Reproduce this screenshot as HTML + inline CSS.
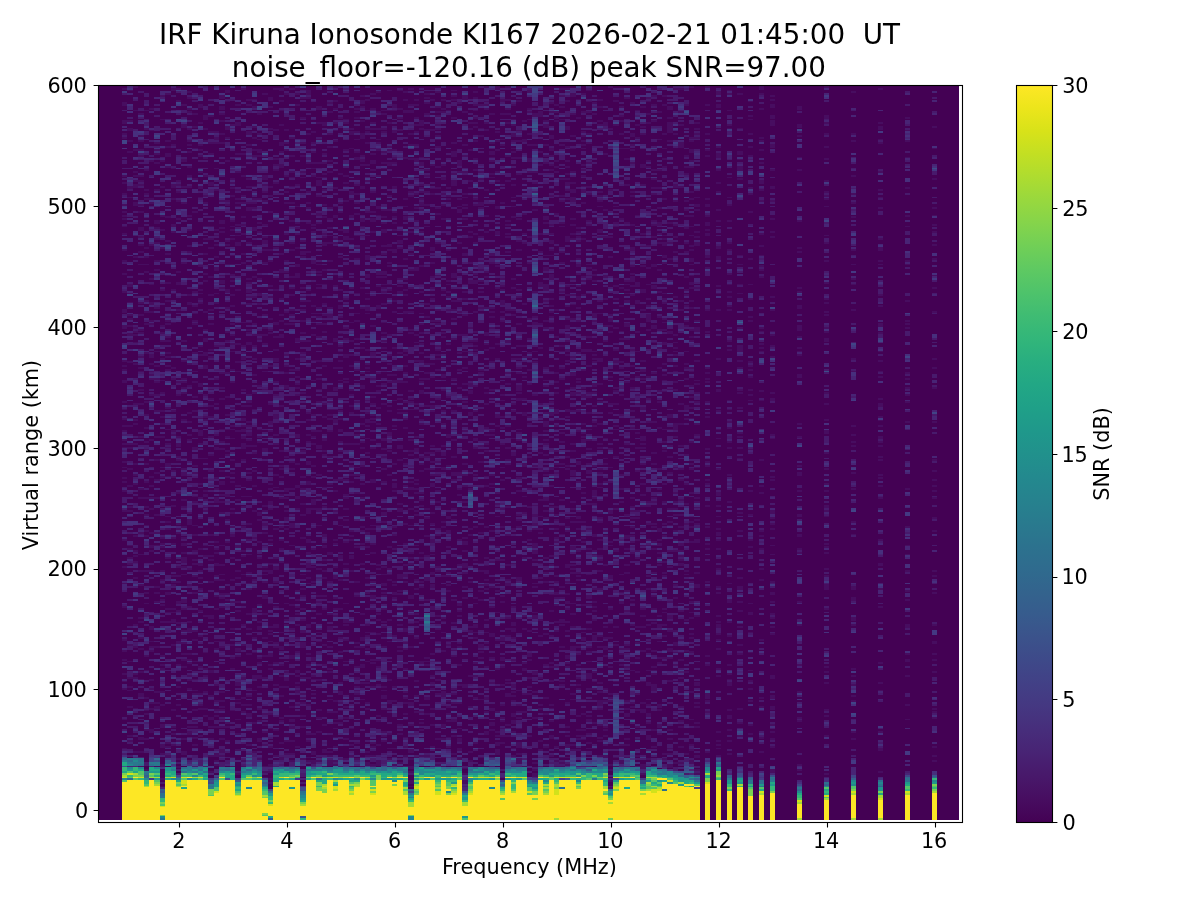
<!DOCTYPE html>
<html lang="en"><head><meta charset="utf-8"><title>IRF Kiruna Ionosonde KI167</title>
<style>html,body{margin:0;padding:0;background:#fff;overflow:hidden}svg{display:block}text{font-family:'DejaVu Sans','Liberation Sans',sans-serif;fill:#000}</style>
</head><body>
<svg width="1200" height="900" viewBox="0 0 1200 900">
<defs><linearGradient id="vg" x1="0" y1="0" x2="0" y2="1"><stop offset="0.000" stop-color="#fde725"/><stop offset="0.031" stop-color="#ece51b"/><stop offset="0.062" stop-color="#d8e219"/><stop offset="0.094" stop-color="#c2df23"/><stop offset="0.125" stop-color="#addc30"/><stop offset="0.156" stop-color="#98d83e"/><stop offset="0.188" stop-color="#84d44b"/><stop offset="0.219" stop-color="#70cf57"/><stop offset="0.250" stop-color="#5ec962"/><stop offset="0.281" stop-color="#4ec36b"/><stop offset="0.312" stop-color="#3fbc73"/><stop offset="0.344" stop-color="#32b67a"/><stop offset="0.375" stop-color="#28ae80"/><stop offset="0.406" stop-color="#22a785"/><stop offset="0.438" stop-color="#1fa088"/><stop offset="0.469" stop-color="#1f988b"/><stop offset="0.500" stop-color="#21918c"/><stop offset="0.531" stop-color="#23898e"/><stop offset="0.562" stop-color="#26828e"/><stop offset="0.594" stop-color="#297a8e"/><stop offset="0.625" stop-color="#2c728e"/><stop offset="0.656" stop-color="#2f6b8e"/><stop offset="0.688" stop-color="#33638d"/><stop offset="0.719" stop-color="#375b8d"/><stop offset="0.750" stop-color="#3b528b"/><stop offset="0.781" stop-color="#3e4989"/><stop offset="0.812" stop-color="#424086"/><stop offset="0.844" stop-color="#453781"/><stop offset="0.875" stop-color="#472d7b"/><stop offset="0.906" stop-color="#482374"/><stop offset="0.938" stop-color="#48186a"/><stop offset="0.969" stop-color="#470d60"/><stop offset="1.000" stop-color="#440154"/></linearGradient></defs>
<rect width="1200" height="900" fill="#fff"/>
<rect x="98.5" y="85.5" width="860.5" height="734.5" fill="#440154" shape-rendering="crispEdges"/>
<g shape-rendering="crispEdges" fill="none" stroke-width="1.8125">
<path stroke="#470d60" d="M608 788.4h5.4M159.8 786.5h5.4M408.2 786.5h5.4M267.8 782.9h5.4M408.2 782.9h5.4M462.2 782.9h5.4M408.2 781.1h5.4M462.2 781.1h5.4M608 781.1h5.4M159.8 779.3h5.4M267.8 779.3h5.4M262.4 777.5h5.4M532.4 775.7h5.4M235.4 773.9h5.4M462.2 773.9h5.4M532.4 773.9h5.4M640.4 773.9h5.4M694.4 773.9h5.4M824 773.9h5.2M208.4 772h5.4M262.4 772h10.8M408.2 772h5.4M769.8 772h5.2M878 772h5.2M143.6 770.2h5.4M532.4 770.2h5.4M608 770.2h5.4M694.4 770.2h5.4M769.8 770.2h5.2M797 770.2h5.2M408.2 768.4h5.4M462.2 768.4h5.4M640.4 768.4h5.4M138.2 766.6h5.4M154.4 766.6h10.8M176 766.6h5.4M230 766.6h5.4M240.8 766.6h5.4M262.4 766.6h10.8M321.8 766.6h5.4M348.8 766.6h5.4M359.6 766.6h5.4M397.4 766.6h5.4M408.2 766.6h5.4M440.6 766.6h5.4M456.8 766.6h5.4M467.6 766.6h5.4M521.6 766.6h5.4M554 766.6h10.8M591.8 766.6h5.4M613.4 766.6h5.4M629.6 766.6h5.4M640.4 766.6h10.8M667.4 766.6h5.4M159.8 764.8h5.4M213.8 764.8h5.4M267.8 764.8h5.4M327.2 764.8h10.8M365 764.8h16.2M392 764.8h5.4M435.2 764.8h5.4M564.8 764.8h5.4M608 764.8h5.4M640.4 764.8h5.4M667.4 764.8h5.4M797 764.8h5.2M311 763h5.4M327.2 763h5.4M365 763h5.4M375.8 763h5.4M397.4 763h5.4M516.2 763h5.4M532.4 763h5.4M559.4 763h5.4M618.8 763h5.4M672.8 763h10.8M689 763h5.4M213.8 761.2h5.4M240.8 761.2h5.4M289.4 761.2h5.4M305.6 761.2h16.2M327.2 761.2h10.8M375.8 761.2h5.4M467.6 761.2h5.4M516.2 761.2h5.4M554 761.2h5.4M618.8 761.2h5.4M689 761.2h5.4M932 761.2h5.2M176 759.4h5.4M257 759.4h5.4M278.6 759.4h5.4M300.2 759.4h5.4M343.4 759.4h5.4M354.2 759.4h5.4M386.6 759.4h5.4M408.2 759.4h5.4M456.8 759.4h5.4M516.2 759.4h5.4M645.8 759.4h5.4M662 759.4h5.4M165.2 757.5h5.4M230 757.5h5.4M278.6 757.5h5.4M305.6 757.5h5.4M316.4 757.5h5.4M413.6 757.5h5.4M440.6 757.5h5.4M456.8 757.5h5.4M478.4 757.5h5.4M559.4 757.5h10.8M602.6 757.5h5.4M613.4 757.5h5.4M624.2 757.5h5.4M694.4 757.5h5.4M165.2 755.7h5.4M208.4 755.7h16.2M273.2 755.7h5.4M327.2 755.7h5.4M348.8 755.7h5.4M365 755.7h10.8M402.8 755.7h5.4M419 755.7h10.8M510.8 755.7h5.4M548.6 755.7h5.4M597.2 755.7h10.8M635 755.7h5.4M694.4 755.7h5.4M715.8 755.7h5.2M932 755.7h5.2M159.8 753.9h5.4M181.4 753.9h5.4M213.8 753.9h5.4M284 753.9h10.8M311 753.9h5.4M451.4 753.9h5.4M494.6 753.9h5.4M516.2 753.9h5.4M662 753.9h10.8M683.6 753.9h5.4M726.6 753.9h5.2M132.8 752.1h10.8M181.4 752.1h5.4M219.2 752.1h5.4M251.6 752.1h5.4M311 752.1h5.4M321.8 752.1h10.8M365 752.1h5.4M408.2 752.1h5.4M467.6 752.1h5.4M494.6 752.1h5.4M564.8 752.1h5.4M705 752.1h5.2M759 752.1h5.2M219.2 750.3h5.4M235.4 750.3h5.4M321.8 750.3h5.4M408.2 750.3h5.4M456.8 750.3h5.4M494.6 750.3h5.4M537.8 750.3h5.4M570.2 750.3h10.8M689 750.3h5.4M878 750.3h5.2M122 748.5h5.4M386.6 748.5h10.8M435.2 748.5h5.4M456.8 748.5h5.4M510.8 748.5h5.4M521.6 748.5h5.4M586.4 748.5h10.8M618.8 748.5h5.4M667.4 748.5h5.4M715.8 748.5h5.2M878 748.5h5.2M159.8 746.7h10.8M267.8 746.7h5.4M294.8 746.7h5.4M332.6 746.7h5.4M370.4 746.7h5.4M402.8 746.7h5.4M429.8 746.7h5.4M446 746.7h5.4M516.2 746.7h5.4M543.2 746.7h5.4M554 746.7h5.4M564.8 746.7h5.4M651.2 746.7h5.4M678.2 746.7h5.4M769.8 746.7h5.2M932 746.7h5.2M159.8 744.9h5.4M170.6 744.9h5.4M192.2 744.9h5.4M246.2 744.9h5.4M262.4 744.9h5.4M348.8 744.9h5.4M375.8 744.9h5.4M494.6 744.9h5.4M516.2 744.9h5.4M564.8 744.9h10.8M602.6 744.9h5.4M618.8 744.9h10.8M689 744.9h5.4M715.8 744.9h5.2M165.2 743h5.4M278.6 743h5.4M354.2 743h5.4M370.4 743h5.4M473 743h5.4M494.6 743h10.8M516.2 743h5.4M586.4 743h5.4M127.4 741.2h5.4M176 741.2h5.4M224.6 741.2h5.4M257 741.2h5.4M284 741.2h10.8M305.6 741.2h5.4M381.2 741.2h5.4M392 741.2h5.4M456.8 741.2h5.4M537.8 741.2h5.4M597.2 741.2h5.4M715.8 741.2h5.2M726.6 741.2h5.2M138.2 739.4h10.8M181.4 739.4h5.4M208.4 739.4h5.4M219.2 739.4h5.4M257 739.4h5.4M343.4 739.4h5.4M435.2 739.4h10.8M456.8 739.4h5.4M521.6 739.4h5.4M554 739.4h5.4M575.6 739.4h10.8M624.2 739.4h5.4M635 739.4h5.4M645.8 739.4h5.4M667.4 739.4h5.4M769.8 739.4h5.2M851 739.4h5.2M138.2 737.6h5.4M192.2 737.6h5.4M332.6 737.6h5.4M402.8 737.6h5.4M446 737.6h5.4M473 737.6h5.4M548.6 737.6h5.4M597.2 737.6h5.4M645.8 737.6h5.4M759 737.6h5.2M127.4 735.8h5.4M197.6 735.8h5.4M381.2 735.8h5.4M451.4 735.8h5.4M494.6 735.8h16.2M527 735.8h5.4M548.6 735.8h5.4M564.8 735.8h5.4M575.6 735.8h10.8M602.6 735.8h5.4M645.8 735.8h5.4M737.4 735.8h5.2M824 735.8h5.2M170.6 734h5.4M186.8 734h5.4M235.4 734h5.4M305.6 734h10.8M386.6 734h5.4M397.4 734h5.4M483.8 734h5.4M586.4 734h5.4M656.6 734h5.4M748.2 734h5.2M149 732.2h5.4M186.8 732.2h5.4M262.4 732.2h5.4M316.4 732.2h5.4M381.2 732.2h5.4M483.8 732.2h5.4M494.6 732.2h5.4M510.8 732.2h5.4M715.8 732.2h5.2M769.8 732.2h5.2M851 732.2h5.2M878 732.2h5.2M143.6 730.4h10.8M273.2 730.4h5.4M419 730.4h5.4M489.2 730.4h5.4M575.6 730.4h10.8M602.6 730.4h5.4M618.8 730.4h5.4M635 730.4h5.4M651.2 730.4h5.4M667.4 730.4h5.4M726.6 730.4h5.2M240.8 728.5h5.4M267.8 728.5h5.4M289.4 728.5h5.4M332.6 728.5h5.4M348.8 728.5h5.4M397.4 728.5h5.4M456.8 728.5h5.4M500 728.5h5.4M516.2 728.5h5.4M618.8 728.5h5.4M159.8 726.7h5.4M170.6 726.7h5.4M186.8 726.7h10.8M208.4 726.7h21.6M289.4 726.7h5.4M300.2 726.7h5.4M440.6 726.7h5.4M537.8 726.7h5.4M564.8 726.7h5.4M602.6 726.7h5.4M635 726.7h5.4M656.6 726.7h5.4M678.2 726.7h5.4M694.4 726.7h5.4M159.8 724.9h5.4M262.4 724.9h5.4M321.8 724.9h5.4M397.4 724.9h5.4M408.2 724.9h5.4M429.8 724.9h5.4M440.6 724.9h5.4M489.2 724.9h5.4M505.4 724.9h5.4M597.2 724.9h5.4M656.6 724.9h5.4M748.2 724.9h5.2M769.8 724.9h5.2M224.6 723.1h5.4M251.6 723.1h5.4M332.6 723.1h10.8M419 723.1h5.4M489.2 723.1h5.4M510.8 723.1h5.4M591.8 723.1h5.4M645.8 723.1h5.4M694.4 723.1h5.4M737.4 723.1h5.2M192.2 721.3h5.4M257 721.3h5.4M278.6 721.3h5.4M289.4 721.3h5.4M375.8 721.3h5.4M446 721.3h10.8M500 721.3h5.4M510.8 721.3h5.4M548.6 721.3h5.4M586.4 721.3h5.4M678.2 721.3h5.4M797 721.3h5.2M122 719.5h5.4M208.4 719.5h5.4M219.2 719.5h5.4M235.4 719.5h5.4M289.4 719.5h5.4M332.6 719.5h10.8M402.8 719.5h5.4M451.4 719.5h5.4M554 719.5h5.4M586.4 719.5h5.4M689 719.5h5.4M715.8 719.5h5.2M905 719.5h5.2M208.4 717.7h5.4M278.6 717.7h5.4M316.4 717.7h5.4M343.4 717.7h5.4M500 717.7h5.4M516.2 717.7h5.4M532.4 717.7h5.4M726.6 717.7h5.2M797 717.7h5.2M932 717.7h5.2M203 715.9h5.4M213.8 715.9h5.4M246.2 715.9h5.4M300.2 715.9h5.4M375.8 715.9h5.4M510.8 715.9h5.4M575.6 715.9h5.4M586.4 715.9h5.4M624.2 715.9h5.4M645.8 715.9h5.4M726.6 715.9h5.2M824 715.9h5.2M143.6 714h5.4M246.2 714h5.4M262.4 714h10.8M402.8 714h5.4M424.4 714h5.4M446 714h5.4M510.8 714h5.4M543.2 714h5.4M581 714h5.4M624.2 714h5.4M645.8 714h5.4M678.2 714h5.4M240.8 712.2h5.4M327.2 712.2h10.8M413.6 712.2h10.8M483.8 712.2h5.4M494.6 712.2h5.4M516.2 712.2h10.8M640.4 712.2h5.4M705 712.2h5.2M932 712.2h5.2M143.6 710.4h5.4M170.6 710.4h5.4M192.2 710.4h5.4M213.8 710.4h10.8M230 710.4h5.4M316.4 710.4h5.4M338 710.4h5.4M489.2 710.4h5.4M635 710.4h10.8M656.6 710.4h5.4M726.6 710.4h5.2M824 710.4h5.2M132.8 708.6h5.4M149 708.6h10.8M197.6 708.6h10.8M257 708.6h5.4M348.8 708.6h5.4M365 708.6h5.4M381.2 708.6h5.4M429.8 708.6h5.4M489.2 708.6h5.4M537.8 708.6h5.4M548.6 708.6h5.4M597.2 708.6h5.4M624.2 708.6h5.4M737.4 708.6h5.2M769.8 708.6h5.2M932 708.6h5.2M127.4 706.8h5.4M154.4 706.8h5.4M219.2 706.8h5.4M289.4 706.8h5.4M343.4 706.8h5.4M446 706.8h5.4M467.6 706.8h5.4M629.6 706.8h5.4M656.6 706.8h5.4M678.2 706.8h5.4M694.4 706.8h5.4M759 706.8h5.2M769.8 706.8h5.2M159.8 705h5.4M176 705h5.4M197.6 705h5.4M240.8 705h10.8M294.8 705h5.4M305.6 705h5.4M408.2 705h5.4M500 705h5.4M516.2 705h5.4M537.8 705h5.4M548.6 705h5.4M597.2 705h5.4M645.8 705h5.4M656.6 705h5.4M905 705h5.2M149 703.2h10.8M235.4 703.2h5.4M300.2 703.2h5.4M338 703.2h5.4M365 703.2h5.4M386.6 703.2h5.4M402.8 703.2h10.8M451.4 703.2h10.8M564.8 703.2h5.4M597.2 703.2h5.4M629.6 703.2h5.4M640.4 703.2h5.4M694.4 703.2h5.4M213.8 701.4h10.8M332.6 701.4h5.4M386.6 701.4h10.8M446 701.4h5.4M510.8 701.4h5.4M597.2 701.4h16.2M624.2 701.4h5.4M705 701.4h5.2M748.2 701.4h5.2M851 701.4h5.2M192.2 699.5h5.4M235.4 699.5h5.4M289.4 699.5h5.4M327.2 699.5h5.4M359.6 699.5h5.4M424.4 699.5h5.4M478.4 699.5h10.8M570.2 699.5h5.4M581 699.5h5.4M629.6 699.5h5.4M645.8 699.5h5.4M143.6 697.7h5.4M240.8 697.7h5.4M300.2 697.7h5.4M381.2 697.7h5.4M402.8 697.7h5.4M424.4 697.7h5.4M473 697.7h5.4M483.8 697.7h5.4M543.2 697.7h5.4M608 697.7h5.4M705 697.7h5.2M759 697.7h5.2M769.8 697.7h5.2M138.2 695.9h5.4M208.4 695.9h5.4M246.2 695.9h5.4M278.6 695.9h5.4M381.2 695.9h5.4M413.6 695.9h5.4M440.6 695.9h5.4M505.4 695.9h10.8M705 695.9h5.2M769.8 695.9h5.2M851 695.9h5.2M138.2 694.1h5.4M192.2 694.1h10.8M300.2 694.1h5.4M311 694.1h5.4M338 694.1h5.4M354.2 694.1h5.4M435.2 694.1h10.8M451.4 694.1h5.4M505.4 694.1h5.4M521.6 694.1h10.8M570.2 694.1h5.4M608 694.1h5.4M635 694.1h5.4M705 694.1h5.2M154.4 692.3h10.8M203 692.3h5.4M219.2 692.3h5.4M294.8 692.3h5.4M338 692.3h5.4M402.8 692.3h5.4M440.6 692.3h5.4M510.8 692.3h5.4M532.4 692.3h5.4M597.2 692.3h5.4M689 692.3h5.4M797 692.3h5.2M127.4 690.5h5.4M192.2 690.5h5.4M251.6 690.5h5.4M294.8 690.5h5.4M354.2 690.5h5.4M381.2 690.5h5.4M483.8 690.5h5.4M516.2 690.5h5.4M651.2 690.5h5.4M878 690.5h5.2M122 688.7h5.4M149 688.7h5.4M186.8 688.7h5.4M246.2 688.7h5.4M429.8 688.7h5.4M451.4 688.7h5.4M575.6 688.7h5.4M586.4 688.7h10.8M602.6 688.7h5.4M651.2 688.7h5.4M748.2 688.7h5.2M127.4 686.9h5.4M176 686.9h5.4M257 686.9h5.4M278.6 686.9h10.8M294.8 686.9h5.4M354.2 686.9h5.4M370.4 686.9h5.4M381.2 686.9h5.4M392 686.9h5.4M462.2 686.9h5.4M510.8 686.9h5.4M527 686.9h5.4M651.2 686.9h5.4M213.8 685h5.4M235.4 685h5.4M273.2 685h5.4M375.8 685h5.4M456.8 685h10.8M500 685h5.4M510.8 685h5.4M559.4 685h5.4M575.6 685h5.4M645.8 685h10.8M694.4 685h5.4M726.6 685h5.2M851 685h5.2M235.4 683.2h5.4M294.8 683.2h5.4M338 683.2h5.4M359.6 683.2h10.8M429.8 683.2h5.4M489.2 683.2h5.4M505.4 683.2h5.4M597.2 683.2h5.4M645.8 683.2h5.4M694.4 683.2h5.4M726.6 683.2h5.2M824 683.2h5.2M878 683.2h5.2M122 681.4h5.4M176 681.4h5.4M300.2 681.4h5.4M413.6 681.4h5.4M548.6 681.4h5.4M559.4 681.4h5.4M591.8 681.4h5.4M613.4 681.4h5.4M640.4 681.4h5.4M667.4 681.4h5.4M748.2 681.4h5.2M138.2 679.6h5.4M149 679.6h5.4M186.8 679.6h10.8M240.8 679.6h5.4M284 679.6h5.4M311 679.6h10.8M354.2 679.6h5.4M365 679.6h5.4M386.6 679.6h5.4M435.2 679.6h5.4M489.2 679.6h5.4M505.4 679.6h5.4M726.6 679.6h5.2M127.4 677.8h10.8M240.8 677.8h5.4M251.6 677.8h16.2M284 677.8h5.4M300.2 677.8h10.8M354.2 677.8h5.4M527 677.8h5.4M537.8 677.8h5.4M575.6 677.8h5.4M586.4 677.8h5.4M678.2 677.8h5.4M769.8 677.8h5.2M186.8 676h5.4M203 676h5.4M251.6 676h10.8M278.6 676h5.4M294.8 676h5.4M311 676h5.4M381.2 676h5.4M429.8 676h5.4M467.6 676h10.8M586.4 676h5.4M715.8 676h5.2M769.8 676h5.2M851 676h5.2M905 676h5.2M122 674.2h5.4M132.8 674.2h5.4M532.4 674.2h5.4M586.4 674.2h5.4M651.2 674.2h5.4M726.6 674.2h5.2M138.2 672.4h5.4M208.4 672.4h5.4M284 672.4h5.4M294.8 672.4h5.4M327.2 672.4h5.4M532.4 672.4h5.4M591.8 672.4h5.4M624.2 672.4h5.4M635 672.4h5.4M683.6 672.4h5.4M824 672.4h5.2M932 672.4h5.2M143.6 670.5h5.4M208.4 670.5h5.4M294.8 670.5h5.4M386.6 670.5h5.4M413.6 670.5h5.4M473 670.5h5.4M521.6 670.5h5.4M618.8 670.5h5.4M629.6 670.5h5.4M645.8 670.5h10.8M748.2 670.5h5.2M159.8 668.7h5.4M203 668.7h5.4M230 668.7h5.4M267.8 668.7h5.4M327.2 668.7h5.4M402.8 668.7h5.4M494.6 668.7h5.4M521.6 668.7h5.4M715.8 668.7h5.2M851 668.7h5.2M181.4 666.9h5.4M197.6 666.9h5.4M354.2 666.9h10.8M375.8 666.9h5.4M392 666.9h5.4M483.8 666.9h5.4M500 666.9h5.4M548.6 666.9h10.8M564.8 666.9h5.4M608 666.9h5.4M624.2 666.9h5.4M651.2 666.9h5.4M824 666.9h5.2M159.8 665.1h5.4M176 665.1h5.4M267.8 665.1h5.4M278.6 665.1h5.4M305.6 665.1h5.4M321.8 665.1h5.4M359.6 665.1h5.4M424.4 665.1h5.4M456.8 665.1h5.4M543.2 665.1h5.4M575.6 665.1h5.4M618.8 665.1h5.4M672.8 665.1h5.4M705 665.1h5.2M726.6 665.1h5.2M797 665.1h5.2M186.8 663.3h5.4M257 663.3h5.4M273.2 663.3h5.4M370.4 663.3h5.4M419 663.3h5.4M473 663.3h5.4M521.6 663.3h5.4M548.6 663.3h5.4M564.8 663.3h5.4M656.6 663.3h5.4M878 663.3h5.2M127.4 661.5h5.4M192.2 661.5h5.4M240.8 661.5h5.4M343.4 661.5h5.4M365 661.5h5.4M413.6 661.5h16.2M435.2 661.5h5.4M586.4 661.5h5.4M672.8 661.5h5.4M905 661.5h5.2M122 659.7h5.4M181.4 659.7h10.8M311 659.7h5.4M370.4 659.7h10.8M500 659.7h5.4M510.8 659.7h5.4M527 659.7h5.4M624.2 659.7h5.4M678.2 659.7h5.4M905 659.7h5.2M932 659.7h5.2M230 657.9h5.4M257 657.9h5.4M289.4 657.9h5.4M311 657.9h5.4M338 657.9h5.4M424.4 657.9h5.4M478.4 657.9h5.4M489.2 657.9h5.4M500 657.9h5.4M564.8 657.9h5.4M635 657.9h5.4M656.6 657.9h16.2M143.6 656h5.4M159.8 656h5.4M235.4 656h5.4M262.4 656h10.8M289.4 656h5.4M451.4 656h5.4M527 656h5.4M564.8 656h5.4M602.6 656h5.4M705 656h5.2M181.4 654.2h10.8M246.2 654.2h5.4M267.8 654.2h5.4M305.6 654.2h5.4M429.8 654.2h5.4M527 654.2h5.4M575.6 654.2h5.4M618.8 654.2h5.4M737.4 654.2h5.2M905 654.2h5.2M932 654.2h5.2M203 652.4h5.4M251.6 652.4h5.4M294.8 652.4h5.4M338 652.4h5.4M478.4 652.4h5.4M586.4 652.4h5.4M672.8 652.4h10.8M689 652.4h5.4M748.2 652.4h5.2M122 650.6h5.4M143.6 650.6h10.8M235.4 650.6h5.4M397.4 650.6h5.4M440.6 650.6h5.4M451.4 650.6h5.4M570.2 650.6h5.4M640.4 650.6h5.4M651.2 650.6h5.4M667.4 650.6h5.4M683.6 650.6h5.4M138.2 648.8h5.4M213.8 648.8h5.4M235.4 648.8h5.4M278.6 648.8h5.4M365 648.8h5.4M402.8 648.8h5.4M570.2 648.8h5.4M602.6 648.8h5.4M618.8 648.8h10.8M645.8 648.8h5.4M667.4 648.8h5.4M715.8 648.8h5.2M132.8 647h5.4M149 647h10.8M219.2 647h5.4M273.2 647h10.8M300.2 647h5.4M327.2 647h5.4M354.2 647h10.8M381.2 647h5.4M397.4 647h5.4M408.2 647h5.4M456.8 647h5.4M478.4 647h5.4M559.4 647h5.4M570.2 647h10.8M586.4 647h5.4M597.2 647h10.8M127.4 645.2h5.4M170.6 645.2h5.4M230 645.2h5.4M240.8 645.2h5.4M300.2 645.2h5.4M321.8 645.2h5.4M365 645.2h5.4M446 645.2h5.4M478.4 645.2h5.4M581 645.2h5.4M613.4 645.2h5.4M624.2 645.2h5.4M672.8 645.2h5.4M737.4 645.2h5.2M176 643.4h10.8M273.2 643.4h5.4M300.2 643.4h5.4M354.2 643.4h5.4M402.8 643.4h5.4M456.8 643.4h5.4M483.8 643.4h5.4M635 643.4h5.4M672.8 643.4h5.4M932 643.4h5.2M149 641.5h5.4M176 641.5h5.4M213.8 641.5h10.8M267.8 641.5h5.4M316.4 641.5h5.4M348.8 641.5h5.4M386.6 641.5h5.4M435.2 641.5h5.4M446 641.5h5.4M645.8 641.5h5.4M656.6 641.5h5.4M932 641.5h5.2M122 639.7h5.4M192.2 639.7h5.4M343.4 639.7h5.4M359.6 639.7h5.4M494.6 639.7h10.8M581 639.7h5.4M591.8 639.7h5.4M678.2 639.7h5.4M715.8 639.7h5.2M759 639.7h5.2M138.2 637.9h5.4M251.6 637.9h5.4M262.4 637.9h5.4M294.8 637.9h5.4M338 637.9h5.4M359.6 637.9h5.4M413.6 637.9h5.4M473 637.9h5.4M500 637.9h5.4M510.8 637.9h5.4M581 637.9h5.4M591.8 637.9h5.4M602.6 637.9h10.8M689 637.9h5.4M197.6 636.1h5.4M311 636.1h5.4M365 636.1h5.4M392 636.1h5.4M489.2 636.1h5.4M505.4 636.1h5.4M537.8 636.1h5.4M548.6 636.1h5.4M591.8 636.1h10.8M662 636.1h5.4M726.6 636.1h5.2M267.8 634.3h5.4M375.8 634.3h5.4M408.2 634.3h5.4M489.2 634.3h5.4M543.2 634.3h5.4M689 634.3h5.4M715.8 634.3h5.2M769.8 634.3h5.2M127.4 632.5h5.4M170.6 632.5h5.4M278.6 632.5h5.4M300.2 632.5h5.4M316.4 632.5h5.4M365 632.5h10.8M440.6 632.5h5.4M467.6 632.5h10.8M483.8 632.5h5.4M581 632.5h5.4M591.8 632.5h5.4M748.2 632.5h5.2M181.4 630.7h16.2M267.8 630.7h5.4M300.2 630.7h5.4M402.8 630.7h5.4M467.6 630.7h5.4M510.8 630.7h5.4M527 630.7h5.4M554 630.7h5.4M564.8 630.7h5.4M667.4 630.7h10.8M149 628.9h5.4M186.8 628.9h5.4M230 628.9h5.4M246.2 628.9h5.4M257 628.9h5.4M289.4 628.9h5.4M327.2 628.9h5.4M402.8 628.9h5.4M435.2 628.9h5.4M505.4 628.9h10.8M521.6 628.9h5.4M586.4 628.9h5.4M149 627h5.4M176 627h5.4M257 627h5.4M267.8 627h10.8M305.6 627h5.4M327.2 627h5.4M381.2 627h5.4M467.6 627h10.8M570.2 627h5.4M602.6 627h5.4M613.4 627h5.4M635 627h10.8M656.6 627h5.4M715.8 627h5.2M737.4 627h5.2M769.8 627h5.2M905 627h5.2M132.8 625.2h5.4M240.8 625.2h5.4M273.2 625.2h5.4M284 625.2h5.4M294.8 625.2h5.4M305.6 625.2h5.4M343.4 625.2h5.4M365 625.2h5.4M397.4 625.2h5.4M473 625.2h5.4M510.8 625.2h5.4M559.4 625.2h5.4M629.6 625.2h5.4M645.8 625.2h5.4M656.6 625.2h10.8M715.8 625.2h5.2M797 625.2h5.2M851 625.2h5.2M905 625.2h5.2M932 625.2h5.2M176 623.4h5.4M408.2 623.4h5.4M451.4 623.4h5.4M500 623.4h5.4M510.8 623.4h5.4M586.4 623.4h5.4M608 623.4h5.4M624.2 623.4h5.4M651.2 623.4h5.4M138.2 621.6h5.4M159.8 621.6h16.2M186.8 621.6h5.4M257 621.6h5.4M343.4 621.6h10.8M381.2 621.6h5.4M413.6 621.6h5.4M440.6 621.6h5.4M554 621.6h16.2M715.8 621.6h5.2M726.6 621.6h5.2M170.6 619.8h5.4M284 619.8h5.4M300.2 619.8h5.4M343.4 619.8h5.4M375.8 619.8h5.4M386.6 619.8h5.4M419 619.8h5.4M483.8 619.8h5.4M537.8 619.8h5.4M559.4 619.8h5.4M591.8 619.8h5.4M683.6 619.8h5.4M851 619.8h5.2M138.2 618h5.4M208.4 618h5.4M251.6 618h5.4M440.6 618h5.4M505.4 618h5.4M532.4 618h5.4M667.4 618h5.4M689 618h5.4M769.8 618h5.2M851 618h5.2M203 616.2h10.8M332.6 616.2h5.4M435.2 616.2h5.4M456.8 616.2h5.4M521.6 616.2h5.4M532.4 616.2h5.4M640.4 616.2h5.4M656.6 616.2h5.4M667.4 616.2h5.4M694.4 616.2h5.4M715.8 616.2h5.2M246.2 614.4h5.4M262.4 614.4h5.4M294.8 614.4h5.4M316.4 614.4h5.4M327.2 614.4h5.4M359.6 614.4h5.4M375.8 614.4h5.4M413.6 614.4h5.4M570.2 614.4h5.4M748.2 614.4h5.2M769.8 614.4h5.2M165.2 612.5h10.8M251.6 612.5h5.4M494.6 612.5h5.4M532.4 612.5h5.4M629.6 612.5h5.4M662 612.5h5.4M689 612.5h5.4M748.2 612.5h5.2M176 610.7h5.4M197.6 610.7h5.4M235.4 610.7h5.4M251.6 610.7h5.4M408.2 610.7h5.4M456.8 610.7h5.4M548.6 610.7h5.4M591.8 610.7h5.4M624.2 610.7h5.4M678.2 610.7h5.4M737.4 610.7h5.2M165.2 608.9h10.8M181.4 608.9h5.4M213.8 608.9h5.4M251.6 608.9h5.4M300.2 608.9h5.4M321.8 608.9h5.4M332.6 608.9h10.8M370.4 608.9h5.4M381.2 608.9h5.4M429.8 608.9h5.4M564.8 608.9h5.4M608 608.9h5.4M640.4 608.9h5.4M651.2 608.9h5.4M662 608.9h5.4M824 608.9h5.2M122 607.1h5.4M186.8 607.1h5.4M219.2 607.1h5.4M273.2 607.1h5.4M294.8 607.1h5.4M397.4 607.1h5.4M429.8 607.1h5.4M489.2 607.1h5.4M510.8 607.1h5.4M591.8 607.1h5.4M878 607.1h5.2M159.8 605.3h5.4M257 605.3h5.4M289.4 605.3h5.4M456.8 605.3h5.4M554 605.3h5.4M581 605.3h10.8M143.6 603.5h5.4M176 603.5h5.4M240.8 603.5h5.4M267.8 603.5h5.4M284 603.5h5.4M311 603.5h5.4M343.4 603.5h5.4M456.8 603.5h5.4M473 603.5h5.4M489.2 603.5h5.4M564.8 603.5h10.8M618.8 603.5h5.4M629.6 603.5h5.4M748.2 603.5h5.2M154.4 601.7h5.4M176 601.7h10.8M230 601.7h10.8M316.4 601.7h5.4M500 601.7h5.4M564.8 601.7h5.4M591.8 601.7h5.4M618.8 601.7h5.4M667.4 601.7h5.4M689 601.7h5.4M726.6 601.7h5.2M737.4 601.7h5.2M769.8 601.7h5.2M797 601.7h5.2M159.8 599.9h5.4M181.4 599.9h5.4M224.6 599.9h5.4M294.8 599.9h5.4M424.4 599.9h5.4M451.4 599.9h5.4M478.4 599.9h5.4M489.2 599.9h5.4M629.6 599.9h5.4M726.6 599.9h5.2M851 599.9h5.2M905 599.9h5.2M219.2 598h5.4M262.4 598h5.4M332.6 598h5.4M370.4 598h5.4M392 598h5.4M408.2 598h5.4M462.2 598h5.4M473 598h5.4M554 598h10.8M586.4 598h5.4M672.8 598h5.4M851 598h5.2M213.8 596.2h5.4M262.4 596.2h5.4M300.2 596.2h5.4M316.4 596.2h10.8M354.2 596.2h5.4M370.4 596.2h5.4M381.2 596.2h5.4M408.2 596.2h5.4M440.6 596.2h5.4M500 596.2h5.4M586.4 596.2h5.4M651.2 596.2h5.4M165.2 594.4h5.4M219.2 594.4h10.8M294.8 594.4h5.4M392 594.4h10.8M537.8 594.4h5.4M548.6 594.4h21.6M624.2 594.4h5.4M769.8 594.4h5.2M143.6 592.6h5.4M154.4 592.6h5.4M165.2 592.6h5.4M192.2 592.6h5.4M354.2 592.6h5.4M365 592.6h5.4M381.2 592.6h5.4M392 592.6h5.4M554 592.6h5.4M618.8 592.6h5.4M715.8 592.6h5.2M769.8 592.6h5.2M932 592.6h5.2M294.8 590.8h5.4M397.4 590.8h5.4M446 590.8h5.4M478.4 590.8h5.4M494.6 590.8h5.4M624.2 590.8h5.4M651.2 590.8h5.4M905 590.8h5.2M197.6 589h5.4M219.2 589h5.4M246.2 589h5.4M300.2 589h5.4M370.4 589h5.4M413.6 589h5.4M483.8 589h5.4M548.6 589h5.4M591.8 589h10.8M645.8 589h5.4M737.4 589h5.2M824 589h5.2M851 589h5.2M878 589h5.2M154.4 587.2h5.4M419 587.2h5.4M429.8 587.2h5.4M462.2 587.2h5.4M489.2 587.2h5.4M532.4 587.2h5.4M559.4 587.2h5.4M694.4 587.2h5.4M705 587.2h5.2M715.8 587.2h5.2M737.4 587.2h5.2M824 587.2h5.2M851 587.2h5.2M138.2 585.4h5.4M170.6 585.4h5.4M186.8 585.4h5.4M311 585.4h5.4M381.2 585.4h5.4M392 585.4h5.4M429.8 585.4h5.4M446 585.4h5.4M478.4 585.4h10.8M505.4 585.4h5.4M672.8 585.4h5.4M694.4 585.4h5.4M824 585.4h5.2M122 583.5h5.4M159.8 583.5h5.4M246.2 583.5h10.8M305.6 583.5h5.4M332.6 583.5h5.4M365 583.5h5.4M381.2 583.5h5.4M489.2 583.5h5.4M505.4 583.5h5.4M532.4 583.5h10.8M602.6 583.5h10.8M726.6 583.5h5.2M170.6 581.7h10.8M208.4 581.7h5.4M262.4 581.7h5.4M273.2 581.7h5.4M311 581.7h5.4M327.2 581.7h5.4M354.2 581.7h5.4M370.4 581.7h5.4M392 581.7h5.4M402.8 581.7h5.4M419 581.7h5.4M467.6 581.7h5.4M543.2 581.7h5.4M554 581.7h5.4M564.8 581.7h5.4M689 581.7h5.4M705 581.7h5.2M769.8 581.7h5.2M159.8 579.9h5.4M213.8 579.9h10.8M230 579.9h5.4M251.6 579.9h5.4M338 579.9h5.4M386.6 579.9h5.4M413.6 579.9h5.4M424.4 579.9h5.4M483.8 579.9h5.4M505.4 579.9h5.4M516.2 579.9h5.4M575.6 579.9h5.4M759 579.9h5.2M132.8 578.1h5.4M197.6 578.1h5.4M235.4 578.1h5.4M305.6 578.1h5.4M321.8 578.1h5.4M332.6 578.1h5.4M365 578.1h5.4M397.4 578.1h5.4M424.4 578.1h5.4M516.2 578.1h5.4M537.8 578.1h5.4M564.8 578.1h5.4M608 578.1h5.4M737.4 578.1h5.2M170.6 576.3h10.8M192.2 576.3h5.4M213.8 576.3h5.4M246.2 576.3h5.4M257 576.3h5.4M332.6 576.3h5.4M397.4 576.3h10.8M440.6 576.3h10.8M554 576.3h5.4M575.6 576.3h5.4M608 576.3h5.4M645.8 576.3h5.4M662 576.3h5.4M824 576.3h5.2M932 576.3h5.2M181.4 574.5h5.4M219.2 574.5h5.4M240.8 574.5h5.4M262.4 574.5h5.4M300.2 574.5h5.4M381.2 574.5h10.8M397.4 574.5h10.8M429.8 574.5h5.4M586.4 574.5h5.4M618.8 574.5h5.4M683.6 574.5h5.4M726.6 574.5h5.2M246.2 572.7h5.4M267.8 572.7h5.4M429.8 572.7h5.4M446 572.7h5.4M462.2 572.7h5.4M483.8 572.7h5.4M543.2 572.7h5.4M570.2 572.7h10.8M624.2 572.7h5.4M651.2 572.7h5.4M662 572.7h5.4M694.4 572.7h5.4M138.2 570.9h16.2M159.8 570.9h5.4M197.6 570.9h5.4M235.4 570.9h5.4M262.4 570.9h10.8M321.8 570.9h5.4M348.8 570.9h5.4M435.2 570.9h5.4M478.4 570.9h10.8M597.2 570.9h5.4M683.6 570.9h5.4M905 570.9h5.2M932 570.9h5.2M186.8 569h5.4M273.2 569h5.4M316.4 569h5.4M343.4 569h5.4M375.8 569h5.4M386.6 569h5.4M456.8 569h5.4M500 569h5.4M548.6 569h5.4M570.2 569h5.4M715.8 569h5.2M759 569h5.2M824 569h5.2M122 567.2h5.4M176 567.2h10.8M262.4 567.2h5.4M273.2 567.2h5.4M305.6 567.2h10.8M332.6 567.2h5.4M381.2 567.2h5.4M435.2 567.2h5.4M462.2 567.2h5.4M564.8 567.2h5.4M667.4 567.2h5.4M197.6 565.4h5.4M213.8 565.4h10.8M305.6 565.4h5.4M375.8 565.4h5.4M402.8 565.4h5.4M456.8 565.4h10.8M483.8 565.4h5.4M505.4 565.4h5.4M548.6 565.4h5.4M564.8 565.4h10.8M602.6 565.4h5.4M624.2 565.4h5.4M656.6 565.4h5.4M678.2 565.4h5.4M878 565.4h5.2M127.4 563.6h5.4M192.2 563.6h10.8M213.8 563.6h5.4M267.8 563.6h10.8M284 563.6h5.4M305.6 563.6h5.4M316.4 563.6h5.4M343.4 563.6h5.4M359.6 563.6h5.4M408.2 563.6h5.4M462.2 563.6h5.4M478.4 563.6h5.4M510.8 563.6h5.4M537.8 563.6h5.4M678.2 563.6h5.4M878 563.6h5.2M132.8 561.8h5.4M181.4 561.8h5.4M278.6 561.8h5.4M489.2 561.8h5.4M591.8 561.8h5.4M662 561.8h5.4M181.4 560h5.4M192.2 560h5.4M208.4 560h5.4M321.8 560h5.4M413.6 560h5.4M473 560h5.4M494.6 560h10.8M532.4 560h5.4M597.2 560h5.4M678.2 560h5.4M127.4 558.2h5.4M165.2 558.2h5.4M181.4 558.2h5.4M230 558.2h5.4M257 558.2h5.4M273.2 558.2h5.4M338 558.2h5.4M348.8 558.2h5.4M408.2 558.2h5.4M419 558.2h5.4M483.8 558.2h5.4M521.6 558.2h5.4M543.2 558.2h5.4M613.4 558.2h5.4M635 558.2h5.4M656.6 558.2h5.4M132.8 556.4h5.4M203 556.4h10.8M240.8 556.4h5.4M316.4 556.4h5.4M338 556.4h5.4M348.8 556.4h5.4M424.4 556.4h5.4M548.6 556.4h5.4M597.2 556.4h5.4M678.2 556.4h5.4M138.2 554.5h5.4M176 554.5h5.4M186.8 554.5h10.8M246.2 554.5h5.4M289.4 554.5h5.4M305.6 554.5h5.4M327.2 554.5h5.4M429.8 554.5h5.4M516.2 554.5h5.4M575.6 554.5h5.4M591.8 554.5h5.4M608 554.5h5.4M769.8 554.5h5.2M905 554.5h5.2M181.4 552.7h5.4M213.8 552.7h5.4M305.6 552.7h5.4M327.2 552.7h5.4M370.4 552.7h5.4M408.2 552.7h5.4M419 552.7h5.4M532.4 552.7h5.4M629.6 552.7h5.4M656.6 552.7h5.4M797 552.7h5.2M824 552.7h5.2M132.8 550.9h5.4M149 550.9h5.4M192.2 550.9h5.4M240.8 550.9h5.4M462.2 550.9h5.4M532.4 550.9h5.4M554 550.9h5.4M575.6 550.9h5.4M591.8 550.9h5.4M613.4 550.9h5.4M635 550.9h5.4M667.4 550.9h16.2M127.4 549.1h5.4M197.6 549.1h5.4M213.8 549.1h5.4M278.6 549.1h5.4M294.8 549.1h5.4M311 549.1h5.4M392 549.1h5.4M402.8 549.1h5.4M570.2 549.1h5.4M586.4 549.1h5.4M597.2 549.1h5.4M624.2 549.1h5.4M651.2 549.1h5.4M705 549.1h5.2M715.8 549.1h5.2M759 549.1h5.2M797 549.1h5.2M149 547.3h5.4M159.8 547.3h5.4M235.4 547.3h5.4M321.8 547.3h5.4M354.2 547.3h5.4M365 547.3h5.4M386.6 547.3h5.4M446 547.3h5.4M494.6 547.3h5.4M532.4 547.3h5.4M570.2 547.3h5.4M748.2 547.3h5.2M824 547.3h5.2M127.4 545.5h5.4M149 545.5h10.8M181.4 545.5h5.4M203 545.5h5.4M219.2 545.5h5.4M235.4 545.5h5.4M262.4 545.5h5.4M289.4 545.5h5.4M321.8 545.5h5.4M413.6 545.5h5.4M532.4 545.5h5.4M554 545.5h5.4M608 545.5h5.4M618.8 545.5h5.4M640.4 545.5h21.6M678.2 545.5h5.4M769.8 545.5h5.2M905 545.5h5.2M159.8 543.7h5.4M170.6 543.7h5.4M181.4 543.7h5.4M267.8 543.7h5.4M332.6 543.7h5.4M359.6 543.7h5.4M370.4 543.7h5.4M402.8 543.7h5.4M462.2 543.7h5.4M532.4 543.7h5.4M656.6 543.7h5.4M678.2 543.7h5.4M705 543.7h5.2M824 543.7h5.2M213.8 541.9h5.4M224.6 541.9h5.4M240.8 541.9h5.4M257 541.9h5.4M305.6 541.9h5.4M343.4 541.9h5.4M429.8 541.9h5.4M462.2 541.9h5.4M554 541.9h5.4M581 541.9h5.4M608 541.9h5.4M629.6 541.9h5.4M651.2 541.9h5.4M689 541.9h10.8M122 540h5.4M246.2 540h5.4M267.8 540h5.4M278.6 540h5.4M305.6 540h5.4M332.6 540h5.4M348.8 540h5.4M429.8 540h5.4M456.8 540h5.4M527 540h5.4M597.2 540h5.4M635 540h5.4M645.8 540h5.4M656.6 540h5.4M672.8 540h5.4M694.4 540h5.4M715.8 540h5.2M748.2 540h5.2M878 540h5.2M159.8 538.2h5.4M170.6 538.2h5.4M181.4 538.2h5.4M251.6 538.2h5.4M300.2 538.2h5.4M462.2 538.2h5.4M554 538.2h5.4M581 538.2h5.4M624.2 538.2h5.4M132.8 536.4h5.4M143.6 536.4h5.4M230 536.4h5.4M321.8 536.4h5.4M348.8 536.4h5.4M424.4 536.4h5.4M591.8 536.4h5.4M602.6 536.4h5.4M624.2 536.4h10.8M662 536.4h5.4M759 536.4h5.2M797 536.4h5.2M905 536.4h5.2M165.2 534.6h5.4M192.2 534.6h5.4M208.4 534.6h5.4M230 534.6h5.4M321.8 534.6h5.4M365 534.6h5.4M392 534.6h5.4M435.2 534.6h5.4M467.6 534.6h5.4M505.4 534.6h5.4M559.4 534.6h5.4M591.8 534.6h5.4M715.8 534.6h5.2M797 534.6h5.2M851 534.6h5.2M138.2 532.8h5.4M149 532.8h10.8M176 532.8h5.4M262.4 532.8h5.4M365 532.8h5.4M446 532.8h5.4M478.4 532.8h5.4M537.8 532.8h5.4M715.8 532.8h5.2M143.6 531h5.4M348.8 531h5.4M359.6 531h5.4M446 531h5.4M489.2 531h5.4M505.4 531h5.4M527 531h5.4M564.8 531h5.4M581 531h5.4M602.6 531h5.4M656.6 531h5.4M672.8 531h5.4M737.4 531h5.2M759 531h5.2M932 531h5.2M165.2 529.2h5.4M176 529.2h5.4M273.2 529.2h5.4M284 529.2h5.4M365 529.2h10.8M435.2 529.2h5.4M467.6 529.2h5.4M494.6 529.2h5.4M510.8 529.2h5.4M532.4 529.2h10.8M554 529.2h5.4M575.6 529.2h5.4M586.4 529.2h5.4M656.6 529.2h5.4M715.8 529.2h5.2M769.8 529.2h5.2M181.4 527.4h5.4M230 527.4h5.4M240.8 527.4h5.4M278.6 527.4h5.4M289.4 527.4h5.4M359.6 527.4h5.4M392 527.4h5.4M419 527.4h5.4M440.6 527.4h5.4M473 527.4h5.4M483.8 527.4h5.4M500 527.4h5.4M516.2 527.4h5.4M564.8 527.4h5.4M629.6 527.4h5.4M651.2 527.4h5.4M678.2 527.4h5.4M689 527.4h5.4M705 527.4h5.2M905 527.4h5.2M143.6 525.5h5.4M192.2 525.5h5.4M203 525.5h5.4M262.4 525.5h5.4M289.4 525.5h5.4M316.4 525.5h5.4M338 525.5h5.4M370.4 525.5h10.8M408.2 525.5h5.4M527 525.5h16.2M559.4 525.5h5.4M581 525.5h5.4M667.4 525.5h5.4M797 525.5h5.2M176 523.7h5.4M186.8 523.7h5.4M246.2 523.7h5.4M262.4 523.7h5.4M278.6 523.7h5.4M289.4 523.7h5.4M402.8 523.7h5.4M429.8 523.7h5.4M532.4 523.7h5.4M645.8 523.7h10.8M662 523.7h5.4M683.6 523.7h5.4M694.4 523.7h5.4M769.8 523.7h5.2M165.2 521.9h5.4M186.8 521.9h5.4M381.2 521.9h5.4M440.6 521.9h5.4M570.2 521.9h16.2M597.2 521.9h5.4M667.4 521.9h5.4M689 521.9h5.4M851 521.9h5.2M186.8 520.1h5.4M224.6 520.1h5.4M257 520.1h5.4M284 520.1h5.4M343.4 520.1h5.4M451.4 520.1h5.4M516.2 520.1h5.4M554 520.1h5.4M694.4 520.1h5.4M284 518.3h5.4M424.4 518.3h5.4M446 518.3h5.4M543.2 518.3h5.4M564.8 518.3h5.4M575.6 518.3h5.4M597.2 518.3h5.4M629.6 518.3h10.8M769.8 518.3h5.2M932 518.3h5.2M165.2 516.5h5.4M289.4 516.5h5.4M338 516.5h5.4M359.6 516.5h10.8M446 516.5h5.4M494.6 516.5h5.4M532.4 516.5h10.8M575.6 516.5h5.4M715.8 516.5h5.2M797 516.5h5.2M824 516.5h5.2M143.6 514.7h5.4M154.4 514.7h5.4M257 514.7h5.4M300.2 514.7h5.4M381.2 514.7h5.4M413.6 514.7h5.4M516.2 514.7h5.4M532.4 514.7h5.4M554 514.7h5.4M624.2 514.7h5.4M672.8 514.7h10.8M748.2 514.7h5.2M797 514.7h5.2M186.8 512.9h5.4M219.2 512.9h5.4M230 512.9h5.4M257 512.9h5.4M305.6 512.9h5.4M381.2 512.9h5.4M429.8 512.9h5.4M521.6 512.9h5.4M548.6 512.9h5.4M597.2 512.9h5.4M608 512.9h5.4M737.4 512.9h5.2M769.8 512.9h5.2M122 511h10.8M203 511h5.4M251.6 511h5.4M262.4 511h5.4M284 511h5.4M305.6 511h5.4M316.4 511h5.4M332.6 511h5.4M397.4 511h5.4M413.6 511h5.4M543.2 511h5.4M608 511h5.4M629.6 511h10.8M769.8 511h5.2M824 511h5.2M149 509.2h5.4M230 509.2h5.4M267.8 509.2h5.4M294.8 509.2h5.4M305.6 509.2h16.2M343.4 509.2h5.4M397.4 509.2h5.4M408.2 509.2h5.4M424.4 509.2h5.4M451.4 509.2h5.4M500 509.2h5.4M570.2 509.2h5.4M613.4 509.2h5.4M667.4 509.2h10.8M127.4 507.4h5.4M143.6 507.4h5.4M181.4 507.4h5.4M203 507.4h5.4M240.8 507.4h5.4M321.8 507.4h5.4M365 507.4h5.4M478.4 507.4h5.4M505.4 507.4h5.4M527 507.4h5.4M548.6 507.4h10.8M629.6 507.4h5.4M694.4 507.4h5.4M748.2 507.4h5.2M824 507.4h5.2M170.6 505.6h5.4M262.4 505.6h5.4M284 505.6h5.4M419 505.6h5.4M532.4 505.6h5.4M640.4 505.6h10.8M705 505.6h5.2M715.8 505.6h5.2M824 505.6h5.2M267.8 503.8h5.4M300.2 503.8h5.4M311 503.8h5.4M397.4 503.8h5.4M494.6 503.8h5.4M586.4 503.8h10.8M683.6 503.8h5.4M192.2 502h5.4M213.8 502h10.8M267.8 502h5.4M311 502h5.4M435.2 502h5.4M462.2 502h5.4M570.2 502h5.4M618.8 502h5.4M645.8 502h10.8M662 502h5.4M672.8 502h5.4M694.4 502h5.4M726.6 502h5.2M181.4 500.2h5.4M203 500.2h5.4M213.8 500.2h5.4M235.4 500.2h5.4M311 500.2h5.4M419 500.2h5.4M537.8 500.2h10.8M559.4 500.2h5.4M678.2 500.2h5.4M138.2 498.4h21.6M197.6 498.4h5.4M213.8 498.4h5.4M278.6 498.4h10.8M294.8 498.4h5.4M343.4 498.4h5.4M359.6 498.4h5.4M543.2 498.4h5.4M591.8 498.4h5.4M629.6 498.4h5.4M651.2 498.4h5.4M694.4 498.4h5.4M878 498.4h5.2M932 498.4h5.2M192.2 496.5h5.4M203 496.5h5.4M224.6 496.5h5.4M240.8 496.5h10.8M294.8 496.5h5.4M316.4 496.5h5.4M365 496.5h5.4M392 496.5h5.4M408.2 496.5h5.4M473 496.5h5.4M521.6 496.5h5.4M602.6 496.5h5.4M683.6 496.5h5.4M203 494.7h5.4M219.2 494.7h10.8M278.6 494.7h5.4M343.4 494.7h5.4M456.8 494.7h5.4M591.8 494.7h5.4M640.4 494.7h5.4M715.8 494.7h5.2M176 492.9h5.4M354.2 492.9h5.4M413.6 492.9h10.8M494.6 492.9h5.4M581 492.9h5.4M591.8 492.9h5.4M672.8 492.9h5.4M689 492.9h5.4M715.8 492.9h5.2M759 492.9h5.2M122 491.1h5.4M203 491.1h5.4M284 491.1h5.4M332.6 491.1h5.4M392 491.1h5.4M435.2 491.1h5.4M516.2 491.1h5.4M591.8 491.1h5.4M748.2 491.1h5.2M797 491.1h5.2M824 491.1h5.2M932 491.1h5.2M138.2 489.3h5.4M213.8 489.3h5.4M267.8 489.3h5.4M284 489.3h10.8M300.2 489.3h5.4M402.8 489.3h16.2M456.8 489.3h5.4M467.6 489.3h5.4M527 489.3h5.4M618.8 489.3h5.4M656.6 489.3h5.4M851 489.3h5.2M905 489.3h5.2M273.2 487.5h5.4M294.8 487.5h5.4M321.8 487.5h5.4M348.8 487.5h5.4M392 487.5h5.4M408.2 487.5h5.4M478.4 487.5h5.4M489.2 487.5h5.4M532.4 487.5h10.8M597.2 487.5h5.4M127.4 485.7h5.4M149 485.7h5.4M235.4 485.7h5.4M251.6 485.7h5.4M294.8 485.7h5.4M392 485.7h5.4M402.8 485.7h5.4M429.8 485.7h5.4M462.2 485.7h5.4M483.8 485.7h5.4M548.6 485.7h5.4M759 485.7h5.2M878 485.7h5.2M932 485.7h5.2M132.8 483.9h5.4M197.6 483.9h5.4M219.2 483.9h5.4M267.8 483.9h5.4M305.6 483.9h5.4M327.2 483.9h5.4M359.6 483.9h5.4M392 483.9h5.4M413.6 483.9h5.4M429.8 483.9h5.4M489.2 483.9h5.4M597.2 483.9h5.4M640.4 483.9h5.4M662 483.9h5.4M683.6 483.9h5.4M705 483.9h5.2M824 483.9h5.2M122 482h5.4M143.6 482h5.4M181.4 482h5.4M219.2 482h5.4M230 482h5.4M305.6 482h5.4M348.8 482h5.4M370.4 482h5.4M381.2 482h5.4M408.2 482h5.4M575.6 482h5.4M602.6 482h10.8M154.4 480.2h5.4M246.2 480.2h5.4M332.6 480.2h16.2M370.4 480.2h5.4M402.8 480.2h5.4M413.6 480.2h5.4M451.4 480.2h5.4M500 480.2h5.4M678.2 480.2h5.4M705 480.2h5.2M769.8 480.2h5.2M932 480.2h5.2M122 478.4h5.4M203 478.4h5.4M213.8 478.4h5.4M440.6 478.4h5.4M456.8 478.4h5.4M516.2 478.4h5.4M683.6 478.4h5.4M878 478.4h5.2M149 476.6h5.4M159.8 476.6h16.2M224.6 476.6h5.4M257 476.6h5.4M278.6 476.6h5.4M300.2 476.6h5.4M311 476.6h5.4M483.8 476.6h5.4M656.6 476.6h5.4M769.8 476.6h5.2M132.8 474.8h5.4M181.4 474.8h5.4M273.2 474.8h5.4M316.4 474.8h5.4M348.8 474.8h10.8M386.6 474.8h5.4M429.8 474.8h10.8M451.4 474.8h16.2M473 474.8h5.4M489.2 474.8h5.4M543.2 474.8h5.4M570.2 474.8h5.4M618.8 474.8h5.4M726.6 474.8h5.2M797 474.8h5.2M878 474.8h5.2M154.4 473h5.4M181.4 473h5.4M192.2 473h5.4M230 473h5.4M246.2 473h5.4M451.4 473h10.8M554 473h5.4M570.2 473h5.4M586.4 473h5.4M597.2 473h5.4M667.4 473h5.4M797 473h5.2M851 473h5.2M170.6 471.2h5.4M208.4 471.2h5.4M219.2 471.2h5.4M251.6 471.2h5.4M267.8 471.2h5.4M419 471.2h5.4M543.2 471.2h5.4M570.2 471.2h5.4M586.4 471.2h5.4M635 471.2h5.4M932 471.2h5.2M127.4 469.4h5.4M181.4 469.4h5.4M278.6 469.4h5.4M289.4 469.4h5.4M381.2 469.4h5.4M408.2 469.4h5.4M424.4 469.4h10.8M440.6 469.4h5.4M537.8 469.4h5.4M548.6 469.4h5.4M564.8 469.4h5.4M597.2 469.4h5.4M656.6 469.4h5.4M678.2 469.4h5.4M689 469.4h5.4M715.8 469.4h5.2M824 469.4h5.2M122 467.5h5.4M159.8 467.5h5.4M354.2 467.5h5.4M386.6 467.5h5.4M440.6 467.5h5.4M483.8 467.5h5.4M500 467.5h5.4M548.6 467.5h10.8M608 467.5h5.4M672.8 467.5h5.4M694.4 467.5h5.4M165.2 465.7h5.4M192.2 465.7h5.4M278.6 465.7h5.4M311 465.7h5.4M348.8 465.7h5.4M359.6 465.7h5.4M446 465.7h5.4M521.6 465.7h5.4M532.4 465.7h5.4M564.8 465.7h5.4M591.8 465.7h5.4M705 465.7h5.2M797 465.7h5.2M132.8 463.9h5.4M143.6 463.9h5.4M165.2 463.9h5.4M294.8 463.9h5.4M305.6 463.9h5.4M392 463.9h5.4M402.8 463.9h5.4M419 463.9h5.4M462.2 463.9h5.4M505.4 463.9h5.4M521.6 463.9h5.4M554 463.9h10.8M575.6 463.9h5.4M586.4 463.9h5.4M602.6 463.9h5.4M640.4 463.9h5.4M651.2 463.9h5.4M689 463.9h5.4M122 462.1h5.4M289.4 462.1h5.4M305.6 462.1h5.4M429.8 462.1h10.8M478.4 462.1h5.4M575.6 462.1h5.4M705 462.1h5.2M154.4 460.3h5.4M176 460.3h5.4M230 460.3h5.4M240.8 460.3h5.4M327.2 460.3h5.4M397.4 460.3h5.4M505.4 460.3h5.4M759 460.3h5.2M878 460.3h5.2M932 460.3h5.2M181.4 458.5h5.4M197.6 458.5h10.8M289.4 458.5h5.4M413.6 458.5h5.4M570.2 458.5h5.4M581 458.5h5.4M602.6 458.5h5.4M640.4 458.5h5.4M737.4 458.5h5.2M176 456.7h5.4M284 456.7h5.4M327.2 456.7h5.4M381.2 456.7h5.4M419 456.7h10.8M451.4 456.7h5.4M527 456.7h5.4M564.8 456.7h5.4M586.4 456.7h5.4M613.4 456.7h5.4M667.4 456.7h5.4M878 456.7h5.2M208.4 454.9h5.4M224.6 454.9h5.4M321.8 454.9h5.4M408.2 454.9h5.4M440.6 454.9h5.4M510.8 454.9h5.4M543.2 454.9h5.4M683.6 454.9h5.4M251.6 453h5.4M365 453h5.4M424.4 453h10.8M440.6 453h5.4M510.8 453h5.4M537.8 453h5.4M651.2 453h5.4M824 453h5.2M224.6 451.2h5.4M262.4 451.2h5.4M278.6 451.2h5.4M289.4 451.2h5.4M300.2 451.2h5.4M321.8 451.2h5.4M338 451.2h5.4M386.6 451.2h5.4M408.2 451.2h10.8M435.2 451.2h5.4M483.8 451.2h5.4M554 451.2h5.4M570.2 451.2h5.4M662 451.2h5.4M143.6 449.4h5.4M192.2 449.4h5.4M213.8 449.4h10.8M262.4 449.4h5.4M381.2 449.4h5.4M413.6 449.4h5.4M586.4 449.4h5.4M608 449.4h5.4M705 449.4h5.2M748.2 449.4h5.2M122 447.6h10.8M165.2 447.6h5.4M192.2 447.6h5.4M213.8 447.6h5.4M240.8 447.6h5.4M316.4 447.6h5.4M338 447.6h5.4M359.6 447.6h5.4M370.4 447.6h5.4M397.4 447.6h5.4M473 447.6h5.4M505.4 447.6h5.4M537.8 447.6h5.4M597.2 447.6h5.4M635 447.6h10.8M662 447.6h5.4M726.6 447.6h5.2M737.4 447.6h5.2M176 445.8h5.4M240.8 445.8h16.2M316.4 445.8h5.4M397.4 445.8h5.4M429.8 445.8h5.4M440.6 445.8h5.4M478.4 445.8h5.4M667.4 445.8h5.4M678.2 445.8h5.4M851 445.8h5.2M878 445.8h5.2M122 444h16.2M165.2 444h5.4M176 444h5.4M197.6 444h5.4M240.8 444h5.4M273.2 444h5.4M311 444h5.4M343.4 444h16.2M483.8 444h5.4M500 444h5.4M543.2 444h5.4M570.2 444h5.4M597.2 444h5.4M624.2 444h5.4M640.4 444h5.4M143.6 442.2h5.4M219.2 442.2h5.4M257 442.2h5.4M305.6 442.2h5.4M338 442.2h5.4M359.6 442.2h5.4M559.4 442.2h5.4M581 442.2h5.4M662 442.2h5.4M689 442.2h5.4M726.6 442.2h5.2M851 442.2h5.2M878 442.2h5.2M122 440.4h5.4M149 440.4h5.4M186.8 440.4h5.4M246.2 440.4h5.4M321.8 440.4h5.4M370.4 440.4h5.4M381.2 440.4h5.4M408.2 440.4h5.4M451.4 440.4h5.4M473 440.4h5.4M516.2 440.4h5.4M543.2 440.4h5.4M581 440.4h10.8M640.4 440.4h5.4M230 438.5h5.4M240.8 438.5h5.4M321.8 438.5h5.4M365 438.5h5.4M381.2 438.5h5.4M473 438.5h5.4M510.8 438.5h5.4M521.6 438.5h5.4M554 438.5h5.4M602.6 438.5h5.4M624.2 438.5h5.4M640.4 438.5h5.4M694.4 438.5h5.4M715.8 438.5h5.2M769.8 438.5h5.2M878 438.5h5.2M138.2 436.7h5.4M154.4 436.7h10.8M176 436.7h5.4M208.4 436.7h5.4M224.6 436.7h5.4M240.8 436.7h5.4M257 436.7h5.4M267.8 436.7h5.4M294.8 436.7h5.4M311 436.7h5.4M359.6 436.7h5.4M413.6 436.7h5.4M446 436.7h5.4M581 436.7h5.4M640.4 436.7h5.4M672.8 436.7h5.4M737.4 436.7h5.2M797 436.7h5.2M878 436.7h5.2M170.6 434.9h5.4M186.8 434.9h5.4M197.6 434.9h5.4M213.8 434.9h5.4M246.2 434.9h5.4M273.2 434.9h5.4M294.8 434.9h5.4M305.6 434.9h5.4M354.2 434.9h5.4M386.6 434.9h5.4M446 434.9h5.4M483.8 434.9h10.8M694.4 434.9h5.4M769.8 434.9h5.2M851 434.9h5.2M197.6 433.1h5.4M246.2 433.1h5.4M386.6 433.1h5.4M516.2 433.1h5.4M559.4 433.1h5.4M581 433.1h5.4M635 433.1h5.4M737.4 433.1h5.2M824 433.1h5.2M122 431.3h5.4M170.6 431.3h5.4M197.6 431.3h5.4M235.4 431.3h10.8M267.8 431.3h5.4M311 431.3h10.8M327.2 431.3h5.4M338 431.3h5.4M462.2 431.3h5.4M489.2 431.3h5.4M543.2 431.3h5.4M575.6 431.3h5.4M824 431.3h5.2M165.2 429.5h5.4M219.2 429.5h16.2M240.8 429.5h10.8M257 429.5h5.4M338 429.5h5.4M451.4 429.5h5.4M467.6 429.5h5.4M516.2 429.5h5.4M554 429.5h5.4M586.4 429.5h5.4M613.4 429.5h5.4M662 429.5h16.2M715.8 429.5h5.2M143.6 427.7h5.4M402.8 427.7h5.4M483.8 427.7h5.4M500 427.7h5.4M629.6 427.7h5.4M656.6 427.7h5.4M672.8 427.7h5.4M726.6 427.7h5.2M122 425.9h10.8M203 425.9h5.4M230 425.9h5.4M240.8 425.9h10.8M365 425.9h5.4M392 425.9h5.4M494.6 425.9h5.4M505.4 425.9h5.4M543.2 425.9h5.4M554 425.9h5.4M591.8 425.9h5.4M613.4 425.9h5.4M672.8 425.9h5.4M851 425.9h5.2M878 425.9h5.2M132.8 424h5.4M159.8 424h5.4M267.8 424h5.4M359.6 424h5.4M375.8 424h5.4M419 424h5.4M440.6 424h5.4M527 424h5.4M543.2 424h5.4M581 424h5.4M597.2 424h5.4M672.8 424h10.8M694.4 424h5.4M797 424h5.2M186.8 422.2h5.4M246.2 422.2h5.4M267.8 422.2h5.4M278.6 422.2h5.4M332.6 422.2h5.4M365 422.2h10.8M543.2 422.2h5.4M591.8 422.2h5.4M645.8 422.2h10.8M726.6 422.2h5.2M905 422.2h5.2M932 422.2h5.2M132.8 420.4h5.4M181.4 420.4h5.4M203 420.4h5.4M240.8 420.4h5.4M305.6 420.4h5.4M332.6 420.4h5.4M365 420.4h5.4M419 420.4h5.4M824 420.4h5.2M878 420.4h5.2M122 418.6h5.4M165.2 418.6h10.8M197.6 418.6h5.4M230 418.6h5.4M240.8 418.6h5.4M251.6 418.6h5.4M273.2 418.6h5.4M311 418.6h5.4M327.2 418.6h5.4M338 418.6h5.4M370.4 418.6h5.4M392 418.6h5.4M402.8 418.6h5.4M456.8 418.6h5.4M554 418.6h5.4M629.6 418.6h10.8M683.6 418.6h10.8M159.8 416.8h5.4M203 416.8h10.8M273.2 416.8h5.4M321.8 416.8h5.4M359.6 416.8h5.4M375.8 416.8h5.4M494.6 416.8h10.8M527 416.8h5.4M537.8 416.8h5.4M564.8 416.8h5.4M667.4 416.8h5.4M705 416.8h5.2M878 416.8h5.2M143.6 415h5.4M224.6 415h5.4M273.2 415h5.4M311 415h5.4M327.2 415h5.4M370.4 415h5.4M440.6 415h5.4M467.6 415h5.4M494.6 415h5.4M521.6 415h5.4M548.6 415h5.4M618.8 415h5.4M667.4 415h5.4M186.8 413.2h5.4M305.6 413.2h5.4M348.8 413.2h5.4M365 413.2h5.4M397.4 413.2h10.8M467.6 413.2h5.4M521.6 413.2h5.4M543.2 413.2h16.2M586.4 413.2h5.4M608 413.2h5.4M154.4 411.4h10.8M170.6 411.4h5.4M192.2 411.4h5.4M338 411.4h5.4M386.6 411.4h5.4M429.8 411.4h5.4M440.6 411.4h5.4M451.4 411.4h5.4M473 411.4h5.4M510.8 411.4h5.4M554 411.4h5.4M564.8 411.4h16.2M629.6 411.4h5.4M715.8 411.4h5.2M122 409.5h5.4M197.6 409.5h10.8M213.8 409.5h5.4M251.6 409.5h5.4M327.2 409.5h10.8M365 409.5h5.4M397.4 409.5h5.4M408.2 409.5h16.2M554 409.5h5.4M564.8 409.5h5.4M640.4 409.5h5.4M683.6 409.5h5.4M726.6 409.5h5.2M165.2 407.7h5.4M230 407.7h5.4M375.8 407.7h5.4M429.8 407.7h5.4M640.4 407.7h5.4M683.6 407.7h10.8M737.4 407.7h5.2M208.4 405.9h5.4M240.8 405.9h10.8M278.6 405.9h5.4M348.8 405.9h5.4M386.6 405.9h5.4M424.4 405.9h10.8M456.8 405.9h5.4M591.8 405.9h5.4M683.6 405.9h5.4M878 405.9h5.2M132.8 404.1h10.8M213.8 404.1h5.4M267.8 404.1h5.4M321.8 404.1h5.4M338 404.1h5.4M370.4 404.1h5.4M381.2 404.1h5.4M413.6 404.1h5.4M483.8 404.1h5.4M510.8 404.1h5.4M537.8 404.1h5.4M608 404.1h10.8M635 404.1h5.4M678.2 404.1h5.4M824 404.1h5.2M878 404.1h5.2M122 402.3h5.4M143.6 402.3h5.4M246.2 402.3h5.4M316.4 402.3h5.4M327.2 402.3h5.4M354.2 402.3h5.4M402.8 402.3h10.8M462.2 402.3h5.4M548.6 402.3h5.4M597.2 402.3h5.4M656.6 402.3h5.4M694.4 402.3h5.4M705 402.3h5.2M905 402.3h5.2M246.2 400.5h5.4M278.6 400.5h5.4M289.4 400.5h5.4M365 400.5h5.4M392 400.5h5.4M500 400.5h5.4M516.2 400.5h5.4M635 400.5h5.4M726.6 400.5h5.2M748.2 400.5h5.2M759 400.5h5.2M769.8 400.5h5.2M208.4 398.7h5.4M219.2 398.7h5.4M397.4 398.7h5.4M408.2 398.7h5.4M435.2 398.7h5.4M516.2 398.7h10.8M629.6 398.7h5.4M645.8 398.7h5.4M769.8 398.7h5.2M878 398.7h5.2M192.2 396.9h5.4M224.6 396.9h5.4M321.8 396.9h5.4M370.4 396.9h5.4M446 396.9h5.4M462.2 396.9h5.4M581 396.9h10.8M689 396.9h5.4M149 395h10.8M176 395h5.4M203 395h5.4M246.2 395h5.4M273.2 395h5.4M294.8 395h5.4M348.8 395h5.4M500 395h5.4M532.4 395h5.4M570.2 395h5.4M581 395h5.4M618.8 395h5.4M635 395h5.4M748.2 395h5.2M905 395h5.2M159.8 393.2h5.4M181.4 393.2h5.4M251.6 393.2h5.4M300.2 393.2h5.4M419 393.2h5.4M467.6 393.2h5.4M483.8 393.2h5.4M516.2 393.2h5.4M554 393.2h5.4M570.2 393.2h10.8M586.4 393.2h10.8M694.4 393.2h5.4M737.4 393.2h5.2M769.8 393.2h5.2M824 393.2h5.2M289.4 391.4h5.4M375.8 391.4h5.4M408.2 391.4h5.4M419 391.4h5.4M467.6 391.4h5.4M613.4 391.4h5.4M656.6 391.4h10.8M715.8 391.4h5.2M759 391.4h5.2M138.2 389.6h5.4M208.4 389.6h5.4M240.8 389.6h5.4M262.4 389.6h5.4M316.4 389.6h5.4M332.6 389.6h5.4M348.8 389.6h5.4M440.6 389.6h5.4M489.2 389.6h5.4M516.2 389.6h5.4M564.8 389.6h5.4M667.4 389.6h10.8M715.8 389.6h5.2M737.4 389.6h5.2M748.2 389.6h5.2M181.4 387.8h5.4M219.2 387.8h5.4M284 387.8h5.4M294.8 387.8h5.4M332.6 387.8h5.4M359.6 387.8h5.4M456.8 387.8h5.4M483.8 387.8h5.4M516.2 387.8h5.4M570.2 387.8h5.4M581 387.8h5.4M613.4 387.8h5.4M629.6 387.8h5.4M645.8 387.8h5.4M905 387.8h5.2M932 387.8h5.2M186.8 386h5.4M197.6 386h5.4M257 386h5.4M284 386h5.4M305.6 386h5.4M359.6 386h5.4M375.8 386h5.4M467.6 386h10.8M516.2 386h5.4M543.2 386h5.4M591.8 386h5.4M689 386h5.4M197.6 384.2h5.4M294.8 384.2h5.4M381.2 384.2h5.4M462.2 384.2h10.8M505.4 384.2h5.4M527 384.2h5.4M591.8 384.2h10.8M694.4 384.2h5.4M122 382.4h5.4M154.4 382.4h5.4M176 382.4h10.8M192.2 382.4h5.4M230 382.4h5.4M273.2 382.4h5.4M343.4 382.4h5.4M386.6 382.4h21.6M419 382.4h5.4M554 382.4h5.4M575.6 382.4h5.4M624.2 382.4h5.4M672.8 382.4h5.4M705 382.4h5.2M122 380.5h5.4M159.8 380.5h5.4M294.8 380.5h5.4M311 380.5h5.4M338 380.5h5.4M392 380.5h10.8M510.8 380.5h5.4M543.2 380.5h5.4M662 380.5h5.4M694.4 380.5h5.4M149 378.7h10.8M170.6 378.7h5.4M181.4 378.7h5.4M213.8 378.7h5.4M316.4 378.7h5.4M343.4 378.7h5.4M370.4 378.7h5.4M419 378.7h10.8M451.4 378.7h5.4M559.4 378.7h5.4M575.6 378.7h5.4M629.6 378.7h5.4M640.4 378.7h5.4M683.6 378.7h5.4M705 378.7h5.2M905 378.7h5.2M294.8 376.9h5.4M429.8 376.9h5.4M440.6 376.9h5.4M521.6 376.9h5.4M608 376.9h5.4M624.2 376.9h5.4M635 376.9h5.4M645.8 376.9h5.4M748.2 376.9h5.2M797 376.9h5.2M878 376.9h5.2M149 375.1h5.4M251.6 375.1h5.4M386.6 375.1h10.8M440.6 375.1h5.4M570.2 375.1h5.4M602.6 375.1h5.4M662 375.1h5.4M797 375.1h5.2M219.2 373.3h10.8M284 373.3h5.4M359.6 373.3h5.4M375.8 373.3h5.4M402.8 373.3h5.4M424.4 373.3h5.4M478.4 373.3h5.4M505.4 373.3h5.4M516.2 373.3h5.4M554 373.3h5.4M570.2 373.3h5.4M651.2 373.3h5.4M705 373.3h5.2M905 373.3h5.2M138.2 371.5h5.4M149 371.5h5.4M186.8 371.5h10.8M235.4 371.5h10.8M262.4 371.5h5.4M278.6 371.5h5.4M365 371.5h5.4M548.6 371.5h5.4M613.4 371.5h10.8M640.4 371.5h5.4M662 371.5h5.4M672.8 371.5h5.4M689 371.5h5.4M851 371.5h5.2M878 371.5h5.2M122 369.7h5.4M165.2 369.7h5.4M230 369.7h5.4M289.4 369.7h10.8M354.2 369.7h5.4M435.2 369.7h5.4M456.8 369.7h5.4M478.4 369.7h5.4M527 369.7h5.4M581 369.7h5.4M640.4 369.7h5.4M748.2 369.7h5.2M138.2 367.9h5.4M170.6 367.9h5.4M203 367.9h5.4M332.6 367.9h10.8M365 367.9h5.4M462.2 367.9h5.4M516.2 367.9h5.4M543.2 367.9h5.4M559.4 367.9h5.4M618.8 367.9h5.4M656.6 367.9h5.4M683.6 367.9h10.8M705 367.9h5.2M737.4 367.9h5.2M932 367.9h5.2M122 366h5.4M154.4 366h5.4M165.2 366h5.4M203 366h5.4M267.8 366h5.4M284 366h5.4M321.8 366h5.4M348.8 366h5.4M402.8 366h5.4M586.4 366h5.4M629.6 366h5.4M672.8 366h5.4M748.2 366h5.2M132.8 364.2h5.4M149 364.2h5.4M186.8 364.2h5.4M365 364.2h5.4M386.6 364.2h5.4M424.4 364.2h10.8M662 364.2h5.4M683.6 364.2h5.4M127.4 362.4h5.4M235.4 362.4h5.4M284 362.4h5.4M354.2 362.4h5.4M419 362.4h5.4M489.2 362.4h5.4M527 362.4h10.8M591.8 362.4h5.4M613.4 362.4h10.8M748.2 362.4h5.2M122 360.6h5.4M181.4 360.6h5.4M273.2 360.6h5.4M311 360.6h10.8M338 360.6h5.4M413.6 360.6h10.8M564.8 360.6h5.4M597.2 360.6h5.4M613.4 360.6h5.4M640.4 360.6h5.4M694.4 360.6h5.4M737.4 360.6h5.2M878 360.6h5.2M159.8 358.8h5.4M186.8 358.8h5.4M240.8 358.8h5.4M251.6 358.8h5.4M273.2 358.8h5.4M294.8 358.8h5.4M435.2 358.8h10.8M494.6 358.8h5.4M510.8 358.8h10.8M591.8 358.8h10.8M715.8 358.8h5.2M851 358.8h5.2M932 358.8h5.2M138.2 357h5.4M149 357h5.4M165.2 357h5.4M208.4 357h5.4M240.8 357h5.4M300.2 357h5.4M343.4 357h5.4M521.6 357h10.8M570.2 357h5.4M629.6 357h5.4M769.8 357h5.2M149 355.2h5.4M197.6 355.2h10.8M284 355.2h5.4M343.4 355.2h10.8M370.4 355.2h5.4M386.6 355.2h5.4M402.8 355.2h5.4M435.2 355.2h5.4M564.8 355.2h5.4M591.8 355.2h5.4M672.8 355.2h5.4M797 355.2h5.2M143.6 353.4h5.4M165.2 353.4h5.4M192.2 353.4h5.4M203 353.4h5.4M240.8 353.4h5.4M300.2 353.4h5.4M370.4 353.4h5.4M397.4 353.4h5.4M419 353.4h5.4M456.8 353.4h5.4M473 353.4h5.4M527 353.4h5.4M575.6 353.4h5.4M154.4 351.5h10.8M230 351.5h5.4M338 351.5h5.4M386.6 351.5h5.4M402.8 351.5h5.4M462.2 351.5h10.8M532.4 351.5h5.4M559.4 351.5h10.8M581 351.5h16.2M635 351.5h5.4M672.8 351.5h5.4M683.6 351.5h5.4M737.4 351.5h5.2M759 351.5h5.2M797 351.5h5.2M878 351.5h5.2M208.4 349.7h5.4M273.2 349.7h5.4M365 349.7h5.4M402.8 349.7h5.4M435.2 349.7h5.4M473 349.7h5.4M483.8 349.7h5.4M564.8 349.7h5.4M581 349.7h10.8M613.4 349.7h5.4M629.6 349.7h5.4M726.6 349.7h5.2M737.4 349.7h5.2M359.6 347.9h5.4M381.2 347.9h5.4M392 347.9h5.4M489.2 347.9h5.4M537.8 347.9h5.4M656.6 347.9h5.4M672.8 347.9h5.4M737.4 347.9h5.2M759 347.9h5.2M797 347.9h5.2M197.6 346.1h5.4M213.8 346.1h10.8M240.8 346.1h5.4M251.6 346.1h5.4M338 346.1h5.4M435.2 346.1h5.4M473 346.1h5.4M516.2 346.1h10.8M559.4 346.1h5.4M737.4 346.1h5.2M769.8 346.1h5.2M230 344.3h10.8M246.2 344.3h5.4M262.4 344.3h5.4M419 344.3h5.4M446 344.3h5.4M462.2 344.3h10.8M483.8 344.3h5.4M494.6 344.3h5.4M662 344.3h5.4M759 344.3h5.2M132.8 342.5h5.4M246.2 342.5h5.4M413.6 342.5h5.4M429.8 342.5h5.4M505.4 342.5h5.4M651.2 342.5h5.4M662 342.5h5.4M672.8 342.5h5.4M159.8 340.7h10.8M181.4 340.7h5.4M203 340.7h5.4M224.6 340.7h5.4M294.8 340.7h16.2M332.6 340.7h5.4M348.8 340.7h5.4M381.2 340.7h5.4M467.6 340.7h10.8M505.4 340.7h5.4M564.8 340.7h5.4M602.6 340.7h5.4M689 340.7h5.4M726.6 340.7h5.2M824 340.7h5.2M203 338.9h5.4M257 338.9h5.4M294.8 338.9h5.4M332.6 338.9h5.4M343.4 338.9h5.4M354.2 338.9h5.4M451.4 338.9h5.4M527 338.9h5.4M618.8 338.9h10.8M824 338.9h5.2M165.2 337h5.4M273.2 337h10.8M316.4 337h5.4M381.2 337h5.4M440.6 337h5.4M494.6 337h5.4M554 337h5.4M564.8 337h5.4M586.4 337h5.4M689 337h5.4M797 337h5.2M127.4 335.2h10.8M230 335.2h5.4M251.6 335.2h16.2M278.6 335.2h5.4M311 335.2h5.4M386.6 335.2h5.4M413.6 335.2h5.4M456.8 335.2h10.8M483.8 335.2h5.4M564.8 335.2h5.4M672.8 335.2h5.4M769.8 335.2h5.2M127.4 333.4h5.4M138.2 333.4h5.4M159.8 333.4h5.4M246.2 333.4h5.4M267.8 333.4h5.4M300.2 333.4h5.4M338 333.4h5.4M381.2 333.4h5.4M408.2 333.4h5.4M419 333.4h5.4M440.6 333.4h5.4M467.6 333.4h5.4M483.8 333.4h5.4M494.6 333.4h5.4M559.4 333.4h5.4M667.4 333.4h5.4M878 333.4h5.2M132.8 331.6h5.4M224.6 331.6h5.4M321.8 331.6h5.4M370.4 331.6h5.4M424.4 331.6h5.4M473 331.6h5.4M505.4 331.6h5.4M597.2 331.6h5.4M608 331.6h5.4M618.8 331.6h5.4M635 331.6h5.4M667.4 331.6h5.4M694.4 331.6h5.4M705 331.6h5.2M759 331.6h5.2M769.8 331.6h5.2M824 331.6h5.2M138.2 329.8h5.4M203 329.8h5.4M246.2 329.8h5.4M267.8 329.8h5.4M408.2 329.8h5.4M548.6 329.8h5.4M645.8 329.8h5.4M656.6 329.8h10.8M689 329.8h10.8M797 329.8h5.2M122 328h5.4M132.8 328h5.4M262.4 328h5.4M343.4 328h5.4M429.8 328h5.4M467.6 328h5.4M489.2 328h5.4M543.2 328h5.4M564.8 328h5.4M613.4 328h5.4M651.2 328h5.4M694.4 328h5.4M737.4 328h5.2M759 328h5.2M797 328h5.2M824 328h5.2M905 328h5.2M122 326.2h10.8M159.8 326.2h5.4M370.4 326.2h5.4M564.8 326.2h5.4M602.6 326.2h10.8M624.2 326.2h5.4M651.2 326.2h5.4M683.6 326.2h5.4M797 326.2h5.2M878 326.2h5.2M143.6 324.4h10.8M165.2 324.4h5.4M192.2 324.4h5.4M208.4 324.4h5.4M230 324.4h5.4M251.6 324.4h5.4M273.2 324.4h5.4M284 324.4h10.8M316.4 324.4h10.8M419 324.4h5.4M435.2 324.4h5.4M516.2 324.4h5.4M532.4 324.4h10.8M624.2 324.4h5.4M878 324.4h5.2M905 324.4h5.2M170.6 322.5h5.4M240.8 322.5h10.8M273.2 322.5h5.4M348.8 322.5h5.4M381.2 322.5h5.4M532.4 322.5h5.4M548.6 322.5h5.4M613.4 322.5h5.4M662 322.5h5.4M149 320.7h5.4M165.2 320.7h5.4M192.2 320.7h5.4M278.6 320.7h5.4M300.2 320.7h5.4M354.2 320.7h5.4M429.8 320.7h10.8M500 320.7h5.4M543.2 320.7h5.4M575.6 320.7h5.4M591.8 320.7h5.4M608 320.7h5.4M645.8 320.7h5.4M683.6 320.7h5.4M694.4 320.7h5.4M748.2 320.7h5.2M905 320.7h5.2M127.4 318.9h5.4M267.8 318.9h5.4M289.4 318.9h5.4M451.4 318.9h5.4M527 318.9h5.4M564.8 318.9h10.8M608 318.9h5.4M645.8 318.9h5.4M662 318.9h5.4M316.4 317.1h5.4M327.2 317.1h5.4M338 317.1h5.4M424.4 317.1h5.4M489.2 317.1h5.4M500 317.1h5.4M532.4 317.1h5.4M548.6 317.1h5.4M591.8 317.1h5.4M645.8 317.1h5.4M656.6 317.1h5.4M748.2 317.1h5.2M127.4 315.3h5.4M138.2 315.3h5.4M208.4 315.3h5.4M262.4 315.3h5.4M278.6 315.3h5.4M289.4 315.3h5.4M321.8 315.3h10.8M462.2 315.3h5.4M510.8 315.3h5.4M591.8 315.3h5.4M608 315.3h5.4M645.8 315.3h5.4M824 315.3h5.2M165.2 313.5h5.4M192.2 313.5h5.4M311 313.5h10.8M354.2 313.5h5.4M365 313.5h5.4M375.8 313.5h5.4M402.8 313.5h5.4M419 313.5h5.4M478.4 313.5h5.4M505.4 313.5h5.4M591.8 313.5h10.8M613.4 313.5h5.4M122 311.7h5.4M143.6 311.7h10.8M203 311.7h5.4M284 311.7h5.4M392 311.7h5.4M402.8 311.7h10.8M456.8 311.7h5.4M473 311.7h5.4M489.2 311.7h5.4M500 311.7h5.4M548.6 311.7h5.4M824 311.7h5.2M932 311.7h5.2M122 309.9h5.4M176 309.9h5.4M208.4 309.9h5.4M289.4 309.9h5.4M300.2 309.9h5.4M365 309.9h5.4M435.2 309.9h5.4M446 309.9h10.8M505.4 309.9h10.8M554 309.9h5.4M640.4 309.9h5.4M651.2 309.9h5.4M678.2 309.9h5.4M705 309.9h5.2M715.8 309.9h5.2M726.6 309.9h5.2M769.8 309.9h5.2M851 309.9h5.2M154.4 308h5.4M224.6 308h5.4M316.4 308h5.4M327.2 308h5.4M338 308h5.4M359.6 308h10.8M375.8 308h5.4M478.4 308h16.2M575.6 308h5.4M689 308h5.4M797 308h5.2M192.2 306.2h5.4M230 306.2h5.4M311 306.2h5.4M338 306.2h5.4M375.8 306.2h5.4M548.6 306.2h5.4M564.8 306.2h5.4M618.8 306.2h5.4M645.8 306.2h5.4M683.6 306.2h5.4M726.6 306.2h5.2M797 306.2h5.2M878 306.2h5.2M149 304.4h5.4M170.6 304.4h5.4M186.8 304.4h5.4M240.8 304.4h10.8M257 304.4h5.4M321.8 304.4h5.4M343.4 304.4h5.4M381.2 304.4h5.4M424.4 304.4h5.4M500 304.4h5.4M521.6 304.4h5.4M570.2 304.4h5.4M127.4 302.6h5.4M138.2 302.6h5.4M149 302.6h5.4M186.8 302.6h5.4M197.6 302.6h5.4M213.8 302.6h5.4M500 302.6h5.4M624.2 302.6h5.4M635 302.6h5.4M662 302.6h5.4M824 302.6h5.2M143.6 300.8h5.4M165.2 300.8h5.4M300.2 300.8h10.8M392 300.8h5.4M451.4 300.8h10.8M500 300.8h5.4M543.2 300.8h5.4M597.2 300.8h5.4M624.2 300.8h5.4M635 300.8h5.4M678.2 300.8h5.4M689 300.8h5.4M905 300.8h5.2M197.6 299h5.4M278.6 299h5.4M343.4 299h5.4M365 299h5.4M429.8 299h5.4M462.2 299h5.4M548.6 299h5.4M575.6 299h5.4M602.6 299h5.4M613.4 299h5.4M645.8 299h5.4M662 299h5.4M748.2 299h5.2M824 299h5.2M246.2 297.2h10.8M267.8 297.2h5.4M300.2 297.2h5.4M446 297.2h5.4M516.2 297.2h5.4M575.6 297.2h5.4M672.8 297.2h5.4M726.6 297.2h5.2M769.8 297.2h5.2M186.8 295.4h5.4M208.4 295.4h5.4M230 295.4h5.4M257 295.4h5.4M289.4 295.4h5.4M402.8 295.4h5.4M564.8 295.4h10.8M581 295.4h5.4M629.6 295.4h5.4M683.6 295.4h5.4M878 295.4h5.2M127.4 293.5h5.4M170.6 293.5h5.4M197.6 293.5h5.4M213.8 293.5h5.4M257 293.5h5.4M311 293.5h5.4M354.2 293.5h5.4M365 293.5h5.4M397.4 293.5h5.4M586.4 293.5h5.4M624.2 293.5h5.4M635 293.5h5.4M662 293.5h5.4M715.8 293.5h5.2M737.4 293.5h5.2M122 291.7h5.4M192.2 291.7h5.4M224.6 291.7h5.4M246.2 291.7h5.4M381.2 291.7h5.4M397.4 291.7h5.4M419 291.7h5.4M446 291.7h5.4M462.2 291.7h5.4M478.4 291.7h5.4M532.4 291.7h5.4M559.4 291.7h5.4M640.4 291.7h5.4M656.6 291.7h5.4M726.6 291.7h5.2M797 291.7h5.2M159.8 289.9h5.4M170.6 289.9h5.4M197.6 289.9h5.4M224.6 289.9h5.4M235.4 289.9h5.4M246.2 289.9h5.4M273.2 289.9h5.4M305.6 289.9h5.4M338 289.9h5.4M386.6 289.9h5.4M402.8 289.9h5.4M440.6 289.9h5.4M500 289.9h5.4M516.2 289.9h5.4M543.2 289.9h5.4M624.2 289.9h5.4M640.4 289.9h5.4M683.6 289.9h5.4M219.2 288.1h5.4M289.4 288.1h5.4M300.2 288.1h5.4M316.4 288.1h5.4M348.8 288.1h5.4M359.6 288.1h5.4M381.2 288.1h5.4M408.2 288.1h5.4M429.8 288.1h5.4M494.6 288.1h5.4M510.8 288.1h5.4M543.2 288.1h5.4M559.4 288.1h5.4M618.8 288.1h5.4M651.2 288.1h5.4M689 288.1h10.8M797 288.1h5.2M932 288.1h5.2M127.4 286.3h5.4M267.8 286.3h5.4M332.6 286.3h5.4M375.8 286.3h5.4M397.4 286.3h5.4M500 286.3h5.4M537.8 286.3h10.8M564.8 286.3h5.4M575.6 286.3h5.4M613.4 286.3h5.4M629.6 286.3h10.8M651.2 286.3h5.4M715.8 286.3h5.2M127.4 284.5h5.4M149 284.5h5.4M176 284.5h5.4M197.6 284.5h5.4M257 284.5h5.4M289.4 284.5h5.4M316.4 284.5h10.8M381.2 284.5h10.8M419 284.5h5.4M446 284.5h5.4M462.2 284.5h5.4M537.8 284.5h10.8M581 284.5h5.4M624.2 284.5h5.4M635 284.5h5.4M645.8 284.5h5.4M689 284.5h5.4M726.6 284.5h5.2M737.4 284.5h5.2M748.2 284.5h5.2M851 284.5h5.2M165.2 282.7h5.4M176 282.7h5.4M219.2 282.7h5.4M246.2 282.7h5.4M467.6 282.7h10.8M537.8 282.7h5.4M635 282.7h5.4M662 282.7h5.4M689 282.7h5.4M824 282.7h5.2M203 280.9h5.4M219.2 280.9h5.4M230 280.9h5.4M446 280.9h5.4M467.6 280.9h16.2M581 280.9h5.4M591.8 280.9h5.4M624.2 280.9h10.8M149 279h5.4M246.2 279h5.4M257 279h5.4M397.4 279h10.8M500 279h5.4M510.8 279h5.4M548.6 279h5.4M570.2 279h5.4M586.4 279h5.4M613.4 279h5.4M629.6 279h5.4M851 279h5.2M208.4 277.2h5.4M251.6 277.2h5.4M289.4 277.2h10.8M338 277.2h5.4M365 277.2h5.4M375.8 277.2h10.8M429.8 277.2h5.4M451.4 277.2h5.4M483.8 277.2h5.4M548.6 277.2h5.4M581 277.2h5.4M602.6 277.2h5.4M629.6 277.2h5.4M683.6 277.2h5.4M759 277.2h5.2M165.2 275.4h5.4M219.2 275.4h5.4M230 275.4h5.4M294.8 275.4h5.4M316.4 275.4h5.4M365 275.4h5.4M435.2 275.4h5.4M451.4 275.4h5.4M500 275.4h5.4M548.6 275.4h5.4M586.4 275.4h10.8M602.6 275.4h5.4M689 275.4h5.4M932 275.4h5.2M122 273.6h5.4M203 273.6h5.4M294.8 273.6h5.4M305.6 273.6h5.4M375.8 273.6h10.8M451.4 273.6h5.4M473 273.6h5.4M575.6 273.6h5.4M629.6 273.6h5.4M726.6 273.6h5.2M143.6 271.8h5.4M176 271.8h5.4M278.6 271.8h10.8M316.4 271.8h5.4M375.8 271.8h10.8M467.6 271.8h5.4M483.8 271.8h5.4M154.4 270h5.4M213.8 270h5.4M278.6 270h5.4M311 270h5.4M321.8 270h5.4M408.2 270h10.8M478.4 270h5.4M543.2 270h5.4M591.8 270h5.4M656.6 270h5.4M759 270h5.2M213.8 268.2h5.4M413.6 268.2h5.4M462.2 268.2h5.4M543.2 268.2h5.4M586.4 268.2h5.4M645.8 268.2h5.4M705 268.2h5.2M197.6 266.4h5.4M294.8 266.4h5.4M386.6 266.4h5.4M419 266.4h5.4M473 266.4h5.4M494.6 266.4h5.4M575.6 266.4h5.4M629.6 266.4h5.4M640.4 266.4h5.4M651.2 266.4h5.4M759 266.4h5.2M138.2 264.5h10.8M224.6 264.5h10.8M294.8 264.5h5.4M316.4 264.5h5.4M424.4 264.5h5.4M451.4 264.5h5.4M548.6 264.5h5.4M575.6 264.5h5.4M586.4 264.5h5.4M651.2 264.5h5.4M689 264.5h5.4M737.4 264.5h5.2M851 264.5h5.2M878 264.5h5.2M905 264.5h5.2M181.4 262.7h5.4M240.8 262.7h5.4M262.4 262.7h5.4M311 262.7h5.4M386.6 262.7h5.4M429.8 262.7h5.4M467.6 262.7h5.4M489.2 262.7h5.4M527 262.7h5.4M559.4 262.7h5.4M662 262.7h5.4M122 260.9h5.4M154.4 260.9h5.4M267.8 260.9h5.4M284 260.9h5.4M311 260.9h5.4M327.2 260.9h5.4M478.4 260.9h5.4M689 260.9h5.4M824 260.9h5.2M878 260.9h5.2M905 260.9h5.2M235.4 259.1h5.4M354.2 259.1h5.4M365 259.1h5.4M402.8 259.1h5.4M451.4 259.1h5.4M575.6 259.1h5.4M640.4 259.1h5.4M667.4 259.1h5.4M689 259.1h5.4M715.8 259.1h5.2M748.2 259.1h5.2M932 259.1h5.2M132.8 257.3h5.4M143.6 257.3h5.4M213.8 257.3h5.4M300.2 257.3h5.4M338 257.3h5.4M365 257.3h5.4M608 257.3h5.4M629.6 257.3h5.4M662 257.3h5.4M705 257.3h5.2M715.8 257.3h5.2M230 255.5h5.4M365 255.5h5.4M375.8 255.5h5.4M429.8 255.5h5.4M462.2 255.5h5.4M483.8 255.5h10.8M543.2 255.5h10.8M662 255.5h5.4M705 255.5h5.2M737.4 255.5h5.2M759 255.5h5.2M165.2 253.7h5.4M203 253.7h5.4M240.8 253.7h5.4M278.6 253.7h5.4M300.2 253.7h5.4M381.2 253.7h5.4M408.2 253.7h5.4M462.2 253.7h5.4M489.2 253.7h5.4M138.2 251.9h5.4M186.8 251.9h5.4M300.2 251.9h10.8M392 251.9h5.4M505.4 251.9h5.4M537.8 251.9h5.4M559.4 251.9h5.4M575.6 251.9h5.4M672.8 251.9h5.4M683.6 251.9h5.4M797 251.9h5.2M122 250h5.4M262.4 250h10.8M289.4 250h5.4M386.6 250h10.8M429.8 250h5.4M446 250h5.4M516.2 250h5.4M548.6 250h5.4M624.2 250h10.8M689 250h5.4M726.6 250h5.2M851 250h5.2M878 250h5.2M143.6 248.2h5.4M159.8 248.2h5.4M208.4 248.2h5.4M273.2 248.2h5.4M294.8 248.2h5.4M354.2 248.2h5.4M397.4 248.2h5.4M429.8 248.2h5.4M629.6 248.2h5.4M715.8 248.2h5.2M797 248.2h5.2M878 248.2h5.2M186.8 246.4h5.4M219.2 246.4h5.4M251.6 246.4h5.4M381.2 246.4h10.8M640.4 246.4h10.8M689 246.4h5.4M715.8 246.4h5.2M759 246.4h5.2M138.2 244.6h5.4M149 244.6h5.4M213.8 244.6h5.4M224.6 244.6h5.4M235.4 244.6h5.4M321.8 244.6h5.4M386.6 244.6h5.4M662 244.6h5.4M694.4 244.6h5.4M932 244.6h5.2M154.4 242.8h5.4M235.4 242.8h5.4M246.2 242.8h5.4M262.4 242.8h5.4M289.4 242.8h5.4M321.8 242.8h16.2M397.4 242.8h5.4M419 242.8h5.4M435.2 242.8h5.4M456.8 242.8h5.4M473 242.8h5.4M521.6 242.8h5.4M548.6 242.8h5.4M656.6 242.8h16.2M683.6 242.8h5.4M694.4 242.8h5.4M726.6 242.8h5.2M824 242.8h5.2M165.2 241h5.4M224.6 241h5.4M262.4 241h5.4M273.2 241h5.4M300.2 241h5.4M397.4 241h5.4M516.2 241h5.4M548.6 241h5.4M564.8 241h5.4M575.6 241h5.4M154.4 239.2h5.4M203 239.2h10.8M230 239.2h5.4M332.6 239.2h5.4M343.4 239.2h10.8M564.8 239.2h10.8M581 239.2h5.4M635 239.2h5.4M662 239.2h5.4M878 239.2h5.2M138.2 237.4h5.4M262.4 237.4h5.4M321.8 237.4h5.4M343.4 237.4h5.4M467.6 237.4h5.4M478.4 237.4h5.4M505.4 237.4h5.4M527 237.4h5.4M564.8 237.4h5.4M575.6 237.4h5.4M597.2 237.4h16.2M651.2 237.4h5.4M672.8 237.4h5.4M694.4 237.4h5.4M769.8 237.4h5.2M213.8 235.5h5.4M235.4 235.5h5.4M327.2 235.5h5.4M354.2 235.5h16.2M397.4 235.5h5.4M456.8 235.5h5.4M645.8 235.5h5.4M662 235.5h5.4M689 235.5h5.4M705 235.5h5.2M824 235.5h5.2M122 233.7h5.4M240.8 233.7h5.4M284 233.7h5.4M294.8 233.7h5.4M321.8 233.7h5.4M473 233.7h5.4M494.6 233.7h5.4M505.4 233.7h5.4M521.6 233.7h5.4M537.8 233.7h5.4M548.6 233.7h5.4M570.2 233.7h5.4M581 233.7h5.4M640.4 233.7h5.4M656.6 233.7h5.4M705 233.7h5.2M759 233.7h5.2M170.6 231.9h5.4M219.2 231.9h5.4M257 231.9h5.4M311 231.9h5.4M343.4 231.9h5.4M359.6 231.9h5.4M370.4 231.9h5.4M381.2 231.9h5.4M408.2 231.9h5.4M419 231.9h5.4M467.6 231.9h5.4M483.8 231.9h5.4M494.6 231.9h5.4M575.6 231.9h5.4M597.2 231.9h5.4M694.4 231.9h5.4M769.8 231.9h5.2M932 231.9h5.2M138.2 230.1h5.4M159.8 230.1h5.4M186.8 230.1h5.4M213.8 230.1h5.4M230 230.1h5.4M251.6 230.1h5.4M338 230.1h10.8M381.2 230.1h5.4M392 230.1h5.4M597.2 230.1h5.4M645.8 230.1h5.4M705 230.1h5.2M138.2 228.3h5.4M154.4 228.3h5.4M219.2 228.3h5.4M251.6 228.3h5.4M294.8 228.3h5.4M311 228.3h5.4M327.2 228.3h5.4M575.6 228.3h5.4M683.6 228.3h5.4M122 226.5h5.4M149 226.5h5.4M170.6 226.5h5.4M203 226.5h10.8M230 226.5h5.4M289.4 226.5h5.4M359.6 226.5h5.4M397.4 226.5h5.4M413.6 226.5h5.4M424.4 226.5h5.4M559.4 226.5h5.4M613.4 226.5h5.4M689 226.5h5.4M905 226.5h5.2M170.6 224.7h5.4M235.4 224.7h10.8M262.4 224.7h5.4M311 224.7h5.4M505.4 224.7h5.4M548.6 224.7h5.4M570.2 224.7h5.4M586.4 224.7h5.4M629.6 224.7h5.4M651.2 224.7h10.8M672.8 224.7h5.4M705 224.7h5.2M932 224.7h5.2M154.4 222.9h5.4M219.2 222.9h5.4M257 222.9h5.4M294.8 222.9h5.4M305.6 222.9h5.4M316.4 222.9h5.4M381.2 222.9h5.4M392 222.9h5.4M543.2 222.9h5.4M559.4 222.9h5.4M613.4 222.9h5.4M624.2 222.9h5.4M656.6 222.9h5.4M667.4 222.9h5.4M705 222.9h5.2M154.4 221h5.4M219.2 221h5.4M230 221h5.4M289.4 221h5.4M359.6 221h5.4M370.4 221h5.4M413.6 221h5.4M505.4 221h5.4M586.4 221h5.4M651.2 221h5.4M715.8 221h5.2M726.6 221h5.2M797 221h5.2M122 219.2h5.4M176 219.2h5.4M327.2 219.2h5.4M359.6 219.2h5.4M370.4 219.2h5.4M402.8 219.2h5.4M440.6 219.2h5.4M462.2 219.2h5.4M516.2 219.2h5.4M543.2 219.2h5.4M570.2 219.2h5.4M618.8 219.2h5.4M769.8 219.2h5.2M165.2 217.4h5.4M240.8 217.4h5.4M321.8 217.4h5.4M332.6 217.4h5.4M348.8 217.4h5.4M381.2 217.4h5.4M392 217.4h5.4M402.8 217.4h5.4M510.8 217.4h5.4M543.2 217.4h5.4M581 217.4h5.4M591.8 217.4h5.4M851 217.4h5.2M122 215.6h5.4M159.8 215.6h5.4M186.8 215.6h5.4M316.4 215.6h5.4M332.6 215.6h5.4M348.8 215.6h5.4M375.8 215.6h5.4M483.8 215.6h5.4M597.2 215.6h5.4M635 215.6h5.4M683.6 215.6h10.8M705 215.6h5.2M905 215.6h5.2M932 215.6h5.2M316.4 213.8h5.4M354.2 213.8h5.4M435.2 213.8h5.4M521.6 213.8h5.4M554 213.8h5.4M122 212h5.4M138.2 212h5.4M192.2 212h5.4M267.8 212h5.4M338 212h5.4M365 212h10.8M392 212h5.4M456.8 212h5.4M748.2 212h5.2M246.2 210.2h5.4M381.2 210.2h10.8M419 210.2h5.4M456.8 210.2h5.4M532.4 210.2h5.4M602.6 210.2h5.4M683.6 210.2h5.4M694.4 210.2h5.4M715.8 210.2h5.2M246.2 208.4h10.8M305.6 208.4h5.4M327.2 208.4h5.4M375.8 208.4h5.4M413.6 208.4h5.4M435.2 208.4h5.4M462.2 208.4h5.4M478.4 208.4h5.4M494.6 208.4h5.4M543.2 208.4h5.4M645.8 208.4h5.4M656.6 208.4h5.4M878 208.4h5.2M932 208.4h5.2M235.4 206.5h5.4M294.8 206.5h5.4M332.6 206.5h5.4M375.8 206.5h5.4M402.8 206.5h5.4M456.8 206.5h5.4M494.6 206.5h5.4M510.8 206.5h5.4M597.2 206.5h5.4M613.4 206.5h5.4M694.4 206.5h5.4M705 206.5h5.2M824 206.5h5.2M122 204.7h5.4M132.8 204.7h10.8M224.6 204.7h5.4M321.8 204.7h5.4M419 204.7h10.8M440.6 204.7h5.4M462.2 204.7h5.4M473 204.7h10.8M694.4 204.7h5.4M705 204.7h5.2M726.6 204.7h5.2M132.8 202.9h5.4M149 202.9h5.4M181.4 202.9h5.4M203 202.9h5.4M235.4 202.9h21.6M284 202.9h10.8M305.6 202.9h5.4M338 202.9h5.4M354.2 202.9h5.4M419 202.9h5.4M478.4 202.9h5.4M500 202.9h5.4M581 202.9h5.4M851 202.9h5.2M176 201.1h5.4M219.2 201.1h10.8M262.4 201.1h5.4M343.4 201.1h5.4M559.4 201.1h5.4M570.2 201.1h5.4M597.2 201.1h5.4M672.8 201.1h5.4M683.6 201.1h5.4M759 201.1h5.2M769.8 201.1h5.2M143.6 199.3h10.8M170.6 199.3h5.4M235.4 199.3h5.4M251.6 199.3h10.8M348.8 199.3h5.4M402.8 199.3h5.4M419 199.3h5.4M446 199.3h5.4M456.8 199.3h5.4M473 199.3h5.4M564.8 199.3h10.8M662 199.3h5.4M689 199.3h5.4M705 199.3h5.2M824 199.3h5.2M127.4 197.5h5.4M197.6 197.5h5.4M375.8 197.5h5.4M462.2 197.5h5.4M510.8 197.5h5.4M570.2 197.5h5.4M672.8 197.5h5.4M694.4 197.5h5.4M726.6 197.5h5.2M878 197.5h5.2M203 195.7h5.4M230 195.7h5.4M240.8 195.7h5.4M267.8 195.7h5.4M316.4 195.7h5.4M386.6 195.7h5.4M408.2 195.7h5.4M446 195.7h5.4M473 195.7h5.4M548.6 195.7h5.4M559.4 195.7h5.4M597.2 195.7h5.4M629.6 195.7h5.4M824 195.7h5.2M122 193.9h5.4M143.6 193.9h5.4M348.8 193.9h10.8M413.6 193.9h5.4M429.8 193.9h5.4M440.6 193.9h5.4M462.2 193.9h5.4M586.4 193.9h5.4M651.2 193.9h5.4M748.2 193.9h5.2M851 193.9h5.2M176 192h5.4M262.4 192h5.4M284 192h5.4M305.6 192h5.4M348.8 192h5.4M370.4 192h5.4M408.2 192h5.4M419 192h10.8M451.4 192h5.4M570.2 192h5.4M581 192h5.4M597.2 192h5.4M629.6 192h5.4M689 192h5.4M715.8 192h5.2M824 192h5.2M143.6 190.2h5.4M154.4 190.2h5.4M213.8 190.2h5.4M235.4 190.2h5.4M321.8 190.2h5.4M483.8 190.2h5.4M564.8 190.2h10.8M581 190.2h5.4M608 190.2h5.4M662 190.2h5.4M759 190.2h5.2M878 190.2h5.2M127.4 188.4h5.4M197.6 188.4h5.4M230 188.4h5.4M284 188.4h5.4M332.6 188.4h5.4M359.6 188.4h5.4M392 188.4h5.4M419 188.4h5.4M429.8 188.4h10.8M446 188.4h5.4M467.6 188.4h5.4M548.6 188.4h5.4M651.2 188.4h10.8M748.2 188.4h5.2M769.8 188.4h5.2M905 188.4h5.2M127.4 186.6h10.8M159.8 186.6h5.4M170.6 186.6h5.4M181.4 186.6h10.8M197.6 186.6h5.4M213.8 186.6h5.4M246.2 186.6h10.8M267.8 186.6h5.4M289.4 186.6h5.4M311 186.6h5.4M343.4 186.6h5.4M359.6 186.6h5.4M392 186.6h5.4M581 186.6h10.8M672.8 186.6h10.8M769.8 186.6h5.2M132.8 184.8h10.8M170.6 184.8h10.8M208.4 184.8h5.4M262.4 184.8h5.4M294.8 184.8h5.4M316.4 184.8h5.4M354.2 184.8h5.4M419 184.8h5.4M451.4 184.8h5.4M510.8 184.8h5.4M564.8 184.8h5.4M624.2 184.8h5.4M640.4 184.8h5.4M672.8 184.8h5.4M122 183h5.4M208.4 183h5.4M230 183h5.4M257 183h5.4M273.2 183h5.4M316.4 183h5.4M343.4 183h5.4M451.4 183h5.4M532.4 183h5.4M564.8 183h10.8M715.8 183h5.2M759 183h5.2M132.8 181.2h10.8M176 181.2h5.4M316.4 181.2h5.4M365 181.2h5.4M451.4 181.2h5.4M467.6 181.2h5.4M494.6 181.2h5.4M505.4 181.2h5.4M759 181.2h5.2M824 181.2h5.2M192.2 179.4h5.4M230 179.4h5.4M246.2 179.4h5.4M262.4 179.4h5.4M370.4 179.4h5.4M440.6 179.4h5.4M478.4 179.4h5.4M559.4 179.4h10.8M651.2 179.4h5.4M737.4 179.4h5.2M932 179.4h5.2M257 177.5h10.8M289.4 177.5h5.4M300.2 177.5h5.4M316.4 177.5h10.8M440.6 177.5h5.4M489.2 177.5h5.4M548.6 177.5h5.4M645.8 177.5h5.4M694.4 177.5h5.4M726.6 177.5h5.2M122 175.7h5.4M132.8 175.7h10.8M186.8 175.7h5.4M203 175.7h5.4M240.8 175.7h5.4M262.4 175.7h5.4M284 175.7h5.4M311 175.7h5.4M343.4 175.7h5.4M375.8 175.7h5.4M424.4 175.7h5.4M581 175.7h5.4M851 175.7h5.2M321.8 173.9h5.4M338 173.9h5.4M451.4 173.9h5.4M489.2 173.9h5.4M516.2 173.9h5.4M564.8 173.9h5.4M683.6 173.9h5.4M132.8 172.1h5.4M197.6 172.1h5.4M235.4 172.1h5.4M289.4 172.1h5.4M300.2 172.1h5.4M327.2 172.1h5.4M456.8 172.1h10.8M478.4 172.1h5.4M494.6 172.1h5.4M527 172.1h10.8M554 172.1h5.4M570.2 172.1h5.4M878 172.1h5.2M143.6 170.3h5.4M273.2 170.3h5.4M370.4 170.3h5.4M424.4 170.3h5.4M473 170.3h5.4M548.6 170.3h5.4M581 170.3h5.4M651.2 170.3h10.8M715.8 170.3h5.2M737.4 170.3h5.2M769.8 170.3h5.2M797 170.3h5.2M170.6 168.5h5.4M213.8 168.5h5.4M311 168.5h5.4M381.2 168.5h5.4M505.4 168.5h5.4M737.4 168.5h5.2M165.2 166.7h5.4M186.8 166.7h5.4M278.6 166.7h5.4M435.2 166.7h5.4M554 166.7h5.4M564.8 166.7h5.4M640.4 166.7h10.8M662 166.7h5.4M683.6 166.7h10.8M737.4 166.7h5.2M273.2 164.9h10.8M359.6 164.9h10.8M386.6 164.9h5.4M419 164.9h5.4M429.8 164.9h5.4M440.6 164.9h5.4M456.8 164.9h5.4M537.8 164.9h5.4M548.6 164.9h5.4M581 164.9h5.4M640.4 164.9h5.4M154.4 163h5.4M305.6 163h21.6M370.4 163h5.4M381.2 163h16.2M419 163h5.4M456.8 163h5.4M543.2 163h5.4M586.4 163h5.4M629.6 163h5.4M759 163h5.2M149 161.2h5.4M159.8 161.2h5.4M181.4 161.2h5.4M224.6 161.2h5.4M327.2 161.2h5.4M359.6 161.2h5.4M370.4 161.2h5.4M413.6 161.2h5.4M456.8 161.2h5.4M489.2 161.2h5.4M527 161.2h5.4M554 161.2h5.4M564.8 161.2h5.4M645.8 161.2h5.4M689 161.2h5.4M181.4 159.4h5.4M246.2 159.4h5.4M273.2 159.4h5.4M354.2 159.4h10.8M408.2 159.4h10.8M473 159.4h5.4M527 159.4h5.4M586.4 159.4h5.4M624.2 159.4h5.4M662 159.4h5.4M737.4 159.4h5.2M824 159.4h5.2M203 157.6h5.4M354.2 157.6h5.4M392 157.6h5.4M402.8 157.6h5.4M419 157.6h5.4M489.2 157.6h5.4M510.8 157.6h10.8M537.8 157.6h5.4M715.8 157.6h5.2M797 157.6h5.2M905 157.6h5.2M138.2 155.8h5.4M165.2 155.8h5.4M197.6 155.8h5.4M251.6 155.8h10.8M289.4 155.8h5.4M300.2 155.8h5.4M359.6 155.8h5.4M451.4 155.8h5.4M462.2 155.8h5.4M505.4 155.8h5.4M543.2 155.8h10.8M683.6 155.8h5.4M705 155.8h5.2M715.8 155.8h5.2M748.2 155.8h5.2M154.4 154h5.4M165.2 154h5.4M208.4 154h5.4M235.4 154h10.8M321.8 154h5.4M370.4 154h5.4M451.4 154h5.4M489.2 154h5.4M602.6 154h5.4M715.8 154h5.2M737.4 154h5.2M127.4 152.2h5.4M186.8 152.2h5.4M257 152.2h5.4M278.6 152.2h5.4M311 152.2h5.4M354.2 152.2h5.4M381.2 152.2h5.4M451.4 152.2h5.4M489.2 152.2h5.4M510.8 152.2h5.4M537.8 152.2h5.4M689 152.2h5.4M737.4 152.2h5.2M132.8 150.4h10.8M154.4 150.4h5.4M197.6 150.4h5.4M251.6 150.4h10.8M284 150.4h5.4M343.4 150.4h5.4M375.8 150.4h5.4M386.6 150.4h10.8M467.6 150.4h5.4M494.6 150.4h5.4M548.6 150.4h5.4M629.6 150.4h5.4M689 150.4h5.4M705 150.4h5.2M759 150.4h5.2M159.8 148.5h5.4M192.2 148.5h5.4M311 148.5h5.4M348.8 148.5h5.4M370.4 148.5h5.4M429.8 148.5h5.4M510.8 148.5h5.4M548.6 148.5h5.4M570.2 148.5h5.4M581 148.5h5.4M618.8 148.5h10.8M662 148.5h5.4M932 148.5h5.2M165.2 146.7h5.4M327.2 146.7h5.4M386.6 146.7h5.4M435.2 146.7h5.4M564.8 146.7h5.4M678.2 146.7h5.4M715.8 146.7h5.2M748.2 146.7h5.2M769.8 146.7h5.2M824 146.7h5.2M170.6 144.9h5.4M186.8 144.9h5.4M197.6 144.9h5.4M246.2 144.9h5.4M278.6 144.9h5.4M408.2 144.9h10.8M462.2 144.9h5.4M500 144.9h5.4M527 144.9h10.8M543.2 144.9h5.4M559.4 144.9h5.4M581 144.9h5.4M629.6 144.9h5.4M678.2 144.9h5.4M769.8 144.9h5.2M154.4 143.1h5.4M208.4 143.1h16.2M278.6 143.1h10.8M300.2 143.1h5.4M311 143.1h5.4M365 143.1h5.4M375.8 143.1h5.4M451.4 143.1h5.4M489.2 143.1h5.4M586.4 143.1h5.4M678.2 143.1h5.4M878 143.1h5.2M127.4 141.3h5.4M138.2 141.3h5.4M165.2 141.3h5.4M186.8 141.3h5.4M203 141.3h5.4M332.6 141.3h5.4M473 141.3h5.4M494.6 141.3h5.4M510.8 141.3h16.2M581 141.3h5.4M667.4 141.3h5.4M689 141.3h5.4M759 141.3h5.2M851 141.3h5.2M905 141.3h5.2M213.8 139.5h5.4M257 139.5h5.4M316.4 139.5h5.4M354.2 139.5h5.4M375.8 139.5h5.4M435.2 139.5h5.4M500 139.5h5.4M521.6 139.5h5.4M575.6 139.5h5.4M656.6 139.5h5.4M878 139.5h5.2M122 137.7h5.4M213.8 137.7h5.4M224.6 137.7h5.4M251.6 137.7h5.4M289.4 137.7h5.4M359.6 137.7h5.4M548.6 137.7h5.4M635 137.7h5.4M689 137.7h10.8M759 137.7h5.2M138.2 135.9h5.4M359.6 135.9h5.4M435.2 135.9h5.4M478.4 135.9h5.4M510.8 135.9h5.4M548.6 135.9h5.4M570.2 135.9h5.4M581 135.9h5.4M629.6 135.9h5.4M797 135.9h5.2M122 134h5.4M219.2 134h5.4M246.2 134h5.4M257 134h5.4M305.6 134h5.4M327.2 134h5.4M348.8 134h5.4M359.6 134h5.4M408.2 134h5.4M510.8 134h5.4M527 134h5.4M586.4 134h5.4M618.8 134h5.4M629.6 134h5.4M640.4 134h5.4M662 134h5.4M672.8 134h5.4M694.4 134h5.4M705 134h5.2M748.2 134h5.2M824 134h5.2M851 134h5.2M208.4 132.2h10.8M246.2 132.2h5.4M311 132.2h5.4M348.8 132.2h10.8M365 132.2h5.4M381.2 132.2h5.4M392 132.2h5.4M413.6 132.2h5.4M494.6 132.2h5.4M581 132.2h5.4M667.4 132.2h5.4M127.4 130.4h5.4M149 130.4h5.4M273.2 130.4h5.4M284 130.4h5.4M332.6 130.4h5.4M343.4 130.4h5.4M392 130.4h10.8M424.4 130.4h10.8M483.8 130.4h5.4M516.2 130.4h10.8M548.6 130.4h5.4M667.4 130.4h5.4M905 130.4h5.2M127.4 128.6h5.4M143.6 128.6h5.4M186.8 128.6h5.4M203 128.6h5.4M224.6 128.6h5.4M267.8 128.6h5.4M327.2 128.6h5.4M348.8 128.6h5.4M365 128.6h21.6M419 128.6h5.4M435.2 128.6h5.4M467.6 128.6h5.4M478.4 128.6h5.4M564.8 128.6h5.4M608 128.6h5.4M667.4 128.6h5.4M694.4 128.6h5.4M726.6 128.6h5.2M737.4 128.6h5.2M878 128.6h5.2M181.4 126.8h5.4M192.2 126.8h5.4M224.6 126.8h5.4M251.6 126.8h5.4M473 126.8h5.4M543.2 126.8h5.4M564.8 126.8h5.4M640.4 126.8h5.4M667.4 126.8h5.4M797 126.8h5.2M878 126.8h5.2M932 126.8h5.2M181.4 125h5.4M230 125h10.8M278.6 125h5.4M321.8 125h5.4M413.6 125h10.8M435.2 125h5.4M510.8 125h5.4M543.2 125h5.4M597.2 125h10.8M613.4 125h5.4M635 125h5.4M667.4 125h5.4M678.2 125h5.4M726.6 125h5.2M769.8 125h5.2M797 125h5.2M122 123.2h5.4M197.6 123.2h5.4M235.4 123.2h5.4M316.4 123.2h10.8M332.6 123.2h5.4M343.4 123.2h5.4M370.4 123.2h5.4M386.6 123.2h5.4M419 123.2h5.4M467.6 123.2h10.8M483.8 123.2h5.4M505.4 123.2h5.4M602.6 123.2h5.4M645.8 123.2h5.4M667.4 123.2h5.4M694.4 123.2h5.4M769.8 123.2h5.2M824 123.2h5.2M878 123.2h5.2M122 121.4h10.8M219.2 121.4h5.4M359.6 121.4h5.4M419 121.4h5.4M521.6 121.4h5.4M543.2 121.4h5.4M554 121.4h5.4M597.2 121.4h5.4M618.8 121.4h5.4M651.2 121.4h5.4M769.8 121.4h5.2M159.8 119.5h5.4M203 119.5h5.4M343.4 119.5h5.4M510.8 119.5h5.4M527 119.5h5.4M559.4 119.5h5.4M748.2 119.5h5.2M203 117.7h5.4M300.2 117.7h5.4M338 117.7h5.4M354.2 117.7h5.4M397.4 117.7h5.4M413.6 117.7h5.4M451.4 117.7h5.4M473 117.7h5.4M554 117.7h5.4M575.6 117.7h5.4M667.4 117.7h5.4M769.8 117.7h5.2M824 117.7h5.2M905 117.7h5.2M203 115.9h10.8M435.2 115.9h5.4M532.4 115.9h10.8M618.8 115.9h5.4M748.2 115.9h5.2M769.8 115.9h5.2M824 115.9h5.2M138.2 114.1h5.4M192.2 114.1h5.4M219.2 114.1h5.4M257 114.1h5.4M381.2 114.1h5.4M424.4 114.1h5.4M489.2 114.1h5.4M500 114.1h10.8M532.4 114.1h10.8M570.2 114.1h5.4M591.8 114.1h5.4M645.8 114.1h5.4M186.8 112.3h5.4M327.2 112.3h5.4M354.2 112.3h5.4M375.8 112.3h5.4M402.8 112.3h10.8M435.2 112.3h10.8M462.2 112.3h5.4M527 112.3h5.4M537.8 112.3h5.4M548.6 112.3h10.8M581 112.3h10.8M656.6 112.3h5.4M678.2 112.3h5.4M132.8 110.5h5.4M143.6 110.5h5.4M278.6 110.5h5.4M365 110.5h5.4M381.2 110.5h16.2M402.8 110.5h10.8M446 110.5h5.4M473 110.5h5.4M635 110.5h5.4M726.6 110.5h5.2M149 108.7h5.4M186.8 108.7h5.4M219.2 108.7h5.4M316.4 108.7h5.4M332.6 108.7h5.4M354.2 108.7h5.4M370.4 108.7h5.4M397.4 108.7h5.4M440.6 108.7h5.4M483.8 108.7h5.4M505.4 108.7h5.4M527 108.7h5.4M667.4 108.7h5.4M759 108.7h5.2M797 108.7h5.2M197.6 106.9h5.4M219.2 106.9h5.4M251.6 106.9h5.4M267.8 106.9h5.4M316.4 106.9h5.4M359.6 106.9h5.4M392 106.9h5.4M435.2 106.9h5.4M559.4 106.9h5.4M597.2 106.9h5.4M618.8 106.9h5.4M640.4 106.9h5.4M667.4 106.9h5.4M715.8 106.9h5.2M769.8 106.9h5.2M797 106.9h5.2M122 105h5.4M181.4 105h5.4M197.6 105h5.4M235.4 105h5.4M246.2 105h5.4M294.8 105h5.4M392 105h5.4M408.2 105h10.8M473 105h16.2M510.8 105h5.4M554 105h5.4M651.2 105h5.4M662 105h5.4M683.6 105h5.4M705 105h5.2M715.8 105h5.2M769.8 105h5.2M122 103.2h5.4M327.2 103.2h5.4M359.6 103.2h5.4M424.4 103.2h5.4M456.8 103.2h5.4M548.6 103.2h5.4M591.8 103.2h5.4M629.6 103.2h5.4M176 101.4h5.4M224.6 101.4h5.4M278.6 101.4h5.4M332.6 101.4h5.4M359.6 101.4h5.4M483.8 101.4h5.4M500 101.4h5.4M516.2 101.4h5.4M564.8 101.4h5.4M586.4 101.4h5.4M613.4 101.4h5.4M645.8 101.4h5.4M748.2 101.4h5.2M246.2 99.6h10.8M267.8 99.6h5.4M365 99.6h5.4M402.8 99.6h5.4M413.6 99.6h5.4M429.8 99.6h5.4M440.6 99.6h5.4M451.4 99.6h5.4M462.2 99.6h5.4M500 99.6h10.8M575.6 99.6h5.4M597.2 99.6h5.4M769.8 99.6h5.2M186.8 97.8h5.4M219.2 97.8h5.4M267.8 97.8h5.4M300.2 97.8h10.8M424.4 97.8h5.4M462.2 97.8h5.4M473 97.8h5.4M624.2 97.8h5.4M645.8 97.8h5.4M159.8 96h5.4M219.2 96h5.4M359.6 96h5.4M451.4 96h5.4M462.2 96h5.4M559.4 96h5.4M570.2 96h5.4M651.2 96h5.4M662 96h5.4M769.8 96h5.2M165.2 94.2h5.4M262.4 94.2h5.4M284 94.2h5.4M294.8 94.2h5.4M305.6 94.2h5.4M370.4 94.2h5.4M424.4 94.2h5.4M570.2 94.2h5.4M581 94.2h5.4M715.8 94.2h5.2M726.6 94.2h5.2M737.4 94.2h5.2M759 94.2h5.2M186.8 92.4h5.4M224.6 92.4h5.4M305.6 92.4h5.4M375.8 92.4h5.4M402.8 92.4h5.4M435.2 92.4h5.4M473 92.4h5.4M527 92.4h5.4M715.8 92.4h5.2M851 92.4h5.2M127.4 90.5h5.4M170.6 90.5h5.4M224.6 90.5h5.4M278.6 90.5h5.4M305.6 90.5h5.4M386.6 90.5h5.4M397.4 90.5h5.4M451.4 90.5h5.4M527 90.5h5.4M586.4 90.5h5.4M726.6 90.5h5.2M122 88.7h5.4M170.6 88.7h10.8M240.8 88.7h5.4M273.2 88.7h10.8M289.4 88.7h5.4M408.2 88.7h5.4M494.6 88.7h5.4M559.4 88.7h10.8M672.8 88.7h10.8M759 88.7h5.2M878 88.7h5.2M132.8 86.9h5.4M332.6 86.9h5.4M483.8 86.9h5.4M494.6 86.9h5.4M505.4 86.9h5.4M608 86.9h5.4M689 86.9h5.4M705 86.9h5.2M759 86.9h5.2M824 86.9h5.2"/>
<path stroke="#481a6c" d="M462.2 786.5h5.4M608 786.5h5.4M159.8 782.9h5.4M300.2 782.9h5.4M500 777.5h5.4M824 777.5h5.2M300.2 775.7h5.4M176 773.9h5.4M262.4 773.9h5.4M300.2 773.9h5.4M408.2 773.9h5.4M683.6 773.9h5.4M797 773.9h5.2M235.4 772h5.4M527 772h5.4M694.4 772h5.4M748.2 772h5.2M905 772h5.2M176 770.2h5.4M267.8 770.2h5.4M500 770.2h5.4M672.8 770.2h5.4M532.4 768.4h5.4M672.8 768.4h5.4M192.2 766.6h5.4M203 766.6h5.4M219.2 766.6h5.4M273.2 766.6h5.4M284 766.6h5.4M338 766.6h5.4M370.4 766.6h5.4M386.6 766.6h5.4M402.8 766.6h5.4M429.8 766.6h5.4M462.2 766.6h5.4M489.2 766.6h5.4M510.8 766.6h10.8M537.8 766.6h5.4M575.6 766.6h16.2M635 766.6h5.4M662 766.6h5.4M694.4 766.6h5.4M737.4 766.6h5.2M748.2 766.6h5.2M759 766.6h5.2M143.6 764.8h5.4M197.6 764.8h5.4M219.2 764.8h5.4M240.8 764.8h5.4M278.6 764.8h5.4M289.4 764.8h5.4M311 764.8h5.4M467.6 764.8h5.4M478.4 764.8h5.4M543.2 764.8h5.4M554 764.8h10.8M662 764.8h5.4M678.2 764.8h5.4M748.2 764.8h5.2M143.6 763h5.4M176 763h5.4M197.6 763h5.4M219.2 763h10.8M289.4 763h5.4M305.6 763h5.4M332.6 763h5.4M381.2 763h5.4M435.2 763h10.8M467.6 763h10.8M548.6 763h10.8M564.8 763h5.4M186.8 761.2h5.4M197.6 761.2h5.4M224.6 761.2h5.4M273.2 761.2h10.8M354.2 761.2h5.4M370.4 761.2h5.4M381.2 761.2h5.4M559.4 761.2h5.4M613.4 761.2h5.4M662 761.2h5.4M678.2 761.2h10.8M219.2 759.4h5.4M240.8 759.4h5.4M267.8 759.4h5.4M327.2 759.4h5.4M338 759.4h5.4M370.4 759.4h5.4M397.4 759.4h5.4M429.8 759.4h5.4M521.6 759.4h5.4M548.6 759.4h10.8M635 759.4h10.8M651.2 759.4h5.4M672.8 759.4h5.4M683.6 759.4h10.8M769.8 759.4h5.2M138.2 757.5h5.4M181.4 757.5h16.2M224.6 757.5h5.4M257 757.5h5.4M284 757.5h10.8M348.8 757.5h5.4M359.6 757.5h5.4M381.2 757.5h5.4M392 757.5h5.4M402.8 757.5h5.4M424.4 757.5h16.2M451.4 757.5h5.4M489.2 757.5h5.4M537.8 757.5h10.8M662 757.5h5.4M127.4 755.7h5.4M192.2 755.7h5.4M203 755.7h5.4M251.6 755.7h5.4M278.6 755.7h16.2M316.4 755.7h10.8M375.8 755.7h5.4M386.6 755.7h5.4M413.6 755.7h5.4M429.8 755.7h5.4M478.4 755.7h5.4M543.2 755.7h5.4M613.4 755.7h16.2M640.4 755.7h5.4M651.2 755.7h5.4M737.4 755.7h5.2M851 755.7h5.2M122 753.9h5.4M165.2 753.9h5.4M203 753.9h5.4M219.2 753.9h5.4M246.2 753.9h10.8M381.2 753.9h5.4M392 753.9h5.4M424.4 753.9h5.4M521.6 753.9h5.4M548.6 753.9h5.4M586.4 753.9h5.4M618.8 753.9h5.4M672.8 753.9h5.4M797 753.9h5.2M143.6 752.1h5.4M176 752.1h5.4M224.6 752.1h5.4M257 752.1h5.4M300.2 752.1h5.4M348.8 752.1h5.4M386.6 752.1h5.4M543.2 752.1h5.4M586.4 752.1h5.4M602.6 752.1h5.4M618.8 752.1h5.4M672.8 752.1h5.4M694.4 752.1h5.4M122 750.3h10.8M176 750.3h5.4M213.8 750.3h5.4M240.8 750.3h5.4M284 750.3h5.4M332.6 750.3h5.4M370.4 750.3h5.4M429.8 750.3h5.4M446 750.3h5.4M473 750.3h5.4M548.6 750.3h5.4M559.4 750.3h5.4M608 750.3h10.8M635 750.3h5.4M645.8 750.3h10.8M667.4 750.3h5.4M726.6 750.3h5.2M851 750.3h5.2M143.6 748.5h5.4M219.2 748.5h5.4M251.6 748.5h5.4M273.2 748.5h5.4M327.2 748.5h5.4M354.2 748.5h5.4M478.4 748.5h5.4M554 748.5h5.4M689 748.5h5.4M208.4 746.7h5.4M219.2 746.7h5.4M257 746.7h5.4M354.2 746.7h5.4M505.4 746.7h5.4M527 746.7h10.8M575.6 746.7h5.4M667.4 746.7h5.4M689 746.7h5.4M878 746.7h5.2M176 744.9h5.4M267.8 744.9h5.4M402.8 744.9h5.4M532.4 744.9h5.4M543.2 744.9h5.4M591.8 744.9h5.4M613.4 744.9h5.4M656.6 744.9h5.4M667.4 744.9h5.4M769.8 744.9h5.2M824 744.9h5.2M127.4 743h5.4M203 743h5.4M240.8 743h5.4M262.4 743h5.4M321.8 743h5.4M402.8 743h5.4M456.8 743h5.4M532.4 743h5.4M656.6 743h5.4M672.8 743h5.4M759 743h5.2M878 743h5.2M267.8 741.2h5.4M348.8 741.2h10.8M365 741.2h5.4M483.8 741.2h5.4M683.6 741.2h5.4M769.8 741.2h5.2M240.8 739.4h5.4M305.6 739.4h5.4M402.8 739.4h5.4M446 739.4h5.4M478.4 739.4h10.8M494.6 739.4h5.4M678.2 739.4h10.8M186.8 737.6h5.4M267.8 737.6h5.4M338 737.6h5.4M581 737.6h5.4M608 737.6h5.4M635 737.6h5.4M689 737.6h5.4M132.8 735.8h5.4M273.2 735.8h5.4M354.2 735.8h5.4M370.4 735.8h5.4M440.6 735.8h5.4M456.8 735.8h5.4M510.8 735.8h5.4M586.4 735.8h5.4M689 735.8h5.4M726.6 735.8h5.2M759 735.8h5.2M181.4 734h5.4M294.8 734h5.4M327.2 734h5.4M408.2 734h10.8M478.4 734h5.4M500 734h5.4M516.2 734h5.4M672.8 734h5.4M683.6 734h5.4M132.8 732.2h5.4M165.2 732.2h5.4M192.2 732.2h5.4M230 732.2h5.4M305.6 732.2h5.4M343.4 732.2h5.4M375.8 732.2h5.4M386.6 732.2h5.4M413.6 732.2h5.4M435.2 732.2h5.4M467.6 732.2h5.4M500 732.2h5.4M564.8 732.2h5.4M759 732.2h5.2M122 730.4h5.4M170.6 730.4h5.4M186.8 730.4h16.2M219.2 730.4h5.4M246.2 730.4h5.4M343.4 730.4h5.4M359.6 730.4h5.4M370.4 730.4h10.8M397.4 730.4h5.4M451.4 730.4h5.4M462.2 730.4h5.4M500 730.4h5.4M543.2 730.4h5.4M624.2 730.4h5.4M640.4 730.4h10.8M154.4 728.5h5.4M181.4 728.5h5.4M230 728.5h5.4M294.8 728.5h5.4M343.4 728.5h5.4M370.4 728.5h5.4M424.4 728.5h5.4M505.4 728.5h5.4M586.4 728.5h5.4M737.4 728.5h5.2M769.8 728.5h5.2M878 728.5h5.2M127.4 726.7h10.8M230 726.7h10.8M246.2 726.7h5.4M294.8 726.7h5.4M348.8 726.7h5.4M397.4 726.7h5.4M419 726.7h10.8M435.2 726.7h5.4M500 726.7h5.4M510.8 726.7h5.4M559.4 726.7h5.4M581 726.7h5.4M591.8 726.7h5.4M689 726.7h5.4M824 726.7h5.2M203 724.9h5.4M235.4 724.9h5.4M289.4 724.9h5.4M338 724.9h5.4M456.8 724.9h5.4M467.6 724.9h10.8M543.2 724.9h5.4M559.4 724.9h5.4M581 724.9h5.4M618.8 724.9h5.4M667.4 724.9h5.4M683.6 724.9h5.4M127.4 723.1h10.8M143.6 723.1h5.4M186.8 723.1h10.8M203 723.1h5.4M213.8 723.1h5.4M230 723.1h5.4M246.2 723.1h5.4M278.6 723.1h5.4M386.6 723.1h5.4M408.2 723.1h5.4M516.2 723.1h5.4M602.6 723.1h5.4M629.6 723.1h5.4M678.2 723.1h5.4M769.8 723.1h5.2M186.8 721.3h5.4M213.8 721.3h10.8M262.4 721.3h5.4M343.4 721.3h5.4M516.2 721.3h10.8M602.6 721.3h5.4M645.8 721.3h5.4M662 721.3h5.4M737.4 721.3h5.2M824 721.3h5.2M138.2 719.5h5.4M197.6 719.5h5.4M316.4 719.5h5.4M365 719.5h5.4M419 719.5h5.4M467.6 719.5h5.4M489.2 719.5h5.4M527 719.5h5.4M624.2 719.5h10.8M797 719.5h5.2M851 719.5h5.2M122 717.7h5.4M159.8 717.7h5.4M192.2 717.7h5.4M219.2 717.7h5.4M246.2 717.7h5.4M321.8 717.7h5.4M338 717.7h5.4M348.8 717.7h5.4M381.2 717.7h5.4M451.4 717.7h5.4M467.6 717.7h5.4M483.8 717.7h5.4M537.8 717.7h5.4M672.8 717.7h5.4M132.8 715.9h5.4M176 715.9h5.4M262.4 715.9h5.4M273.2 715.9h5.4M284 715.9h16.2M392 715.9h5.4M429.8 715.9h5.4M456.8 715.9h5.4M473 715.9h5.4M597.2 715.9h5.4M769.8 715.9h5.2M311 714h5.4M392 714h5.4M419 714h5.4M429.8 714h5.4M537.8 714h5.4M570.2 714h5.4M705 714h5.2M769.8 714h5.2M932 714h5.2M132.8 712.2h5.4M186.8 712.2h5.4M213.8 712.2h5.4M267.8 712.2h5.4M386.6 712.2h5.4M570.2 712.2h5.4M586.4 712.2h5.4M618.8 712.2h5.4M629.6 712.2h5.4M672.8 712.2h5.4M824 712.2h5.2M154.4 710.4h5.4M235.4 710.4h5.4M262.4 710.4h5.4M294.8 710.4h5.4M343.4 710.4h10.8M608 710.4h5.4M629.6 710.4h5.4M651.2 710.4h5.4M705 710.4h5.2M759 710.4h5.2M143.6 708.6h5.4M230 708.6h10.8M305.6 708.6h5.4M386.6 708.6h5.4M435.2 708.6h10.8M473 708.6h5.4M527 708.6h5.4M591.8 708.6h5.4M651.2 708.6h5.4M230 706.8h5.4M257 706.8h5.4M305.6 706.8h5.4M451.4 706.8h5.4M581 706.8h5.4M597.2 706.8h5.4M645.8 706.8h5.4M262.4 705h5.4M300.2 705h5.4M348.8 705h5.4M381.2 705h5.4M392 705h10.8M419 705h10.8M440.6 705h10.8M510.8 705h5.4M564.8 705h5.4M618.8 705h5.4M932 705h5.2M165.2 703.2h5.4M197.6 703.2h5.4M213.8 703.2h5.4M267.8 703.2h5.4M294.8 703.2h5.4M354.2 703.2h5.4M397.4 703.2h5.4M435.2 703.2h5.4M483.8 703.2h10.8M500 703.2h5.4M602.6 703.2h5.4M624.2 703.2h5.4M667.4 703.2h5.4M705 703.2h5.2M797 703.2h5.2M338 701.4h5.4M348.8 701.4h5.4M413.6 701.4h5.4M586.4 701.4h10.8M662 701.4h5.4M759 701.4h5.2M878 701.4h5.2M197.6 699.5h5.4M208.4 699.5h5.4M273.2 699.5h5.4M408.2 699.5h5.4M451.4 699.5h5.4M473 699.5h5.4M575.6 699.5h5.4M618.8 699.5h5.4M138.2 697.7h5.4M230 697.7h5.4M311 697.7h5.4M354.2 697.7h5.4M440.6 697.7h5.4M586.4 697.7h5.4M694.4 697.7h5.4M327.2 695.9h5.4M343.4 695.9h5.4M402.8 695.9h5.4M424.4 695.9h5.4M435.2 695.9h5.4M467.6 695.9h5.4M483.8 695.9h5.4M532.4 695.9h5.4M683.6 695.9h5.4M797 695.9h5.2M905 695.9h5.2M176 694.1h5.4M203 694.1h5.4M246.2 694.1h5.4M257 694.1h5.4M273.2 694.1h5.4M294.8 694.1h5.4M446 694.1h5.4M478.4 694.1h5.4M591.8 694.1h5.4M613.4 694.1h5.4M629.6 694.1h5.4M726.6 694.1h5.2M878 694.1h5.2M905 694.1h5.2M213.8 692.3h5.4M354.2 692.3h5.4M451.4 692.3h5.4M467.6 692.3h5.4M602.6 692.3h5.4M629.6 692.3h5.4M651.2 692.3h5.4M715.8 692.3h5.2M769.8 692.3h5.2M932 692.3h5.2M165.2 690.5h5.4M186.8 690.5h5.4M246.2 690.5h5.4M273.2 690.5h5.4M289.4 690.5h5.4M311 690.5h5.4M332.6 690.5h5.4M435.2 690.5h5.4M494.6 690.5h5.4M527 690.5h5.4M235.4 688.7h5.4M273.2 688.7h5.4M294.8 688.7h5.4M305.6 688.7h5.4M359.6 688.7h5.4M440.6 688.7h5.4M483.8 688.7h5.4M494.6 688.7h10.8M510.8 688.7h5.4M554 688.7h5.4M564.8 688.7h5.4M672.8 688.7h5.4M683.6 688.7h5.4M694.4 688.7h5.4M138.2 686.9h5.4M149 686.9h5.4M159.8 686.9h5.4M219.2 686.9h5.4M262.4 686.9h5.4M316.4 686.9h5.4M365 686.9h5.4M375.8 686.9h5.4M402.8 686.9h5.4M478.4 686.9h5.4M559.4 686.9h5.4M629.6 686.9h5.4M672.8 686.9h5.4M219.2 685h5.4M429.8 685h5.4M467.6 685h5.4M494.6 685h5.4M570.2 685h5.4M213.8 683.2h5.4M354.2 683.2h5.4M510.8 683.2h5.4M662 683.2h5.4M678.2 683.2h5.4M748.2 683.2h5.2M851 683.2h5.2M132.8 681.4h5.4M143.6 681.4h5.4M159.8 681.4h5.4M192.2 681.4h5.4M224.6 681.4h5.4M235.4 681.4h5.4M311 681.4h5.4M354.2 681.4h5.4M489.2 681.4h5.4M543.2 681.4h5.4M624.2 681.4h5.4M662 681.4h5.4M726.6 681.4h5.2M737.4 681.4h5.2M197.6 679.6h5.4M235.4 679.6h5.4M251.6 679.6h5.4M267.8 679.6h5.4M321.8 679.6h5.4M343.4 679.6h5.4M370.4 679.6h5.4M451.4 679.6h5.4M532.4 679.6h5.4M554 679.6h5.4M581 679.6h5.4M591.8 679.6h5.4M672.8 679.6h5.4M694.4 679.6h5.4M932 679.6h5.2M176 677.8h5.4M197.6 677.8h10.8M219.2 677.8h5.4M332.6 677.8h5.4M365 677.8h5.4M381.2 677.8h5.4M397.4 677.8h10.8M429.8 677.8h5.4M473 677.8h5.4M532.4 677.8h5.4M624.2 677.8h5.4M705 677.8h5.2M932 677.8h5.2M127.4 676h5.4M181.4 676h5.4M192.2 676h5.4M240.8 676h5.4M316.4 676h5.4M332.6 676h5.4M365 676h5.4M408.2 676h5.4M478.4 676h5.4M537.8 676h5.4M575.6 676h5.4M645.8 676h5.4M127.4 674.2h5.4M186.8 674.2h5.4M235.4 674.2h5.4M284 674.2h10.8M300.2 674.2h5.4M311 674.2h10.8M348.8 674.2h5.4M359.6 674.2h5.4M516.2 674.2h5.4M559.4 674.2h10.8M581 674.2h5.4M662 674.2h5.4M672.8 674.2h5.4M127.4 672.4h5.4M170.6 672.4h5.4M192.2 672.4h10.8M213.8 672.4h5.4M257 672.4h5.4M305.6 672.4h5.4M354.2 672.4h5.4M381.2 672.4h5.4M435.2 672.4h5.4M446 672.4h5.4M510.8 672.4h5.4M527 672.4h5.4M575.6 672.4h5.4M678.2 672.4h5.4M759 672.4h5.2M797 672.4h5.2M159.8 670.5h10.8M176 670.5h5.4M186.8 670.5h5.4M213.8 670.5h5.4M257 670.5h5.4M284 670.5h5.4M375.8 670.5h5.4M419 670.5h10.8M570.2 670.5h5.4M581 670.5h5.4M197.6 668.7h5.4M375.8 668.7h5.4M581 668.7h16.2M624.2 668.7h5.4M678.2 668.7h5.4M694.4 668.7h5.4M878 668.7h5.2M149 666.9h5.4M165.2 666.9h5.4M208.4 666.9h5.4M246.2 666.9h5.4M289.4 666.9h5.4M305.6 666.9h5.4M397.4 666.9h5.4M435.2 666.9h5.4M543.2 666.9h5.4M905 666.9h5.2M192.2 665.1h5.4M257 665.1h5.4M289.4 665.1h5.4M316.4 665.1h5.4M343.4 665.1h5.4M397.4 665.1h5.4M451.4 665.1h5.4M500 665.1h5.4M510.8 665.1h10.8M554 665.1h5.4M602.6 665.1h5.4M656.6 665.1h10.8M683.6 665.1h5.4M737.4 665.1h5.2M932 665.1h5.2M122 663.3h5.4M219.2 663.3h5.4M278.6 663.3h5.4M311 663.3h5.4M397.4 663.3h10.8M629.6 663.3h5.4M705 663.3h5.2M824 663.3h5.2M170.6 661.5h5.4M197.6 661.5h5.4M213.8 661.5h5.4M284 661.5h5.4M327.2 661.5h5.4M381.2 661.5h10.8M429.8 661.5h5.4M478.4 661.5h5.4M510.8 661.5h5.4M613.4 661.5h5.4M694.4 661.5h5.4M737.4 661.5h5.2M165.2 659.7h5.4M294.8 659.7h5.4M305.6 659.7h5.4M348.8 659.7h5.4M381.2 659.7h5.4M397.4 659.7h5.4M462.2 659.7h5.4M489.2 659.7h5.4M505.4 659.7h5.4M597.2 659.7h5.4M662 659.7h5.4M824 659.7h5.2M176 657.9h10.8M278.6 657.9h10.8M305.6 657.9h5.4M381.2 657.9h10.8M397.4 657.9h5.4M543.2 657.9h5.4M597.2 657.9h5.4M608 657.9h5.4M624.2 657.9h5.4M219.2 656h5.4M230 656h5.4M257 656h5.4M284 656h5.4M397.4 656h5.4M408.2 656h5.4M473 656h5.4M521.6 656h5.4M554 656h5.4M651.2 656h5.4M769.8 656h5.2M154.4 654.2h5.4M192.2 654.2h5.4M294.8 654.2h5.4M316.4 654.2h5.4M327.2 654.2h5.4M365 654.2h5.4M500 654.2h5.4M554 654.2h5.4M624.2 654.2h5.4M645.8 654.2h5.4M689 654.2h5.4M726.6 654.2h5.2M759 654.2h5.2M213.8 652.4h10.8M278.6 652.4h5.4M316.4 652.4h5.4M354.2 652.4h5.4M435.2 652.4h5.4M489.2 652.4h5.4M505.4 652.4h5.4M527 652.4h5.4M564.8 652.4h5.4M575.6 652.4h5.4M591.8 652.4h5.4M737.4 652.4h5.2M824 652.4h5.2M132.8 650.6h5.4M203 650.6h5.4M240.8 650.6h5.4M251.6 650.6h5.4M343.4 650.6h5.4M354.2 650.6h5.4M516.2 650.6h5.4M559.4 650.6h10.8M608 650.6h5.4M635 650.6h5.4M662 650.6h5.4M672.8 650.6h5.4M127.4 648.8h5.4M149 648.8h5.4M203 648.8h5.4M257 648.8h5.4M435.2 648.8h5.4M451.4 648.8h5.4M478.4 648.8h5.4M581 648.8h5.4M759 648.8h5.2M824 648.8h5.2M127.4 647h5.4M159.8 647h10.8M246.2 647h5.4M370.4 647h5.4M446 647h5.4M483.8 647h5.4M132.8 645.2h5.4M219.2 645.2h10.8M246.2 645.2h5.4M267.8 645.2h10.8M289.4 645.2h10.8M311 645.2h5.4M370.4 645.2h10.8M494.6 645.2h5.4M505.4 645.2h10.8M521.6 645.2h5.4M537.8 645.2h5.4M683.6 645.2h5.4M694.4 645.2h5.4M132.8 643.4h5.4M197.6 643.4h5.4M208.4 643.4h5.4M219.2 643.4h5.4M235.4 643.4h5.4M262.4 643.4h5.4M284 643.4h5.4M294.8 643.4h5.4M332.6 643.4h5.4M419 643.4h5.4M435.2 643.4h5.4M446 643.4h5.4M500 643.4h5.4M537.8 643.4h5.4M586.4 643.4h5.4M624.2 643.4h5.4M689 643.4h5.4M797 643.4h5.2M154.4 641.5h5.4M278.6 641.5h5.4M327.2 641.5h5.4M402.8 641.5h5.4M451.4 641.5h5.4M473 641.5h5.4M510.8 641.5h5.4M537.8 641.5h5.4M554 641.5h5.4M613.4 641.5h5.4M726.6 641.5h5.2M797 641.5h5.2M181.4 639.7h5.4M230 639.7h5.4M289.4 639.7h10.8M311 639.7h10.8M338 639.7h5.4M392 639.7h10.8M505.4 639.7h10.8M602.6 639.7h5.4M645.8 639.7h5.4M705 639.7h5.2M122 637.9h5.4M154.4 637.9h5.4M203 637.9h5.4M213.8 637.9h10.8M284 637.9h10.8M311 637.9h5.4M343.4 637.9h5.4M365 637.9h5.4M381.2 637.9h5.4M429.8 637.9h5.4M440.6 637.9h5.4M467.6 637.9h5.4M505.4 637.9h5.4M651.2 637.9h10.8M159.8 636.1h5.4M213.8 636.1h10.8M305.6 636.1h5.4M316.4 636.1h10.8M386.6 636.1h5.4M413.6 636.1h5.4M462.2 636.1h5.4M500 636.1h5.4M564.8 636.1h5.4M651.2 636.1h5.4M672.8 636.1h10.8M705 636.1h5.2M878 636.1h5.2M138.2 634.3h5.4M181.4 634.3h5.4M203 634.3h5.4M246.2 634.3h5.4M257 634.3h5.4M289.4 634.3h5.4M321.8 634.3h5.4M338 634.3h5.4M370.4 634.3h5.4M386.6 634.3h5.4M478.4 634.3h5.4M516.2 634.3h5.4M575.6 634.3h5.4M726.6 634.3h5.2M748.2 634.3h5.2M905 634.3h5.2M132.8 632.5h5.4M165.2 632.5h5.4M186.8 632.5h5.4M213.8 632.5h5.4M251.6 632.5h10.8M305.6 632.5h5.4M343.4 632.5h5.4M381.2 632.5h5.4M532.4 632.5h5.4M597.2 632.5h5.4M608 632.5h5.4M715.8 632.5h5.2M769.8 632.5h5.2M154.4 630.7h5.4M165.2 630.7h5.4M289.4 630.7h5.4M327.2 630.7h21.6M397.4 630.7h5.4M462.2 630.7h5.4M478.4 630.7h5.4M500 630.7h5.4M635 630.7h5.4M715.8 630.7h5.2M213.8 628.9h5.4M235.4 628.9h5.4M284 628.9h5.4M316.4 628.9h5.4M532.4 628.9h5.4M581 628.9h5.4M651.2 628.9h10.8M667.4 628.9h5.4M689 628.9h5.4M715.8 628.9h5.2M905 628.9h5.2M127.4 627h5.4M208.4 627h5.4M240.8 627h5.4M332.6 627h5.4M413.6 627h5.4M451.4 627h5.4M483.8 627h5.4M554 627h5.4M575.6 627h5.4M143.6 625.2h5.4M359.6 625.2h5.4M381.2 625.2h5.4M419 625.2h5.4M435.2 625.2h5.4M483.8 625.2h5.4M181.4 623.4h5.4M208.4 623.4h5.4M219.2 623.4h5.4M246.2 623.4h5.4M311 623.4h5.4M327.2 623.4h5.4M365 623.4h5.4M440.6 623.4h5.4M527 623.4h5.4M548.6 623.4h5.4M602.6 623.4h5.4M737.4 623.4h5.2M878 623.4h5.2M932 623.4h5.2M197.6 621.6h5.4M370.4 621.6h5.4M408.2 621.6h5.4M429.8 621.6h5.4M586.4 621.6h5.4M608 621.6h5.4M797 621.6h5.2M235.4 619.8h5.4M289.4 619.8h5.4M435.2 619.8h5.4M467.6 619.8h5.4M494.6 619.8h5.4M645.8 619.8h10.8M667.4 619.8h5.4M797 619.8h5.2M127.4 618h5.4M181.4 618h5.4M219.2 618h5.4M230 618h5.4M289.4 618h5.4M300.2 618h5.4M311 618h5.4M348.8 618h5.4M370.4 618h5.4M402.8 618h5.4M489.2 618h5.4M500 618h5.4M516.2 618h5.4M527 618h5.4M591.8 618h5.4M678.2 618h5.4M143.6 616.2h5.4M159.8 616.2h5.4M429.8 616.2h5.4M473 616.2h5.4M505.4 616.2h5.4M591.8 616.2h5.4M602.6 616.2h5.4M769.8 616.2h5.2M905 616.2h5.2M143.6 614.4h5.4M154.4 614.4h5.4M165.2 614.4h5.4M192.2 614.4h5.4M251.6 614.4h10.8M332.6 614.4h5.4M408.2 614.4h5.4M429.8 614.4h5.4M586.4 614.4h5.4M618.8 614.4h16.2M667.4 614.4h10.8M726.6 614.4h5.2M149 612.5h5.4M176 612.5h5.4M197.6 612.5h5.4M267.8 612.5h5.4M429.8 612.5h5.4M446 612.5h5.4M521.6 612.5h5.4M624.2 612.5h5.4M824 612.5h5.2M257 610.7h5.4M294.8 610.7h5.4M311 610.7h5.4M375.8 610.7h5.4M510.8 610.7h5.4M905 610.7h5.2M138.2 608.9h5.4M186.8 608.9h10.8M278.6 608.9h5.4M365 608.9h5.4M435.2 608.9h5.4M456.8 608.9h5.4M510.8 608.9h5.4M683.6 608.9h5.4M759 608.9h5.2M181.4 607.1h5.4M224.6 607.1h5.4M240.8 607.1h5.4M311 607.1h5.4M321.8 607.1h5.4M467.6 607.1h5.4M521.6 607.1h10.8M564.8 607.1h5.4M608 607.1h5.4M640.4 607.1h5.4M672.8 607.1h5.4M824 607.1h5.2M122 605.3h5.4M176 605.3h5.4M197.6 605.3h5.4M316.4 605.3h5.4M370.4 605.3h5.4M381.2 605.3h5.4M419 605.3h5.4M575.6 605.3h5.4M629.6 605.3h5.4M705 605.3h5.2M316.4 603.5h5.4M397.4 603.5h10.8M510.8 603.5h5.4M537.8 603.5h5.4M602.6 603.5h5.4M640.4 603.5h5.4M678.2 603.5h5.4M689 603.5h5.4M878 603.5h5.2M159.8 601.7h5.4M267.8 601.7h5.4M327.2 601.7h5.4M537.8 601.7h10.8M694.4 601.7h5.4M851 601.7h5.2M127.4 599.9h5.4M267.8 599.9h5.4M316.4 599.9h10.8M392 599.9h5.4M419 599.9h5.4M429.8 599.9h5.4M656.6 599.9h5.4M667.4 599.9h5.4M143.6 598h5.4M300.2 598h5.4M311 598h5.4M338 598h5.4M375.8 598h5.4M489.2 598h5.4M575.6 598h5.4M689 598h5.4M824 598h5.2M197.6 596.2h5.4M219.2 596.2h5.4M257 596.2h5.4M284 596.2h5.4M365 596.2h5.4M419 596.2h5.4M516.2 596.2h5.4M532.4 596.2h5.4M608 596.2h10.8M624.2 596.2h5.4M683.6 596.2h5.4M759 596.2h5.2M797 596.2h5.2M878 596.2h5.2M138.2 594.4h5.4M354.2 594.4h5.4M413.6 594.4h5.4M516.2 594.4h5.4M618.8 594.4h5.4M737.4 594.4h5.2M186.8 592.6h5.4M213.8 592.6h5.4M311 592.6h5.4M505.4 592.6h5.4M543.2 592.6h10.8M575.6 592.6h5.4M613.4 592.6h5.4M122 590.8h5.4M197.6 590.8h5.4M208.4 590.8h5.4M278.6 590.8h5.4M435.2 590.8h5.4M516.2 590.8h5.4M559.4 590.8h5.4M597.2 590.8h5.4M613.4 590.8h5.4M640.4 590.8h5.4M662 590.8h5.4M689 590.8h5.4M726.6 590.8h5.2M159.8 589h10.8M230 589h5.4M284 589h5.4M343.4 589h5.4M381.2 589h5.4M429.8 589h5.4M467.6 589h5.4M500 589h5.4M635 589h5.4M662 589h5.4M689 589h5.4M715.8 589h5.2M748.2 589h5.2M759 589h5.2M932 589h5.2M127.4 587.2h10.8M143.6 587.2h10.8M165.2 587.2h10.8M186.8 587.2h5.4M230 587.2h5.4M267.8 587.2h5.4M327.2 587.2h5.4M494.6 587.2h5.4M516.2 587.2h5.4M591.8 587.2h5.4M672.8 587.2h5.4M769.8 587.2h5.2M224.6 585.4h5.4M235.4 585.4h5.4M273.2 585.4h5.4M370.4 585.4h5.4M419 585.4h5.4M548.6 585.4h5.4M586.4 585.4h5.4M640.4 585.4h5.4M851 585.4h5.2M197.6 583.5h5.4M240.8 583.5h5.4M327.2 583.5h5.4M440.6 583.5h5.4M483.8 583.5h5.4M494.6 583.5h5.4M510.8 583.5h5.4M554 583.5h5.4M564.8 583.5h10.8M748.2 583.5h5.2M769.8 583.5h5.2M824 583.5h5.2M878 583.5h5.2M932 583.5h5.2M159.8 581.7h5.4M251.6 581.7h5.4M278.6 581.7h5.4M289.4 581.7h5.4M348.8 581.7h5.4M413.6 581.7h5.4M429.8 581.7h5.4M446 581.7h5.4M505.4 581.7h5.4M516.2 581.7h5.4M537.8 581.7h5.4M548.6 581.7h5.4M591.8 581.7h5.4M618.8 581.7h5.4M273.2 579.9h5.4M300.2 579.9h5.4M343.4 579.9h5.4M429.8 579.9h5.4M494.6 579.9h5.4M602.6 579.9h10.8M629.6 579.9h5.4M656.6 579.9h5.4M149 578.1h5.4M165.2 578.1h5.4M273.2 578.1h5.4M316.4 578.1h5.4M402.8 578.1h5.4M429.8 578.1h5.4M467.6 578.1h5.4M500 578.1h5.4M510.8 578.1h5.4M532.4 578.1h5.4M651.2 578.1h5.4M683.6 578.1h5.4M143.6 576.3h5.4M165.2 576.3h5.4M278.6 576.3h5.4M289.4 576.3h5.4M343.4 576.3h5.4M370.4 576.3h5.4M435.2 576.3h5.4M489.2 576.3h5.4M543.2 576.3h5.4M726.6 576.3h5.2M289.4 574.5h5.4M316.4 574.5h5.4M343.4 574.5h5.4M375.8 574.5h5.4M413.6 574.5h5.4M494.6 574.5h5.4M532.4 574.5h5.4M559.4 574.5h5.4M715.8 574.5h5.2M127.4 572.7h5.4M170.6 572.7h5.4M365 572.7h10.8M386.6 572.7h5.4M402.8 572.7h10.8M456.8 572.7h5.4M581 572.7h16.2M769.8 572.7h5.2M824 572.7h5.2M905 572.7h5.2M132.8 570.9h5.4M208.4 570.9h5.4M284 570.9h5.4M305.6 570.9h5.4M327.2 570.9h5.4M575.6 570.9h5.4M591.8 570.9h5.4M715.8 570.9h5.2M797 570.9h5.2M181.4 569h5.4M203 569h5.4M294.8 569h10.8M327.2 569h5.4M359.6 569h5.4M397.4 569h5.4M435.2 569h5.4M451.4 569h5.4M543.2 569h5.4M575.6 569h5.4M737.4 569h5.2M878 569h5.2M186.8 567.2h5.4M208.4 567.2h5.4M257 567.2h5.4M392 567.2h10.8M419 567.2h5.4M467.6 567.2h5.4M543.2 567.2h5.4M554 567.2h5.4M683.6 567.2h5.4M726.6 567.2h5.2M176 565.4h5.4M257 565.4h5.4M354.2 565.4h5.4M419 565.4h5.4M510.8 565.4h5.4M532.4 565.4h10.8M645.8 565.4h5.4M672.8 565.4h5.4M683.6 565.4h5.4M132.8 563.6h5.4M143.6 563.6h10.8M181.4 563.6h5.4M262.4 563.6h5.4M300.2 563.6h5.4M311 563.6h5.4M327.2 563.6h10.8M370.4 563.6h5.4M419 563.6h5.4M473 563.6h5.4M483.8 563.6h5.4M532.4 563.6h5.4M575.6 563.6h5.4M613.4 563.6h5.4M715.8 563.6h5.2M759 563.6h5.2M127.4 561.8h5.4M165.2 561.8h5.4M176 561.8h5.4M305.6 561.8h5.4M397.4 561.8h5.4M483.8 561.8h5.4M570.2 561.8h5.4M613.4 561.8h5.4M629.6 561.8h10.8M656.6 561.8h5.4M769.8 561.8h5.2M235.4 560h5.4M327.2 560h5.4M338 560h5.4M386.6 560h5.4M424.4 560h10.8M489.2 560h5.4M640.4 560h5.4M694.4 560h5.4M705 560h5.2M759 560h5.2M176 558.2h5.4M203 558.2h5.4M267.8 558.2h5.4M424.4 558.2h5.4M494.6 558.2h5.4M527 558.2h5.4M575.6 558.2h5.4M597.2 558.2h5.4M678.2 558.2h5.4M694.4 558.2h5.4M715.8 558.2h5.2M737.4 558.2h5.2M748.2 558.2h5.2M197.6 556.4h5.4M257 556.4h5.4M294.8 556.4h5.4M386.6 556.4h5.4M451.4 556.4h10.8M554 556.4h5.4M591.8 556.4h5.4M618.8 556.4h5.4M748.2 556.4h5.2M878 556.4h5.2M143.6 554.5h5.4M219.2 554.5h5.4M284 554.5h5.4M311 554.5h5.4M365 554.5h5.4M386.6 554.5h5.4M451.4 554.5h5.4M473 554.5h5.4M500 554.5h5.4M586.4 554.5h5.4M705 554.5h5.2M132.8 552.7h5.4M143.6 552.7h5.4M165.2 552.7h10.8M192.2 552.7h5.4M257 552.7h5.4M338 552.7h5.4M348.8 552.7h5.4M446 552.7h5.4M559.4 552.7h5.4M570.2 552.7h5.4M640.4 552.7h5.4M748.2 552.7h5.2M759 552.7h5.2M159.8 550.9h5.4M235.4 550.9h5.4M278.6 550.9h5.4M289.4 550.9h5.4M408.2 550.9h5.4M429.8 550.9h5.4M446 550.9h5.4M473 550.9h5.4M494.6 550.9h5.4M629.6 550.9h5.4M759 550.9h5.2M797 550.9h5.2M122 549.1h5.4M203 549.1h5.4M224.6 549.1h5.4M246.2 549.1h5.4M408.2 549.1h10.8M473 549.1h5.4M521.6 549.1h5.4M575.6 549.1h10.8M602.6 549.1h5.4M613.4 549.1h5.4M672.8 549.1h5.4M683.6 549.1h5.4M132.8 547.3h5.4M213.8 547.3h5.4M224.6 547.3h5.4M262.4 547.3h5.4M300.2 547.3h5.4M359.6 547.3h5.4M402.8 547.3h5.4M510.8 547.3h5.4M527 547.3h5.4M602.6 547.3h5.4M629.6 547.3h5.4M640.4 547.3h5.4M132.8 545.5h5.4M143.6 545.5h5.4M208.4 545.5h5.4M251.6 545.5h5.4M397.4 545.5h5.4M424.4 545.5h10.8M489.2 545.5h5.4M548.6 545.5h5.4M570.2 545.5h16.2M602.6 545.5h5.4M932 545.5h5.2M186.8 543.7h5.4M203 543.7h5.4M251.6 543.7h5.4M354.2 543.7h5.4M429.8 543.7h5.4M510.8 543.7h5.4M527 543.7h5.4M618.8 543.7h5.4M645.8 543.7h5.4M192.2 541.9h5.4M208.4 541.9h5.4M284 541.9h5.4M311 541.9h5.4M321.8 541.9h5.4M365 541.9h5.4M419 541.9h5.4M435.2 541.9h5.4M473 541.9h5.4M521.6 541.9h5.4M559.4 541.9h5.4M683.6 541.9h5.4M759 541.9h5.2M878 541.9h5.2M181.4 540h5.4M251.6 540h5.4M343.4 540h5.4M419 540h5.4M446 540h5.4M543.2 540h5.4M554 540h5.4M575.6 540h5.4M613.4 540h10.8M683.6 540h5.4M824 540h5.2M321.8 538.2h5.4M338 538.2h5.4M429.8 538.2h5.4M478.4 538.2h5.4M489.2 538.2h5.4M537.8 538.2h10.8M705 538.2h5.2M715.8 538.2h5.2M769.8 538.2h5.2M159.8 536.4h5.4M246.2 536.4h10.8M267.8 536.4h5.4M289.4 536.4h5.4M429.8 536.4h5.4M446 536.4h5.4M494.6 536.4h5.4M559.4 536.4h5.4M597.2 536.4h5.4M737.4 536.4h5.2M748.2 536.4h5.2M824 536.4h5.2M851 536.4h5.2M138.2 534.6h5.4M181.4 534.6h5.4M197.6 534.6h10.8M213.8 534.6h5.4M251.6 534.6h5.4M305.6 534.6h5.4M338 534.6h5.4M510.8 534.6h5.4M672.8 534.6h5.4M689 534.6h5.4M824 534.6h5.2M127.4 532.8h5.4M230 532.8h5.4M251.6 532.8h10.8M289.4 532.8h5.4M392 532.8h5.4M440.6 532.8h5.4M494.6 532.8h5.4M629.6 532.8h5.4M640.4 532.8h5.4M689 532.8h5.4M878 532.8h5.2M905 532.8h5.2M122 531h5.4M235.4 531h5.4M246.2 531h5.4M294.8 531h5.4M354.2 531h5.4M375.8 531h5.4M435.2 531h5.4M510.8 531h5.4M586.4 531h5.4M678.2 531h5.4M797 531h5.2M138.2 529.2h5.4M159.8 529.2h5.4M240.8 529.2h5.4M305.6 529.2h5.4M381.2 529.2h5.4M548.6 529.2h5.4M613.4 529.2h5.4M683.6 529.2h5.4M759 529.2h5.2M197.6 527.4h5.4M262.4 527.4h5.4M294.8 527.4h5.4M311 527.4h5.4M343.4 527.4h5.4M375.8 527.4h5.4M386.6 527.4h5.4M462.2 527.4h5.4M586.4 527.4h5.4M640.4 527.4h5.4M662 527.4h5.4M683.6 527.4h5.4M694.4 527.4h5.4M165.2 525.5h5.4M213.8 525.5h5.4M284 525.5h5.4M294.8 525.5h5.4M392 525.5h5.4M429.8 525.5h5.4M446 525.5h5.4M494.6 525.5h5.4M624.2 525.5h5.4M683.6 525.5h5.4M694.4 525.5h5.4M224.6 523.7h5.4M240.8 523.7h5.4M267.8 523.7h5.4M311 523.7h5.4M332.6 523.7h5.4M386.6 523.7h5.4M413.6 523.7h5.4M446 523.7h5.4M478.4 523.7h5.4M554 523.7h10.8M613.4 523.7h5.4M672.8 523.7h5.4M705 523.7h5.2M824 523.7h5.2M159.8 521.9h5.4M262.4 521.9h5.4M332.6 521.9h5.4M375.8 521.9h5.4M505.4 521.9h5.4M532.4 521.9h5.4M554 521.9h5.4M629.6 521.9h5.4M645.8 521.9h5.4M683.6 521.9h5.4M715.8 521.9h5.2M769.8 521.9h5.2M878 521.9h5.2M273.2 520.1h5.4M354.2 520.1h5.4M532.4 520.1h5.4M597.2 520.1h5.4M608 520.1h5.4M726.6 520.1h5.2M797 520.1h5.2M932 520.1h5.2M143.6 518.3h10.8M197.6 518.3h5.4M208.4 518.3h5.4M321.8 518.3h5.4M338 518.3h5.4M359.6 518.3h5.4M408.2 518.3h5.4M478.4 518.3h5.4M516.2 518.3h5.4M532.4 518.3h5.4M608 518.3h5.4M127.4 516.5h5.4M176 516.5h5.4M219.2 516.5h5.4M267.8 516.5h5.4M343.4 516.5h5.4M375.8 516.5h5.4M397.4 516.5h5.4M424.4 516.5h5.4M548.6 516.5h5.4M570.2 516.5h5.4M591.8 516.5h5.4M608 516.5h5.4M624.2 516.5h5.4M667.4 516.5h5.4M689 516.5h5.4M737.4 516.5h5.2M748.2 516.5h5.2M159.8 514.7h5.4M224.6 514.7h5.4M289.4 514.7h5.4M419 514.7h5.4M451.4 514.7h5.4M478.4 514.7h5.4M521.6 514.7h5.4M635 514.7h5.4M824 514.7h5.2M138.2 512.9h5.4M224.6 512.9h5.4M332.6 512.9h5.4M473 512.9h5.4M500 512.9h5.4M516.2 512.9h5.4M532.4 512.9h5.4M559.4 512.9h16.2M629.6 512.9h10.8M645.8 512.9h5.4M365 511h5.4M386.6 511h5.4M402.8 511h5.4M446 511h5.4M462.2 511h5.4M532.4 511h5.4M575.6 511h10.8M640.4 511h5.4M122 509.2h5.4M159.8 509.2h5.4M181.4 509.2h5.4M203 509.2h5.4M327.2 509.2h5.4M381.2 509.2h5.4M494.6 509.2h5.4M532.4 509.2h5.4M591.8 509.2h5.4M694.4 509.2h5.4M824 509.2h5.2M878 509.2h5.2M165.2 507.4h5.4M197.6 507.4h5.4M246.2 507.4h5.4M267.8 507.4h10.8M284 507.4h5.4M413.6 507.4h5.4M435.2 507.4h5.4M462.2 507.4h5.4M500 507.4h5.4M532.4 507.4h5.4M575.6 507.4h5.4M797 507.4h5.2M132.8 505.6h5.4M159.8 505.6h5.4M203 505.6h10.8M246.2 505.6h5.4M267.8 505.6h5.4M338 505.6h5.4M494.6 505.6h5.4M521.6 505.6h5.4M543.2 505.6h5.4M559.4 505.6h5.4M591.8 505.6h5.4M678.2 505.6h5.4M759 505.6h5.2M932 505.6h5.2M132.8 503.8h5.4M192.2 503.8h10.8M321.8 503.8h5.4M429.8 503.8h5.4M483.8 503.8h5.4M500 503.8h5.4M532.4 503.8h5.4M548.6 503.8h5.4M581 503.8h5.4M613.4 503.8h5.4M645.8 503.8h10.8M662 503.8h5.4M748.2 503.8h5.2M769.8 503.8h5.2M122 502h5.4M208.4 502h5.4M224.6 502h5.4M257 502h5.4M332.6 502h5.4M354.2 502h5.4M413.6 502h5.4M456.8 502h5.4M678.2 502h5.4M824 502h5.2M851 502h5.2M122 500.2h5.4M170.6 500.2h5.4M316.4 500.2h5.4M354.2 500.2h5.4M381.2 500.2h5.4M429.8 500.2h5.4M440.6 500.2h5.4M489.2 500.2h5.4M586.4 500.2h5.4M597.2 500.2h5.4M651.2 500.2h5.4M715.8 500.2h5.2M797 500.2h5.2M122 498.4h10.8M419 498.4h5.4M581 498.4h5.4M678.2 498.4h5.4M705 498.4h5.2M159.8 496.5h10.8M230 496.5h5.4M321.8 496.5h5.4M343.4 496.5h5.4M483.8 496.5h5.4M554 496.5h5.4M591.8 496.5h10.8M689 496.5h5.4M769.8 496.5h5.2M878 496.5h5.2M932 496.5h5.2M132.8 494.7h5.4M149 494.7h5.4M192.2 494.7h5.4M262.4 494.7h5.4M284 494.7h10.8M429.8 494.7h5.4M537.8 494.7h5.4M602.6 494.7h5.4M651.2 494.7h5.4M127.4 492.9h5.4M170.6 492.9h5.4M224.6 492.9h10.8M289.4 492.9h5.4M300.2 492.9h5.4M311 492.9h5.4M348.8 492.9h5.4M359.6 492.9h5.4M397.4 492.9h5.4M510.8 492.9h5.4M651.2 492.9h10.8M694.4 492.9h5.4M132.8 491.1h5.4M176 491.1h5.4M192.2 491.1h5.4M208.4 491.1h5.4M219.2 491.1h16.2M257 491.1h5.4M273.2 491.1h10.8M305.6 491.1h5.4M397.4 491.1h5.4M467.6 491.1h5.4M521.6 491.1h5.4M532.4 491.1h5.4M645.8 491.1h5.4M672.8 491.1h5.4M715.8 491.1h5.2M143.6 489.3h5.4M305.6 489.3h5.4M321.8 489.3h5.4M419 489.3h5.4M500 489.3h5.4M575.6 489.3h5.4M624.2 489.3h5.4M635 489.3h5.4M645.8 489.3h5.4M672.8 489.3h10.8M726.6 489.3h5.2M737.4 489.3h5.2M769.8 489.3h5.2M122 487.5h5.4M181.4 487.5h5.4M197.6 487.5h5.4M240.8 487.5h5.4M327.2 487.5h5.4M375.8 487.5h5.4M419 487.5h5.4M435.2 487.5h5.4M456.8 487.5h5.4M570.2 487.5h16.2M645.8 487.5h5.4M694.4 487.5h5.4M797 487.5h5.2M192.2 485.7h5.4M208.4 485.7h10.8M456.8 485.7h5.4M467.6 485.7h16.2M516.2 485.7h5.4M532.4 485.7h10.8M591.8 485.7h5.4M635 485.7h5.4M705 485.7h5.2M726.6 485.7h5.2M748.2 485.7h5.2M797 485.7h5.2M851 485.7h5.2M186.8 483.9h10.8M300.2 483.9h5.4M311 483.9h5.4M381.2 483.9h5.4M446 483.9h5.4M262.4 482h5.4M278.6 482h5.4M365 482h5.4M667.4 482h5.4M683.6 482h5.4M726.6 482h5.2M851 482h5.2M143.6 480.2h5.4M186.8 480.2h5.4M208.4 480.2h10.8M262.4 480.2h10.8M359.6 480.2h5.4M392 480.2h5.4M435.2 480.2h5.4M456.8 480.2h5.4M473 480.2h5.4M516.2 480.2h5.4M532.4 480.2h5.4M564.8 480.2h5.4M581 480.2h5.4M651.2 480.2h5.4M694.4 480.2h5.4M132.8 478.4h10.8M186.8 478.4h5.4M230 478.4h5.4M246.2 478.4h5.4M267.8 478.4h5.4M338 478.4h5.4M354.2 478.4h5.4M408.2 478.4h5.4M473 478.4h5.4M483.8 478.4h5.4M505.4 478.4h5.4M521.6 478.4h5.4M570.2 478.4h5.4M640.4 478.4h5.4M678.2 478.4h5.4M726.6 478.4h5.2M192.2 476.6h5.4M240.8 476.6h10.8M343.4 476.6h5.4M446 476.6h5.4M586.4 476.6h5.4M602.6 476.6h5.4M662 476.6h5.4M186.8 474.8h5.4M305.6 474.8h5.4M359.6 474.8h5.4M516.2 474.8h5.4M548.6 474.8h10.8M597.2 474.8h5.4M624.2 474.8h5.4M667.4 474.8h5.4M678.2 474.8h5.4M289.4 473h5.4M311 473h5.4M435.2 473h10.8M467.6 473h5.4M532.4 473h5.4M640.4 473h5.4M122 471.2h5.4M143.6 471.2h5.4M159.8 471.2h5.4M327.2 471.2h5.4M348.8 471.2h5.4M375.8 471.2h5.4M462.2 471.2h5.4M510.8 471.2h5.4M532.4 471.2h10.8M554 471.2h5.4M769.8 471.2h5.2M165.2 469.4h5.4M208.4 469.4h5.4M246.2 469.4h5.4M267.8 469.4h5.4M446 469.4h5.4M602.6 469.4h5.4M640.4 469.4h5.4M651.2 469.4h5.4M662 469.4h5.4M672.8 469.4h5.4M149 467.5h5.4M170.6 467.5h5.4M284 467.5h5.4M348.8 467.5h5.4M435.2 467.5h5.4M489.2 467.5h5.4M527 467.5h21.6M559.4 467.5h5.4M581 467.5h5.4M618.8 467.5h5.4M689 467.5h5.4M235.4 465.7h5.4M267.8 465.7h5.4M284 465.7h5.4M402.8 465.7h10.8M537.8 465.7h5.4M570.2 465.7h5.4M581 465.7h5.4M662 465.7h5.4M672.8 465.7h5.4M170.6 463.9h10.8M203 463.9h5.4M235.4 463.9h5.4M359.6 463.9h5.4M537.8 463.9h10.8M597.2 463.9h5.4M715.8 463.9h5.2M748.2 463.9h5.2M127.4 462.1h5.4M159.8 462.1h5.4M186.8 462.1h5.4M213.8 462.1h5.4M240.8 462.1h5.4M267.8 462.1h5.4M278.6 462.1h5.4M348.8 462.1h5.4M359.6 462.1h5.4M537.8 462.1h5.4M624.2 462.1h5.4M667.4 462.1h5.4M748.2 462.1h5.2M905 462.1h5.2M932 462.1h5.2M149 460.3h5.4M262.4 460.3h5.4M343.4 460.3h5.4M386.6 460.3h5.4M413.6 460.3h5.4M424.4 460.3h5.4M435.2 460.3h5.4M521.6 460.3h5.4M543.2 460.3h5.4M618.8 460.3h5.4M629.6 460.3h5.4M640.4 460.3h10.8M689 460.3h10.8M737.4 460.3h5.2M851 460.3h5.2M138.2 458.5h5.4M176 458.5h5.4M192.2 458.5h5.4M219.2 458.5h5.4M257 458.5h5.4M300.2 458.5h5.4M370.4 458.5h5.4M381.2 458.5h5.4M402.8 458.5h5.4M424.4 458.5h5.4M440.6 458.5h5.4M483.8 458.5h5.4M521.6 458.5h5.4M548.6 458.5h5.4M559.4 458.5h5.4M613.4 458.5h5.4M629.6 458.5h5.4M678.2 458.5h5.4M705 458.5h5.2M824 458.5h5.2M192.2 456.7h5.4M321.8 456.7h5.4M332.6 456.7h5.4M359.6 456.7h10.8M554 456.7h5.4M640.4 456.7h10.8M726.6 456.7h5.2M159.8 454.9h10.8M192.2 454.9h5.4M289.4 454.9h5.4M338 454.9h5.4M375.8 454.9h10.8M419 454.9h5.4M429.8 454.9h5.4M494.6 454.9h5.4M581 454.9h5.4M624.2 454.9h5.4M678.2 454.9h5.4M737.4 454.9h5.2M769.8 454.9h5.2M208.4 453h5.4M230 453h5.4M246.2 453h5.4M294.8 453h10.8M392 453h5.4M413.6 453h5.4M456.8 453h5.4M478.4 453h5.4M527 453h5.4M586.4 453h10.8M618.8 453h5.4M672.8 453h5.4M705 453h5.2M748.2 453h5.2M905 453h5.2M122 451.2h5.4M251.6 451.2h5.4M284 451.2h5.4M316.4 451.2h5.4M343.4 451.2h5.4M402.8 451.2h5.4M440.6 451.2h5.4M456.8 451.2h10.8M489.2 451.2h10.8M510.8 451.2h5.4M548.6 451.2h5.4M564.8 451.2h5.4M597.2 451.2h5.4M640.4 451.2h5.4M851 451.2h5.2M165.2 449.4h5.4M176 449.4h5.4M197.6 449.4h5.4M230 449.4h5.4M429.8 449.4h10.8M456.8 449.4h5.4M527 449.4h5.4M548.6 449.4h5.4M624.2 449.4h5.4M905 449.4h5.2M143.6 447.6h5.4M159.8 447.6h5.4M235.4 447.6h5.4M273.2 447.6h5.4M294.8 447.6h10.8M386.6 447.6h5.4M478.4 447.6h10.8M494.6 447.6h5.4M602.6 447.6h5.4M618.8 447.6h5.4M683.6 447.6h5.4M748.2 447.6h5.2M138.2 445.8h10.8M165.2 445.8h5.4M305.6 445.8h5.4M473 445.8h5.4M527 445.8h5.4M543.2 445.8h5.4M683.6 445.8h5.4M715.8 445.8h5.2M203 444h5.4M213.8 444h5.4M224.6 444h5.4M267.8 444h5.4M305.6 444h5.4M375.8 444h5.4M413.6 444h5.4M527 444h5.4M537.8 444h5.4M608 444h5.4M629.6 444h5.4M186.8 442.2h5.4M203 442.2h5.4M262.4 442.2h5.4M294.8 442.2h5.4M386.6 442.2h5.4M467.6 442.2h5.4M478.4 442.2h10.8M500 442.2h10.8M521.6 442.2h5.4M624.2 442.2h5.4M656.6 442.2h5.4M824 442.2h5.2M165.2 440.4h5.4M267.8 440.4h5.4M284 440.4h5.4M386.6 440.4h5.4M397.4 440.4h5.4M494.6 440.4h16.2M591.8 440.4h5.4M602.6 440.4h5.4M613.4 440.4h5.4M667.4 440.4h5.4M748.2 440.4h5.2M759 440.4h5.2M824 440.4h5.2M878 440.4h5.2M170.6 438.5h10.8M192.2 438.5h5.4M203 438.5h5.4M224.6 438.5h5.4M246.2 438.5h5.4M262.4 438.5h5.4M278.6 438.5h10.8M311 438.5h5.4M354.2 438.5h5.4M456.8 438.5h10.8M489.2 438.5h5.4M505.4 438.5h5.4M635 438.5h5.4M656.6 438.5h5.4M667.4 438.5h5.4M726.6 438.5h5.2M797 438.5h5.2M824 438.5h5.2M132.8 436.7h5.4M386.6 436.7h5.4M419 436.7h5.4M462.2 436.7h5.4M548.6 436.7h5.4M591.8 436.7h10.8M667.4 436.7h5.4M694.4 436.7h5.4M726.6 436.7h5.2M769.8 436.7h5.2M824 436.7h5.2M122 434.9h10.8M240.8 434.9h5.4M289.4 434.9h5.4M321.8 434.9h5.4M343.4 434.9h10.8M451.4 434.9h10.8M532.4 434.9h10.8M554 434.9h5.4M564.8 434.9h10.8M586.4 434.9h5.4M618.8 434.9h10.8M138.2 433.1h5.4M170.6 433.1h5.4M213.8 433.1h5.4M262.4 433.1h5.4M278.6 433.1h10.8M343.4 433.1h10.8M381.2 433.1h5.4M408.2 433.1h5.4M532.4 433.1h5.4M608 433.1h5.4M624.2 433.1h5.4M932 433.1h5.2M176 431.3h5.4M192.2 431.3h5.4M219.2 431.3h5.4M246.2 431.3h5.4M278.6 431.3h5.4M354.2 431.3h5.4M370.4 431.3h5.4M478.4 431.3h5.4M510.8 431.3h5.4M672.8 431.3h5.4M149 429.5h5.4M192.2 429.5h5.4M262.4 429.5h5.4M284 429.5h5.4M311 429.5h5.4M327.2 429.5h5.4M365 429.5h5.4M392 429.5h5.4M478.4 429.5h16.2M559.4 429.5h10.8M575.6 429.5h10.8M608 429.5h5.4M624.2 429.5h16.2M645.8 429.5h5.4M905 429.5h5.2M246.2 427.7h5.4M257 427.7h5.4M327.2 427.7h5.4M375.8 427.7h10.8M440.6 427.7h5.4M462.2 427.7h5.4M478.4 427.7h5.4M575.6 427.7h5.4M618.8 427.7h5.4M235.4 425.9h5.4M251.6 425.9h5.4M267.8 425.9h5.4M289.4 425.9h10.8M311 425.9h5.4M327.2 425.9h5.4M429.8 425.9h5.4M451.4 425.9h5.4M478.4 425.9h5.4M527 425.9h10.8M629.6 425.9h5.4M667.4 425.9h5.4M737.4 425.9h5.2M165.2 424h5.4M332.6 424h5.4M424.4 424h5.4M462.2 424h5.4M489.2 424h5.4M554 424h5.4M570.2 424h5.4M683.6 424h5.4M181.4 422.2h5.4M213.8 422.2h10.8M273.2 422.2h5.4M294.8 422.2h10.8M435.2 422.2h5.4M640.4 422.2h5.4M748.2 422.2h5.2M769.8 422.2h5.2M224.6 420.4h5.4M235.4 420.4h5.4M273.2 420.4h5.4M311 420.4h5.4M343.4 420.4h5.4M467.6 420.4h5.4M527 420.4h10.8M548.6 420.4h5.4M564.8 420.4h5.4M591.8 420.4h5.4M629.6 420.4h5.4M726.6 420.4h5.2M748.2 420.4h5.2M127.4 418.6h5.4M213.8 418.6h5.4M289.4 418.6h5.4M375.8 418.6h5.4M435.2 418.6h5.4M446 418.6h5.4M473 418.6h5.4M510.8 418.6h5.4M537.8 418.6h5.4M559.4 418.6h5.4M122 416.8h5.4M192.2 416.8h10.8M289.4 416.8h5.4M413.6 416.8h5.4M435.2 416.8h5.4M473 416.8h5.4M510.8 416.8h5.4M597.2 416.8h5.4M618.8 416.8h5.4M629.6 416.8h5.4M662 416.8h5.4M759 416.8h5.2M181.4 415h5.4M203 415h5.4M230 415h5.4M240.8 415h5.4M267.8 415h5.4M289.4 415h5.4M316.4 415h5.4M332.6 415h5.4M348.8 415h10.8M435.2 415h5.4M478.4 415h5.4M505.4 415h5.4M613.4 415h5.4M748.2 415h5.2M932 415h5.2M122 413.2h5.4M230 413.2h5.4M240.8 413.2h5.4M267.8 413.2h10.8M424.4 413.2h5.4M451.4 413.2h5.4M516.2 413.2h5.4M527 413.2h5.4M591.8 413.2h10.8M656.6 413.2h5.4M705 413.2h5.2M726.6 413.2h5.2M748.2 413.2h5.2M165.2 411.4h5.4M235.4 411.4h5.4M251.6 411.4h10.8M273.2 411.4h5.4M294.8 411.4h5.4M305.6 411.4h5.4M359.6 411.4h10.8M419 411.4h5.4M581 411.4h5.4M624.2 411.4h5.4M678.2 411.4h10.8M737.4 411.4h5.2M905 411.4h5.2M138.2 409.5h5.4M170.6 409.5h5.4M230 409.5h5.4M354.2 409.5h5.4M402.8 409.5h5.4M510.8 409.5h5.4M543.2 409.5h5.4M575.6 409.5h5.4M613.4 409.5h5.4M651.2 409.5h5.4M667.4 409.5h5.4M878 409.5h5.2M122 407.7h5.4M149 407.7h5.4M213.8 407.7h5.4M257 407.7h5.4M300.2 407.7h5.4M338 407.7h5.4M365 407.7h5.4M413.6 407.7h5.4M462.2 407.7h5.4M473 407.7h10.8M548.6 407.7h5.4M694.4 407.7h5.4M715.8 407.7h5.2M726.6 407.7h5.2M759 407.7h5.2M878 407.7h5.2M127.4 405.9h10.8M176 405.9h5.4M203 405.9h5.4M224.6 405.9h5.4M273.2 405.9h5.4M316.4 405.9h5.4M370.4 405.9h5.4M419 405.9h5.4M435.2 405.9h5.4M462.2 405.9h5.4M500 405.9h5.4M570.2 405.9h5.4M581 405.9h5.4M608 405.9h5.4M629.6 405.9h16.2M176 404.1h5.4M235.4 404.1h5.4M273.2 404.1h5.4M311 404.1h5.4M408.2 404.1h5.4M446 404.1h10.8M494.6 404.1h5.4M543.2 404.1h10.8M570.2 404.1h5.4M694.4 404.1h5.4M748.2 404.1h5.2M159.8 402.3h5.4M186.8 402.3h5.4M267.8 402.3h5.4M289.4 402.3h5.4M300.2 402.3h5.4M321.8 402.3h5.4M343.4 402.3h5.4M365 402.3h5.4M429.8 402.3h5.4M489.2 402.3h5.4M510.8 402.3h5.4M527 402.3h5.4M602.6 402.3h5.4M689 402.3h5.4M769.8 402.3h5.2M159.8 400.5h5.4M208.4 400.5h5.4M354.2 400.5h5.4M402.8 400.5h5.4M521.6 400.5h5.4M645.8 400.5h5.4M143.6 398.7h10.8M235.4 398.7h5.4M327.2 398.7h5.4M338 398.7h10.8M365 398.7h5.4M456.8 398.7h5.4M489.2 398.7h5.4M510.8 398.7h5.4M570.2 398.7h5.4M597.2 398.7h5.4M624.2 398.7h5.4M635 398.7h5.4M656.6 398.7h5.4M694.4 398.7h5.4M759 398.7h5.2M154.4 396.9h5.4M203 396.9h5.4M230 396.9h5.4M273.2 396.9h10.8M305.6 396.9h5.4M408.2 396.9h5.4M429.8 396.9h10.8M564.8 396.9h5.4M635 396.9h5.4M694.4 396.9h5.4M824 396.9h5.2M851 396.9h5.2M127.4 395h5.4M159.8 395h5.4M230 395h5.4M278.6 395h16.2M316.4 395h5.4M327.2 395h10.8M386.6 395h5.4M397.4 395h5.4M446 395h10.8M505.4 395h10.8M548.6 395h5.4M575.6 395h5.4M586.4 395h5.4M608 395h5.4M640.4 395h5.4M651.2 395h5.4M824 395h5.2M138.2 393.2h5.4M149 393.2h5.4M176 393.2h5.4M197.6 393.2h5.4M208.4 393.2h5.4M240.8 393.2h5.4M267.8 393.2h5.4M278.6 393.2h5.4M289.4 393.2h10.8M327.2 393.2h10.8M365 393.2h16.2M424.4 393.2h5.4M451.4 393.2h5.4M532.4 393.2h5.4M543.2 393.2h5.4M613.4 393.2h5.4M645.8 393.2h5.4M689 393.2h5.4M705 393.2h5.2M132.8 391.4h5.4M176 391.4h5.4M219.2 391.4h5.4M257 391.4h16.2M316.4 391.4h5.4M543.2 391.4h5.4M581 391.4h5.4M618.8 391.4h5.4M645.8 391.4h5.4M689 391.4h5.4M149 389.6h5.4M273.2 389.6h10.8M289.4 389.6h5.4M462.2 389.6h5.4M494.6 389.6h5.4M570.2 389.6h5.4M629.6 389.6h5.4M662 389.6h5.4M905 389.6h5.2M186.8 387.8h5.4M208.4 387.8h10.8M257 387.8h10.8M273.2 387.8h5.4M289.4 387.8h5.4M321.8 387.8h5.4M338 387.8h5.4M424.4 387.8h5.4M435.2 387.8h5.4M554 387.8h5.4M618.8 387.8h5.4M635 387.8h5.4M667.4 387.8h5.4M737.4 387.8h5.2M138.2 386h5.4M170.6 386h5.4M251.6 386h5.4M278.6 386h5.4M321.8 386h5.4M381.2 386h5.4M392 386h5.4M500 386h5.4M575.6 386h5.4M618.8 386h5.4M645.8 386h5.4M683.6 386h5.4M824 386h5.2M932 386h5.2M138.2 384.2h5.4M176 384.2h5.4M321.8 384.2h5.4M338 384.2h5.4M354.2 384.2h5.4M451.4 384.2h5.4M516.2 384.2h5.4M548.6 384.2h5.4M667.4 384.2h5.4M251.6 382.4h5.4M262.4 382.4h5.4M294.8 382.4h5.4M467.6 382.4h5.4M489.2 382.4h10.8M640.4 382.4h5.4M662 382.4h10.8M715.8 382.4h5.2M759 382.4h5.2M127.4 380.5h5.4M154.4 380.5h5.4M321.8 380.5h5.4M354.2 380.5h5.4M370.4 380.5h5.4M386.6 380.5h5.4M440.6 380.5h5.4M451.4 380.5h5.4M489.2 380.5h5.4M500 380.5h5.4M521.6 380.5h5.4M548.6 380.5h5.4M608 380.5h5.4M132.8 378.7h5.4M208.4 378.7h5.4M289.4 378.7h5.4M300.2 378.7h5.4M381.2 378.7h5.4M478.4 378.7h5.4M602.6 378.7h5.4M618.8 378.7h5.4M170.6 376.9h5.4M203 376.9h5.4M213.8 376.9h5.4M359.6 376.9h16.2M402.8 376.9h5.4M467.6 376.9h5.4M505.4 376.9h5.4M537.8 376.9h5.4M559.4 376.9h5.4M689 376.9h5.4M932 376.9h5.2M159.8 375.1h5.4M316.4 375.1h5.4M413.6 375.1h5.4M478.4 375.1h5.4M564.8 375.1h5.4M715.8 375.1h5.2M748.2 375.1h5.2M769.8 375.1h5.2M905 375.1h5.2M932 375.1h5.2M138.2 373.3h5.4M149 373.3h5.4M278.6 373.3h5.4M338 373.3h5.4M429.8 373.3h5.4M456.8 373.3h5.4M521.6 373.3h5.4M543.2 373.3h10.8M667.4 373.3h16.2M715.8 373.3h5.2M824 373.3h5.2M878 373.3h5.2M154.4 371.5h5.4M267.8 371.5h10.8M311 371.5h5.4M381.2 371.5h5.4M419 371.5h5.4M462.2 371.5h5.4M510.8 371.5h5.4M608 371.5h5.4M624.2 371.5h5.4M635 371.5h5.4M651.2 371.5h5.4M213.8 369.7h10.8M311 369.7h5.4M397.4 369.7h5.4M483.8 369.7h5.4M543.2 369.7h5.4M591.8 369.7h5.4M602.6 369.7h5.4M683.6 369.7h10.8M824 369.7h5.2M851 369.7h5.2M197.6 367.9h5.4M224.6 367.9h5.4M246.2 367.9h5.4M262.4 367.9h5.4M294.8 367.9h5.4M316.4 367.9h5.4M489.2 367.9h5.4M602.6 367.9h10.8M905 367.9h5.2M257 366h10.8M273.2 366h5.4M289.4 366h5.4M305.6 366h5.4M392 366h5.4M419 366h5.4M446 366h5.4M483.8 366h5.4M516.2 366h10.8M548.6 366h5.4M559.4 366h5.4M608 366h5.4M618.8 366h10.8M192.2 364.2h5.4M240.8 364.2h10.8M273.2 364.2h5.4M284 364.2h5.4M451.4 364.2h5.4M467.6 364.2h5.4M564.8 364.2h5.4M581 364.2h5.4M613.4 364.2h5.4M624.2 364.2h5.4M748.2 364.2h5.2M159.8 362.4h5.4M240.8 362.4h5.4M251.6 362.4h5.4M311 362.4h5.4M408.2 362.4h5.4M467.6 362.4h5.4M500 362.4h5.4M516.2 362.4h5.4M570.2 362.4h5.4M581 362.4h5.4M203 360.6h5.4M213.8 360.6h5.4M246.2 360.6h5.4M300.2 360.6h5.4M321.8 360.6h10.8M381.2 360.6h5.4M408.2 360.6h5.4M451.4 360.6h5.4M473 360.6h5.4M521.6 360.6h5.4M667.4 360.6h5.4M851 360.6h5.2M208.4 358.8h5.4M262.4 358.8h10.8M300.2 358.8h5.4M359.6 358.8h5.4M392 358.8h5.4M429.8 358.8h5.4M483.8 358.8h5.4M532.4 358.8h5.4M554 358.8h5.4M570.2 358.8h5.4M613.4 358.8h5.4M667.4 358.8h5.4M170.6 357h5.4M246.2 357h5.4M370.4 357h5.4M381.2 357h5.4M424.4 357h5.4M462.2 357h5.4M651.2 357h5.4M138.2 355.2h5.4M159.8 355.2h5.4M219.2 355.2h5.4M300.2 355.2h5.4M338 355.2h5.4M354.2 355.2h5.4M429.8 355.2h5.4M440.6 355.2h5.4M473 355.2h5.4M510.8 355.2h10.8M581 355.2h5.4M602.6 355.2h5.4M624.2 355.2h5.4M667.4 355.2h5.4M678.2 355.2h5.4M878 355.2h5.2M122 353.4h5.4M149 353.4h5.4M208.4 353.4h5.4M235.4 353.4h5.4M284 353.4h5.4M375.8 353.4h5.4M408.2 353.4h5.4M467.6 353.4h5.4M624.2 353.4h5.4M759 353.4h5.2M122 351.5h5.4M197.6 351.5h5.4M235.4 351.5h5.4M251.6 351.5h5.4M289.4 351.5h5.4M316.4 351.5h5.4M381.2 351.5h5.4M408.2 351.5h5.4M440.6 351.5h5.4M521.6 351.5h5.4M554 351.5h5.4M602.6 351.5h5.4M629.6 351.5h5.4M662 351.5h5.4M138.2 349.7h5.4M149 349.7h5.4M305.6 349.7h5.4M338 349.7h5.4M408.2 349.7h5.4M446 349.7h5.4M645.8 349.7h5.4M656.6 349.7h10.8M154.4 347.9h5.4M181.4 347.9h5.4M192.2 347.9h5.4M219.2 347.9h5.4M230 347.9h5.4M240.8 347.9h5.4M251.6 347.9h5.4M300.2 347.9h10.8M354.2 347.9h5.4M408.2 347.9h10.8M435.2 347.9h5.4M462.2 347.9h5.4M510.8 347.9h5.4M548.6 347.9h5.4M575.6 347.9h5.4M613.4 347.9h5.4M629.6 347.9h5.4M748.2 347.9h5.2M769.8 347.9h5.2M159.8 346.1h10.8M230 346.1h5.4M278.6 346.1h5.4M397.4 346.1h5.4M413.6 346.1h5.4M462.2 346.1h10.8M500 346.1h5.4M532.4 346.1h5.4M554 346.1h5.4M689 346.1h5.4M726.6 346.1h5.2M748.2 346.1h5.2M127.4 344.3h10.8M213.8 344.3h10.8M327.2 344.3h5.4M338 344.3h5.4M354.2 344.3h5.4M429.8 344.3h5.4M537.8 344.3h5.4M597.2 344.3h5.4M613.4 344.3h5.4M656.6 344.3h5.4M667.4 344.3h5.4M694.4 344.3h5.4M824 344.3h5.2M127.4 342.5h5.4M138.2 342.5h5.4M176 342.5h5.4M219.2 342.5h10.8M294.8 342.5h5.4M381.2 342.5h5.4M851 342.5h5.2M932 342.5h5.2M230 340.7h5.4M257 340.7h5.4M343.4 340.7h5.4M375.8 340.7h5.4M419 340.7h5.4M483.8 340.7h5.4M651.2 340.7h5.4M759 340.7h5.2M127.4 338.9h5.4M143.6 338.9h5.4M321.8 338.9h5.4M473 338.9h5.4M516.2 338.9h5.4M667.4 338.9h5.4M726.6 338.9h5.2M737.4 338.9h5.2M932 338.9h5.2M257 337h5.4M338 337h5.4M359.6 337h5.4M581 337h5.4M591.8 337h5.4M694.4 337h5.4M878 337h5.2M159.8 335.2h5.4M197.6 335.2h5.4M246.2 335.2h5.4M359.6 335.2h10.8M392 335.2h5.4M429.8 335.2h5.4M489.2 335.2h10.8M516.2 335.2h5.4M575.6 335.2h5.4M705 335.2h5.2M715.8 335.2h5.2M878 335.2h5.2M905 335.2h5.2M122 333.4h5.4M154.4 333.4h5.4M203 333.4h5.4M343.4 333.4h5.4M424.4 333.4h5.4M435.2 333.4h5.4M516.2 333.4h10.8M570.2 333.4h5.4M591.8 333.4h5.4M651.2 333.4h5.4M662 333.4h5.4M759 333.4h5.2M905 333.4h5.2M230 331.6h5.4M338 331.6h10.8M397.4 331.6h5.4M559.4 331.6h5.4M678.2 331.6h5.4M726.6 331.6h5.2M851 331.6h5.2M905 331.6h5.2M132.8 329.8h5.4M165.2 329.8h5.4M257 329.8h5.4M278.6 329.8h5.4M348.8 329.8h5.4M440.6 329.8h10.8M489.2 329.8h10.8M510.8 329.8h5.4M559.4 329.8h10.8M591.8 329.8h10.8M159.8 328h5.4M186.8 328h5.4M235.4 328h5.4M267.8 328h5.4M311 328h5.4M402.8 328h5.4M510.8 328h5.4M532.4 328h5.4M548.6 328h5.4M575.6 328h5.4M667.4 328h5.4M678.2 328h16.2M726.6 328h5.2M132.8 326.2h5.4M149 326.2h5.4M246.2 326.2h5.4M343.4 326.2h5.4M467.6 326.2h5.4M494.6 326.2h5.4M527 326.2h16.2M640.4 326.2h5.4M667.4 326.2h5.4M678.2 326.2h5.4M705 326.2h5.2M824 326.2h5.2M359.6 324.4h5.4M392 324.4h5.4M429.8 324.4h5.4M440.6 324.4h5.4M467.6 324.4h5.4M489.2 324.4h5.4M591.8 324.4h5.4M640.4 324.4h5.4M672.8 324.4h10.8M705 324.4h5.2M851 324.4h5.2M192.2 322.5h5.4M235.4 322.5h5.4M311 322.5h5.4M327.2 322.5h5.4M440.6 322.5h5.4M451.4 322.5h5.4M478.4 322.5h5.4M591.8 322.5h5.4M624.2 322.5h5.4M651.2 322.5h5.4M705 322.5h5.2M143.6 320.7h5.4M154.4 320.7h5.4M246.2 320.7h5.4M289.4 320.7h10.8M343.4 320.7h5.4M381.2 320.7h5.4M397.4 320.7h5.4M478.4 320.7h5.4M548.6 320.7h5.4M570.2 320.7h5.4M651.2 320.7h5.4M705 320.7h5.2M715.8 320.7h5.2M769.8 320.7h5.2M208.4 318.9h5.4M305.6 318.9h5.4M321.8 318.9h10.8M500 318.9h5.4M532.4 318.9h5.4M624.2 318.9h10.8M165.2 317.1h5.4M235.4 317.1h5.4M257 317.1h5.4M311 317.1h5.4M375.8 317.1h5.4M456.8 317.1h5.4M516.2 317.1h5.4M564.8 317.1h5.4M575.6 317.1h5.4M640.4 317.1h5.4M122 315.3h5.4M219.2 315.3h5.4M251.6 315.3h5.4M338 315.3h5.4M348.8 315.3h5.4M505.4 315.3h5.4M640.4 315.3h5.4M656.6 315.3h5.4M797 315.3h5.2M176 313.5h5.4M251.6 313.5h5.4M321.8 313.5h10.8M348.8 313.5h5.4M397.4 313.5h5.4M408.2 313.5h5.4M456.8 313.5h5.4M467.6 313.5h5.4M521.6 313.5h5.4M586.4 313.5h5.4M618.8 313.5h5.4M640.4 313.5h10.8M759 313.5h5.2M932 313.5h5.2M192.2 311.7h5.4M219.2 311.7h5.4M246.2 311.7h5.4M446 311.7h5.4M462.2 311.7h5.4M516.2 311.7h5.4M570.2 311.7h5.4M165.2 309.9h5.4M181.4 309.9h5.4M197.6 309.9h5.4M224.6 309.9h5.4M262.4 309.9h5.4M284 309.9h5.4M294.8 309.9h5.4M370.4 309.9h5.4M440.6 309.9h5.4M478.4 309.9h5.4M748.2 309.9h5.2M127.4 308h5.4M165.2 308h5.4M213.8 308h5.4M257 308h5.4M273.2 308h5.4M370.4 308h5.4M397.4 308h5.4M424.4 308h10.8M456.8 308h5.4M505.4 308h5.4M656.6 308h5.4M667.4 308h10.8M683.6 308h5.4M694.4 308h5.4M705 308h5.2M748.2 308h5.2M759 308h5.2M138.2 306.2h5.4M154.4 306.2h5.4M300.2 306.2h5.4M321.8 306.2h5.4M365 306.2h5.4M429.8 306.2h5.4M478.4 306.2h5.4M500 306.2h10.8M543.2 306.2h5.4M597.2 306.2h5.4M629.6 306.2h5.4M705 306.2h5.2M159.8 304.4h5.4M192.2 304.4h5.4M208.4 304.4h5.4M251.6 304.4h5.4M262.4 304.4h5.4M284 304.4h5.4M408.2 304.4h5.4M419 304.4h5.4M505.4 304.4h5.4M537.8 304.4h5.4M672.8 304.4h5.4M154.4 302.6h5.4M208.4 302.6h5.4M343.4 302.6h5.4M386.6 302.6h5.4M397.4 302.6h5.4M467.6 302.6h5.4M494.6 302.6h5.4M543.2 302.6h5.4M570.2 302.6h5.4M640.4 302.6h5.4M683.6 302.6h5.4M769.8 302.6h5.2M851 302.6h5.2M170.6 300.8h5.4M197.6 300.8h5.4M224.6 300.8h5.4M251.6 300.8h5.4M338 300.8h5.4M397.4 300.8h5.4M429.8 300.8h5.4M662 300.8h5.4M705 300.8h5.2M878 300.8h5.2M262.4 299h5.4M386.6 299h5.4M456.8 299h5.4M473 299h5.4M510.8 299h5.4M543.2 299h5.4M737.4 299h5.2M797 299h5.2M878 299h5.2M132.8 297.2h16.2M154.4 297.2h5.4M165.2 297.2h5.4M176 297.2h5.4M262.4 297.2h5.4M284 297.2h5.4M321.8 297.2h5.4M343.4 297.2h5.4M494.6 297.2h5.4M559.4 297.2h5.4M759 297.2h5.2M149 295.4h5.4M159.8 295.4h5.4M181.4 295.4h5.4M246.2 295.4h10.8M262.4 295.4h5.4M284 295.4h5.4M305.6 295.4h5.4M332.6 295.4h5.4M354.2 295.4h5.4M370.4 295.4h5.4M392 295.4h5.4M429.8 295.4h5.4M440.6 295.4h5.4M505.4 295.4h10.8M824 295.4h5.2M905 295.4h5.2M176 293.5h5.4M192.2 293.5h5.4M251.6 293.5h5.4M348.8 293.5h5.4M381.2 293.5h5.4M451.4 293.5h5.4M467.6 293.5h5.4M494.6 293.5h5.4M559.4 293.5h5.4M613.4 293.5h5.4M629.6 293.5h5.4M651.2 293.5h5.4M878 293.5h5.2M905 293.5h5.2M932 293.5h5.2M300.2 291.7h5.4M343.4 291.7h5.4M370.4 291.7h5.4M548.6 291.7h5.4M608 291.7h10.8M878 291.7h5.2M122 289.9h5.4M219.2 289.9h5.4M251.6 289.9h5.4M267.8 289.9h5.4M332.6 289.9h5.4M381.2 289.9h5.4M429.8 289.9h5.4M467.6 289.9h5.4M559.4 289.9h5.4M575.6 289.9h5.4M694.4 289.9h5.4M715.8 289.9h5.2M878 289.9h5.2M159.8 288.1h5.4M186.8 288.1h5.4M213.8 288.1h5.4M278.6 288.1h5.4M321.8 288.1h5.4M386.6 288.1h5.4M451.4 288.1h10.8M478.4 288.1h5.4M527 288.1h5.4M570.2 288.1h5.4M608 288.1h5.4M656.6 288.1h10.8M122 286.3h5.4M230 286.3h5.4M246.2 286.3h5.4M278.6 286.3h5.4M305.6 286.3h5.4M321.8 286.3h5.4M413.6 286.3h10.8M602.6 286.3h5.4M694.4 286.3h5.4M737.4 286.3h5.2M878 286.3h5.2M181.4 284.5h5.4M246.2 284.5h5.4M478.4 284.5h10.8M500 284.5h5.4M527 284.5h5.4M564.8 284.5h10.8M127.4 282.7h5.4M143.6 282.7h10.8M159.8 282.7h5.4M181.4 282.7h5.4M197.6 282.7h5.4M300.2 282.7h5.4M365 282.7h5.4M386.6 282.7h5.4M397.4 282.7h10.8M435.2 282.7h5.4M456.8 282.7h5.4M483.8 282.7h5.4M500 282.7h5.4M559.4 282.7h5.4M651.2 282.7h5.4M694.4 282.7h5.4M851 282.7h5.2M138.2 280.9h5.4M278.6 280.9h5.4M311 280.9h5.4M343.4 280.9h5.4M359.6 280.9h10.8M386.6 280.9h5.4M451.4 280.9h10.8M570.2 280.9h5.4M597.2 280.9h5.4M667.4 280.9h5.4M726.6 280.9h5.2M878 280.9h5.2M932 280.9h5.2M327.2 279h5.4M429.8 279h5.4M440.6 279h5.4M467.6 279h5.4M543.2 279h5.4M554 279h5.4M624.2 279h5.4M662 279h5.4M769.8 279h5.2M127.4 277.2h5.4M219.2 277.2h5.4M230 277.2h10.8M273.2 277.2h5.4M284 277.2h5.4M348.8 277.2h5.4M435.2 277.2h5.4M456.8 277.2h5.4M473 277.2h5.4M494.6 277.2h10.8M586.4 277.2h5.4M608 277.2h5.4M640.4 277.2h5.4M769.8 277.2h5.2M240.8 275.4h5.4M284 275.4h5.4M386.6 275.4h5.4M402.8 275.4h5.4M662 275.4h5.4M678.2 275.4h5.4M705 275.4h5.2M759 275.4h5.2M824 275.4h5.2M138.2 273.6h5.4M149 273.6h5.4M159.8 273.6h5.4M224.6 273.6h5.4M240.8 273.6h5.4M257 273.6h5.4M311 273.6h5.4M332.6 273.6h5.4M348.8 273.6h5.4M462.2 273.6h5.4M489.2 273.6h5.4M586.4 273.6h5.4M694.4 273.6h5.4M705 273.6h5.2M273.2 271.8h5.4M305.6 271.8h5.4M338 271.8h5.4M456.8 271.8h5.4M543.2 271.8h5.4M586.4 271.8h5.4M705 271.8h5.2M737.4 271.8h5.2M824 271.8h5.2M127.4 270h5.4M251.6 270h5.4M327.2 270h10.8M392 270h5.4M521.6 270h5.4M548.6 270h5.4M624.2 270h5.4M689 270h5.4M170.6 268.2h5.4M408.2 268.2h5.4M478.4 268.2h5.4M500 268.2h5.4M521.6 268.2h5.4M559.4 268.2h5.4M602.6 268.2h5.4M715.8 268.2h5.2M737.4 268.2h5.2M748.2 268.2h5.2M759 268.2h5.2M878 268.2h5.2M905 268.2h5.2M203 266.4h5.4M246.2 266.4h5.4M289.4 266.4h5.4M397.4 266.4h10.8M424.4 266.4h5.4M456.8 266.4h5.4M478.4 266.4h10.8M500 266.4h5.4M516.2 266.4h5.4M602.6 266.4h10.8M672.8 266.4h5.4M170.6 264.5h5.4M197.6 264.5h5.4M235.4 264.5h5.4M251.6 264.5h5.4M262.4 264.5h5.4M284 264.5h5.4M321.8 264.5h5.4M343.4 264.5h5.4M354.2 264.5h5.4M478.4 264.5h5.4M591.8 264.5h5.4M629.6 264.5h5.4M672.8 264.5h5.4M769.8 264.5h5.2M122 262.7h5.4M165.2 262.7h5.4M219.2 262.7h5.4M343.4 262.7h5.4M462.2 262.7h5.4M494.6 262.7h5.4M516.2 262.7h5.4M575.6 262.7h5.4M640.4 262.7h5.4M694.4 262.7h5.4M726.6 262.7h5.2M132.8 260.9h5.4M159.8 260.9h5.4M203 260.9h5.4M246.2 260.9h5.4M316.4 260.9h5.4M483.8 260.9h10.8M570.2 260.9h5.4M629.6 260.9h5.4M672.8 260.9h5.4M705 260.9h5.2M932 260.9h5.2M181.4 259.1h5.4M343.4 259.1h5.4M478.4 259.1h5.4M489.2 259.1h5.4M543.2 259.1h5.4M624.2 259.1h5.4M645.8 259.1h5.4M726.6 259.1h5.2M759 259.1h5.2M138.2 257.3h5.4M311 257.3h5.4M370.4 257.3h5.4M483.8 257.3h5.4M527 257.3h5.4M537.8 257.3h5.4M672.8 257.3h5.4M737.4 257.3h5.2M149 255.5h5.4M419 255.5h10.8M467.6 255.5h5.4M586.4 255.5h5.4M851 255.5h5.2M197.6 253.7h5.4M251.6 253.7h5.4M273.2 253.7h5.4M338 253.7h5.4M429.8 253.7h5.4M554 253.7h5.4M575.6 253.7h5.4M645.8 253.7h5.4M678.2 253.7h10.8M705 253.7h5.2M726.6 253.7h5.2M181.4 251.9h5.4M219.2 251.9h5.4M257 251.9h5.4M365 251.9h5.4M381.2 251.9h5.4M629.6 251.9h5.4M645.8 251.9h5.4M705 251.9h5.2M726.6 251.9h5.2M824 251.9h5.2M154.4 250h5.4M251.6 250h5.4M316.4 250h5.4M408.2 250h5.4M532.4 250h5.4M575.6 250h5.4M586.4 250h5.4M651.2 250h5.4M224.6 248.2h5.4M365 248.2h5.4M462.2 248.2h5.4M548.6 248.2h5.4M559.4 248.2h5.4M597.2 248.2h16.2M257 246.4h10.8M300.2 246.4h5.4M316.4 246.4h5.4M338 246.4h10.8M354.2 246.4h5.4M370.4 246.4h5.4M397.4 246.4h5.4M408.2 246.4h5.4M500 246.4h5.4M564.8 246.4h5.4M597.2 246.4h5.4M618.8 246.4h10.8M165.2 244.6h5.4M197.6 244.6h5.4M262.4 244.6h5.4M278.6 244.6h5.4M332.6 244.6h5.4M348.8 244.6h5.4M440.6 244.6h5.4M527 244.6h5.4M537.8 244.6h5.4M554 244.6h5.4M640.4 244.6h5.4M651.2 244.6h5.4M715.8 244.6h5.2M851 244.6h5.2M392 242.8h5.4M440.6 242.8h5.4M527 242.8h5.4M537.8 242.8h5.4M213.8 241h5.4M338 241h5.4M370.4 241h5.4M478.4 241h16.2M521.6 241h5.4M543.2 241h5.4M586.4 241h5.4M618.8 241h5.4M667.4 241h10.8M683.6 241h5.4M726.6 241h5.2M824 241h5.2M932 241h5.2M159.8 239.2h5.4M224.6 239.2h5.4M251.6 239.2h5.4M311 239.2h5.4M402.8 239.2h5.4M424.4 239.2h5.4M451.4 239.2h5.4M575.6 239.2h5.4M656.6 239.2h5.4M748.2 239.2h5.2M824 239.2h5.2M154.4 237.4h5.4M208.4 237.4h10.8M246.2 237.4h5.4M332.6 237.4h5.4M359.6 237.4h5.4M462.2 237.4h5.4M516.2 237.4h5.4M591.8 237.4h5.4M629.6 237.4h5.4M640.4 237.4h5.4M878 237.4h5.2M132.8 235.5h10.8M203 235.5h5.4M230 235.5h5.4M267.8 235.5h5.4M311 235.5h5.4M321.8 235.5h5.4M419 235.5h5.4M462.2 235.5h5.4M494.6 235.5h5.4M597.2 235.5h10.8M667.4 235.5h5.4M678.2 235.5h5.4M715.8 235.5h5.2M932 235.5h5.2M213.8 233.7h5.4M413.6 233.7h5.4M446 233.7h5.4M543.2 233.7h5.4M575.6 233.7h5.4M591.8 233.7h5.4M608 233.7h5.4M667.4 233.7h5.4M748.2 233.7h5.2M905 233.7h5.2M932 233.7h5.2M143.6 231.9h5.4M203 231.9h5.4M235.4 231.9h5.4M321.8 231.9h5.4M354.2 231.9h5.4M402.8 231.9h5.4M440.6 231.9h10.8M635 231.9h5.4M645.8 231.9h5.4M662 231.9h5.4M715.8 231.9h5.2M905 231.9h5.2M149 230.1h10.8M300.2 230.1h5.4M316.4 230.1h5.4M397.4 230.1h5.4M478.4 230.1h5.4M489.2 230.1h5.4M527 230.1h5.4M656.6 230.1h5.4M715.8 230.1h5.2M235.4 228.3h5.4M257 228.3h5.4M359.6 228.3h5.4M413.6 228.3h5.4M505.4 228.3h5.4M581 228.3h5.4M602.6 228.3h5.4M667.4 228.3h5.4M726.6 228.3h5.2M932 228.3h5.2M240.8 226.5h5.4M257 226.5h10.8M294.8 226.5h5.4M435.2 226.5h5.4M446 226.5h5.4M456.8 226.5h5.4M467.6 226.5h5.4M483.8 226.5h5.4M494.6 226.5h5.4M548.6 226.5h5.4M602.6 226.5h5.4M635 226.5h5.4M656.6 226.5h5.4M683.6 226.5h5.4M715.8 226.5h5.2M122 224.7h5.4M143.6 224.7h5.4M473 224.7h5.4M483.8 224.7h5.4M602.6 224.7h5.4M613.4 224.7h5.4M624.2 224.7h5.4M678.2 224.7h5.4M694.4 224.7h5.4M748.2 224.7h5.2M851 224.7h5.2M127.4 222.9h10.8M240.8 222.9h5.4M402.8 222.9h5.4M424.4 222.9h5.4M494.6 222.9h5.4M548.6 222.9h10.8M586.4 222.9h5.4M597.2 222.9h10.8M651.2 222.9h5.4M662 222.9h5.4M672.8 222.9h5.4M683.6 222.9h5.4M824 222.9h5.2M181.4 221h5.4M197.6 221h5.4M267.8 221h5.4M300.2 221h10.8M327.2 221h5.4M473 221h5.4M489.2 221h5.4M527 221h5.4M548.6 221h10.8M618.8 221h5.4M662 221h5.4M683.6 221h5.4M186.8 219.2h5.4M230 219.2h5.4M273.2 219.2h5.4M284 219.2h5.4M365 219.2h5.4M375.8 219.2h5.4M392 219.2h5.4M446 219.2h5.4M456.8 219.2h5.4M559.4 219.2h5.4M132.8 217.4h5.4M143.6 217.4h5.4M170.6 217.4h5.4M203 217.4h10.8M251.6 217.4h10.8M284 217.4h5.4M316.4 217.4h5.4M375.8 217.4h5.4M408.2 217.4h5.4M597.2 217.4h5.4M635 217.4h10.8M127.4 215.6h5.4M170.6 215.6h5.4M257 215.6h5.4M359.6 215.6h5.4M462.2 215.6h5.4M494.6 215.6h5.4M516.2 215.6h5.4M554 215.6h5.4M645.8 215.6h5.4M656.6 215.6h5.4M154.4 213.8h5.4M203 213.8h5.4M284 213.8h10.8M311 213.8h5.4M321.8 213.8h5.4M402.8 213.8h5.4M581 213.8h5.4M613.4 213.8h5.4M651.2 213.8h5.4M662 213.8h5.4M705 213.8h5.2M769.8 213.8h5.2M878 213.8h5.2M132.8 212h5.4M224.6 212h10.8M289.4 212h5.4M316.4 212h10.8M408.2 212h5.4M575.6 212h5.4M591.8 212h5.4M608 212h5.4M618.8 212h5.4M640.4 212h10.8M769.8 212h5.2M878 212h5.2M197.6 210.2h5.4M224.6 210.2h5.4M251.6 210.2h5.4M365 210.2h5.4M613.4 210.2h10.8M640.4 210.2h5.4M651.2 210.2h5.4M672.8 210.2h5.4M851 210.2h5.2M192.2 208.4h5.4M203 208.4h5.4M257 208.4h5.4M289.4 208.4h5.4M338 208.4h5.4M419 208.4h5.4M451.4 208.4h5.4M667.4 208.4h10.8M683.6 208.4h5.4M138.2 206.5h5.4M149 206.5h10.8M338 206.5h5.4M381.2 206.5h5.4M397.4 206.5h5.4M429.8 206.5h10.8M446 206.5h5.4M483.8 206.5h5.4M505.4 206.5h5.4M543.2 206.5h5.4M667.4 206.5h5.4M769.8 206.5h5.2M332.6 204.7h5.4M370.4 204.7h5.4M381.2 204.7h5.4M429.8 204.7h5.4M543.2 204.7h10.8M575.6 204.7h5.4M618.8 204.7h10.8M689 204.7h5.4M224.6 202.9h5.4M370.4 202.9h5.4M446 202.9h5.4M473 202.9h5.4M483.8 202.9h10.8M532.4 202.9h5.4M570.2 202.9h5.4M613.4 202.9h5.4M726.6 202.9h5.2M769.8 202.9h5.2M932 202.9h5.2M138.2 201.1h5.4M246.2 201.1h10.8M386.6 201.1h5.4M419 201.1h5.4M483.8 201.1h5.4M510.8 201.1h5.4M635 201.1h5.4M726.6 201.1h5.2M851 201.1h5.2M176 199.3h5.4M197.6 199.3h5.4M240.8 199.3h5.4M338 199.3h5.4M521.6 199.3h5.4M559.4 199.3h5.4M597.2 199.3h5.4M645.8 199.3h5.4M759 199.3h5.2M769.8 199.3h5.2M878 199.3h5.2M262.4 197.5h5.4M473 197.5h5.4M527 197.5h5.4M548.6 197.5h5.4M608 197.5h5.4M635 197.5h5.4M759 197.5h5.2M932 197.5h5.2M122 195.7h5.4M143.6 195.7h5.4M154.4 195.7h10.8M208.4 195.7h5.4M251.6 195.7h5.4M262.4 195.7h5.4M321.8 195.7h5.4M440.6 195.7h5.4M451.4 195.7h10.8M516.2 195.7h16.2M554 195.7h5.4M564.8 195.7h5.4M591.8 195.7h5.4M602.6 195.7h5.4M618.8 195.7h5.4M645.8 195.7h5.4M203 193.9h5.4M273.2 193.9h10.8M300.2 193.9h5.4M316.4 193.9h5.4M332.6 193.9h5.4M408.2 193.9h5.4M424.4 193.9h5.4M435.2 193.9h5.4M467.6 193.9h5.4M548.6 193.9h5.4M564.8 193.9h5.4M608 193.9h5.4M618.8 193.9h5.4M640.4 193.9h5.4M656.6 193.9h5.4M672.8 193.9h5.4M824 193.9h5.2M878 193.9h5.2M905 193.9h5.2M197.6 192h5.4M208.4 192h5.4M219.2 192h10.8M235.4 192h5.4M251.6 192h5.4M413.6 192h5.4M440.6 192h5.4M532.4 192h5.4M554 192h5.4M586.4 192h5.4M608 192h5.4M618.8 192h5.4M635 192h10.8M797 192h5.2M127.4 190.2h5.4M165.2 190.2h5.4M176 190.2h5.4M208.4 190.2h5.4M219.2 190.2h5.4M246.2 190.2h5.4M262.4 190.2h5.4M300.2 190.2h5.4M338 190.2h10.8M370.4 190.2h5.4M386.6 190.2h5.4M494.6 190.2h5.4M613.4 190.2h5.4M694.4 190.2h5.4M235.4 188.4h5.4M262.4 188.4h5.4M289.4 188.4h5.4M327.2 188.4h5.4M500 188.4h5.4M564.8 188.4h5.4M575.6 188.4h5.4M759 188.4h5.2M851 188.4h5.2M138.2 186.6h5.4M176 186.6h5.4M262.4 186.6h5.4M294.8 186.6h5.4M381.2 186.6h5.4M402.8 186.6h5.4M429.8 186.6h5.4M537.8 186.6h5.4M186.8 184.8h5.4M408.2 184.8h10.8M424.4 184.8h5.4M500 184.8h5.4M554 184.8h5.4M602.6 184.8h5.4M618.8 184.8h5.4M662 184.8h5.4M689 184.8h5.4M726.6 184.8h5.2M824 184.8h5.2M138.2 183h5.4M176 183h5.4M354.2 183h5.4M419 183h5.4M429.8 183h5.4M462.2 183h5.4M489.2 183h5.4M543.2 183h5.4M554 183h5.4M635 183h5.4M662 183h5.4M672.8 183h5.4M748.2 183h5.2M797 183h5.2M159.8 181.2h5.4M213.8 181.2h10.8M273.2 181.2h5.4M402.8 181.2h5.4M462.2 181.2h5.4M478.4 181.2h5.4M527 181.2h10.8M543.2 181.2h5.4M618.8 181.2h5.4M656.6 181.2h5.4M667.4 181.2h5.4M748.2 181.2h5.2M122 179.4h5.4M289.4 179.4h5.4M413.6 179.4h5.4M510.8 179.4h5.4M521.6 179.4h5.4M586.4 179.4h5.4M613.4 179.4h5.4M624.2 179.4h5.4M759 179.4h5.2M186.8 177.5h5.4M267.8 177.5h5.4M332.6 177.5h5.4M365 177.5h5.4M392 177.5h5.4M424.4 177.5h5.4M435.2 177.5h5.4M581 177.5h10.8M624.2 177.5h5.4M662 177.5h5.4M769.8 177.5h5.2M149 175.7h5.4M165.2 175.7h10.8M208.4 175.7h5.4M219.2 175.7h5.4M267.8 175.7h5.4M370.4 175.7h5.4M440.6 175.7h5.4M505.4 175.7h5.4M527 175.7h5.4M570.2 175.7h5.4M662 175.7h5.4M683.6 175.7h5.4M159.8 173.9h5.4M203 173.9h5.4M284 173.9h5.4M300.2 173.9h5.4M311 173.9h5.4M365 173.9h5.4M424.4 173.9h5.4M462.2 173.9h5.4M505.4 173.9h5.4M537.8 173.9h16.2M651.2 173.9h5.4M678.2 173.9h5.4M694.4 173.9h5.4M726.6 173.9h5.2M932 173.9h5.2M257 172.1h10.8M284 172.1h5.4M435.2 172.1h10.8M451.4 172.1h5.4M678.2 172.1h5.4M932 172.1h5.2M230 170.3h5.4M332.6 170.3h5.4M386.6 170.3h5.4M413.6 170.3h10.8M521.6 170.3h5.4M543.2 170.3h5.4M586.4 170.3h5.4M662 170.3h5.4M748.2 170.3h5.2M878 170.3h5.2M122 168.5h10.8M143.6 168.5h5.4M197.6 168.5h10.8M273.2 168.5h5.4M305.6 168.5h5.4M316.4 168.5h5.4M354.2 168.5h5.4M375.8 168.5h5.4M451.4 168.5h5.4M462.2 168.5h5.4M500 168.5h5.4M527 168.5h5.4M581 168.5h5.4M618.8 168.5h5.4M662 168.5h5.4M672.8 168.5h5.4M715.8 168.5h5.2M769.8 168.5h5.2M851 168.5h5.2M170.6 166.7h5.4M230 166.7h5.4M240.8 166.7h5.4M273.2 166.7h5.4M343.4 166.7h5.4M354.2 166.7h5.4M456.8 166.7h5.4M500 166.7h5.4M510.8 166.7h5.4M586.4 166.7h5.4M672.8 166.7h5.4M726.6 166.7h5.2M327.2 164.9h5.4M392 164.9h5.4M413.6 164.9h5.4M478.4 164.9h5.4M559.4 164.9h5.4M629.6 164.9h5.4M656.6 164.9h5.4M694.4 164.9h5.4M905 164.9h5.2M122 163h5.4M138.2 163h10.8M219.2 163h5.4M246.2 163h5.4M257 163h5.4M278.6 163h5.4M332.6 163h5.4M343.4 163h5.4M473 163h5.4M510.8 163h5.4M548.6 163h5.4M575.6 163h5.4M591.8 163h5.4M737.4 163h5.2M851 163h5.2M122 161.2h5.4M143.6 161.2h5.4M197.6 161.2h10.8M278.6 161.2h5.4M294.8 161.2h5.4M343.4 161.2h5.4M510.8 161.2h5.4M543.2 161.2h5.4M586.4 161.2h5.4M694.4 161.2h5.4M905 161.2h5.2M138.2 159.4h5.4M154.4 159.4h5.4M267.8 159.4h5.4M278.6 159.4h5.4M305.6 159.4h5.4M386.6 159.4h5.4M419 159.4h10.8M435.2 159.4h5.4M446 159.4h5.4M500 159.4h5.4M543.2 159.4h5.4M559.4 159.4h5.4M591.8 159.4h5.4M667.4 159.4h5.4M715.8 159.4h5.2M726.6 159.4h5.2M748.2 159.4h5.2M122 157.6h5.4M159.8 157.6h5.4M181.4 157.6h5.4M192.2 157.6h5.4M219.2 157.6h5.4M230 157.6h10.8M251.6 157.6h5.4M267.8 157.6h5.4M284 157.6h5.4M305.6 157.6h5.4M359.6 157.6h5.4M397.4 157.6h5.4M559.4 157.6h5.4M683.6 157.6h5.4M851 157.6h5.2M149 155.8h5.4M176 155.8h5.4M246.2 155.8h5.4M262.4 155.8h5.4M273.2 155.8h5.4M321.8 155.8h5.4M343.4 155.8h5.4M392 155.8h5.4M559.4 155.8h5.4M608 155.8h5.4M932 155.8h5.2M138.2 154h10.8M197.6 154h5.4M381.2 154h5.4M446 154h5.4M521.6 154h5.4M554 154h5.4M581 154h5.4M645.8 154h5.4M656.6 154h5.4M203 152.2h5.4M246.2 152.2h5.4M262.4 152.2h5.4M343.4 152.2h5.4M386.6 152.2h5.4M397.4 152.2h5.4M456.8 152.2h5.4M478.4 152.2h5.4M581 152.2h5.4M591.8 152.2h5.4M667.4 152.2h5.4M715.8 152.2h5.2M769.8 152.2h5.2M905 152.2h5.2M176 150.4h5.4M219.2 150.4h5.4M230 150.4h5.4M240.8 150.4h10.8M300.2 150.4h10.8M321.8 150.4h5.4M354.2 150.4h5.4M435.2 150.4h5.4M456.8 150.4h5.4M516.2 150.4h5.4M532.4 150.4h5.4M559.4 150.4h5.4M651.2 150.4h5.4M694.4 150.4h5.4M246.2 148.5h5.4M375.8 148.5h5.4M435.2 148.5h5.4M478.4 148.5h5.4M489.2 148.5h5.4M564.8 148.5h5.4M640.4 148.5h5.4M683.6 148.5h5.4M143.6 146.7h16.2M170.6 146.7h5.4M240.8 146.7h5.4M294.8 146.7h5.4M332.6 146.7h5.4M402.8 146.7h5.4M413.6 146.7h5.4M548.6 146.7h5.4M570.2 146.7h5.4M591.8 146.7h10.8M608 146.7h5.4M629.6 146.7h5.4M651.2 146.7h5.4M672.8 146.7h5.4M224.6 144.9h5.4M311 144.9h5.4M440.6 144.9h5.4M575.6 144.9h5.4M667.4 144.9h5.4M705 144.9h5.2M224.6 143.1h5.4M294.8 143.1h5.4M321.8 143.1h5.4M402.8 143.1h5.4M440.6 143.1h5.4M510.8 143.1h5.4M521.6 143.1h5.4M554 143.1h5.4M602.6 143.1h5.4M618.8 143.1h5.4M769.8 143.1h5.2M149 141.3h5.4M208.4 141.3h10.8M262.4 141.3h5.4M429.8 141.3h5.4M456.8 141.3h5.4M554 141.3h16.2M608 141.3h10.8M635 141.3h5.4M651.2 141.3h5.4M672.8 141.3h5.4M705 141.3h5.2M878 141.3h5.2M143.6 139.5h5.4M170.6 139.5h5.4M186.8 139.5h5.4M208.4 139.5h5.4M235.4 139.5h5.4M300.2 139.5h5.4M332.6 139.5h5.4M343.4 139.5h5.4M397.4 139.5h5.4M419 139.5h5.4M429.8 139.5h5.4M559.4 139.5h5.4M651.2 139.5h5.4M689 139.5h10.8M705 139.5h5.2M170.6 137.7h5.4M262.4 137.7h5.4M273.2 137.7h5.4M316.4 137.7h5.4M370.4 137.7h5.4M397.4 137.7h10.8M537.8 137.7h5.4M624.2 137.7h5.4M122 135.9h5.4M170.6 135.9h5.4M186.8 135.9h5.4M213.8 135.9h5.4M262.4 135.9h5.4M273.2 135.9h5.4M424.4 135.9h5.4M473 135.9h5.4M505.4 135.9h5.4M516.2 135.9h5.4M532.4 135.9h5.4M683.6 135.9h5.4M694.4 135.9h5.4M824 135.9h5.2M143.6 134h5.4M267.8 134h5.4M338 134h5.4M365 134h5.4M381.2 134h5.4M462.2 134h5.4M532.4 134h10.8M597.2 134h5.4M608 134h5.4M726.6 134h5.2M143.6 132.2h5.4M230 132.2h5.4M251.6 132.2h5.4M267.8 132.2h5.4M435.2 132.2h5.4M516.2 132.2h5.4M537.8 132.2h5.4M608 132.2h5.4M624.2 132.2h5.4M694.4 132.2h5.4M726.6 132.2h5.2M797 132.2h5.2M132.8 130.4h5.4M154.4 130.4h5.4M240.8 130.4h5.4M257 130.4h5.4M294.8 130.4h5.4M478.4 130.4h5.4M505.4 130.4h5.4M591.8 130.4h5.4M715.8 130.4h5.2M737.4 130.4h5.2M154.4 128.6h16.2M176 128.6h5.4M230 128.6h5.4M305.6 128.6h5.4M321.8 128.6h5.4M343.4 128.6h5.4M408.2 128.6h5.4M494.6 128.6h5.4M516.2 128.6h5.4M581 128.6h10.8M597.2 128.6h10.8M683.6 128.6h5.4M905 128.6h5.2M154.4 126.8h5.4M246.2 126.8h5.4M338 126.8h5.4M365 126.8h5.4M381.2 126.8h5.4M392 126.8h5.4M489.2 126.8h5.4M516.2 126.8h5.4M548.6 126.8h5.4M602.6 126.8h5.4M651.2 126.8h10.8M715.8 126.8h5.2M143.6 125h5.4M262.4 125h5.4M354.2 125h5.4M408.2 125h5.4M462.2 125h5.4M537.8 125h5.4M586.4 125h5.4M824 125h5.2M905 125h5.2M143.6 123.2h5.4M165.2 123.2h5.4M300.2 123.2h5.4M392 123.2h5.4M402.8 123.2h5.4M424.4 123.2h5.4M435.2 123.2h10.8M591.8 123.2h5.4M624.2 123.2h5.4M640.4 123.2h5.4M672.8 123.2h5.4M689 123.2h5.4M186.8 121.4h5.4M224.6 121.4h5.4M332.6 121.4h16.2M381.2 121.4h5.4M397.4 121.4h5.4M462.2 121.4h5.4M564.8 121.4h5.4M678.2 121.4h5.4M689 121.4h5.4M143.6 119.5h5.4M165.2 119.5h5.4M213.8 119.5h5.4M300.2 119.5h5.4M311 119.5h5.4M365 119.5h5.4M392 119.5h5.4M435.2 119.5h5.4M500 119.5h10.8M564.8 119.5h5.4M608 119.5h5.4M624.2 119.5h5.4M635 119.5h5.4M651.2 119.5h5.4M694.4 119.5h5.4M824 119.5h5.2M127.4 117.7h5.4M138.2 117.7h5.4M181.4 117.7h5.4M224.6 117.7h5.4M289.4 117.7h5.4M478.4 117.7h5.4M608 117.7h5.4M678.2 117.7h5.4M694.4 117.7h5.4M726.6 117.7h5.2M737.4 117.7h5.2M154.4 115.9h5.4M284 115.9h10.8M321.8 115.9h5.4M338 115.9h5.4M386.6 115.9h5.4M424.4 115.9h5.4M473 115.9h5.4M510.8 115.9h5.4M554 115.9h5.4M564.8 115.9h5.4M586.4 115.9h5.4M613.4 115.9h5.4M635 115.9h5.4M672.8 115.9h5.4M726.6 115.9h5.2M176 114.1h5.4M186.8 114.1h5.4M284 114.1h5.4M305.6 114.1h5.4M375.8 114.1h5.4M446 114.1h5.4M467.6 114.1h5.4M559.4 114.1h10.8M581 114.1h5.4M618.8 114.1h5.4M165.2 112.3h5.4M181.4 112.3h5.4M219.2 112.3h5.4M246.2 112.3h5.4M257 112.3h10.8M273.2 112.3h5.4M338 112.3h10.8M564.8 112.3h5.4M635 112.3h5.4M651.2 112.3h5.4M672.8 112.3h5.4M797 112.3h5.2M932 112.3h5.2M122 110.5h5.4M138.2 110.5h5.4M154.4 110.5h5.4M170.6 110.5h5.4M181.4 110.5h5.4M267.8 110.5h10.8M300.2 110.5h16.2M343.4 110.5h5.4M370.4 110.5h5.4M527 110.5h5.4M543.2 110.5h5.4M586.4 110.5h5.4M602.6 110.5h10.8M678.2 110.5h5.4M705 110.5h5.2M851 110.5h5.2M138.2 108.7h5.4M154.4 108.7h5.4M203 108.7h5.4M230 108.7h10.8M251.6 108.7h5.4M278.6 108.7h5.4M289.4 108.7h5.4M321.8 108.7h5.4M359.6 108.7h5.4M392 108.7h5.4M467.6 108.7h10.8M532.4 108.7h5.4M548.6 108.7h5.4M608 108.7h5.4M203 106.9h5.4M338 106.9h5.4M408.2 106.9h5.4M429.8 106.9h5.4M446 106.9h5.4M537.8 106.9h5.4M591.8 106.9h5.4M602.6 106.9h5.4M651.2 106.9h5.4M748.2 106.9h5.2M154.4 105h5.4M208.4 105h5.4M327.2 105h5.4M338 105h5.4M354.2 105h5.4M386.6 105h5.4M446 105h10.8M532.4 105h5.4M543.2 105h5.4M575.6 105h5.4M905 105h5.2M143.6 103.2h5.4M451.4 103.2h5.4M473 103.2h5.4M483.8 103.2h5.4M500 103.2h5.4M510.8 103.2h5.4M532.4 103.2h5.4M543.2 103.2h5.4M559.4 103.2h5.4M618.8 103.2h5.4M667.4 103.2h5.4M683.6 103.2h5.4M759 103.2h5.2M143.6 101.4h5.4M192.2 101.4h5.4M251.6 101.4h5.4M300.2 101.4h5.4M311 101.4h5.4M327.2 101.4h5.4M446 101.4h5.4M456.8 101.4h5.4M478.4 101.4h5.4M548.6 101.4h5.4M559.4 101.4h5.4M640.4 101.4h5.4M656.6 101.4h5.4M683.6 101.4h5.4M715.8 101.4h5.2M824 101.4h5.2M132.8 99.6h5.4M208.4 99.6h5.4M224.6 99.6h10.8M348.8 99.6h5.4M392 99.6h5.4M456.8 99.6h5.4M467.6 99.6h5.4M478.4 99.6h10.8M586.4 99.6h5.4M645.8 99.6h5.4M667.4 99.6h10.8M159.8 97.8h5.4M192.2 97.8h5.4M348.8 97.8h5.4M370.4 97.8h10.8M392 97.8h5.4M489.2 97.8h5.4M500 97.8h5.4M516.2 97.8h5.4M548.6 97.8h5.4M651.2 97.8h5.4M672.8 97.8h10.8M932 97.8h5.2M143.6 96h5.4M170.6 96h5.4M186.8 96h5.4M197.6 96h5.4M278.6 96h5.4M289.4 96h5.4M305.6 96h5.4M338 96h10.8M365 96h5.4M494.6 96h5.4M510.8 96h5.4M564.8 96h5.4M591.8 96h5.4M613.4 96h5.4M667.4 96h10.8M759 96h5.2M122 94.2h5.4M143.6 94.2h5.4M192.2 94.2h5.4M289.4 94.2h5.4M429.8 94.2h5.4M537.8 94.2h5.4M138.2 92.4h5.4M176 92.4h5.4M284 92.4h5.4M294.8 92.4h5.4M327.2 92.4h5.4M343.4 92.4h5.4M408.2 92.4h5.4M500 92.4h5.4M516.2 92.4h5.4M554 92.4h5.4M564.8 92.4h5.4M624.2 92.4h5.4M651.2 92.4h5.4M905 92.4h5.2M235.4 90.5h5.4M300.2 90.5h5.4M424.4 90.5h10.8M316.4 88.7h5.4M332.6 88.7h5.4M343.4 88.7h5.4M397.4 88.7h5.4M419 88.7h5.4M435.2 88.7h5.4M500 88.7h10.8M527 88.7h5.4M586.4 88.7h5.4M613.4 88.7h10.8M656.6 88.7h5.4M683.6 88.7h5.4M715.8 88.7h5.2M170.6 86.9h5.4M203 86.9h5.4M284 86.9h5.4M294.8 86.9h5.4M338 86.9h5.4M365 86.9h5.4M478.4 86.9h5.4M640.4 86.9h5.4M672.8 86.9h10.8"/>
<path stroke="#482475" d="M462.2 790.2h5.4M159.8 788.4h5.4M462.2 788.4h5.4M462.2 784.7h5.4M797 781.1h5.2M300.2 779.3h5.4M462.2 779.3h5.4M608 779.3h5.4M462.2 777.5h5.4M532.4 777.5h5.4M878 777.5h5.2M500 775.7h5.4M608 775.7h5.4M748.2 775.7h5.2M208.4 773.9h5.4M500 773.9h5.4M689 773.9h5.4M726.6 773.9h5.2M748.2 773.9h5.2M769.8 773.9h5.2M851 773.9h5.2M905 773.9h5.2M213.8 772h5.4M300.2 772h5.4M640.4 772h5.4M759 772h5.2M851 772h5.2M213.8 770.2h5.4M262.4 770.2h5.4M300.2 770.2h5.4M640.4 770.2h5.4M689 770.2h5.4M726.6 770.2h5.2M824 770.2h5.2M851 770.2h5.2M262.4 768.4h10.8M662 768.4h5.4M678.2 768.4h5.4M851 768.4h5.2M127.4 766.6h10.8M149 766.6h5.4M289.4 766.6h5.4M311 766.6h5.4M392 766.6h5.4M435.2 766.6h5.4M527 766.6h5.4M548.6 766.6h5.4M618.8 766.6h10.8M651.2 766.6h5.4M689 766.6h5.4M797 766.6h5.2M824 766.6h5.2M224.6 764.8h5.4M251.6 764.8h5.4M273.2 764.8h5.4M354.2 764.8h5.4M381.2 764.8h5.4M618.8 764.8h5.4M645.8 764.8h5.4M689 764.8h5.4M759 764.8h5.2M905 764.8h5.2M186.8 763h5.4M240.8 763h5.4M251.6 763h5.4M278.6 763h5.4M300.2 763h5.4M316.4 763h5.4M402.8 763h5.4M651.2 763h5.4M737.4 763h5.2M235.4 761.2h5.4M251.6 761.2h10.8M284 761.2h5.4M300.2 761.2h5.4M343.4 761.2h5.4M386.6 761.2h10.8M402.8 761.2h5.4M424.4 761.2h5.4M462.2 761.2h5.4M548.6 761.2h5.4M667.4 761.2h5.4M705 761.2h5.2M905 761.2h5.2M192.2 759.4h10.8M251.6 759.4h5.4M284 759.4h5.4M316.4 759.4h5.4M375.8 759.4h10.8M402.8 759.4h5.4M451.4 759.4h5.4M462.2 759.4h5.4M532.4 759.4h5.4M543.2 759.4h5.4M575.6 759.4h5.4M656.6 759.4h5.4M851 759.4h5.2M132.8 757.5h5.4M170.6 757.5h5.4M219.2 757.5h5.4M251.6 757.5h5.4M273.2 757.5h5.4M311 757.5h5.4M338 757.5h5.4M365 757.5h5.4M375.8 757.5h5.4M419 757.5h5.4M446 757.5h5.4M473 757.5h5.4M510.8 757.5h5.4M575.6 757.5h5.4M586.4 757.5h5.4M159.8 755.7h5.4M170.6 755.7h5.4M186.8 755.7h5.4M257 755.7h5.4M332.6 755.7h5.4M354.2 755.7h5.4M381.2 755.7h5.4M397.4 755.7h5.4M505.4 755.7h5.4M537.8 755.7h5.4M581 755.7h5.4M667.4 755.7h5.4M678.2 755.7h5.4M149 753.9h5.4M267.8 753.9h5.4M278.6 753.9h5.4M348.8 753.9h5.4M386.6 753.9h5.4M429.8 753.9h10.8M462.2 753.9h5.4M483.8 753.9h10.8M532.4 753.9h5.4M564.8 753.9h10.8M678.2 753.9h5.4M127.4 752.1h5.4M149 752.1h5.4M246.2 752.1h5.4M278.6 752.1h5.4M359.6 752.1h5.4M446 752.1h5.4M456.8 752.1h5.4M570.2 752.1h5.4M581 752.1h5.4M635 752.1h5.4M748.2 752.1h5.2M143.6 750.3h10.8M300.2 750.3h5.4M413.6 750.3h5.4M440.6 750.3h5.4M510.8 750.3h5.4M602.6 750.3h5.4M705 750.3h5.2M748.2 750.3h5.2M165.2 748.5h5.4M192.2 748.5h5.4M278.6 748.5h5.4M300.2 748.5h5.4M348.8 748.5h5.4M370.4 748.5h5.4M402.8 748.5h5.4M424.4 748.5h5.4M527 748.5h5.4M305.6 746.7h10.8M397.4 746.7h5.4M489.2 746.7h5.4M521.6 746.7h5.4M824 746.7h5.2M203 744.9h10.8M251.6 744.9h5.4M311 744.9h5.4M321.8 744.9h5.4M343.4 744.9h5.4M365 744.9h5.4M446 744.9h5.4M467.6 744.9h5.4M489.2 744.9h5.4M510.8 744.9h5.4M559.4 744.9h5.4M905 744.9h5.2M138.2 743h5.4M159.8 743h5.4M170.6 743h5.4M224.6 743h5.4M235.4 743h5.4M386.6 743h5.4M608 743h5.4M705 743h5.2M932 743h5.2M165.2 741.2h5.4M186.8 741.2h5.4M203 741.2h5.4M213.8 741.2h5.4M235.4 741.2h5.4M321.8 741.2h5.4M570.2 741.2h5.4M602.6 741.2h5.4M651.2 741.2h5.4M694.4 741.2h5.4M748.2 741.2h5.2M878 741.2h5.2M127.4 739.4h5.4M159.8 739.4h5.4M176 739.4h5.4M197.6 739.4h5.4M246.2 739.4h5.4M381.2 739.4h5.4M392 739.4h5.4M543.2 739.4h5.4M570.2 739.4h5.4M651.2 739.4h5.4M149 737.6h5.4M170.6 737.6h5.4M262.4 737.6h5.4M284 737.6h5.4M370.4 737.6h5.4M413.6 737.6h5.4M554 737.6h5.4M737.4 737.6h5.2M748.2 737.6h5.2M165.2 735.8h5.4M240.8 735.8h5.4M267.8 735.8h5.4M294.8 735.8h5.4M365 735.8h5.4M408.2 735.8h10.8M516.2 735.8h10.8M591.8 735.8h5.4M176 734h5.4M203 734h5.4M219.2 734h5.4M230 734h5.4M240.8 734h5.4M321.8 734h5.4M338 734h5.4M354.2 734h5.4M365 734h10.8M381.2 734h5.4M419 734h5.4M591.8 734h5.4M618.8 734h5.4M640.4 734h5.4M667.4 734h5.4M154.4 732.2h5.4M208.4 732.2h5.4M219.2 732.2h5.4M251.6 732.2h5.4M284 732.2h5.4M527 732.2h5.4M543.2 732.2h5.4M559.4 732.2h5.4M624.2 732.2h5.4M640.4 732.2h5.4M656.6 732.2h5.4M797 732.2h5.2M208.4 730.4h5.4M262.4 730.4h5.4M527 730.4h5.4M932 730.4h5.2M132.8 728.5h5.4M273.2 728.5h5.4M440.6 728.5h5.4M483.8 728.5h5.4M527 728.5h5.4M591.8 728.5h5.4M797 728.5h5.2M905 728.5h5.2M932 728.5h5.2M143.6 726.7h5.4M267.8 726.7h5.4M305.6 726.7h5.4M473 726.7h5.4M516.2 726.7h5.4M527 726.7h5.4M624.2 726.7h5.4M640.4 726.7h5.4M683.6 726.7h5.4M932 726.7h5.2M143.6 724.9h5.4M165.2 724.9h10.8M219.2 724.9h5.4M273.2 724.9h5.4M354.2 724.9h5.4M435.2 724.9h5.4M516.2 724.9h5.4M532.4 724.9h5.4M602.6 724.9h5.4M635 724.9h5.4M824 724.9h5.2M138.2 723.1h5.4M327.2 723.1h5.4M354.2 723.1h5.4M456.8 723.1h5.4M586.4 723.1h5.4M656.6 723.1h5.4M672.8 723.1h5.4M726.6 723.1h5.2M748.2 723.1h5.2M851 723.1h5.2M159.8 721.3h5.4M197.6 721.3h5.4M305.6 721.3h5.4M381.2 721.3h5.4M570.2 721.3h5.4M851 721.3h5.2M300.2 719.5h5.4M354.2 719.5h5.4M370.4 719.5h16.2M500 719.5h5.4M521.6 719.5h5.4M548.6 719.5h5.4M570.2 719.5h5.4M597.2 719.5h16.2M662 719.5h5.4M737.4 719.5h5.2M132.8 717.7h5.4M149 717.7h5.4M165.2 717.7h5.4M181.4 717.7h5.4M197.6 717.7h5.4M262.4 717.7h5.4M402.8 717.7h5.4M446 717.7h5.4M478.4 717.7h5.4M559.4 717.7h5.4M645.8 717.7h5.4M683.6 717.7h5.4M705 717.7h5.2M138.2 715.9h5.4M149 715.9h5.4M257 715.9h5.4M338 715.9h5.4M348.8 715.9h5.4M527 715.9h5.4M715.8 715.9h5.2M127.4 714h5.4M149 714h5.4M240.8 714h5.4M359.6 714h5.4M456.8 714h5.4M516.2 714h5.4M672.8 714h5.4M219.2 712.2h5.4M251.6 712.2h5.4M262.4 712.2h5.4M678.2 712.2h5.4M769.8 712.2h5.2M132.8 710.4h10.8M208.4 710.4h5.4M327.2 710.4h5.4M392 710.4h5.4M419 710.4h5.4M527 710.4h5.4M548.6 710.4h5.4M570.2 710.4h5.4M246.2 708.6h5.4M338 708.6h5.4M413.6 708.6h5.4M483.8 708.6h5.4M618.8 708.6h5.4M678.2 708.6h5.4M294.8 706.8h5.4M359.6 706.8h5.4M381.2 706.8h5.4M397.4 706.8h5.4M408.2 706.8h5.4M473 706.8h5.4M483.8 706.8h5.4M527 706.8h5.4M635 706.8h5.4M651.2 706.8h5.4M672.8 706.8h5.4M797 706.8h5.2M143.6 705h5.4M192.2 705h5.4M230 705h5.4M267.8 705h5.4M338 705h5.4M365 705h5.4M521.6 705h5.4M608 705h5.4M635 705h5.4M672.8 705h5.4M143.6 703.2h5.4M230 703.2h5.4M262.4 703.2h5.4M273.2 703.2h5.4M311 703.2h5.4M343.4 703.2h5.4M440.6 703.2h5.4M510.8 703.2h10.8M651.2 703.2h5.4M932 703.2h5.2M192.2 701.4h5.4M257 701.4h16.2M289.4 701.4h5.4M483.8 701.4h5.4M521.6 701.4h5.4M575.6 701.4h10.8M629.6 701.4h5.4M683.6 701.4h5.4M132.8 699.5h5.4M149 699.5h5.4M165.2 699.5h5.4M176 699.5h5.4M186.8 699.5h5.4M230 699.5h5.4M246.2 699.5h5.4M300.2 699.5h5.4M354.2 699.5h5.4M456.8 699.5h5.4M559.4 699.5h5.4M608 699.5h5.4M662 699.5h5.4M769.8 699.5h5.2M878 699.5h5.2M932 699.5h5.2M127.4 697.7h5.4M181.4 697.7h5.4M192.2 697.7h5.4M208.4 697.7h5.4M257 697.7h5.4M273.2 697.7h5.4M456.8 697.7h5.4M537.8 697.7h5.4M602.6 697.7h5.4M683.6 697.7h5.4M715.8 697.7h5.2M170.6 695.9h5.4M197.6 695.9h5.4M267.8 695.9h5.4M300.2 695.9h5.4M181.4 694.1h5.4M213.8 694.1h5.4M235.4 694.1h5.4M289.4 694.1h5.4M359.6 694.1h5.4M678.2 694.1h5.4M694.4 694.1h5.4M235.4 692.3h5.4M300.2 692.3h5.4M321.8 692.3h5.4M332.6 692.3h5.4M348.8 692.3h5.4M483.8 692.3h5.4M521.6 692.3h5.4M537.8 692.3h5.4M618.8 692.3h5.4M672.8 692.3h5.4M683.6 692.3h5.4M759 692.3h5.2M878 692.3h5.2M143.6 690.5h10.8M224.6 690.5h5.4M348.8 690.5h5.4M359.6 690.5h5.4M424.4 690.5h10.8M473 690.5h5.4M521.6 690.5h5.4M537.8 690.5h5.4M602.6 690.5h5.4M143.6 688.7h5.4M354.2 688.7h5.4M392 688.7h5.4M402.8 688.7h5.4M597.2 688.7h5.4M656.6 688.7h5.4M737.4 688.7h5.2M759 688.7h5.2M851 688.7h5.2M122 686.9h5.4M165.2 686.9h5.4M321.8 686.9h5.4M397.4 686.9h5.4M413.6 686.9h5.4M435.2 686.9h5.4M451.4 686.9h5.4M467.6 686.9h10.8M505.4 686.9h5.4M554 686.9h5.4M597.2 686.9h5.4M683.6 686.9h5.4M759 686.9h5.2M122 685h5.4M208.4 685h5.4M240.8 685h5.4M262.4 685h5.4M311 685h16.2M473 685h5.4M489.2 685h5.4M613.4 685h5.4M678.2 685h5.4M159.8 683.2h5.4M224.6 683.2h5.4M246.2 683.2h5.4M327.2 683.2h5.4M440.6 683.2h5.4M451.4 683.2h5.4M532.4 683.2h5.4M672.8 683.2h5.4M932 683.2h5.2M197.6 681.4h5.4M213.8 681.4h5.4M240.8 681.4h5.4M440.6 681.4h5.4M516.2 681.4h5.4M537.8 681.4h5.4M570.2 681.4h5.4M635 681.4h5.4M683.6 681.4h5.4M122 679.6h5.4M132.8 679.6h5.4M159.8 679.6h5.4M176 679.6h5.4M230 679.6h5.4M262.4 679.6h5.4M359.6 679.6h5.4M375.8 679.6h5.4M456.8 679.6h5.4M521.6 679.6h5.4M543.2 679.6h5.4M608 679.6h5.4M640.4 679.6h5.4M181.4 677.8h10.8M267.8 677.8h5.4M348.8 677.8h5.4M521.6 677.8h5.4M581 677.8h5.4M170.6 676h5.4M267.8 676h5.4M343.4 676h5.4M581 676h5.4M618.8 676h5.4M689 676h5.4M824 676h5.2M149 674.2h5.4M365 674.2h5.4M408.2 674.2h5.4M435.2 674.2h5.4M537.8 674.2h5.4M608 674.2h5.4M667.4 674.2h5.4M143.6 672.4h5.4M203 672.4h5.4M273.2 672.4h10.8M321.8 672.4h5.4M332.6 672.4h5.4M386.6 672.4h5.4M440.6 672.4h5.4M543.2 672.4h5.4M667.4 672.4h5.4M737.4 672.4h5.2M170.6 670.5h5.4M203 670.5h5.4M235.4 670.5h5.4M273.2 670.5h10.8M381.2 670.5h5.4M402.8 670.5h10.8M489.2 670.5h5.4M510.8 670.5h5.4M527 670.5h10.8M564.8 670.5h5.4M715.8 670.5h5.2M726.6 670.5h5.2M138.2 668.7h5.4M170.6 668.7h10.8M311 668.7h5.4M354.2 668.7h5.4M381.2 668.7h5.4M392 668.7h5.4M435.2 668.7h5.4M473 668.7h16.2M575.6 668.7h5.4M683.6 668.7h5.4M737.4 668.7h5.2M251.6 666.9h5.4M321.8 666.9h5.4M381.2 666.9h5.4M429.8 666.9h5.4M451.4 666.9h5.4M473 666.9h5.4M597.2 666.9h5.4M672.8 666.9h5.4M797 666.9h5.2M165.2 665.1h5.4M240.8 665.1h5.4M273.2 665.1h5.4M294.8 665.1h5.4M381.2 665.1h5.4M419 665.1h5.4M559.4 665.1h5.4M624.2 665.1h5.4M769.8 665.1h5.2M327.2 663.3h5.4M348.8 663.3h5.4M429.8 663.3h5.4M446 663.3h5.4M559.4 663.3h5.4M597.2 663.3h5.4M608 663.3h5.4M672.8 663.3h5.4M689 663.3h5.4M737.4 663.3h5.2M797 663.3h5.2M154.4 661.5h5.4M165.2 661.5h5.4M462.2 661.5h5.4M473 661.5h5.4M521.6 661.5h5.4M591.8 661.5h5.4M618.8 661.5h5.4M132.8 659.7h5.4M149 659.7h5.4M219.2 659.7h5.4M359.6 659.7h5.4M446 659.7h5.4M554 659.7h5.4M618.8 659.7h5.4M737.4 659.7h5.2M197.6 657.9h5.4M332.6 657.9h5.4M375.8 657.9h5.4M510.8 657.9h5.4M521.6 657.9h5.4M537.8 657.9h5.4M651.2 657.9h5.4M748.2 657.9h5.2M224.6 656h5.4M294.8 656h5.4M570.2 656h5.4M624.2 656h10.8M694.4 656h5.4M143.6 654.2h5.4M165.2 654.2h5.4M219.2 654.2h5.4M235.4 654.2h5.4M332.6 654.2h5.4M354.2 654.2h5.4M370.4 654.2h5.4M451.4 654.2h5.4M462.2 654.2h5.4M473 654.2h5.4M586.4 654.2h5.4M143.6 652.4h5.4M257 652.4h5.4M267.8 652.4h5.4M284 652.4h5.4M348.8 652.4h5.4M451.4 652.4h5.4M510.8 652.4h5.4M532.4 652.4h5.4M570.2 652.4h5.4M597.2 652.4h5.4M618.8 652.4h5.4M656.6 652.4h5.4M726.6 652.4h5.2M851 652.4h5.2M327.2 650.6h5.4M435.2 650.6h5.4M521.6 650.6h5.4M597.2 650.6h5.4M618.8 650.6h10.8M678.2 650.6h5.4M878 650.6h5.2M122 648.8h5.4M186.8 648.8h5.4M224.6 648.8h5.4M246.2 648.8h5.4M305.6 648.8h5.4M375.8 648.8h5.4M462.2 648.8h5.4M483.8 648.8h5.4M797 648.8h5.2M176 647h5.4M224.6 647h5.4M262.4 647h5.4M294.8 647h5.4M305.6 647h5.4M413.6 647h5.4M494.6 647h5.4M505.4 647h5.4M516.2 647h5.4M608 647h5.4M618.8 647h5.4M689 647h5.4M797 647h5.2M851 647h5.2M262.4 645.2h5.4M338 645.2h5.4M586.4 645.2h5.4M667.4 645.2h5.4M678.2 645.2h5.4M127.4 643.4h5.4M138.2 643.4h10.8M159.8 643.4h5.4M186.8 643.4h5.4M311 643.4h5.4M473 643.4h5.4M532.4 643.4h5.4M575.6 643.4h10.8M608 643.4h5.4M645.8 643.4h5.4M759 643.4h5.2M127.4 641.5h5.4M143.6 641.5h5.4M197.6 641.5h5.4M240.8 641.5h5.4M289.4 641.5h5.4M338 641.5h5.4M365 641.5h5.4M397.4 641.5h5.4M456.8 641.5h5.4M478.4 641.5h10.8M532.4 641.5h5.4M543.2 641.5h10.8M570.2 641.5h5.4M586.4 641.5h16.2M624.2 641.5h5.4M640.4 641.5h5.4M678.2 641.5h5.4M715.8 641.5h5.2M132.8 639.7h5.4M203 639.7h5.4M251.6 639.7h5.4M365 639.7h5.4M456.8 639.7h5.4M478.4 639.7h5.4M570.2 639.7h5.4M694.4 639.7h5.4M159.8 637.9h5.4M321.8 637.9h5.4M392 637.9h5.4M494.6 637.9h5.4M548.6 637.9h10.8M678.2 637.9h5.4M705 637.9h5.2M737.4 637.9h5.2M878 637.9h5.2M138.2 636.1h5.4M165.2 636.1h5.4M273.2 636.1h5.4M516.2 636.1h5.4M575.6 636.1h5.4M624.2 636.1h5.4M656.6 636.1h5.4M737.4 636.1h5.2M748.2 636.1h5.2M797 636.1h5.2M132.8 634.3h5.4M197.6 634.3h5.4M284 634.3h5.4M332.6 634.3h5.4M424.4 634.3h5.4M467.6 634.3h5.4M586.4 634.3h5.4M597.2 634.3h5.4M640.4 634.3h5.4M208.4 632.5h5.4M429.8 632.5h5.4M478.4 632.5h5.4M672.8 632.5h5.4M737.4 632.5h5.2M122 630.7h5.4M170.6 630.7h5.4M203 630.7h5.4M284 630.7h5.4M305.6 630.7h5.4M386.6 630.7h5.4M408.2 630.7h5.4M737.4 630.7h5.2M138.2 628.9h5.4M165.2 628.9h5.4M397.4 628.9h5.4M451.4 628.9h16.2M543.2 628.9h5.4M554 628.9h5.4M570.2 628.9h10.8M629.6 628.9h5.4M748.2 628.9h5.2M824 628.9h5.2M851 628.9h5.2M132.8 627h5.4M159.8 627h5.4M192.2 627h5.4M386.6 627h5.4M408.2 627h5.4M462.2 627h5.4M748.2 627h5.2M824 627h5.2M262.4 625.2h5.4M316.4 625.2h5.4M429.8 625.2h5.4M462.2 625.2h5.4M494.6 625.2h5.4M759 625.2h5.2M262.4 623.4h5.4M543.2 623.4h5.4M629.6 623.4h5.4M672.8 623.4h5.4M683.6 623.4h5.4M705 623.4h5.2M851 623.4h5.2M284 621.6h10.8M365 621.6h5.4M527 621.6h10.8M543.2 621.6h5.4M230 619.8h5.4M251.6 619.8h5.4M262.4 619.8h5.4M294.8 619.8h5.4M408.2 619.8h5.4M456.8 619.8h5.4M473 619.8h5.4M521.6 619.8h5.4M532.4 619.8h5.4M608 619.8h5.4M824 619.8h5.2M294.8 618h5.4M419 618h5.4M494.6 618h5.4M537.8 618h5.4M597.2 618h5.4M613.4 618h5.4M267.8 616.2h5.4M284 616.2h5.4M343.4 616.2h5.4M392 616.2h5.4M467.6 616.2h5.4M537.8 616.2h5.4M678.2 616.2h5.4M851 616.2h5.2M149 614.4h5.4M176 614.4h5.4M224.6 614.4h5.4M273.2 614.4h5.4M343.4 614.4h5.4M467.6 614.4h5.4M500 614.4h5.4M516.2 614.4h5.4M694.4 614.4h5.4M759 614.4h5.2M797 614.4h5.2M159.8 612.5h5.4M354.2 612.5h5.4M386.6 612.5h5.4M397.4 612.5h5.4M489.2 612.5h5.4M510.8 612.5h10.8M651.2 612.5h5.4M694.4 612.5h5.4M267.8 610.7h5.4M284 610.7h5.4M332.6 610.7h5.4M386.6 610.7h5.4M440.6 610.7h5.4M527 610.7h5.4M705 610.7h5.2M127.4 608.9h5.4M224.6 608.9h5.4M273.2 608.9h5.4M375.8 608.9h5.4M527 608.9h5.4M624.2 608.9h5.4M678.2 608.9h5.4M203 607.1h5.4M235.4 607.1h5.4M370.4 607.1h5.4M435.2 607.1h5.4M586.4 607.1h5.4M624.2 607.1h5.4M667.4 607.1h5.4M181.4 605.3h5.4M203 605.3h5.4M224.6 605.3h10.8M294.8 605.3h5.4M321.8 605.3h5.4M392 605.3h5.4M402.8 605.3h10.8M424.4 605.3h5.4M467.6 605.3h5.4M489.2 605.3h5.4M559.4 605.3h5.4M645.8 605.3h5.4M667.4 605.3h5.4M683.6 605.3h5.4M694.4 605.3h5.4M769.8 605.3h5.2M122 603.5h5.4M219.2 603.5h5.4M230 603.5h5.4M273.2 603.5h5.4M424.4 603.5h5.4M435.2 603.5h5.4M527 603.5h5.4M667.4 603.5h5.4M797 603.5h5.2M375.8 601.7h5.4M402.8 601.7h5.4M440.6 601.7h5.4M456.8 601.7h5.4M489.2 601.7h5.4M554 601.7h5.4M586.4 601.7h5.4M197.6 599.9h5.4M300.2 599.9h5.4M370.4 599.9h5.4M381.2 599.9h5.4M483.8 599.9h5.4M510.8 599.9h5.4M554 599.9h5.4M575.6 599.9h5.4M640.4 599.9h5.4M662 599.9h5.4M197.6 598h10.8M267.8 598h5.4M289.4 598h5.4M440.6 598h5.4M624.2 598h5.4M662 598h5.4M138.2 596.2h5.4M159.8 596.2h5.4M224.6 596.2h5.4M311 596.2h5.4M332.6 596.2h5.4M451.4 596.2h5.4M629.6 596.2h5.4M726.6 596.2h5.2M905 596.2h5.2M176 594.4h5.4M235.4 594.4h5.4M402.8 594.4h5.4M467.6 594.4h5.4M494.6 594.4h5.4M586.4 594.4h5.4M597.2 594.4h5.4M651.2 594.4h5.4M705 594.4h5.2M905 594.4h5.2M170.6 592.6h5.4M230 592.6h5.4M262.4 592.6h5.4M278.6 592.6h5.4M386.6 592.6h5.4M440.6 592.6h5.4M483.8 592.6h5.4M527 592.6h5.4M559.4 592.6h5.4M591.8 592.6h5.4M878 592.6h5.2M365 590.8h5.4M402.8 590.8h5.4M440.6 590.8h5.4M462.2 590.8h10.8M737.4 590.8h5.2M748.2 590.8h5.2M878 590.8h5.2M122 589h5.4M143.6 589h5.4M192.2 589h5.4M240.8 589h5.4M440.6 589h5.4M581 589h5.4M602.6 589h5.4M651.2 589h5.4M726.6 589h5.2M905 589h5.2M122 587.2h5.4M181.4 587.2h5.4M192.2 587.2h5.4M251.6 587.2h5.4M478.4 587.2h5.4M500 587.2h5.4M602.6 587.2h10.8M618.8 587.2h5.4M656.6 587.2h5.4M678.2 587.2h5.4M122 585.4h5.4M165.2 585.4h5.4M267.8 585.4h5.4M300.2 585.4h5.4M327.2 585.4h5.4M365 585.4h5.4M375.8 585.4h5.4M408.2 585.4h5.4M489.2 585.4h5.4M510.8 585.4h5.4M554 585.4h5.4M613.4 585.4h5.4M689 585.4h5.4M705 585.4h5.2M748.2 585.4h5.2M132.8 583.5h5.4M186.8 583.5h5.4M235.4 583.5h5.4M278.6 583.5h5.4M294.8 583.5h5.4M408.2 583.5h5.4M451.4 583.5h5.4M613.4 583.5h5.4M656.6 583.5h5.4M851 583.5h5.2M122 581.7h5.4M132.8 581.7h5.4M143.6 581.7h5.4M186.8 581.7h5.4M240.8 581.7h5.4M597.2 581.7h5.4M629.6 581.7h5.4M645.8 581.7h5.4M683.6 581.7h5.4M127.4 579.9h5.4M165.2 579.9h5.4M257 579.9h5.4M294.8 579.9h5.4M316.4 579.9h5.4M456.8 579.9h5.4M500 579.9h5.4M564.8 579.9h5.4M591.8 579.9h5.4M635 579.9h5.4M651.2 579.9h5.4M824 579.9h5.2M932 579.9h5.2M257 578.1h5.4M602.6 578.1h5.4M635 578.1h5.4M662 578.1h5.4M689 578.1h5.4M824 578.1h5.2M154.4 576.3h5.4M251.6 576.3h5.4M451.4 576.3h10.8M532.4 576.3h5.4M257 574.5h5.4M332.6 574.5h10.8M424.4 574.5h5.4M500 574.5h10.8M548.6 574.5h5.4M797 574.5h5.2M851 574.5h5.2M154.4 572.7h5.4M186.8 572.7h16.2M257 572.7h5.4M289.4 572.7h5.4M343.4 572.7h5.4M537.8 572.7h5.4M548.6 572.7h5.4M645.8 572.7h5.4M715.8 572.7h5.2M257 570.9h5.4M354.2 570.9h5.4M462.2 570.9h5.4M537.8 570.9h5.4M645.8 570.9h5.4M672.8 570.9h5.4M748.2 570.9h5.2M208.4 569h5.4M289.4 569h5.4M408.2 569h5.4M473 569h5.4M678.2 569h5.4M127.4 567.2h10.8M170.6 567.2h5.4M284 567.2h5.4M429.8 567.2h5.4M456.8 567.2h5.4M510.8 567.2h5.4M537.8 567.2h5.4M645.8 567.2h10.8M694.4 567.2h5.4M132.8 565.4h5.4M143.6 565.4h5.4M170.6 565.4h5.4M208.4 565.4h5.4M240.8 565.4h5.4M273.2 565.4h5.4M284 565.4h5.4M316.4 565.4h10.8M332.6 565.4h5.4M478.4 565.4h5.4M500 565.4h5.4M759 565.4h5.2M246.2 563.6h5.4M381.2 563.6h5.4M586.4 563.6h5.4M597.2 563.6h5.4M608 563.6h5.4M635 563.6h5.4M672.8 563.6h5.4M154.4 561.8h5.4M224.6 561.8h5.4M365 561.8h5.4M381.2 561.8h5.4M408.2 561.8h5.4M419 561.8h5.4M543.2 561.8h5.4M575.6 561.8h5.4M127.4 560h5.4M197.6 560h5.4M224.6 560h5.4M305.6 560h5.4M316.4 560h5.4M462.2 560h5.4M537.8 560h5.4M613.4 560h5.4M316.4 558.2h5.4M386.6 558.2h5.4M397.4 558.2h10.8M413.6 558.2h5.4M440.6 558.2h5.4M586.4 558.2h5.4M905 558.2h5.2M165.2 556.4h5.4M273.2 556.4h5.4M311 556.4h5.4M321.8 556.4h5.4M332.6 556.4h5.4M440.6 556.4h5.4M473 556.4h5.4M510.8 556.4h5.4M586.4 556.4h5.4M624.2 556.4h5.4M635 556.4h5.4M667.4 556.4h5.4M715.8 556.4h5.2M122 554.5h5.4M240.8 554.5h5.4M521.6 554.5h5.4M554 554.5h10.8M667.4 554.5h5.4M678.2 554.5h5.4M737.4 554.5h5.2M878 554.5h5.2M154.4 552.7h5.4M186.8 552.7h5.4M219.2 552.7h5.4M381.2 552.7h5.4M392 552.7h5.4M440.6 552.7h5.4M521.6 552.7h5.4M554 552.7h5.4M586.4 552.7h5.4M624.2 552.7h5.4M662 552.7h5.4M230 550.9h5.4M257 550.9h5.4M397.4 550.9h10.8M559.4 550.9h5.4M640.4 550.9h5.4M726.6 550.9h5.2M932 550.9h5.2M154.4 549.1h5.4M262.4 549.1h5.4M359.6 549.1h5.4M397.4 549.1h5.4M429.8 549.1h5.4M451.4 549.1h5.4M489.2 549.1h5.4M532.4 549.1h5.4M554 549.1h5.4M629.6 549.1h5.4M645.8 549.1h5.4M656.6 549.1h5.4M667.4 549.1h5.4M824 549.1h5.2M905 549.1h5.2M154.4 547.3h5.4M170.6 547.3h5.4M186.8 547.3h5.4M294.8 547.3h5.4M311 547.3h5.4M429.8 547.3h5.4M473 547.3h5.4M667.4 547.3h5.4M683.6 547.3h5.4M905 547.3h5.2M159.8 545.5h5.4M332.6 545.5h5.4M402.8 545.5h10.8M505.4 545.5h5.4M629.6 545.5h5.4M127.4 543.7h5.4M143.6 543.7h5.4M165.2 543.7h5.4M262.4 543.7h5.4M456.8 543.7h5.4M554 543.7h5.4M586.4 543.7h5.4M759 543.7h5.2M878 543.7h5.2M127.4 541.9h5.4M143.6 541.9h5.4M154.4 541.9h5.4M246.2 541.9h5.4M370.4 541.9h5.4M392 541.9h5.4M456.8 541.9h5.4M586.4 541.9h5.4M602.6 541.9h5.4M624.2 541.9h5.4M678.2 541.9h5.4M224.6 540h5.4M321.8 540h5.4M370.4 540h5.4M408.2 540h5.4M435.2 540h5.4M473 540h5.4M489.2 540h5.4M564.8 540h5.4M602.6 540h5.4M629.6 540h5.4M726.6 540h5.2M759 540h5.2M122 538.2h5.4M370.4 538.2h5.4M618.8 538.2h5.4M629.6 538.2h5.4M667.4 538.2h5.4M726.6 538.2h5.2M748.2 538.2h5.2M138.2 536.4h5.4M170.6 536.4h5.4M186.8 536.4h5.4M316.4 536.4h5.4M370.4 536.4h5.4M381.2 536.4h5.4M478.4 536.4h5.4M570.2 536.4h5.4M640.4 536.4h5.4M186.8 534.6h5.4M343.4 534.6h5.4M386.6 534.6h5.4M446 534.6h5.4M483.8 534.6h5.4M500 534.6h5.4M516.2 534.6h5.4M586.4 534.6h5.4M597.2 534.6h5.4M618.8 534.6h5.4M748.2 534.6h5.2M932 534.6h5.2M122 532.8h5.4M132.8 532.8h5.4M219.2 532.8h5.4M246.2 532.8h5.4M316.4 532.8h5.4M359.6 532.8h5.4M435.2 532.8h5.4M483.8 532.8h5.4M554 532.8h5.4M662 532.8h5.4M678.2 532.8h5.4M748.2 532.8h5.2M138.2 531h5.4M154.4 531h5.4M240.8 531h5.4M278.6 531h5.4M494.6 531h10.8M613.4 531h5.4M651.2 531h5.4M878 531h5.2M905 531h5.2M127.4 529.2h5.4M246.2 529.2h5.4M262.4 529.2h5.4M348.8 529.2h10.8M375.8 529.2h5.4M386.6 529.2h5.4M408.2 529.2h5.4M419 529.2h5.4M429.8 529.2h5.4M516.2 529.2h5.4M527 529.2h5.4M581 529.2h5.4M602.6 529.2h5.4M635 529.2h5.4M797 529.2h5.2M851 529.2h5.2M143.6 527.4h5.4M176 527.4h5.4M235.4 527.4h5.4M527 527.4h5.4M581 527.4h5.4M122 525.5h10.8M230 525.5h5.4M278.6 525.5h5.4M311 525.5h5.4M397.4 525.5h5.4M419 525.5h5.4M451.4 525.5h5.4M521.6 525.5h5.4M629.6 525.5h5.4M138.2 523.7h5.4M213.8 523.7h5.4M294.8 523.7h5.4M397.4 523.7h5.4M537.8 523.7h5.4M548.6 523.7h5.4M851 523.7h5.2M122 521.9h5.4M208.4 521.9h5.4M240.8 521.9h5.4M284 521.9h5.4M386.6 521.9h5.4M419 521.9h5.4M446 521.9h5.4M521.6 521.9h5.4M537.8 521.9h5.4M759 521.9h5.2M289.4 520.1h5.4M392 520.1h5.4M419 520.1h5.4M462.2 520.1h5.4M683.6 520.1h5.4M737.4 520.1h5.2M122 518.3h5.4M170.6 518.3h5.4M262.4 518.3h5.4M370.4 518.3h5.4M591.8 518.3h5.4M613.4 518.3h5.4M672.8 518.3h5.4M143.6 516.5h5.4M262.4 516.5h5.4M505.4 516.5h5.4M564.8 516.5h5.4M618.8 516.5h5.4M683.6 516.5h5.4M769.8 516.5h5.2M181.4 514.7h5.4M197.6 514.7h5.4M321.8 514.7h5.4M440.6 514.7h5.4M629.6 514.7h5.4M769.8 514.7h5.2M132.8 512.9h5.4M159.8 512.9h10.8M235.4 512.9h5.4M316.4 512.9h5.4M365 512.9h5.4M402.8 512.9h5.4M419 512.9h5.4M489.2 512.9h5.4M824 512.9h5.2M143.6 511h5.4M165.2 511h5.4M186.8 511h5.4M240.8 511h5.4M294.8 511h5.4M440.6 511h5.4M451.4 511h5.4M500 511h5.4M548.6 511h5.4M564.8 511h5.4M591.8 511h5.4M656.6 511h5.4M715.8 511h5.2M726.6 511h5.2M138.2 509.2h5.4M321.8 509.2h5.4M435.2 509.2h5.4M559.4 509.2h10.8M608 509.2h5.4M629.6 509.2h5.4M656.6 509.2h5.4M737.4 509.2h5.2M748.2 509.2h5.2M769.8 509.2h5.2M132.8 507.4h5.4M154.4 507.4h5.4M186.8 507.4h5.4M559.4 507.4h5.4M683.6 507.4h5.4M726.6 507.4h5.2M759 507.4h5.2M905 507.4h5.2M122 505.6h5.4M154.4 505.6h5.4M186.8 505.6h5.4M197.6 505.6h5.4M213.8 505.6h5.4M402.8 505.6h5.4M516.2 505.6h5.4M575.6 505.6h5.4M635 505.6h5.4M694.4 505.6h5.4M127.4 503.8h5.4M159.8 503.8h5.4M186.8 503.8h5.4M224.6 503.8h5.4M235.4 503.8h5.4M251.6 503.8h5.4M305.6 503.8h5.4M354.2 503.8h5.4M370.4 503.8h5.4M516.2 503.8h5.4M672.8 503.8h5.4M203 502h5.4M230 502h5.4M246.2 502h5.4M381.2 502h5.4M500 502h5.4M640.4 502h5.4M159.8 500.2h5.4M224.6 500.2h5.4M251.6 500.2h5.4M635 500.2h5.4M705 500.2h5.2M851 500.2h5.2M208.4 498.4h5.4M219.2 498.4h5.4M392 498.4h5.4M440.6 498.4h5.4M462.2 498.4h5.4M494.6 498.4h5.4M618.8 498.4h5.4M715.8 498.4h5.2M769.8 498.4h5.2M824 498.4h5.2M273.2 496.5h10.8M305.6 496.5h5.4M348.8 496.5h5.4M429.8 496.5h5.4M462.2 496.5h5.4M543.2 496.5h5.4M678.2 496.5h5.4M170.6 494.7h5.4M213.8 494.7h5.4M267.8 494.7h10.8M300.2 494.7h10.8M316.4 494.7h5.4M402.8 494.7h5.4M483.8 494.7h5.4M548.6 494.7h5.4M672.8 494.7h5.4M851 494.7h5.2M878 494.7h5.2M905 494.7h5.2M267.8 492.9h5.4M402.8 492.9h5.4M429.8 492.9h5.4M483.8 492.9h5.4M532.4 492.9h5.4M559.4 492.9h5.4M629.6 492.9h5.4M127.4 491.1h5.4M213.8 491.1h5.4M311 491.1h5.4M327.2 491.1h5.4M419 491.1h5.4M527 491.1h5.4M537.8 491.1h5.4M559.4 491.1h5.4M635 491.1h5.4M122 489.3h5.4M154.4 489.3h5.4M181.4 489.3h5.4M235.4 489.3h5.4M354.2 489.3h5.4M375.8 489.3h5.4M440.6 489.3h5.4M521.6 489.3h5.4M537.8 489.3h5.4M602.6 489.3h5.4M705 489.3h5.2M138.2 487.5h5.4M316.4 487.5h5.4M424.4 487.5h5.4M559.4 487.5h5.4M651.2 487.5h10.8M715.8 487.5h5.2M186.8 485.7h5.4M543.2 485.7h5.4M672.8 485.7h5.4M208.4 483.9h5.4M278.6 483.9h5.4M527 483.9h10.8M689 483.9h5.4M726.6 483.9h5.2M851 483.9h5.2M154.4 482h5.4M176 482h5.4M300.2 482h5.4M332.6 482h5.4M343.4 482h5.4M435.2 482h5.4M451.4 482h5.4M543.2 482h5.4M591.8 482h5.4M645.8 482h5.4M656.6 482h5.4M878 482h5.2M132.8 480.2h5.4M159.8 480.2h5.4M570.2 480.2h5.4M608 480.2h5.4M645.8 480.2h5.4M656.6 480.2h10.8M824 480.2h5.2M165.2 478.4h5.4M208.4 478.4h5.4M257 478.4h10.8M316.4 478.4h5.4M327.2 478.4h5.4M359.6 478.4h5.4M435.2 478.4h5.4M575.6 478.4h5.4M651.2 478.4h5.4M662 478.4h5.4M138.2 476.6h5.4M321.8 476.6h5.4M359.6 476.6h5.4M402.8 476.6h5.4M456.8 476.6h5.4M494.6 476.6h5.4M532.4 476.6h5.4M554 476.6h5.4M618.8 476.6h5.4M651.2 476.6h5.4M683.6 476.6h5.4M759 476.6h5.2M138.2 474.8h5.4M159.8 474.8h5.4M170.6 474.8h5.4M192.2 474.8h5.4M267.8 474.8h5.4M289.4 474.8h5.4M440.6 474.8h5.4M532.4 474.8h5.4M575.6 474.8h5.4M602.6 474.8h5.4M640.4 474.8h5.4M651.2 474.8h5.4M824 474.8h5.2M132.8 473h5.4M170.6 473h5.4M257 473h5.4M267.8 473h5.4M284 473h5.4M392 473h5.4M429.8 473h5.4M516.2 473h5.4M575.6 473h5.4M624.2 473h5.4M905 473h5.2M181.4 471.2h5.4M224.6 471.2h5.4M338 471.2h10.8M397.4 471.2h10.8M473 471.2h5.4M483.8 471.2h5.4M645.8 471.2h5.4M694.4 471.2h5.4M748.2 471.2h5.2M143.6 469.4h10.8M203 469.4h5.4M230 469.4h5.4M284 469.4h5.4M305.6 469.4h5.4M402.8 469.4h5.4M543.2 469.4h5.4M591.8 469.4h5.4M618.8 469.4h5.4M635 469.4h5.4M748.2 469.4h5.2M176 467.5h5.4M186.8 467.5h5.4M251.6 467.5h5.4M375.8 467.5h5.4M408.2 467.5h5.4M597.2 467.5h10.8M678.2 467.5h5.4M715.8 467.5h5.2M273.2 465.7h5.4M321.8 465.7h5.4M343.4 465.7h5.4M365 465.7h5.4M386.6 465.7h5.4M429.8 465.7h5.4M467.6 465.7h5.4M586.4 465.7h5.4M694.4 465.7h5.4M748.2 465.7h5.2M824 465.7h5.2M905 465.7h5.2M127.4 463.9h5.4M338 463.9h5.4M408.2 463.9h5.4M435.2 463.9h5.4M489.2 463.9h5.4M516.2 463.9h5.4M532.4 463.9h5.4M618.8 463.9h5.4M667.4 463.9h5.4M705 463.9h5.2M769.8 463.9h5.2M851 463.9h5.2M905 463.9h5.2M370.4 462.1h5.4M381.2 462.1h10.8M408.2 462.1h5.4M483.8 462.1h5.4M570.2 462.1h5.4M591.8 462.1h10.8M640.4 462.1h5.4M694.4 462.1h5.4M797 462.1h5.2M824 462.1h5.2M138.2 460.3h5.4M159.8 460.3h5.4M181.4 460.3h5.4M257 460.3h5.4M284 460.3h10.8M381.2 460.3h5.4M408.2 460.3h5.4M516.2 460.3h5.4M537.8 460.3h5.4M548.6 460.3h5.4M570.2 460.3h5.4M597.2 460.3h5.4M435.2 458.5h5.4M462.2 458.5h5.4M494.6 458.5h5.4M516.2 458.5h5.4M554 458.5h5.4M575.6 458.5h5.4M586.4 458.5h5.4M624.2 458.5h5.4M726.6 458.5h5.2M122 456.7h5.4M224.6 456.7h5.4M305.6 456.7h10.8M338 456.7h5.4M375.8 456.7h5.4M559.4 456.7h5.4M581 456.7h5.4M932 456.7h5.2M122 454.9h5.4M138.2 454.9h10.8M154.4 454.9h5.4M170.6 454.9h5.4M181.4 454.9h5.4M262.4 454.9h5.4M521.6 454.9h5.4M532.4 454.9h5.4M591.8 454.9h5.4M127.4 453h5.4M159.8 453h5.4M181.4 453h5.4M267.8 453h5.4M289.4 453h5.4M327.2 453h5.4M343.4 453h5.4M629.6 453h5.4M143.6 451.2h5.4M165.2 451.2h5.4M192.2 451.2h5.4M348.8 451.2h5.4M532.4 451.2h5.4M559.4 451.2h5.4M608 451.2h5.4M624.2 451.2h5.4M678.2 451.2h5.4M748.2 451.2h5.2M122 449.4h5.4M149 449.4h5.4M284 449.4h5.4M305.6 449.4h5.4M446 449.4h5.4M543.2 449.4h5.4M678.2 449.4h5.4M132.8 447.6h10.8M149 447.6h5.4M230 447.6h5.4M516.2 447.6h5.4M543.2 447.6h5.4M559.4 447.6h5.4M208.4 445.8h5.4M289.4 445.8h5.4M375.8 445.8h5.4M386.6 445.8h5.4M419 445.8h5.4M456.8 445.8h5.4M510.8 445.8h5.4M559.4 445.8h5.4M581 445.8h5.4M905 445.8h5.2M154.4 444h5.4M219.2 444h5.4M338 444h5.4M824 444h5.2M284 442.2h5.4M419 442.2h5.4M446 442.2h5.4M667.4 442.2h5.4M737.4 442.2h5.2M132.8 440.4h10.8M176 440.4h5.4M208.4 440.4h10.8M359.6 440.4h5.4M392 440.4h5.4M554 440.4h5.4M656.6 440.4h5.4M689 440.4h5.4M726.6 440.4h5.2M737.4 440.4h5.2M208.4 438.5h5.4M273.2 438.5h5.4M375.8 438.5h5.4M494.6 438.5h5.4M289.4 436.7h5.4M408.2 436.7h5.4M516.2 436.7h5.4M532.4 436.7h5.4M624.2 436.7h5.4M257 434.9h5.4M338 434.9h5.4M419 434.9h5.4M473 434.9h5.4M505.4 434.9h5.4M516.2 434.9h5.4M543.2 434.9h5.4M726.6 434.9h5.2M122 433.1h5.4M159.8 433.1h5.4M181.4 433.1h5.4M289.4 433.1h5.4M435.2 433.1h5.4M462.2 433.1h5.4M505.4 433.1h5.4M570.2 433.1h5.4M602.6 433.1h5.4M705 433.1h5.2M715.8 433.1h5.2M759 433.1h5.2M213.8 431.3h5.4M284 431.3h5.4M451.4 431.3h5.4M554 431.3h5.4M645.8 431.3h10.8M667.4 431.3h5.4M203 429.5h5.4M267.8 429.5h5.4M278.6 429.5h5.4M305.6 429.5h5.4M419 429.5h5.4M462.2 429.5h5.4M759 429.5h5.2M159.8 427.7h5.4M186.8 427.7h5.4M208.4 427.7h5.4M224.6 427.7h5.4M278.6 427.7h5.4M289.4 427.7h5.4M305.6 427.7h5.4M321.8 427.7h5.4M640.4 427.7h10.8M715.8 427.7h5.2M797 427.7h5.2M932 427.7h5.2M149 425.9h5.4M197.6 425.9h5.4M316.4 425.9h5.4M624.2 425.9h5.4M726.6 425.9h5.2M224.6 424h5.4M240.8 424h5.4M251.6 424h5.4M262.4 424h5.4M451.4 424h5.4M500 424h5.4M564.8 424h5.4M602.6 424h5.4M667.4 424h5.4M726.6 424h5.2M197.6 422.2h10.8M224.6 422.2h5.4M419 422.2h5.4M500 422.2h5.4M532.4 422.2h10.8M613.4 422.2h5.4M629.6 422.2h5.4M170.6 420.4h5.4M278.6 420.4h5.4M289.4 420.4h5.4M397.4 420.4h5.4M451.4 420.4h5.4M473 420.4h5.4M500 420.4h5.4M613.4 420.4h5.4M635 420.4h5.4M645.8 420.4h5.4M662 420.4h5.4M143.6 418.6h5.4M208.4 418.6h5.4M235.4 418.6h5.4M527 418.6h5.4M548.6 418.6h5.4M932 418.6h5.2M132.8 416.8h5.4M143.6 416.8h5.4M170.6 416.8h5.4M213.8 416.8h5.4M230 416.8h5.4M278.6 416.8h5.4M311 416.8h5.4M332.6 416.8h5.4M402.8 416.8h5.4M505.4 416.8h5.4M591.8 416.8h5.4M624.2 416.8h5.4M672.8 416.8h5.4M932 416.8h5.2M138.2 415h5.4M165.2 415h10.8M213.8 415h5.4M278.6 415h5.4M624.2 415h5.4M645.8 415h5.4M672.8 415h5.4M683.6 415h5.4M694.4 415h5.4M759 415h5.2M154.4 413.2h5.4M203 413.2h5.4M251.6 413.2h5.4M278.6 413.2h5.4M338 413.2h5.4M440.6 413.2h5.4M456.8 413.2h5.4M494.6 413.2h5.4M532.4 413.2h10.8M570.2 413.2h5.4M581 413.2h5.4M689 413.2h5.4M715.8 413.2h5.2M138.2 411.4h5.4M197.6 411.4h5.4M240.8 411.4h5.4M424.4 411.4h5.4M559.4 411.4h5.4M640.4 411.4h5.4M759 411.4h5.2M932 411.4h5.2M149 409.5h5.4M284 409.5h5.4M500 409.5h5.4M537.8 409.5h5.4M591.8 409.5h5.4M624.2 409.5h5.4M694.4 409.5h5.4M705 409.5h5.2M224.6 407.7h5.4M284 407.7h5.4M327.2 407.7h10.8M354.2 407.7h5.4M435.2 407.7h5.4M446 407.7h5.4M165.2 405.9h5.4M197.6 405.9h5.4M230 405.9h5.4M300.2 405.9h5.4M494.6 405.9h5.4M537.8 405.9h10.8M662 405.9h5.4M203 404.1h5.4M289.4 404.1h10.8M327.2 404.1h5.4M354.2 404.1h5.4M397.4 404.1h5.4M419 404.1h5.4M521.6 404.1h5.4M586.4 404.1h5.4M705 404.1h5.2M149 402.3h5.4M192.2 402.3h10.8M284 402.3h5.4M294.8 402.3h5.4M386.6 402.3h5.4M478.4 402.3h5.4M575.6 402.3h5.4M629.6 402.3h5.4M645.8 402.3h5.4M726.6 402.3h5.2M127.4 400.5h5.4M154.4 400.5h5.4M170.6 400.5h5.4M186.8 400.5h5.4M294.8 400.5h5.4M305.6 400.5h5.4M440.6 400.5h5.4M478.4 400.5h5.4M494.6 400.5h5.4M527 400.5h10.8M905 400.5h5.2M203 398.7h5.4M273.2 398.7h10.8M451.4 398.7h5.4M462.2 398.7h5.4M548.6 398.7h5.4M581 398.7h5.4M138.2 396.9h5.4M300.2 396.9h5.4M348.8 396.9h5.4M451.4 396.9h5.4M629.6 396.9h5.4M640.4 396.9h5.4M672.8 396.9h5.4M683.6 396.9h5.4M186.8 395h5.4M429.8 395h5.4M456.8 395h5.4M629.6 395h5.4M645.8 395h5.4M672.8 395h5.4M694.4 395h5.4M851 395h5.2M392 393.2h5.4M429.8 393.2h5.4M446 393.2h5.4M489.2 393.2h5.4M537.8 393.2h5.4M548.6 393.2h5.4M581 393.2h5.4M629.6 393.2h10.8M656.6 393.2h5.4M683.6 393.2h5.4M905 393.2h5.2M208.4 391.4h5.4M251.6 391.4h5.4M392 391.4h5.4M527 391.4h5.4M564.8 391.4h5.4M575.6 391.4h5.4M651.2 391.4h5.4M667.4 391.4h5.4M127.4 389.6h5.4M181.4 389.6h5.4M203 389.6h5.4M213.8 389.6h5.4M300.2 389.6h5.4M381.2 389.6h5.4M446 389.6h5.4M591.8 389.6h5.4M635 389.6h5.4M824 389.6h5.2M170.6 387.8h5.4M278.6 387.8h5.4M305.6 387.8h5.4M386.6 387.8h10.8M440.6 387.8h5.4M467.6 387.8h5.4M500 387.8h5.4M575.6 387.8h5.4M689 387.8h5.4M127.4 386h5.4M262.4 386h5.4M348.8 386h5.4M581 386h10.8M132.8 384.2h5.4M213.8 384.2h5.4M273.2 384.2h5.4M327.2 384.2h5.4M392 384.2h5.4M419 384.2h5.4M473 384.2h5.4M543.2 384.2h5.4M662 384.2h5.4M797 384.2h5.2M905 384.2h5.2M370.4 382.4h5.4M478.4 382.4h5.4M527 382.4h5.4M548.6 382.4h5.4M932 382.4h5.2M176 380.5h10.8M251.6 380.5h5.4M289.4 380.5h5.4M381.2 380.5h5.4M435.2 380.5h5.4M478.4 380.5h5.4M586.4 380.5h5.4M624.2 380.5h5.4M651.2 380.5h5.4M678.2 380.5h5.4M932 380.5h5.2M127.4 378.7h5.4M246.2 378.7h5.4M321.8 378.7h5.4M359.6 378.7h5.4M397.4 378.7h5.4M489.2 378.7h5.4M510.8 378.7h5.4M635 378.7h5.4M645.8 378.7h10.8M851 378.7h5.2M159.8 376.9h5.4M176 376.9h5.4M500 376.9h5.4M591.8 376.9h5.4M851 376.9h5.2M138.2 375.1h5.4M154.4 375.1h5.4M186.8 375.1h5.4M224.6 375.1h5.4M365 375.1h5.4M402.8 375.1h5.4M429.8 375.1h5.4M446 375.1h5.4M505.4 375.1h5.4M559.4 375.1h5.4M618.8 375.1h10.8M640.4 375.1h5.4M689 375.1h5.4M122 373.3h5.4M154.4 373.3h10.8M176 373.3h10.8M240.8 373.3h10.8M273.2 373.3h5.4M289.4 373.3h5.4M446 373.3h5.4M564.8 373.3h5.4M591.8 373.3h5.4M618.8 373.3h5.4M737.4 373.3h5.2M122 371.5h5.4M165.2 371.5h5.4M176 371.5h5.4M208.4 371.5h16.2M375.8 371.5h5.4M386.6 371.5h5.4M516.2 371.5h5.4M543.2 371.5h5.4M602.6 371.5h5.4M143.6 369.7h5.4M208.4 369.7h5.4M246.2 369.7h5.4M532.4 369.7h5.4M570.2 369.7h10.8M662 369.7h5.4M143.6 367.9h5.4M257 367.9h5.4M354.2 367.9h5.4M381.2 367.9h5.4M392 367.9h10.8M440.6 367.9h5.4M575.6 367.9h5.4M635 367.9h5.4M769.8 367.9h5.2M797 367.9h5.2M197.6 366h5.4M224.6 366h5.4M413.6 366h5.4M424.4 366h5.4M489.2 366h5.4M138.2 364.2h5.4M305.6 364.2h5.4M413.6 364.2h10.8M478.4 364.2h5.4M489.2 364.2h5.4M516.2 364.2h5.4M532.4 364.2h5.4M591.8 364.2h5.4M759 364.2h5.2M769.8 364.2h5.2M824 364.2h5.2M154.4 362.4h5.4M192.2 362.4h5.4M375.8 362.4h5.4M138.2 360.6h5.4M186.8 360.6h5.4M224.6 360.6h5.4M267.8 360.6h5.4M386.6 360.6h5.4M494.6 360.6h5.4M510.8 360.6h5.4M527 360.6h5.4M726.6 360.6h5.2M138.2 358.8h5.4M181.4 358.8h5.4M192.2 358.8h5.4M305.6 358.8h5.4M321.8 358.8h10.8M473 358.8h5.4M581 358.8h5.4M726.6 358.8h5.2M905 358.8h5.2M176 357h5.4M186.8 357h5.4M284 357h5.4M332.6 357h5.4M375.8 357h5.4M392 357h5.4M413.6 357h5.4M429.8 357h5.4M473 357h5.4M548.6 357h5.4M581 357h5.4M748.2 357h5.2M332.6 355.2h5.4M537.8 355.2h5.4M570.2 355.2h5.4M694.4 355.2h5.4M737.4 355.2h5.2M257 353.4h5.4M294.8 353.4h5.4M354.2 353.4h5.4M386.6 353.4h5.4M559.4 353.4h5.4M570.2 353.4h5.4M602.6 353.4h5.4M629.6 353.4h5.4M645.8 353.4h5.4M678.2 353.4h5.4M705 353.4h5.2M797 353.4h5.2M824 353.4h5.2M143.6 351.5h5.4M246.2 351.5h5.4M267.8 351.5h5.4M500 351.5h5.4M645.8 351.5h5.4M656.6 351.5h5.4M127.4 349.7h5.4M181.4 349.7h10.8M348.8 349.7h5.4M370.4 349.7h5.4M413.6 349.7h5.4M424.4 349.7h5.4M548.6 349.7h5.4M159.8 347.9h5.4M224.6 347.9h5.4M397.4 347.9h5.4M456.8 347.9h5.4M624.2 347.9h5.4M878 347.9h5.2M262.4 346.1h5.4M316.4 346.1h5.4M419 346.1h5.4M527 346.1h5.4M575.6 346.1h5.4M608 346.1h5.4M624.2 346.1h5.4M651.2 346.1h5.4M667.4 346.1h5.4M932 346.1h5.2M122 344.3h5.4M138.2 344.3h5.4M176 344.3h5.4M397.4 344.3h5.4M500 344.3h10.8M689 344.3h5.4M905 344.3h5.2M213.8 342.5h5.4M230 342.5h5.4M321.8 342.5h5.4M343.4 342.5h5.4M359.6 342.5h5.4M570.2 342.5h5.4M618.8 342.5h5.4M656.6 342.5h5.4M878 342.5h5.2M905 342.5h5.2M138.2 340.7h5.4M338 340.7h5.4M462.2 340.7h5.4M500 340.7h5.4M527 340.7h5.4M559.4 340.7h5.4M570.2 340.7h5.4M208.4 338.9h5.4M235.4 338.9h5.4M316.4 338.9h5.4M359.6 338.9h10.8M467.6 338.9h5.4M564.8 338.9h5.4M581 338.9h5.4M602.6 338.9h5.4M748.2 338.9h5.2M122 337h10.8M300.2 337h5.4M321.8 337h5.4M386.6 337h5.4M419 337h5.4M451.4 337h5.4M462.2 337h5.4M575.6 337h5.4M602.6 337h5.4M624.2 337h5.4M651.2 337h5.4M726.6 337h5.2M748.2 337h5.2M138.2 335.2h5.4M165.2 335.2h5.4M397.4 335.2h5.4M435.2 335.2h5.4M473 335.2h5.4M548.6 335.2h5.4M570.2 335.2h5.4M597.2 335.2h5.4M629.6 335.2h5.4M170.6 333.4h5.4M230 333.4h5.4M348.8 333.4h5.4M478.4 333.4h5.4M510.8 333.4h5.4M564.8 333.4h5.4M618.8 333.4h5.4M694.4 333.4h5.4M769.8 333.4h5.2M127.4 331.6h5.4M154.4 331.6h5.4M273.2 331.6h5.4M446 331.6h5.4M467.6 331.6h5.4M489.2 331.6h5.4M656.6 331.6h5.4M397.4 329.8h10.8M413.6 329.8h5.4M467.6 329.8h5.4M543.2 329.8h5.4M715.8 329.8h5.2M851 329.8h5.2M138.2 328h5.4M224.6 328h5.4M257 328h5.4M570.2 328h5.4M197.6 326.2h5.4M251.6 326.2h5.4M294.8 326.2h5.4M413.6 326.2h5.4M435.2 326.2h5.4M505.4 326.2h5.4M581 326.2h5.4M759 326.2h5.2M267.8 324.4h5.4M294.8 324.4h5.4M305.6 324.4h5.4M327.2 324.4h5.4M451.4 324.4h5.4M597.2 324.4h5.4M824 324.4h5.2M122 322.5h5.4M149 322.5h5.4M316.4 322.5h5.4M386.6 322.5h5.4M467.6 322.5h5.4M127.4 320.7h5.4M170.6 320.7h10.8M230 320.7h5.4M305.6 320.7h5.4M440.6 320.7h5.4M505.4 320.7h5.4M581 320.7h5.4M667.4 320.7h5.4M797 320.7h5.2M878 320.7h5.2M143.6 318.9h5.4M170.6 318.9h5.4M224.6 318.9h10.8M316.4 318.9h5.4M332.6 318.9h5.4M370.4 318.9h5.4M397.4 318.9h5.4M548.6 318.9h5.4M575.6 318.9h5.4M122 317.1h5.4M159.8 317.1h5.4M176 317.1h5.4M186.8 317.1h5.4M208.4 317.1h5.4M219.2 317.1h5.4M289.4 317.1h5.4M332.6 317.1h5.4M419 317.1h5.4M521.6 317.1h5.4M559.4 317.1h5.4M608 317.1h5.4M662 317.1h10.8M683.6 317.1h5.4M132.8 315.3h5.4M375.8 315.3h5.4M575.6 315.3h5.4M602.6 315.3h5.4M759 315.3h5.2M905 315.3h5.2M127.4 313.5h5.4M181.4 313.5h5.4M230 313.5h10.8M246.2 313.5h5.4M429.8 313.5h5.4M462.2 313.5h5.4M602.6 313.5h5.4M154.4 311.7h5.4M300.2 311.7h5.4M327.2 311.7h5.4M338 311.7h5.4M451.4 311.7h5.4M532.4 311.7h5.4M575.6 311.7h5.4M586.4 311.7h5.4M629.6 311.7h5.4M737.4 311.7h5.2M170.6 309.9h5.4M273.2 309.9h5.4M456.8 309.9h5.4M516.2 309.9h5.4M548.6 309.9h5.4M559.4 309.9h5.4M613.4 309.9h5.4M181.4 308h5.4M219.2 308h5.4M289.4 308h5.4M348.8 308h5.4M440.6 308h10.8M510.8 308h5.4M537.8 308h5.4M597.2 308h5.4M645.8 308h5.4M149 306.2h5.4M246.2 306.2h5.4M359.6 306.2h5.4M413.6 306.2h5.4M435.2 306.2h5.4M489.2 306.2h5.4M651.2 306.2h5.4M154.4 304.4h5.4M462.2 304.4h5.4M581 304.4h5.4M602.6 304.4h5.4M667.4 304.4h5.4M726.6 304.4h5.2M143.6 302.6h5.4M240.8 302.6h5.4M462.2 302.6h5.4M473 302.6h5.4M489.2 302.6h5.4M586.4 302.6h5.4M613.4 302.6h5.4M651.2 302.6h5.4M726.6 302.6h5.2M878 302.6h5.2M138.2 300.8h5.4M489.2 300.8h5.4M516.2 300.8h5.4M527 300.8h5.4M586.4 300.8h5.4M672.8 300.8h5.4M737.4 300.8h5.2M154.4 299h5.4M246.2 299h5.4M267.8 299h5.4M467.6 299h5.4M483.8 299h5.4M559.4 299h5.4M591.8 299h10.8M656.6 299h5.4M759 299h5.2M224.6 297.2h5.4M327.2 297.2h5.4M451.4 297.2h5.4M478.4 297.2h10.8M510.8 297.2h5.4M570.2 297.2h5.4M597.2 297.2h5.4M624.2 297.2h5.4M656.6 297.2h5.4M683.6 297.2h5.4M824 297.2h5.2M154.4 295.4h5.4M165.2 295.4h5.4M176 295.4h5.4M192.2 295.4h5.4M267.8 295.4h5.4M300.2 295.4h5.4M311 295.4h5.4M424.4 295.4h5.4M494.6 295.4h5.4M516.2 295.4h5.4M537.8 295.4h5.4M591.8 295.4h5.4M932 295.4h5.2M224.6 293.5h5.4M375.8 293.5h5.4M386.6 293.5h5.4M413.6 293.5h5.4M532.4 293.5h5.4M570.2 293.5h5.4M127.4 291.7h5.4M170.6 291.7h5.4M348.8 291.7h5.4M467.6 291.7h5.4M537.8 291.7h10.8M586.4 291.7h5.4M683.6 291.7h5.4M715.8 291.7h5.2M278.6 289.9h5.4M548.6 289.9h5.4M635 289.9h5.4M851 289.9h5.2M122 288.1h5.4M192.2 288.1h5.4M246.2 288.1h5.4M332.6 288.1h5.4M365 288.1h5.4M419 288.1h5.4M440.6 288.1h5.4M537.8 288.1h5.4M678.2 288.1h5.4M824 288.1h5.2M213.8 286.3h10.8M289.4 286.3h5.4M408.2 286.3h5.4M462.2 286.3h5.4M494.6 286.3h5.4M769.8 286.3h5.2M375.8 284.5h5.4M392 284.5h5.4M516.2 284.5h5.4M548.6 284.5h5.4M559.4 284.5h5.4M618.8 284.5h5.4M667.4 284.5h5.4M878 284.5h5.2M138.2 282.7h5.4M213.8 282.7h5.4M251.6 282.7h5.4M494.6 282.7h5.4M527 282.7h5.4M581 282.7h5.4M656.6 282.7h5.4M726.6 282.7h5.2M769.8 282.7h5.2M181.4 280.9h5.4M300.2 280.9h10.8M338 280.9h5.4M397.4 280.9h5.4M429.8 280.9h5.4M483.8 280.9h5.4M548.6 280.9h5.4M656.6 280.9h5.4M694.4 280.9h5.4M186.8 279h10.8M359.6 279h5.4M456.8 279h5.4M581 279h5.4M602.6 279h5.4M656.6 279h5.4M694.4 279h5.4M154.4 277.2h5.4M197.6 277.2h5.4M564.8 277.2h5.4M851 277.2h5.2M878 277.2h5.2M932 277.2h5.2M170.6 275.4h5.4M305.6 275.4h5.4M338 275.4h5.4M359.6 275.4h5.4M408.2 275.4h5.4M467.6 275.4h5.4M516.2 275.4h5.4M597.2 275.4h5.4M635 275.4h5.4M737.4 275.4h5.2M154.4 273.6h5.4M219.2 273.6h5.4M262.4 273.6h5.4M402.8 273.6h5.4M435.2 273.6h5.4M500 273.6h5.4M532.4 273.6h5.4M602.6 273.6h5.4M672.8 273.6h5.4M689 273.6h5.4M824 273.6h5.2M905 273.6h5.2M192.2 271.8h5.4M235.4 271.8h5.4M311 271.8h5.4M370.4 271.8h5.4M402.8 271.8h5.4M473 271.8h10.8M500 271.8h5.4M548.6 271.8h5.4M575.6 271.8h10.8M726.6 271.8h5.2M186.8 270h5.4M240.8 270h10.8M284 270h5.4M370.4 270h5.4M440.6 270h5.4M456.8 270h5.4M483.8 270h5.4M203 268.2h5.4M305.6 268.2h5.4M440.6 268.2h5.4M473 268.2h5.4M618.8 268.2h5.4M338 266.4h5.4M505.4 266.4h5.4M548.6 266.4h10.8M564.8 266.4h5.4M797 266.4h5.2M932 266.4h5.2M154.4 264.5h5.4M208.4 264.5h5.4M365 264.5h5.4M543.2 264.5h5.4M559.4 264.5h5.4M656.6 264.5h5.4M667.4 264.5h5.4M127.4 262.7h5.4M154.4 262.7h5.4M170.6 262.7h5.4M251.6 262.7h5.4M284 262.7h10.8M354.2 262.7h5.4M365 262.7h5.4M375.8 262.7h5.4M424.4 262.7h5.4M473 262.7h5.4M543.2 262.7h5.4M629.6 262.7h5.4M905 262.7h5.2M181.4 260.9h10.8M197.6 260.9h5.4M257 260.9h5.4M348.8 260.9h10.8M370.4 260.9h5.4M500 260.9h5.4M527 260.9h10.8M586.4 260.9h5.4M640.4 260.9h5.4M715.8 260.9h5.2M759 260.9h5.2M197.6 259.1h5.4M208.4 259.1h5.4M305.6 259.1h10.8M370.4 259.1h5.4M440.6 259.1h5.4M494.6 259.1h10.8M510.8 259.1h10.8M537.8 259.1h5.4M635 259.1h5.4M672.8 259.1h5.4M224.6 257.3h5.4M246.2 257.3h5.4M267.8 257.3h10.8M294.8 257.3h5.4M375.8 257.3h10.8M392 257.3h5.4M419 257.3h5.4M429.8 257.3h10.8M446 257.3h5.4M597.2 257.3h5.4M635 257.3h5.4M645.8 257.3h5.4M759 257.3h5.2M824 257.3h5.2M851 257.3h5.2M905 257.3h5.2M127.4 255.5h5.4M143.6 255.5h5.4M235.4 255.5h5.4M316.4 255.5h5.4M343.4 255.5h5.4M408.2 255.5h5.4M435.2 255.5h5.4M494.6 255.5h16.2M905 255.5h5.2M143.6 253.7h5.4M186.8 253.7h5.4M219.2 253.7h5.4M230 253.7h5.4M435.2 253.7h10.8M467.6 253.7h5.4M494.6 253.7h5.4M537.8 253.7h5.4M564.8 253.7h5.4M591.8 253.7h5.4M629.6 253.7h5.4M905 253.7h5.2M284 251.9h5.4M348.8 251.9h10.8M402.8 251.9h5.4M467.6 251.9h5.4M494.6 251.9h5.4M748.2 251.9h5.2M257 250h5.4M273.2 250h5.4M402.8 250h5.4M467.6 250h5.4M483.8 250h5.4M559.4 250h5.4M608 250h5.4M705 250h5.2M824 250h5.2M154.4 248.2h5.4M230 248.2h5.4M408.2 248.2h5.4M451.4 248.2h5.4M494.6 248.2h5.4M624.2 248.2h5.4M640.4 248.2h10.8M678.2 248.2h5.4M851 248.2h5.2M122 246.4h5.4M154.4 246.4h5.4M170.6 246.4h5.4M419 246.4h5.4M440.6 246.4h5.4M505.4 246.4h5.4M602.6 246.4h5.4M678.2 246.4h5.4M246.2 244.6h5.4M273.2 244.6h5.4M343.4 244.6h5.4M446 244.6h5.4M575.6 244.6h5.4M602.6 244.6h5.4M635 244.6h5.4M667.4 244.6h5.4M878 244.6h5.2M138.2 242.8h5.4M149 242.8h5.4M192.2 242.8h5.4M203 242.8h5.4M219.2 242.8h5.4M278.6 242.8h5.4M316.4 242.8h5.4M343.4 242.8h5.4M532.4 242.8h5.4M635 242.8h5.4M651.2 242.8h5.4M705 242.8h5.2M715.8 242.8h5.2M905 242.8h5.2M127.4 241h5.4M240.8 241h5.4M289.4 241h5.4M311 241h5.4M424.4 241h5.4M435.2 241h10.8M537.8 241h5.4M651.2 241h5.4M694.4 241h5.4M905 241h5.2M122 239.2h10.8M138.2 239.2h5.4M257 239.2h5.4M273.2 239.2h5.4M300.2 239.2h5.4M359.6 239.2h5.4M478.4 239.2h5.4M516.2 239.2h5.4M543.2 239.2h5.4M618.8 239.2h5.4M629.6 239.2h5.4M726.6 239.2h5.2M851 239.2h5.2M905 239.2h5.2M186.8 237.4h5.4M316.4 237.4h5.4M456.8 237.4h5.4M532.4 237.4h5.4M635 237.4h5.4M645.8 237.4h5.4M748.2 237.4h5.2M797 237.4h5.2M122 235.5h5.4M251.6 235.5h5.4M262.4 235.5h5.4M316.4 235.5h5.4M338 235.5h5.4M402.8 235.5h5.4M429.8 235.5h5.4M532.4 235.5h5.4M548.6 235.5h5.4M197.6 233.7h5.4M257 233.7h5.4M332.6 233.7h5.4M354.2 233.7h10.8M435.2 233.7h5.4M624.2 233.7h5.4M645.8 233.7h5.4M678.2 233.7h5.4M181.4 231.9h5.4M284 231.9h5.4M327.2 231.9h5.4M624.2 231.9h5.4M759 231.9h5.2M851 231.9h5.2M181.4 230.1h5.4M208.4 230.1h5.4M246.2 230.1h5.4M321.8 230.1h5.4M365 230.1h5.4M386.6 230.1h5.4M510.8 230.1h10.8M624.2 230.1h5.4M149 228.3h5.4M181.4 228.3h10.8M208.4 228.3h5.4M246.2 228.3h5.4M289.4 228.3h5.4M397.4 228.3h5.4M408.2 228.3h5.4M419 228.3h5.4M759 228.3h5.2M186.8 226.5h5.4M343.4 226.5h5.4M462.2 226.5h5.4M608 226.5h5.4M662 226.5h5.4M678.2 226.5h5.4M748.2 226.5h5.2M824 226.5h5.2M413.6 224.7h5.4M467.6 224.7h5.4M591.8 224.7h5.4M618.8 224.7h5.4M683.6 224.7h5.4M824 224.7h5.2M176 222.9h5.4M413.6 222.9h5.4M143.6 221h5.4M208.4 221h5.4M316.4 221h5.4M408.2 221h5.4M424.4 221h5.4M483.8 221h5.4M559.4 221h5.4M597.2 221h5.4M851 221h5.2M905 221h5.2M127.4 219.2h5.4M197.6 219.2h5.4M348.8 219.2h5.4M429.8 219.2h5.4M494.6 219.2h5.4M532.4 219.2h5.4M597.2 219.2h5.4M672.8 219.2h5.4M359.6 217.4h5.4M500 217.4h5.4M559.4 217.4h5.4M602.6 217.4h5.4M613.4 217.4h5.4M667.4 217.4h5.4M759 217.4h5.2M797 217.4h5.2M181.4 215.6h5.4M370.4 215.6h5.4M467.6 215.6h5.4M478.4 215.6h5.4M581 215.6h5.4M127.4 213.8h5.4M143.6 213.8h5.4M181.4 213.8h5.4M273.2 213.8h5.4M419 213.8h5.4M516.2 213.8h5.4M597.2 213.8h5.4M645.8 213.8h5.4M159.8 212h5.4M181.4 212h5.4M262.4 212h5.4M402.8 212h5.4M413.6 212h5.4M424.4 212h5.4M521.6 212h10.8M581 212h5.4M689 212h5.4M851 212h5.2M165.2 210.2h5.4M176 210.2h5.4M213.8 210.2h10.8M257 210.2h5.4M305.6 210.2h5.4M327.2 210.2h5.4M478.4 210.2h5.4M586.4 210.2h5.4M224.6 208.4h5.4M235.4 208.4h5.4M354.2 208.4h5.4M365 208.4h5.4M392 208.4h10.8M662 208.4h5.4M689 208.4h5.4M797 208.4h5.2M165.2 206.5h5.4M219.2 206.5h5.4M257 206.5h5.4M316.4 206.5h5.4M365 206.5h5.4M575.6 206.5h5.4M645.8 206.5h5.4M672.8 206.5h5.4M203 204.7h5.4M300.2 204.7h5.4M413.6 204.7h5.4M446 204.7h5.4M516.2 204.7h5.4M532.4 204.7h5.4M570.2 204.7h5.4M219.2 202.9h5.4M262.4 202.9h5.4M440.6 202.9h5.4M564.8 202.9h5.4M651.2 202.9h5.4M759 202.9h5.2M159.8 201.1h10.8M197.6 201.1h5.4M257 201.1h5.4M273.2 201.1h5.4M338 201.1h5.4M354.2 201.1h5.4M489.2 201.1h5.4M608 201.1h5.4M656.6 201.1h5.4M132.8 199.3h5.4M165.2 199.3h5.4M181.4 199.3h5.4M219.2 199.3h5.4M246.2 199.3h5.4M267.8 199.3h5.4M359.6 199.3h10.8M392 199.3h5.4M440.6 199.3h5.4M537.8 199.3h5.4M602.6 199.3h5.4M656.6 199.3h5.4M737.4 199.3h5.2M122 197.5h5.4M186.8 197.5h5.4M203 197.5h5.4M224.6 197.5h5.4M273.2 197.5h5.4M300.2 197.5h5.4M348.8 197.5h5.4M386.6 197.5h5.4M483.8 197.5h5.4M532.4 197.5h5.4M597.2 197.5h5.4M824 197.5h5.2M165.2 195.7h5.4M289.4 195.7h5.4M300.2 195.7h5.4M327.2 195.7h5.4M348.8 195.7h5.4M851 195.7h5.2M294.8 193.9h5.4M305.6 193.9h5.4M381.2 193.9h5.4M521.6 193.9h10.8M737.4 193.9h5.2M769.8 193.9h5.2M154.4 192h5.4M192.2 192h5.4M203 192h5.4M273.2 192h5.4M321.8 192h5.4M392 192h5.4M446 192h5.4M456.8 192h5.4M527 192h5.4M651.2 192h10.8M683.6 192h5.4M748.2 192h5.2M181.4 190.2h5.4M192.2 190.2h5.4M203 190.2h5.4M240.8 190.2h5.4M278.6 190.2h5.4M311 190.2h5.4M327.2 190.2h5.4M392 190.2h5.4M419 190.2h5.4M456.8 190.2h5.4M527 190.2h5.4M208.4 188.4h10.8M251.6 188.4h5.4M311 188.4h5.4M381.2 188.4h5.4M408.2 188.4h5.4M478.4 188.4h5.4M581 188.4h5.4M629.6 188.4h5.4M705 188.4h5.2M932 188.4h5.2M257 186.6h5.4M284 186.6h5.4M327.2 186.6h5.4M548.6 186.6h5.4M564.8 186.6h5.4M608 186.6h5.4M635 186.6h5.4M667.4 186.6h5.4M737.4 186.6h5.2M759 186.6h5.2M851 186.6h5.2M127.4 184.8h5.4M154.4 184.8h5.4M213.8 184.8h5.4M230 184.8h5.4M257 184.8h5.4M305.6 184.8h5.4M440.6 184.8h5.4M521.6 184.8h5.4M678.2 184.8h5.4M694.4 184.8h5.4M127.4 183h5.4M170.6 183h5.4M203 183h5.4M219.2 183h5.4M262.4 183h5.4M327.2 183h5.4M365 183h5.4M473 183h5.4M537.8 183h5.4M618.8 183h5.4M230 181.2h5.4M257 181.2h5.4M348.8 181.2h10.8M413.6 181.2h5.4M548.6 181.2h5.4M613.4 181.2h5.4M694.4 181.2h5.4M127.4 179.4h10.8M257 179.4h5.4M321.8 179.4h5.4M402.8 179.4h10.8M451.4 179.4h5.4M527 179.4h5.4M543.2 179.4h5.4M554 179.4h5.4M149 177.5h5.4M165.2 177.5h5.4M213.8 177.5h5.4M348.8 177.5h5.4M397.4 177.5h5.4M408.2 177.5h5.4M483.8 177.5h5.4M640.4 177.5h5.4M683.6 177.5h5.4M251.6 175.7h5.4M294.8 175.7h5.4M305.6 175.7h5.4M413.6 175.7h5.4M473 175.7h5.4M543.2 175.7h10.8M618.8 175.7h5.4M635 175.7h10.8M678.2 175.7h5.4M737.4 175.7h5.2M138.2 173.9h5.4M478.4 173.9h5.4M500 173.9h5.4M597.2 173.9h5.4M608 173.9h5.4M640.4 173.9h5.4M230 172.1h5.4M294.8 172.1h5.4M348.8 172.1h10.8M516.2 172.1h10.8M581 172.1h5.4M645.8 172.1h5.4M235.4 170.3h5.4M257 170.3h10.8M289.4 170.3h5.4M300.2 170.3h5.4M316.4 170.3h10.8M478.4 170.3h5.4M851 170.3h5.2M905 170.3h5.2M138.2 168.5h5.4M257 168.5h5.4M321.8 168.5h5.4M413.6 168.5h5.4M424.4 168.5h5.4M559.4 168.5h5.4M645.8 168.5h5.4M656.6 168.5h5.4M759 168.5h5.2M143.6 166.7h5.4M159.8 166.7h5.4M257 166.7h5.4M375.8 166.7h5.4M419 166.7h5.4M478.4 166.7h5.4M489.2 166.7h5.4M624.2 166.7h10.8M748.2 166.7h5.2M759 166.7h5.2M905 166.7h5.2M181.4 164.9h10.8M284 164.9h5.4M489.2 164.9h5.4M586.4 164.9h5.4M689 164.9h5.4M737.4 164.9h5.2M932 164.9h5.2M176 163h5.4M284 163h5.4M440.6 163h5.4M451.4 163h5.4M532.4 163h5.4M645.8 163h5.4M667.4 163h5.4M726.6 163h5.2M824 163h5.2M176 161.2h5.4M321.8 161.2h5.4M429.8 161.2h5.4M446 161.2h5.4M494.6 161.2h5.4M629.6 161.2h5.4M656.6 161.2h5.4M132.8 159.4h5.4M143.6 159.4h10.8M159.8 159.4h5.4M176 159.4h5.4M251.6 159.4h5.4M348.8 159.4h5.4M462.2 159.4h5.4M489.2 159.4h5.4M759 159.4h5.2M797 159.4h5.2M905 159.4h5.2M138.2 157.6h5.4M176 157.6h5.4M462.2 157.6h5.4M629.6 157.6h5.4M667.4 157.6h5.4M694.4 157.6h5.4M726.6 157.6h5.2M748.2 157.6h5.2M932 157.6h5.2M397.4 155.8h5.4M521.6 155.8h5.4M570.2 155.8h5.4M694.4 155.8h5.4M726.6 155.8h5.2M278.6 154h5.4M305.6 154h5.4M462.2 154h5.4M543.2 154h5.4M559.4 154h5.4M878 154h5.2M143.6 152.2h5.4M181.4 152.2h5.4M300.2 152.2h5.4M392 152.2h5.4M413.6 152.2h5.4M424.4 152.2h5.4M597.2 152.2h5.4M694.4 152.2h5.4M726.6 152.2h5.2M192.2 150.4h5.4M267.8 150.4h5.4M294.8 150.4h5.4M311 150.4h5.4M370.4 150.4h5.4M424.4 150.4h5.4M591.8 150.4h5.4M769.8 150.4h5.2M186.8 148.5h5.4M230 148.5h5.4M446 148.5h5.4M500 148.5h5.4M591.8 148.5h5.4M608 148.5h5.4M645.8 148.5h5.4M705 148.5h5.2M224.6 146.7h5.4M300.2 146.7h5.4M370.4 146.7h5.4M575.6 146.7h5.4M143.6 144.9h5.4M251.6 144.9h5.4M370.4 144.9h10.8M386.6 144.9h5.4M624.2 144.9h5.4M640.4 144.9h5.4M737.4 144.9h5.2M197.6 143.1h5.4M235.4 143.1h10.8M316.4 143.1h5.4M370.4 143.1h5.4M500 143.1h5.4M154.4 141.3h5.4M197.6 141.3h5.4M300.2 141.3h5.4M392 141.3h5.4M570.2 141.3h5.4M678.2 141.3h5.4M797 141.3h5.2M138.2 139.5h5.4M192.2 139.5h5.4M224.6 139.5h5.4M273.2 139.5h5.4M294.8 139.5h5.4M483.8 139.5h5.4M494.6 139.5h5.4M527 139.5h5.4M543.2 139.5h5.4M564.8 139.5h5.4M586.4 139.5h5.4M635 139.5h5.4M737.4 139.5h5.2M748.2 139.5h5.2M186.8 137.7h5.4M343.4 137.7h5.4M413.6 137.7h5.4M456.8 137.7h5.4M483.8 137.7h5.4M532.4 137.7h5.4M575.6 137.7h5.4M769.8 137.7h5.2M905 137.7h5.2M246.2 135.9h5.4M257 135.9h5.4M289.4 135.9h5.4M343.4 135.9h5.4M381.2 135.9h5.4M851 135.9h5.2M159.8 134h5.4M170.6 134h5.4M192.2 134h5.4M213.8 134h5.4M321.8 134h5.4M354.2 134h5.4M370.4 134h5.4M397.4 134h5.4M413.6 134h5.4M424.4 134h5.4M581 134h5.4M905 134h5.2M165.2 132.2h5.4M262.4 132.2h5.4M327.2 132.2h5.4M424.4 132.2h5.4M505.4 132.2h10.8M640.4 132.2h5.4M683.6 132.2h5.4M122 130.4h5.4M176 130.4h5.4M192.2 130.4h5.4M262.4 130.4h5.4M640.4 130.4h5.4M656.6 130.4h5.4M672.8 130.4h5.4M149 128.6h5.4M240.8 128.6h10.8M332.6 128.6h5.4M392 128.6h5.4M402.8 128.6h5.4M505.4 128.6h5.4M629.6 128.6h5.4M651.2 128.6h10.8M122 126.8h5.4M186.8 126.8h5.4M402.8 126.8h10.8M435.2 126.8h10.8M705 126.8h5.2M429.8 125h5.4M500 125h5.4M170.6 123.2h5.4M181.4 123.2h5.4M408.2 123.2h5.4M489.2 123.2h5.4M543.2 123.2h5.4M726.6 123.2h5.2M905 123.2h5.2M138.2 121.4h5.4M230 121.4h5.4M354.2 121.4h5.4M413.6 121.4h5.4M435.2 121.4h5.4M483.8 121.4h5.4M570.2 121.4h5.4M624.2 121.4h10.8M726.6 121.4h5.2M824 121.4h5.2M905 121.4h5.2M230 119.5h10.8M413.6 119.5h5.4M467.6 119.5h5.4M478.4 119.5h5.4M548.6 119.5h5.4M235.4 117.7h5.4M311 117.7h5.4M359.6 117.7h5.4M386.6 117.7h5.4M435.2 117.7h5.4M483.8 117.7h5.4M586.4 117.7h5.4M656.6 117.7h5.4M397.4 115.9h5.4M483.8 115.9h5.4M543.2 115.9h5.4M689 115.9h10.8M851 115.9h5.2M240.8 114.1h5.4M370.4 114.1h5.4M440.6 114.1h5.4M527 114.1h5.4M548.6 114.1h5.4M635 114.1h10.8M932 114.1h5.2M149 112.3h5.4M251.6 112.3h5.4M429.8 112.3h5.4M446 112.3h5.4M570.2 112.3h5.4M624.2 112.3h5.4M176 110.5h5.4M235.4 110.5h5.4M246.2 110.5h5.4M284 110.5h10.8M332.6 110.5h5.4M359.6 110.5h5.4M456.8 110.5h5.4M618.8 110.5h5.4M748.2 110.5h5.2M878 110.5h5.2M127.4 108.7h5.4M192.2 108.7h5.4M284 108.7h5.4M300.2 108.7h5.4M311 108.7h5.4M386.6 108.7h5.4M537.8 108.7h5.4M570.2 108.7h5.4M737.4 108.7h5.2M851 108.7h5.2M127.4 106.9h5.4M348.8 106.9h5.4M456.8 106.9h5.4M478.4 106.9h5.4M543.2 106.9h5.4M581 106.9h5.4M143.6 105h5.4M591.8 105h5.4M629.6 105h5.4M240.8 103.2h5.4M467.6 103.2h5.4M678.2 103.2h5.4M159.8 101.4h5.4M213.8 101.4h5.4M235.4 101.4h5.4M354.2 101.4h5.4M381.2 101.4h10.8M424.4 101.4h5.4M473 101.4h5.4M575.6 101.4h5.4M932 101.4h5.2M213.8 99.6h5.4M311 99.6h5.4M473 99.6h5.4M559.4 99.6h5.4M591.8 99.6h5.4M132.8 97.8h5.4M154.4 97.8h5.4M230 97.8h5.4M294.8 97.8h5.4M543.2 97.8h5.4M559.4 97.8h5.4M759 97.8h5.2M440.6 96h5.4M527 96h5.4M581 96h5.4M624.2 96h5.4M635 96h5.4M715.8 96h5.2M127.4 94.2h5.4M159.8 94.2h5.4M181.4 94.2h5.4M321.8 94.2h5.4M451.4 94.2h5.4M559.4 94.2h5.4M575.6 94.2h5.4M613.4 94.2h5.4M656.6 94.2h5.4M824 94.2h5.2M905 94.2h5.2M159.8 92.4h10.8M181.4 92.4h5.4M300.2 92.4h5.4M419 92.4h5.4M483.8 92.4h5.4M510.8 92.4h5.4M570.2 92.4h5.4M672.8 92.4h5.4M726.6 92.4h5.2M932 92.4h5.2M203 90.5h5.4M354.2 90.5h5.4M435.2 90.5h5.4M483.8 90.5h5.4M494.6 90.5h5.4M521.6 90.5h5.4M570.2 90.5h10.8M624.2 90.5h5.4M651.2 90.5h5.4M672.8 90.5h5.4M683.6 90.5h5.4M705 90.5h5.2M715.8 90.5h5.2M203 88.7h5.4M483.8 88.7h10.8M521.6 88.7h5.4M537.8 88.7h5.4M570.2 88.7h10.8M645.8 88.7h5.4M662 88.7h5.4M705 88.7h5.2M824 88.7h5.2M127.4 86.9h5.4M197.6 86.9h5.4M213.8 86.9h5.4M240.8 86.9h5.4M316.4 86.9h5.4M327.2 86.9h5.4M440.6 86.9h5.4M586.4 86.9h5.4M656.6 86.9h10.8M683.6 86.9h5.4"/>
<path stroke="#472f7d" d="M300.2 786.5h5.4M797 782.9h5.2M824 781.1h5.2M824 779.3h5.2M878 779.3h5.2M213.8 777.5h5.4M759 777.5h5.2M462.2 775.7h5.4M932 773.9h5.2M726.6 772h5.2M737.4 772h5.2M932 772h5.2M667.4 770.2h5.4M159.8 768.4h5.4M737.4 768.4h5.2M797 768.4h5.2M278.6 766.6h5.4M316.4 766.6h5.4M564.8 766.6h5.4M186.8 764.8h5.4M300.2 764.8h5.4M343.4 764.8h5.4M397.4 764.8h5.4M446 764.8h5.4M510.8 764.8h10.8M548.6 764.8h5.4M213.8 763h5.4M273.2 763h5.4M354.2 763h5.4M510.8 763h5.4M613.4 763h5.4M635 763h5.4M645.8 763h5.4M667.4 763h5.4M170.6 761.2h5.4M192.2 761.2h5.4M230 761.2h5.4M246.2 761.2h5.4M586.4 761.2h5.4M602.6 761.2h5.4M651.2 761.2h5.4M694.4 761.2h5.4M170.6 759.4h5.4M230 759.4h5.4M365 759.4h5.4M392 759.4h5.4M473 759.4h5.4M489.2 759.4h5.4M537.8 759.4h5.4M618.8 759.4h5.4M629.6 759.4h5.4M705 759.4h5.2M154.4 757.5h5.4M203 757.5h5.4M240.8 757.5h10.8M321.8 757.5h16.2M370.4 757.5h5.4M516.2 757.5h5.4M597.2 757.5h5.4M715.8 757.5h5.2M122 755.7h5.4M149 755.7h5.4M408.2 755.7h5.4M456.8 755.7h5.4M483.8 755.7h5.4M521.6 755.7h5.4M559.4 755.7h5.4M591.8 755.7h5.4M419 753.9h5.4M440.6 753.9h10.8M505.4 753.9h5.4M537.8 753.9h5.4M554 753.9h5.4M737.4 753.9h5.2M122 752.1h5.4M165.2 752.1h5.4M208.4 752.1h10.8M305.6 752.1h5.4M440.6 752.1h5.4M537.8 752.1h5.4M192.2 750.3h5.4M224.6 750.3h5.4M294.8 750.3h5.4M397.4 748.5h5.4M408.2 748.5h5.4M694.4 748.5h5.4M262.4 746.7h5.4M365 746.7h5.4M132.8 744.9h5.4M338 744.9h5.4M521.6 744.9h5.4M581 744.9h5.4M878 744.9h5.2M311 743h5.4M467.6 743h5.4M521.6 743h5.4M559.4 743h5.4M618.8 743h5.4M122 741.2h5.4M208.4 741.2h5.4M246.2 741.2h5.4M311 741.2h5.4M370.4 741.2h5.4M402.8 741.2h5.4M440.6 741.2h5.4M473 741.2h5.4M759 741.2h5.2M165.2 739.4h5.4M186.8 739.4h5.4M203 739.4h5.4M284 739.4h5.4M311 739.4h5.4M332.6 739.4h5.4M419 739.4h5.4M473 739.4h5.4M516.2 739.4h5.4M694.4 739.4h5.4M516.2 737.6h10.8M824 737.6h5.2M235.4 735.8h5.4M419 735.8h5.4M613.4 735.8h5.4M138.2 734h5.4M192.2 734h5.4M267.8 734h5.4M343.4 734h5.4M375.8 734h5.4M521.6 734h5.4M537.8 734h5.4M613.4 734h5.4M759 734h5.2M878 734h5.2M138.2 732.2h5.4M203 732.2h5.4M289.4 732.2h5.4M370.4 732.2h5.4M451.4 732.2h5.4M505.4 732.2h5.4M537.8 732.2h5.4M618.8 732.2h5.4M662 732.2h5.4M932 732.2h5.2M132.8 730.4h5.4M289.4 730.4h5.4M548.6 730.4h5.4M656.6 730.4h5.4M737.4 730.4h5.2M851 730.4h5.2M246.2 728.5h5.4M629.6 728.5h5.4M402.8 726.7h5.4M413.6 726.7h5.4M483.8 726.7h5.4M618.8 726.7h5.4M769.8 726.7h5.2M122 724.9h5.4M267.8 724.9h5.4M284 724.9h5.4M257 723.1h5.4M597.2 723.1h5.4M667.4 723.1h5.4M824 723.1h5.2M365 721.3h5.4M715.8 721.3h5.2M165.2 719.5h5.4M192.2 719.5h5.4M397.4 719.5h5.4M435.2 719.5h5.4M537.8 719.5h5.4M613.4 719.5h5.4M370.4 717.7h5.4M435.2 717.7h5.4M618.8 717.7h5.4M662 717.7h5.4M715.8 717.7h5.2M769.8 717.7h5.2M446 715.9h5.4M494.6 715.9h5.4M559.4 715.9h5.4M678.2 715.9h10.8M705 715.9h5.2M932 715.9h5.2M273.2 714h5.4M343.4 714h5.4M483.8 714h5.4M500 714h5.4M527 714h5.4M548.6 714h5.4M273.2 712.2h5.4M343.4 712.2h5.4M359.6 712.2h5.4M500 712.2h5.4M797 712.2h5.2M370.4 710.4h5.4M543.2 710.4h5.4M613.4 710.4h5.4M181.4 708.6h5.4M273.2 708.6h5.4M392 708.6h5.4M467.6 708.6h5.4M543.2 708.6h5.4M143.6 706.8h5.4M348.8 706.8h5.4M392 706.8h5.4M435.2 706.8h5.4M591.8 706.8h5.4M213.8 705h5.4M435.2 705h5.4M662 705h5.4M748.2 705h5.2M797 705h5.2M851 705h5.2M381.2 703.2h5.4M532.4 703.2h5.4M149 701.4h5.4M197.6 701.4h5.4M305.6 701.4h5.4M321.8 701.4h5.4M343.4 701.4h5.4M440.6 701.4h5.4M451.4 701.4h5.4M257 699.5h5.4M440.6 699.5h10.8M715.8 699.5h5.2M797 699.5h5.2M122 697.7h5.4M165.2 697.7h5.4M224.6 697.7h5.4M343.4 697.7h5.4M413.6 697.7h5.4M532.4 697.7h5.4M667.4 697.7h5.4M748.2 697.7h5.2M932 697.7h5.2M159.8 695.9h5.4M181.4 695.9h5.4M192.2 695.9h5.4M446 695.9h5.4M575.6 695.9h5.4M613.4 695.9h5.4M629.6 695.9h5.4M159.8 694.1h5.4M419 694.1h5.4M267.8 692.3h5.4M359.6 692.3h5.4M473 692.3h5.4M575.6 692.3h5.4M635 692.3h5.4M365 690.5h5.4M397.4 690.5h10.8M456.8 690.5h5.4M629.6 690.5h5.4M672.8 690.5h5.4M694.4 690.5h5.4M705 690.5h5.2M132.8 688.7h5.4M219.2 688.7h5.4M289.4 688.7h5.4M370.4 688.7h5.4M521.6 688.7h5.4M548.6 686.9h5.4M851 686.9h5.2M332.6 685h10.8M424.4 685h5.4M435.2 685h5.4M451.4 685h5.4M548.6 685h5.4M138.2 683.2h5.4M181.4 683.2h5.4M321.8 683.2h5.4M203 681.4h5.4M246.2 681.4h5.4M381.2 681.4h5.4M451.4 681.4h10.8M851 681.4h5.2M203 679.6h5.4M300.2 679.6h5.4M381.2 679.6h5.4M473 679.6h5.4M613.4 679.6h5.4M683.6 679.6h5.4M159.8 677.8h5.4M235.4 677.8h5.4M343.4 677.8h5.4M559.4 677.8h5.4M640.4 677.8h5.4M737.4 677.8h5.2M824 677.8h5.2M284 676h5.4M375.8 676h5.4M397.4 676h5.4M440.6 676h5.4M602.6 676h5.4M192.2 674.2h5.4M240.8 674.2h5.4M375.8 674.2h5.4M397.4 674.2h5.4M473 674.2h10.8M597.2 674.2h5.4M624.2 674.2h5.4M678.2 674.2h5.4M737.4 674.2h5.2M759 674.2h5.2M132.8 672.4h5.4M397.4 672.4h5.4M581 672.4h5.4M651.2 672.4h5.4M662 672.4h5.4M715.8 672.4h5.2M224.6 670.5h10.8M332.6 670.5h5.4M354.2 670.5h5.4M591.8 670.5h5.4M608 670.5h5.4M737.4 670.5h5.2M127.4 668.7h5.4M154.4 668.7h5.4M413.6 668.7h5.4M554 668.7h5.4M564.8 668.7h5.4M618.8 668.7h5.4M127.4 666.9h5.4M176 666.9h5.4M213.8 666.9h5.4M413.6 666.9h5.4M494.6 666.9h5.4M203 665.1h5.4M332.6 665.1h5.4M392 665.1h5.4M429.8 665.1h5.4M240.8 663.3h5.4M381.2 663.3h5.4M435.2 663.3h5.4M478.4 663.3h5.4M581 663.3h5.4M635 663.3h5.4M715.8 663.3h5.2M132.8 661.5h5.4M159.8 661.5h5.4M186.8 661.5h5.4M262.4 661.5h5.4M348.8 661.5h5.4M408.2 661.5h5.4M446 661.5h5.4M564.8 661.5h5.4M624.2 661.5h5.4M759 661.5h5.2M797 661.5h5.2M154.4 659.7h5.4M170.6 659.7h5.4M197.6 659.7h5.4M429.8 659.7h5.4M570.2 659.7h5.4M797 659.7h5.2M159.8 657.9h5.4M316.4 657.9h5.4M570.2 657.9h5.4M316.4 656h5.4M332.6 656h10.8M608 656h5.4M645.8 656h5.4M667.4 656h5.4M683.6 656h5.4M278.6 654.2h5.4M570.2 654.2h5.4M629.6 654.2h10.8M672.8 654.2h5.4M797 654.2h5.2M824 654.2h5.2M321.8 652.4h5.4M365 652.4h5.4M759 652.4h5.2M905 652.4h5.2M176 650.6h5.4M213.8 650.6h5.4M321.8 650.6h5.4M381.2 650.6h5.4M748.2 650.6h5.2M176 648.8h5.4M381.2 648.8h5.4M516.2 648.8h5.4M197.6 647h5.4M316.4 647h5.4M375.8 647h5.4M402.8 647h5.4M510.8 647h5.4M581 647h5.4M138.2 645.2h5.4M176 645.2h5.4M284 645.2h5.4M359.6 645.2h5.4M402.8 645.2h5.4M608 645.2h5.4M240.8 643.4h5.4M348.8 643.4h5.4M365 643.4h5.4M516.2 643.4h10.8M543.2 643.4h5.4M678.2 643.4h10.8M181.4 641.5h5.4M257 641.5h5.4M392 641.5h5.4M662 641.5h5.4M694.4 641.5h5.4M235.4 639.7h5.4M278.6 639.7h5.4M370.4 639.7h5.4M402.8 639.7h5.4M554 639.7h5.4M797 639.7h5.2M143.6 637.9h5.4M170.6 637.9h5.4M235.4 637.9h5.4M278.6 637.9h5.4M300.2 637.9h5.4M402.8 637.9h5.4M446 637.9h5.4M170.6 636.1h5.4M289.4 636.1h5.4M645.8 636.1h5.4M235.4 634.3h5.4M311 634.3h5.4M446 634.3h5.4M645.8 634.3h5.4M656.6 634.3h5.4M672.8 634.3h5.4M705 634.3h5.2M737.4 634.3h5.2M181.4 632.5h5.4M224.6 632.5h10.8M273.2 632.5h5.4M408.2 632.5h5.4M456.8 632.5h5.4M824 632.5h5.2M138.2 630.7h5.4M354.2 630.7h5.4M548.6 630.7h5.4M851 630.7h5.2M219.2 628.9h5.4M300.2 628.9h5.4M354.2 628.9h5.4M386.6 628.9h5.4M408.2 628.9h5.4M878 628.9h5.2M165.2 627h5.4M181.4 627h5.4M300.2 627h5.4M375.8 627h5.4M429.8 627h10.8M170.6 625.2h5.4M181.4 625.2h5.4M532.4 625.2h5.4M543.2 625.2h5.4M705 625.2h5.2M289.4 623.4h5.4M370.4 623.4h5.4M456.8 623.4h5.4M769.8 623.4h5.2M456.8 621.6h5.4M473 621.6h5.4M624.2 621.6h5.4M149 619.8h5.4M332.6 619.8h5.4M348.8 619.8h5.4M365 619.8h5.4M397.4 619.8h5.4M726.6 619.8h5.2M143.6 618h5.4M154.4 618h5.4M332.6 618h16.2M413.6 618h5.4M467.6 618h5.4M192.2 616.2h5.4M219.2 616.2h5.4M251.6 616.2h5.4M273.2 616.2h5.4M370.4 616.2h5.4M397.4 616.2h5.4M440.6 616.2h5.4M500 616.2h5.4M613.4 616.2h5.4M824 616.2h5.2M300.2 614.4h5.4M478.4 614.4h5.4M489.2 614.4h5.4M521.6 614.4h5.4M143.6 612.5h5.4M300.2 612.5h5.4M408.2 612.5h5.4M159.8 610.7h5.4M348.8 610.7h5.4M424.4 610.7h5.4M521.6 610.7h5.4M397.4 608.9h5.4M424.4 608.9h5.4M694.4 608.9h5.4M726.6 608.9h5.2M208.4 607.1h5.4M645.8 607.1h5.4M678.2 607.1h5.4M219.2 605.3h5.4M311 605.3h5.4M397.4 605.3h5.4M440.6 605.3h5.4M640.4 605.3h5.4M154.4 603.5h5.4M332.6 603.5h5.4M705 603.5h5.2M851 603.5h5.2M192.2 601.7h5.4M240.8 601.7h5.4M132.8 599.9h5.4M192.2 599.9h5.4M230 599.9h5.4M440.6 599.9h5.4M559.4 599.9h5.4M618.8 599.9h5.4M181.4 598h5.4M381.2 598h5.4M419 598h5.4M510.8 598h5.4M640.4 598h5.4M726.6 598h5.2M132.8 596.2h5.4M203 596.2h5.4M359.6 596.2h5.4M467.6 596.2h5.4M203 594.4h5.4M213.8 594.4h5.4M440.6 594.4h5.4M575.6 594.4h5.4M613.4 594.4h5.4M683.6 594.4h5.4M797 594.4h5.2M132.8 592.6h5.4M532.4 592.6h10.8M624.2 592.6h5.4M635 592.6h10.8M662 592.6h5.4M748.2 592.6h5.2M327.2 590.8h5.4M370.4 590.8h5.4M505.4 590.8h5.4M537.8 590.8h16.2M586.4 590.8h5.4M635 590.8h5.4M321.8 589h5.4M332.6 589h5.4M586.4 589h5.4M618.8 589h5.4M656.6 589h5.4M219.2 587.2h5.4M284 587.2h5.4M689 587.2h5.4M878 587.2h5.2M246.2 585.4h10.8M316.4 585.4h5.4M656.6 585.4h5.4M138.2 583.5h5.4M316.4 583.5h5.4M478.4 583.5h5.4M689 583.5h5.4M797 583.5h5.2M905 583.5h5.2M192.2 581.7h5.4M203 581.7h5.4M294.8 581.7h5.4M397.4 581.7h5.4M473 581.7h5.4M672.8 581.7h5.4M932 581.7h5.2M143.6 579.9h5.4M262.4 579.9h5.4M581 579.9h5.4M645.8 579.9h5.4M213.8 578.1h5.4M289.4 578.1h5.4M370.4 578.1h5.4M419 578.1h5.4M797 578.1h5.2M316.4 576.3h5.4M424.4 576.3h5.4M494.6 576.3h5.4M564.8 576.3h5.4M878 576.3h5.2M127.4 574.5h5.4M192.2 574.5h5.4M246.2 574.5h10.8M435.2 574.5h5.4M446 574.5h5.4M543.2 574.5h5.4M564.8 574.5h5.4M672.8 574.5h5.4M149 572.7h5.4M159.8 572.7h5.4M672.8 572.7h5.4M726.6 572.7h5.2M851 572.7h5.2M365 570.9h5.4M386.6 570.9h5.4M440.6 570.9h5.4M473 570.9h5.4M667.4 570.9h5.4M440.6 569h5.4M143.6 567.2h5.4M240.8 567.2h5.4M500 567.2h5.4M905 567.2h5.2M262.4 565.4h5.4M413.6 565.4h5.4M440.6 565.4h5.4M769.8 565.4h5.2M905 565.4h5.2M230 563.6h5.4M489.2 563.6h5.4M500 563.6h5.4M667.4 563.6h5.4M122 561.8h5.4M197.6 561.8h5.4M392 561.8h5.4M510.8 561.8h5.4M548.6 561.8h5.4M586.4 561.8h5.4M300.2 560h5.4M548.6 560h5.4M667.4 560h5.4M683.6 560h5.4M769.8 560h5.2M278.6 558.2h5.4M429.8 558.2h5.4M554 558.2h5.4M645.8 558.2h5.4M662 558.2h5.4M305.6 556.4h5.4M467.6 556.4h5.4M537.8 556.4h5.4M575.6 556.4h5.4M905 556.4h5.2M165.2 554.5h5.4M273.2 554.5h5.4M316.4 554.5h5.4M332.6 554.5h5.4M635 554.5h5.4M726.6 554.5h5.2M797 554.5h5.2M122 552.7h5.4M230 552.7h5.4M284 552.7h10.8M489.2 552.7h5.4M516.2 552.7h5.4M635 552.7h5.4M726.6 552.7h5.2M878 552.7h5.2M127.4 550.9h5.4M246.2 550.9h5.4M284 550.9h5.4M381.2 550.9h5.4M516.2 550.9h5.4M527 550.9h5.4M694.4 550.9h5.4M878 550.9h5.2M494.6 549.1h5.4M143.6 547.3h5.4M165.2 547.3h5.4M489.2 547.3h5.4M500 547.3h5.4M521.6 547.3h5.4M537.8 547.3h5.4M554 547.3h10.8M581 547.3h5.4M645.8 547.3h5.4M267.8 545.5h5.4M235.4 543.7h5.4M424.4 543.7h5.4M640.4 543.7h5.4M413.6 541.9h5.4M510.8 541.9h5.4M240.8 540h5.4M365 540h5.4M705 540h5.2M149 538.2h5.4M165.2 538.2h5.4M186.8 538.2h5.4M278.6 538.2h5.4M440.6 538.2h10.8M564.8 538.2h5.4M602.6 538.2h5.4M662 538.2h5.4M905 538.2h5.2M365 536.4h5.4M246.2 534.6h5.4M429.8 534.6h5.4M473 534.6h5.4M905 534.6h5.2M181.4 532.8h5.4M203 532.8h5.4M305.6 532.8h5.4M456.8 532.8h5.4M505.4 532.8h5.4M581 532.8h10.8M176 531h5.4M230 531h5.4M462.2 531h5.4M645.8 531h5.4M694.4 531h5.4M181.4 529.2h5.4M327.2 529.2h5.4M505.4 529.2h5.4M564.8 529.2h5.4M748.2 529.2h5.2M905 529.2h5.2M159.8 527.4h16.2M494.6 527.4h5.4M505.4 527.4h5.4M532.4 527.4h5.4M667.4 527.4h5.4M824 527.4h5.2M273.2 525.5h5.4M413.6 525.5h5.4M489.2 525.5h5.4M640.4 525.5h5.4M748.2 525.5h5.2M122 523.7h16.2M494.6 523.7h5.4M748.2 523.7h5.2M759 523.7h5.2M127.4 521.9h10.8M224.6 521.9h5.4M278.6 521.9h5.4M451.4 521.9h5.4M473 521.9h5.4M527 521.9h5.4M176 520.1h5.4M208.4 520.1h5.4M321.8 520.1h5.4M375.8 520.1h5.4M543.2 520.1h5.4M618.8 520.1h10.8M656.6 520.1h5.4M878 520.1h5.2M186.8 518.3h5.4M267.8 518.3h5.4M289.4 518.3h5.4M375.8 518.3h5.4M521.6 518.3h5.4M186.8 516.5h5.4M197.6 516.5h5.4M354.2 516.5h5.4M381.2 516.5h5.4M408.2 516.5h5.4M473 516.5h5.4M521.6 516.5h5.4M554 516.5h5.4M694.4 516.5h5.4M127.4 514.7h5.4M467.6 514.7h5.4M548.6 514.7h5.4M559.4 514.7h5.4M689 514.7h5.4M203 512.9h5.4M262.4 512.9h5.4M327.2 512.9h5.4M370.4 512.9h5.4M440.6 512.9h5.4M467.6 512.9h5.4M656.6 512.9h5.4M683.6 512.9h5.4M289.4 511h5.4M478.4 511h5.4M494.6 511h5.4M597.2 511h5.4M618.8 511h5.4M667.4 511h5.4M683.6 511h5.4M186.8 509.2h5.4M257 509.2h5.4M289.4 509.2h5.4M332.6 509.2h5.4M386.6 509.2h10.8M419 509.2h5.4M548.6 509.2h5.4M138.2 507.4h5.4M375.8 507.4h5.4M591.8 507.4h5.4M370.4 505.6h5.4M478.4 505.6h5.4M905 505.6h5.2M240.8 503.8h5.4M278.6 503.8h5.4M440.6 503.8h5.4M478.4 503.8h5.4M678.2 503.8h5.4M186.8 502h5.4M429.8 502h5.4M451.4 502h5.4M494.6 502h5.4M581 502h5.4M197.6 500.2h5.4M289.4 500.2h5.4M338 500.2h5.4M359.6 500.2h5.4M321.8 498.4h5.4M365 498.4h5.4M386.6 498.4h5.4M408.2 498.4h5.4M564.8 498.4h5.4M597.2 498.4h5.4M311 496.5h5.4M402.8 496.5h5.4M419 496.5h5.4M613.4 496.5h5.4M797 496.5h5.2M824 496.5h5.2M186.8 494.7h5.4M543.2 494.7h5.4M613.4 494.7h5.4M656.6 494.7h5.4M181.4 492.9h5.4M305.6 492.9h5.4M435.2 492.9h5.4M489.2 492.9h5.4M527 492.9h5.4M905 492.9h5.2M181.4 491.1h5.4M300.2 491.1h5.4M348.8 491.1h10.8M602.6 491.1h5.4M613.4 491.1h5.4M624.2 491.1h5.4M694.4 491.1h5.4M705 491.1h5.2M737.4 491.1h5.2M246.2 489.3h5.4M348.8 489.3h5.4M694.4 489.3h5.4M402.8 487.5h5.4M554 487.5h5.4M613.4 487.5h5.4M726.6 487.5h5.2M446 485.7h5.4M575.6 485.7h5.4M613.4 485.7h5.4M338 483.9h5.4M462.2 483.9h10.8M537.8 483.9h10.8M575.6 483.9h5.4M602.6 483.9h5.4M651.2 483.9h5.4M132.8 482h5.4M208.4 482h5.4M327.2 482h5.4M402.8 482h5.4M516.2 482h5.4M532.4 482h5.4M629.6 482h5.4M181.4 480.2h5.4M375.8 480.2h5.4M429.8 480.2h5.4M510.8 480.2h5.4M591.8 480.2h5.4M667.4 480.2h5.4M726.6 480.2h5.2M759 480.2h5.2M176 478.4h5.4M402.8 478.4h5.4M446 478.4h5.4M478.4 478.4h5.4M532.4 478.4h5.4M543.2 478.4h5.4M591.8 478.4h5.4M208.4 476.6h5.4M440.6 476.6h5.4M527 476.6h5.4M591.8 476.6h5.4M613.4 476.6h5.4M208.4 474.8h5.4M240.8 474.8h5.4M343.4 474.8h5.4M186.8 473h5.4M240.8 473h5.4M408.2 473h5.4M489.2 473h5.4M500 473h5.4M591.8 473h5.4M645.8 473h5.4M656.6 473h5.4M192.2 471.2h5.4M284 471.2h5.4M408.2 471.2h5.4M651.2 471.2h5.4M905 471.2h5.2M186.8 469.4h10.8M300.2 469.4h5.4M581 469.4h5.4M797 469.4h5.2M165.2 467.5h5.4M213.8 467.5h5.4M224.6 467.5h5.4M429.8 467.5h5.4M451.4 467.5h5.4M467.6 467.5h5.4M662 467.5h10.8M851 467.5h5.2M213.8 465.7h5.4M483.8 465.7h10.8M527 465.7h5.4M678.2 465.7h5.4M138.2 463.9h5.4M186.8 463.9h5.4M548.6 463.9h5.4M591.8 463.9h5.4M824 463.9h5.2M219.2 462.1h5.4M327.2 462.1h5.4M354.2 462.1h5.4M419 462.1h5.4M494.6 462.1h5.4M505.4 462.1h5.4M554 462.1h5.4M851 462.1h5.2M267.8 460.3h5.4M300.2 460.3h5.4M489.2 460.3h5.4M251.6 458.5h5.4M327.2 458.5h5.4M354.2 458.5h5.4M645.8 458.5h5.4M170.6 456.7h5.4M348.8 456.7h5.4M483.8 456.7h5.4M521.6 456.7h5.4M705 456.7h5.2M359.6 454.9h5.4M586.4 454.9h5.4M122 453h5.4M262.4 453h5.4M548.6 453h5.4M597.2 453h5.4M327.2 451.2h5.4M824 451.2h5.2M132.8 449.4h5.4M294.8 449.4h5.4M338 449.4h5.4M554 449.4h5.4M284 447.6h5.4M532.4 447.6h5.4M905 447.6h5.2M370.4 445.8h5.4M446 445.8h5.4M516.2 445.8h5.4M575.6 445.8h5.4M284 444h5.4M456.8 444h5.4M473 444h10.8M510.8 444h5.4M575.6 444h10.8M797 444h5.2M127.4 442.2h5.4M176 442.2h5.4M213.8 442.2h5.4M273.2 442.2h5.4M759 442.2h5.2M257 440.4h5.4M273.2 440.4h5.4M294.8 440.4h5.4M413.6 440.4h5.4M672.8 440.4h5.4M386.6 438.5h5.4M397.4 438.5h5.4M516.2 438.5h5.4M591.8 438.5h5.4M759 438.5h5.2M127.4 436.7h5.4M143.6 436.7h5.4M170.6 436.7h5.4M321.8 436.7h5.4M375.8 434.9h5.4M440.6 434.9h5.4M705 434.9h5.2M149 433.1h5.4M208.4 433.1h5.4M467.6 433.1h16.2M208.4 431.3h5.4M467.6 431.3h5.4M483.8 431.3h5.4M500 431.3h5.4M570.2 431.3h5.4M705 431.3h5.2M737.4 431.3h5.2M878 431.3h5.2M381.2 429.5h5.4M570.2 429.5h5.4M824 429.5h5.2M149 427.7h5.4M170.6 427.7h5.4M311 427.7h5.4M451.4 427.7h5.4M564.8 427.7h5.4M608 427.7h5.4M905 427.7h5.2M170.6 425.9h5.4M440.6 425.9h5.4M559.4 425.9h5.4M586.4 425.9h5.4M640.4 425.9h5.4M905 425.9h5.2M154.4 424h5.4M203 424h5.4M235.4 424h5.4M473 424h5.4M575.6 424h5.4M737.4 424h5.2M824 424h5.2M165.2 422.2h5.4M230 422.2h5.4M251.6 422.2h5.4M424.4 422.2h5.4M451.4 422.2h5.4M602.6 422.2h5.4M149 420.4h5.4M165.2 420.4h5.4M197.6 420.4h5.4M219.2 420.4h5.4M251.6 420.4h5.4M392 420.4h5.4M608 420.4h5.4M689 420.4h5.4M224.6 418.6h5.4M343.4 418.6h5.4M532.4 418.6h5.4M645.8 418.6h5.4M662 418.6h5.4M165.2 416.8h5.4M440.6 416.8h10.8M456.8 416.8h10.8M543.2 416.8h5.4M554 416.8h5.4M656.6 416.8h5.4M197.6 415h5.4M235.4 415h5.4M294.8 415h5.4M359.6 415h5.4M375.8 415h5.4M456.8 415h5.4M138.2 413.2h5.4M197.6 413.2h5.4M505.4 413.2h5.4M284 411.4h5.4M591.8 411.4h5.4M132.8 409.5h5.4M257 409.5h5.4M289.4 409.5h5.4M305.6 409.5h5.4M759 409.5h5.2M905 409.5h5.2M132.8 407.7h5.4M311 407.7h5.4M402.8 407.7h5.4M500 407.7h5.4M122 405.9h5.4M149 405.9h5.4M327.2 405.9h5.4M338 405.9h5.4M408.2 405.9h5.4M440.6 405.9h5.4M473 405.9h5.4M505.4 405.9h5.4M181.4 404.1h5.4M316.4 404.1h5.4M505.4 404.1h5.4M662 404.1h5.4M176 402.3h10.8M240.8 402.3h5.4M446 402.3h5.4M662 402.3h5.4M176 400.5h5.4M192.2 400.5h5.4M327.2 400.5h5.4M338 400.5h5.4M473 400.5h5.4M851 398.7h5.2M413.6 396.9h5.4M456.8 396.9h5.4M656.6 396.9h5.4M413.6 395h5.4M435.2 395h5.4M564.8 395h5.4M591.8 395h5.4M678.2 395h5.4M127.4 393.2h5.4M262.4 393.2h5.4M127.4 391.4h5.4M181.4 391.4h5.4M284 391.4h5.4M494.6 391.4h5.4M354.2 389.6h5.4M618.8 389.6h5.4M127.4 387.8h5.4M203 387.8h5.4M348.8 387.8h5.4M505.4 387.8h5.4M311 386h5.4M338 386h5.4M354.2 386h5.4M705 386h5.2M715.8 386h5.2M203 384.2h5.4M262.4 384.2h5.4M564.8 384.2h5.4M132.8 382.4h5.4M165.2 382.4h5.4M267.8 382.4h5.4M618.8 382.4h5.4M797 382.4h5.2M878 382.4h5.2M132.8 380.5h5.4M230 380.5h5.4M375.8 380.5h5.4M483.8 380.5h5.4M635 380.5h5.4M645.8 380.5h5.4M726.6 380.5h5.2M759 380.5h5.2M230 378.7h5.4M267.8 378.7h5.4M305.6 378.7h5.4M532.4 378.7h5.4M586.4 378.7h10.8M138.2 376.9h5.4M149 376.9h10.8M192.2 376.9h5.4M230 376.9h5.4M408.2 376.9h5.4M651.2 376.9h5.4M176 375.1h5.4M192.2 375.1h5.4M246.2 375.1h5.4M354.2 375.1h5.4M435.2 375.1h5.4M473 375.1h5.4M851 375.1h5.2M165.2 373.3h10.8M613.4 373.3h5.4M629.6 373.3h5.4M726.6 373.3h5.2M851 373.3h5.2M230 371.5h5.4M348.8 371.5h5.4M505.4 371.5h5.4M715.8 371.5h5.2M149 369.7h5.4M186.8 369.7h5.4M392 369.7h5.4M413.6 369.7h5.4M440.6 369.7h5.4M737.4 369.7h5.2M769.8 369.7h5.2M213.8 367.9h5.4M240.8 367.9h5.4M273.2 367.9h5.4M413.6 367.9h5.4M478.4 367.9h5.4M532.4 367.9h5.4M640.4 367.9h5.4M213.8 366h5.4M240.8 366h5.4M354.2 366h5.4M500 366h5.4M532.4 366h5.4M667.4 366h5.4M705 366h5.2M824 366h5.2M159.8 364.2h5.4M262.4 364.2h5.4M300.2 364.2h5.4M456.8 364.2h5.4M500 364.2h5.4M267.8 362.4h5.4M440.6 362.4h5.4M608 362.4h5.4M132.8 360.6h5.4M262.4 360.6h5.4M629.6 360.6h5.4M672.8 360.6h5.4M769.8 360.6h5.2M905 360.6h5.2M122 358.8h5.4M213.8 358.8h5.4M629.6 358.8h5.4M192.2 357h5.4M213.8 357h5.4M224.6 357h5.4M305.6 357h5.4M359.6 357h10.8M456.8 357h5.4M656.6 357h5.4M192.2 355.2h5.4M213.8 355.2h5.4M224.6 355.2h5.4M381.2 355.2h5.4M527 355.2h5.4M548.6 355.2h5.4M575.6 355.2h5.4M629.6 355.2h5.4M905 355.2h5.2M138.2 353.4h5.4M224.6 353.4h5.4M289.4 353.4h5.4M478.4 353.4h5.4M618.8 353.4h5.4M656.6 353.4h5.4M737.4 353.4h5.2M824 351.5h5.2M213.8 349.7h5.4M240.8 349.7h5.4M251.6 349.7h5.4M456.8 349.7h5.4M467.6 349.7h5.4M597.2 349.7h5.4M769.8 349.7h5.2M878 349.7h5.2M370.4 347.9h10.8M527 347.9h5.4M651.2 347.9h5.4M851 347.9h5.2M154.4 346.1h5.4M311 346.1h5.4M564.8 346.1h5.4M602.6 346.1h5.4M694.4 346.1h5.4M278.6 344.3h5.4M435.2 344.3h5.4M570.2 344.3h10.8M618.8 344.3h5.4M197.6 342.5h5.4M483.8 342.5h5.4M500 342.5h5.4M575.6 342.5h5.4M586.4 342.5h5.4M645.8 342.5h5.4M683.6 342.5h10.8M554 340.7h5.4M645.8 340.7h5.4M159.8 338.9h5.4M176 338.9h5.4M300.2 338.9h5.4M381.2 338.9h5.4M392 338.9h5.4M429.8 338.9h5.4M462.2 338.9h5.4M559.4 338.9h5.4M159.8 337h5.4M305.6 337h5.4M429.8 337h5.4M467.6 337h5.4M516.2 337h5.4M548.6 337h5.4M705 337h5.2M932 337h5.2M186.8 335.2h5.4M208.4 335.2h5.4M219.2 335.2h5.4M451.4 335.2h5.4M505.4 335.2h5.4M748.2 335.2h5.2M932 335.2h5.2M208.4 333.4h5.4M251.6 333.4h5.4M289.4 333.4h5.4M370.4 333.4h5.4M203 331.6h5.4M284 331.6h5.4M348.8 331.6h5.4M494.6 331.6h5.4M510.8 331.6h5.4M591.8 331.6h5.4M224.6 329.8h5.4M240.8 329.8h5.4M251.6 329.8h5.4M289.4 329.8h5.4M375.8 329.8h5.4M424.4 329.8h5.4M586.4 329.8h5.4M678.2 329.8h5.4M737.4 329.8h5.2M824 329.8h5.2M878 329.8h5.2M359.6 328h5.4M397.4 328h5.4M413.6 328h5.4M597.2 328h5.4M878 328h5.2M235.4 326.2h5.4M262.4 326.2h10.8M489.2 326.2h5.4M122 324.4h5.4M132.8 322.5h5.4M419 322.5h5.4M505.4 322.5h5.4M235.4 320.7h5.4M338 320.7h5.4M527 320.7h5.4M165.2 318.9h5.4M176 318.9h5.4M284 318.9h5.4M435.2 318.9h5.4M478.4 318.9h5.4M559.4 318.9h5.4M591.8 318.9h5.4M132.8 317.1h5.4M262.4 317.1h5.4M478.4 317.1h5.4M586.4 317.1h5.4M165.2 315.3h5.4M181.4 315.3h5.4M478.4 315.3h5.4M613.4 315.3h5.4M694.4 315.3h5.4M208.4 313.5h5.4M294.8 313.5h5.4M537.8 313.5h5.4M554 313.5h5.4M635 313.5h5.4M230 311.7h5.4M429.8 311.7h5.4M521.6 311.7h5.4M683.6 311.7h5.4M143.6 309.9h5.4M316.4 309.9h5.4M327.2 309.9h5.4M532.4 309.9h5.4M672.8 309.9h5.4M143.6 308h5.4M381.2 308h5.4M408.2 308h5.4M629.6 308h5.4M651.2 308h5.4M170.6 306.2h10.8M343.4 306.2h5.4M419 306.2h5.4M446 306.2h5.4M672.8 306.2h5.4M127.4 304.4h5.4M473 304.4h5.4M494.6 304.4h5.4M564.8 304.4h5.4M170.6 302.6h5.4M267.8 302.6h5.4M413.6 302.6h5.4M257 300.8h5.4M278.6 300.8h5.4M354.2 300.8h5.4M419 300.8h5.4M224.6 299h5.4M257 299h5.4M300.2 299h5.4M446 299h5.4M667.4 299h5.4M705 299h5.2M332.6 297.2h5.4M581 297.2h5.4M608 297.2h5.4M715.8 297.2h5.2M748.2 297.2h5.2M343.4 295.4h5.4M597.2 295.4h5.4M748.2 295.4h5.2M797 295.4h5.2M132.8 293.5h5.4M262.4 293.5h5.4M370.4 293.5h5.4M516.2 293.5h5.4M667.4 293.5h5.4M748.2 293.5h5.2M294.8 291.7h5.4M591.8 291.7h5.4M424.4 289.9h5.4M132.8 288.1h5.4M305.6 288.1h5.4M413.6 288.1h5.4M257 286.3h10.8M451.4 286.3h5.4M559.4 286.3h5.4M705 286.3h5.2M192.2 284.5h5.4M213.8 284.5h5.4M408.2 284.5h5.4M435.2 284.5h5.4M591.8 284.5h5.4M705 284.5h5.2M348.8 282.7h5.4M424.4 282.7h5.4M548.6 282.7h5.4M602.6 282.7h5.4M878 282.7h5.2M159.8 280.9h5.4M192.2 280.9h5.4M257 280.9h5.4M435.2 280.9h5.4M489.2 280.9h5.4M500 280.9h5.4M824 280.9h5.2M154.4 279h5.4M235.4 279h5.4M321.8 279h5.4M478.4 279h5.4M608 279h5.4M213.8 277.2h5.4M327.2 277.2h5.4M402.8 277.2h5.4M489.2 277.2h5.4M618.8 277.2h5.4M824 277.2h5.2M213.8 275.4h5.4M273.2 275.4h5.4M440.6 275.4h5.4M640.4 275.4h5.4M165.2 273.6h5.4M192.2 273.6h5.4M267.8 273.6h5.4M327.2 273.6h5.4M338 273.6h5.4M359.6 273.6h5.4M640.4 273.6h5.4M662 273.6h5.4M932 273.6h5.2M159.8 271.8h5.4M197.6 271.8h5.4M359.6 271.8h5.4M462.2 271.8h5.4M365 270h5.4M402.8 270h5.4M467.6 270h5.4M726.6 270h5.2M737.4 270h5.2M483.8 268.2h5.4M581 268.2h5.4M613.4 268.2h5.4M170.6 266.4h5.4M213.8 266.4h5.4M224.6 266.4h5.4M618.8 266.4h5.4M127.4 264.5h5.4M392 264.5h5.4M473 264.5h5.4M500 264.5h5.4M554 264.5h5.4M618.8 264.5h5.4M197.6 262.7h5.4M213.8 262.7h5.4M257 262.7h5.4M451.4 262.7h5.4M478.4 262.7h5.4M591.8 262.7h5.4M705 262.7h5.2M165.2 260.9h5.4M219.2 260.9h5.4M413.6 260.9h5.4M451.4 260.9h5.4M462.2 260.9h5.4M510.8 260.9h5.4M683.6 260.9h5.4M797 260.9h5.2M165.2 259.1h5.4M267.8 259.1h5.4M300.2 259.1h5.4M462.2 259.1h5.4M554 259.1h5.4M586.4 259.1h5.4M629.6 259.1h5.4M683.6 259.1h5.4M797 259.1h5.2M554 257.3h5.4M640.4 257.3h5.4M192.2 255.5h5.4M251.6 255.5h5.4M532.4 255.5h5.4M597.2 255.5h5.4M656.6 255.5h5.4M932 255.5h5.2M132.8 253.7h5.4M181.4 253.7h5.4M246.2 253.7h5.4M483.8 253.7h5.4M932 253.7h5.2M435.2 251.9h5.4M489.2 251.9h5.4M613.4 251.9h5.4M905 251.9h5.2M165.2 250h5.4M602.6 250h5.4M748.2 250h5.2M122 248.2h5.4M251.6 248.2h10.8M300.2 248.2h5.4M348.8 248.2h5.4M446 248.2h5.4M192.2 246.4h5.4M575.6 246.4h5.4M878 246.4h5.2M154.4 244.6h5.4M192.2 244.6h5.4M219.2 244.6h5.4M300.2 244.6h5.4M419 244.6h5.4M170.6 242.8h5.4M273.2 242.8h5.4M413.6 242.8h5.4M851 242.8h5.2M284 241h5.4M419 241h5.4M451.4 241h5.4M570.2 241h5.4M851 241h5.2M149 239.2h5.4M510.8 239.2h5.4M667.4 239.2h5.4M159.8 237.4h5.4M289.4 237.4h5.4M424.4 237.4h5.4M510.8 237.4h5.4M159.8 235.5h5.4M197.6 235.5h5.4M375.8 235.5h5.4M521.6 235.5h5.4M656.6 235.5h5.4M143.6 233.7h5.4M154.4 233.7h5.4M246.2 233.7h5.4M311 233.7h5.4M392 233.7h5.4M419 233.7h5.4M132.8 231.9h5.4M176 231.9h5.4M294.8 231.9h5.4M365 231.9h5.4M435.2 231.9h5.4M581 231.9h5.4M602.6 231.9h5.4M359.6 230.1h5.4M413.6 230.1h5.4M456.8 230.1h5.4M543.2 230.1h5.4M618.8 230.1h5.4M170.6 228.3h5.4M203 228.3h5.4M332.6 228.3h5.4M365 228.3h5.4M446 228.3h5.4M608 228.3h5.4M645.8 228.3h5.4M375.8 226.5h5.4M186.8 224.7h5.4M354.2 224.7h5.4M510.8 224.7h5.4M608 224.7h5.4M640.4 224.7h5.4M278.6 222.9h5.4M354.2 222.9h5.4M456.8 222.9h5.4M132.8 221h5.4M159.8 221h5.4M294.8 221h5.4M386.6 221h5.4M532.4 221h5.4M257 219.2h5.4M278.6 219.2h5.4M294.8 219.2h5.4M338 219.2h5.4M408.2 219.2h5.4M667.4 219.2h5.4M759 219.2h5.2M797 219.2h5.2M824 219.2h5.2M230 217.4h5.4M273.2 217.4h5.4M429.8 217.4h5.4M645.8 217.4h5.4M932 217.4h5.2M143.6 215.6h5.4M224.6 215.6h5.4M591.8 215.6h5.4M640.4 215.6h5.4M408.2 213.8h5.4M429.8 213.8h5.4M467.6 213.8h5.4M548.6 213.8h5.4M640.4 213.8h5.4M678.2 213.8h5.4M851 213.8h5.2M176 212h5.4M284 212h5.4M419 212h5.4M543.2 212h5.4M705 212h5.2M905 212h5.2M181.4 210.2h5.4M338 210.2h5.4M359.6 210.2h5.4M392 210.2h5.4M797 210.2h5.2M149 208.4h5.4M213.8 208.4h5.4M321.8 208.4h5.4M500 208.4h5.4M851 208.4h5.2M122 206.5h5.4M289.4 206.5h5.4M300.2 206.5h5.4M500 206.5h5.4M564.8 206.5h5.4M159.8 204.7h5.4M240.8 204.7h5.4M537.8 204.7h5.4M629.6 204.7h5.4M122 202.9h5.4M138.2 202.9h10.8M154.4 202.9h10.8M197.6 202.9h5.4M149 201.1h5.4M181.4 201.1h5.4M359.6 201.1h5.4M284 199.3h5.4M294.8 199.3h5.4M543.2 199.3h5.4M575.6 199.3h5.4M672.8 199.3h5.4M132.8 197.5h5.4M240.8 197.5h5.4M294.8 197.5h5.4M327.2 197.5h5.4M413.6 197.5h5.4M521.6 197.5h5.4M543.2 197.5h5.4M737.4 197.5h5.2M219.2 195.7h10.8M294.8 195.7h5.4M419 195.7h5.4M613.4 195.7h5.4M635 195.7h10.8M132.8 193.9h5.4M165.2 193.9h5.4M208.4 193.9h5.4M219.2 193.9h5.4M359.6 193.9h5.4M446 193.9h5.4M591.8 193.9h5.4M715.8 193.9h5.2M181.4 192h5.4M591.8 192h5.4M672.8 192h5.4M851 192h5.2M521.6 190.2h5.4M532.4 190.2h5.4M672.8 190.2h5.4M683.6 190.2h5.4M851 190.2h5.2M343.4 188.4h10.8M370.4 188.4h5.4M527 188.4h5.4M597.2 188.4h5.4M662 188.4h5.4M683.6 188.4h5.4M694.4 188.4h5.4M321.8 186.6h5.4M408.2 186.6h5.4M640.4 186.6h5.4M197.6 184.8h5.4M591.8 184.8h5.4M608 184.8h5.4M635 184.8h5.4M797 184.8h5.2M305.6 183h5.4M402.8 183h5.4M413.6 183h5.4M581 183h5.4M192.2 181.2h5.4M489.2 181.2h5.4M554 181.2h5.4M678.2 181.2h5.4M878 181.2h5.2M905 181.2h5.2M159.8 179.4h10.8M251.6 179.4h5.4M456.8 179.4h5.4M678.2 179.4h10.8M694.4 179.4h5.4M905 179.4h5.2M127.4 177.5h5.4M208.4 177.5h5.4M251.6 177.5h5.4M451.4 177.5h5.4M651.2 177.5h5.4M246.2 175.7h5.4M257 175.7h5.4M451.4 175.7h5.4M483.8 175.7h5.4M694.4 175.7h5.4M705 175.7h5.2M759 175.7h5.2M122 173.9h5.4M294.8 173.9h5.4M370.4 173.9h5.4M381.2 173.9h5.4M419 173.9h5.4M456.8 173.9h5.4M467.6 173.9h5.4M483.8 173.9h5.4M494.6 173.9h5.4M570.2 173.9h5.4M624.2 173.9h5.4M878 173.9h5.2M316.4 172.1h5.4M381.2 172.1h5.4M602.6 172.1h5.4M705 172.1h5.2M219.2 170.3h5.4M462.2 170.3h5.4M527 170.3h5.4M602.6 170.3h5.4M176 168.5h5.4M230 168.5h10.8M262.4 168.5h5.4M365 168.5h5.4M532.4 168.5h5.4M132.8 166.7h5.4M262.4 166.7h5.4M327.2 166.7h5.4M381.2 166.7h5.4M618.8 166.7h5.4M932 166.7h5.2M165.2 164.9h5.4M413.6 163h5.4M429.8 163h5.4M494.6 163h5.4M683.6 163h10.8M213.8 161.2h5.4M305.6 161.2h5.4M473 161.2h5.4M521.6 161.2h5.4M575.6 161.2h5.4M748.2 161.2h5.2M851 161.2h5.2M235.4 159.4h5.4M397.4 159.4h5.4M537.8 159.4h5.4M548.6 159.4h5.4M581 159.4h5.4M851 159.4h5.2M132.8 157.6h5.4M246.2 157.6h5.4M548.6 157.6h5.4M586.4 157.6h5.4M737.4 157.6h5.2M203 155.8h10.8M284 155.8h5.4M424.4 155.8h5.4M656.6 155.8h5.4M246.2 154h5.4M392 154h10.8M424.4 154h5.4M564.8 154h5.4M597.2 154h5.4M613.4 154h5.4M694.4 154h5.4M851 154h5.2M154.4 152.2h5.4M429.8 152.2h5.4M554 152.2h5.4M289.4 150.4h5.4M381.2 150.4h5.4M473 150.4h5.4M645.8 150.4h5.4M122 148.5h5.4M154.4 148.5h5.4M219.2 148.5h5.4M289.4 148.5h10.8M381.2 148.5h10.8M408.2 148.5h5.4M159.8 146.7h5.4M284 146.7h5.4M375.8 146.7h5.4M516.2 146.7h5.4M613.4 146.7h5.4M640.4 146.7h5.4M656.6 146.7h5.4M797 146.7h5.2M932 146.7h5.2M132.8 144.9h5.4M429.8 144.9h5.4M516.2 144.9h5.4M635 144.9h5.4M672.8 144.9h5.4M715.8 144.9h5.2M797 144.9h5.2M203 143.1h5.4M327.2 143.1h5.4M392 143.1h5.4M759 143.1h5.2M284 141.3h5.4M327.2 141.3h5.4M467.6 141.3h5.4M586.4 141.3h5.4M629.6 141.3h5.4M748.2 141.3h5.2M197.6 139.5h5.4M467.6 139.5h5.4M905 139.5h5.2M138.2 137.7h5.4M435.2 137.7h5.4M505.4 137.7h5.4M132.8 135.9h5.4M192.2 135.9h5.4M338 135.9h5.4M500 135.9h5.4M726.6 135.9h5.2M769.8 135.9h5.2M905 135.9h5.2M132.8 134h10.8M154.4 134h5.4M208.4 134h5.4M300.2 134h5.4M516.2 134h5.4M543.2 134h5.4M132.8 132.2h5.4M300.2 132.2h5.4M532.4 132.2h5.4M651.2 132.2h5.4M905 132.2h5.2M230 130.4h5.4M327.2 130.4h5.4M559.4 130.4h5.4M602.6 130.4h5.4M197.6 128.6h5.4M257 128.6h10.8M462.2 128.6h5.4M521.6 128.6h5.4M548.6 128.6h5.4M143.6 126.8h5.4M230 126.8h5.4M257 126.8h5.4M462.2 126.8h5.4M521.6 126.8h5.4M597.2 126.8h5.4M624.2 126.8h5.4M224.6 125h5.4M251.6 125h5.4M338 125h5.4M370.4 125h5.4M521.6 125h5.4M559.4 125h5.4M624.2 125h5.4M672.8 125h5.4M127.4 123.2h5.4M138.2 123.2h5.4M311 123.2h5.4M327.2 123.2h5.4M338 123.2h5.4M586.4 123.2h5.4M143.6 121.4h5.4M165.2 121.4h5.4M213.8 121.4h5.4M240.8 121.4h5.4M440.6 121.4h5.4M456.8 121.4h5.4M510.8 121.4h5.4M613.4 121.4h5.4M181.4 119.5h5.4M240.8 119.5h5.4M289.4 119.5h5.4M456.8 119.5h5.4M365 117.7h5.4M467.6 117.7h5.4M532.4 117.7h5.4M705 117.7h5.2M715.8 117.7h5.2M138.2 115.9h5.4M273.2 115.9h5.4M429.8 115.9h5.4M440.6 115.9h5.4M559.4 115.9h5.4M640.4 115.9h5.4M321.8 114.1h5.4M678.2 114.1h5.4M127.4 112.3h5.4M170.6 112.3h10.8M284 112.3h5.4M516.2 112.3h5.4M548.6 110.5h5.4M570.2 110.5h5.4M651.2 110.5h5.4M715.8 110.5h5.2M240.8 108.7h10.8M413.6 108.7h5.4M618.8 108.7h5.4M678.2 108.7h5.4M170.6 106.9h5.4M186.8 106.9h5.4M262.4 106.9h5.4M381.2 106.9h5.4M483.8 106.9h5.4M505.4 106.9h5.4M737.4 106.9h5.2M127.4 105h5.4M262.4 105h5.4M289.4 105h5.4M381.2 105h5.4M435.2 105h5.4M489.2 105h5.4M500 105h10.8M635 105h5.4M678.2 105h5.4M219.2 103.2h5.4M257 103.2h10.8M273.2 103.2h5.4M354.2 103.2h5.4M386.6 103.2h5.4M435.2 103.2h5.4M575.6 103.2h5.4M640.4 103.2h5.4M219.2 101.4h5.4M462.2 101.4h5.4M510.8 101.4h5.4M543.2 101.4h5.4M532.4 99.6h5.4M543.2 99.6h5.4M748.2 99.6h5.2M197.6 97.8h5.4M532.4 97.8h5.4M635 97.8h5.4M824 97.8h5.2M192.2 96h5.4M300.2 96h5.4M500 96h5.4M548.6 96h5.4M640.4 96h10.8M726.6 96h5.2M219.2 94.2h5.4M413.6 94.2h5.4M483.8 94.2h5.4M500 94.2h5.4M516.2 94.2h5.4M564.8 94.2h5.4M645.8 94.2h5.4M251.6 92.4h5.4M462.2 92.4h5.4M537.8 92.4h5.4M656.6 92.4h5.4M181.4 90.5h5.4M343.4 90.5h5.4M375.8 90.5h5.4M645.8 90.5h5.4M667.4 90.5h5.4M127.4 88.7h5.4M213.8 88.7h5.4M327.2 88.7h5.4M554 88.7h5.4M624.2 88.7h5.4M667.4 88.7h5.4M230 86.9h5.4M343.4 86.9h5.4M354.2 86.9h5.4M462.2 86.9h5.4M489.2 86.9h5.4M737.4 86.9h5.2"/>
<path stroke="#443983" d="M149 779.3h5.4M208.4 779.3h5.4M235.4 779.3h5.4M294.8 779.3h5.4M527 779.3h10.8M640.4 779.3h5.4M759 779.3h5.2M759 775.7h5.2M737.4 770.2h5.2M208.4 766.6h5.4M251.6 766.6h5.4M343.4 766.6h5.4M365 766.6h5.4M769.8 766.6h5.2M170.6 764.8h5.4M246.2 764.8h5.4M316.4 764.8h5.4M419 764.8h5.4M451.4 764.8h5.4M505.4 764.8h5.4M570.2 764.8h5.4M683.6 764.8h5.4M413.6 763h5.4M446 763h10.8M521.6 763h5.4M683.6 763h5.4M851 763h5.2M203 761.2h5.4M294.8 761.2h5.4M359.6 761.2h5.4M419 761.2h5.4M429.8 761.2h5.4M451.4 761.2h5.4M483.8 761.2h5.4M564.8 761.2h10.8M581 761.2h5.4M591.8 761.2h5.4M624.2 761.2h5.4M715.8 761.2h5.2M851 761.2h5.2M165.2 759.4h5.4M181.4 759.4h5.4M294.8 759.4h5.4M332.6 759.4h5.4M419 759.4h10.8M446 759.4h5.4M602.6 759.4h5.4M149 757.5h5.4M300.2 757.5h5.4M505.4 757.5h5.4M521.6 757.5h5.4M570.2 757.5h5.4M581 757.5h5.4M618.8 757.5h5.4M640.4 757.5h5.4M683.6 757.5h5.4M132.8 755.7h5.4M154.4 755.7h5.4M300.2 755.7h5.4M440.6 755.7h10.8M570.2 755.7h5.4M629.6 755.7h5.4M208.4 753.9h5.4M235.4 753.9h5.4M651.2 753.9h5.4M905 753.9h5.2M235.4 752.1h5.4M905 752.1h5.2M246.2 750.3h5.4M359.6 750.3h5.4M564.8 750.3h5.4M618.8 750.3h5.4M176 748.5h5.4M240.8 748.5h5.4M305.6 748.5h5.4M332.6 748.5h5.4M473 748.5h5.4M640.4 748.5h5.4M591.8 746.7h5.4M408.2 744.9h5.4M176 743h5.4M208.4 743h5.4M446 743h5.4M510.8 743h5.4M575.6 743h5.4M602.6 743h5.4M240.8 741.2h5.4M413.6 741.2h5.4M446 741.2h5.4M608 741.2h5.4M262.4 739.4h5.4M413.6 739.4h5.4M165.2 737.6h5.4M613.4 737.6h5.4M392 735.8h5.4M154.4 734h5.4M510.8 734h5.4M197.6 732.2h5.4M338 732.2h5.4M408.2 732.2h5.4M635 732.2h5.4M240.8 730.4h5.4M338 730.4h5.4M143.6 728.5h5.4M305.6 728.5h5.4M165.2 726.7h5.4M446 726.7h5.4M662 726.7h5.4M878 726.7h5.2M246.2 724.9h5.4M537.8 724.9h5.4M365 723.1h5.4M537.8 723.1h5.4M608 723.1h5.4M143.6 721.3h5.4M327.2 721.3h5.4M597.2 721.3h5.4M159.8 719.5h5.4M327.2 719.5h5.4M224.6 717.7h5.4M462.2 717.7h5.4M554 717.7h5.4M613.4 717.7h5.4M311 715.9h5.4M462.2 715.9h5.4M554 715.9h5.4M851 715.9h5.2M473 714h5.4M494.6 714h5.4M392 712.2h5.4M451.4 712.2h5.4M559.4 712.2h5.4M613.4 712.2h5.4M759 708.6h5.2M284 703.2h5.4M456.8 701.4h5.4M618.8 701.4h5.4M127.4 699.5h5.4M521.6 699.5h5.4M575.6 697.7h5.4M613.4 697.7h5.4M273.2 695.9h5.4M694.4 695.9h5.4M267.8 694.1h5.4M797 694.1h5.2M586.4 692.3h5.4M851 692.3h5.2M575.6 690.5h5.4M635 690.5h5.4M656.6 690.5h5.4M759 690.5h5.2M851 690.5h5.2M240.8 688.7h5.4M629.6 688.7h5.4M240.8 686.9h5.4M440.6 686.9h5.4M591.8 686.9h5.4M159.8 685h5.4M170.6 685h5.4M240.8 683.2h5.4M138.2 681.4h5.4M348.8 681.4h5.4M370.4 681.4h5.4M219.2 679.6h5.4M246.2 679.6h5.4M348.8 679.6h5.4M797 679.6h5.2M170.6 677.8h5.4M375.8 677.8h5.4M235.4 676h5.4M748.2 676h5.2M273.2 674.2h5.4M440.6 674.2h5.4M748.2 674.2h5.2M159.8 672.4h5.4M316.4 672.4h5.4M375.8 672.4h5.4M608 672.4h5.4M618.8 672.4h5.4M672.8 672.4h5.4M726.6 672.4h5.2M851 672.4h5.2M316.4 670.5h5.4M543.2 670.5h5.4M678.2 670.5h5.4M251.6 668.7h5.4M419 668.7h16.2M122 666.9h5.4M878 666.9h5.2M311 665.1h5.4M413.6 665.1h5.4M494.6 665.1h5.4M748.2 663.3h5.2M759 663.3h5.2M397.4 661.5h5.4M505.4 661.5h5.4M715.8 661.5h5.2M316.4 659.7h5.4M824 656h5.2M608 654.2h5.4M635 652.4h5.4M662 652.4h5.4M348.8 650.6h5.4M456.8 648.8h5.4M235.4 645.2h5.4M435.2 645.2h5.4M635 645.2h5.4M257 643.4h5.4M726.6 643.4h5.2M186.8 641.5h5.4M143.6 639.7h5.4M300.2 639.7h5.4M635 639.7h5.4M386.6 637.9h5.4M575.6 637.9h5.4M797 637.9h5.2M932 634.3h5.2M338 632.5h5.4M851 632.5h5.2M932 632.5h5.2M127.4 630.7h5.4M456.8 630.7h5.4M678.2 630.7h5.4M932 630.7h5.2M154.4 628.9h5.4M176 628.9h5.4M192.2 628.9h5.4M662 628.9h5.4M678.2 628.9h5.4M262.4 627h5.4M316.4 627h5.4M532.4 623.4h5.4M149 621.6h5.4M246.2 621.6h5.4M500 621.6h5.4M737.4 621.6h5.2M197.6 619.8h5.4M321.8 619.8h5.4M624.2 619.8h5.4M656.6 619.8h5.4M154.4 616.2h5.4M489.2 616.2h5.4M516.2 616.2h5.4M527 616.2h5.4M537.8 614.4h5.4M230 612.5h5.4M327.2 612.5h5.4M705 612.5h5.2M138.2 610.7h5.4M305.6 610.7h5.4M446 610.7h5.4M559.4 610.7h5.4M575.6 610.7h5.4M651.2 610.7h5.4M905 608.9h5.2M127.4 607.1h5.4M354.2 607.1h5.4M381.2 607.1h5.4M435.2 605.3h5.4M305.6 603.5h5.4M392 603.5h5.4M694.4 603.5h5.4M332.6 601.7h5.4M359.6 601.7h5.4M429.8 601.7h5.4M656.6 598h5.4M656.6 596.2h5.4M737.4 596.2h5.2M132.8 594.4h5.4M197.6 594.4h5.4M359.6 594.4h5.4M591.8 594.4h5.4M640.4 594.4h5.4M235.4 592.6h5.4M294.8 592.6h5.4M359.6 592.6h5.4M402.8 592.6h5.4M500 592.6h5.4M597.2 592.6h5.4M672.8 592.6h5.4M705 592.6h5.2M181.4 590.8h5.4M262.4 590.8h5.4M672.8 590.8h5.4M176 589h5.4M683.6 589h5.4M176 587.2h5.4M246.2 587.2h5.4M278.6 587.2h5.4M305.6 587.2h10.8M375.8 587.2h5.4M570.2 587.2h5.4M759 587.2h5.2M132.8 585.4h5.4M332.6 585.4h5.4M516.2 585.4h10.8M608 585.4h5.4M769.8 585.4h5.2M878 585.4h5.2M370.4 583.5h5.4M127.4 581.7h5.4M316.4 581.7h5.4M797 581.7h5.2M824 581.7h5.2M170.6 579.9h5.4M797 579.9h5.2M338 576.3h5.4M559.4 576.3h5.4M602.6 576.3h5.4M159.8 574.5h5.4M451.4 574.5h5.4M602.6 574.5h5.4M651.2 574.5h5.4M332.6 572.7h5.4M300.2 570.9h5.4M343.4 570.9h5.4M769.8 570.9h5.2M284 569h5.4M446 569h5.4M467.6 569h5.4M408.2 567.2h5.4M548.6 567.2h5.4M613.4 567.2h5.4M429.8 565.4h5.4M311 561.8h5.4M608 561.8h5.4M667.4 561.8h5.4M278.6 560h5.4M311 560h5.4M392 560h5.4M521.6 560h5.4M591.8 560h5.4M456.8 558.2h5.4M618.8 558.2h5.4M683.6 558.2h5.4M392 556.4h5.4M500 556.4h5.4M613.4 556.4h5.4M662 556.4h5.4M467.6 554.5h5.4M662 554.5h5.4M397.4 552.7h5.4M467.6 552.7h5.4M591.8 552.7h5.4M608 552.7h5.4M678.2 552.7h5.4M570.2 550.9h5.4M300.2 549.1h5.4M170.6 545.5h5.4M316.4 545.5h5.4M408.2 543.7h5.4M602.6 543.7h5.4M651.2 543.7h5.4M618.8 541.9h5.4M645.8 541.9h5.4M143.6 540h5.4M354.2 540h5.4M640.4 538.2h5.4M154.4 536.4h5.4M165.2 536.4h5.4M154.4 534.6h5.4M581 534.6h5.4M213.8 532.8h5.4M570.2 532.8h5.4M602.6 532.8h5.4M672.8 532.8h5.4M230 529.2h5.4M381.2 525.5h5.4M824 525.5h5.2M300.2 523.7h5.4M543.2 523.7h5.4M797 523.7h5.2M397.4 521.9h5.4M613.4 521.9h5.4M726.6 521.9h5.2M359.6 520.1h5.4M591.8 520.1h5.4M181.4 516.5h5.4M219.2 514.7h5.4M370.4 514.7h5.4M683.6 514.7h5.4M905 514.7h5.2M424.4 512.9h5.4M602.6 512.9h5.4M905 512.9h5.2M159.8 511h5.4M672.8 511h10.8M878 511h5.2M165.2 509.2h5.4M240.8 509.2h5.4M575.6 509.2h5.4M683.6 509.2h5.4M797 509.2h5.2M851 509.2h5.2M510.8 507.4h5.4M365 505.6h5.4M500 505.6h5.4M748.2 505.6h5.2M203 503.8h5.4M456.8 503.8h5.4M505.4 503.8h5.4M694.4 503.8h5.4M251.6 502h5.4M386.6 502h5.4M505.4 502h5.4M667.4 502h5.4M149 500.2h5.4M386.6 500.2h5.4M473 500.2h5.4M159.8 498.4h5.4M354.2 498.4h5.4M473 498.4h5.4M613.4 498.4h5.4M494.6 491.1h5.4M473 489.3h5.4M494.6 489.3h5.4M613.4 489.3h5.4M208.4 487.5h5.4M203 485.7h5.4M715.8 485.7h5.2M824 485.7h5.2M203 483.9h5.4M629.6 483.9h5.4M510.8 482h5.4M613.4 482h5.4M651.2 482h5.4M759 482h5.2M543.2 480.2h5.4M219.2 478.4h5.4M591.8 474.8h5.4M613.4 474.8h5.4M656.6 474.8h5.4M354.2 473h5.4M462.2 473h5.4M613.4 473h5.4M348.8 469.4h5.4M645.8 469.4h5.4M851 469.4h5.2M645.8 467.5h5.4M451.4 465.7h5.4M516.2 465.7h5.4M548.6 465.7h5.4M618.8 465.7h5.4M667.4 465.7h5.4M213.8 463.9h5.4M354.2 463.9h5.4M494.6 463.9h5.4M672.8 463.9h5.4M683.6 463.9h5.4M500 462.1h5.4M521.6 462.1h5.4M683.6 460.3h5.4M683.6 458.5h5.4M683.6 456.7h5.4M348.8 454.9h5.4M143.6 453h5.4M559.4 453h5.4M608 453h5.4M294.8 451.2h5.4M532.4 449.4h5.4M667.4 447.6h5.4M197.6 445.8h5.4M532.4 445.8h5.4M662 445.8h5.4M446 444h5.4M532.4 444h5.4M748.2 444h5.2M154.4 442.2h5.4M532.4 442.2h5.4M694.4 442.2h5.4M532.4 440.4h5.4M122 438.5h5.4M267.8 438.5h5.4M532.4 438.5h5.4M122 436.7h5.4M354.2 436.7h5.4M375.8 436.7h5.4M456.8 436.7h5.4M494.6 436.7h5.4M586.4 436.7h5.4M143.6 434.9h10.8M262.4 434.9h5.4M359.6 434.9h5.4M451.4 433.1h5.4M359.6 431.3h5.4M548.6 431.3h5.4M581 431.3h5.4M618.8 431.3h5.4M375.8 429.5h5.4M548.6 429.5h5.4M602.6 429.5h5.4M651.2 429.5h5.4M348.8 427.7h5.4M354.2 425.9h5.4M473 425.9h5.4M354.2 424h5.4M505.4 424h5.4M284 422.2h5.4M127.4 420.4h5.4M230 420.4h5.4M284 420.4h5.4M375.8 420.4h5.4M435.2 420.4h5.4M278.6 418.6h5.4M878 418.6h5.2M532.4 416.8h5.4M424.4 415h5.4M532.4 415h5.4M543.2 415h5.4M235.4 413.2h5.4M624.2 413.2h5.4M289.4 411.4h5.4M370.4 411.4h5.4M769.8 411.4h5.2M424.4 409.5h10.8M473 409.5h5.4M581 409.5h5.4M467.6 407.7h5.4M532.4 407.7h5.4M354.2 405.9h5.4M532.4 405.9h5.4M165.2 404.1h5.4M197.6 404.1h5.4M456.8 404.1h5.4M575.6 404.1h5.4M597.2 404.1h5.4M305.6 402.3h5.4M338 402.3h5.4M532.4 402.3h5.4M635 402.3h5.4M273.2 400.5h5.4M851 400.5h5.2M246.2 398.7h5.4M300.2 398.7h5.4M381.2 398.7h5.4M494.6 398.7h5.4M246.2 396.9h5.4M257 393.2h5.4M672.8 393.2h10.8M197.6 391.4h5.4M446 391.4h5.4M505.4 389.6h5.4M543.2 389.6h5.4M446 387.8h5.4M608 386h5.4M311 384.2h5.4M473 382.4h5.4M532.4 382.4h5.4M591.8 382.4h5.4M532.4 380.5h5.4M305.6 376.9h5.4M602.6 376.9h5.4M165.2 375.1h5.4M370.4 375.1h5.4M532.4 375.1h5.4M672.8 375.1h5.4M186.8 373.3h5.4M602.6 373.3h5.4M338 371.5h5.4M359.6 371.5h5.4M570.2 371.5h5.4M505.4 369.7h5.4M397.4 366h5.4M689 366h5.4M354.2 364.2h5.4M635 364.2h5.4M138.2 362.4h5.4M365 362.4h5.4M159.8 360.6h10.8M284 360.6h5.4M381.2 358.8h5.4M521.6 358.8h5.4M575.6 358.8h5.4M759 358.8h5.2M397.4 357h5.4M240.8 355.2h5.4M467.6 355.2h5.4M159.8 353.4h5.4M138.2 351.5h5.4M224.6 351.5h5.4M348.8 351.5h5.4M478.4 351.5h5.4M132.8 349.7h5.4M219.2 349.7h10.8M640.4 349.7h5.4M122 347.9h5.4M402.8 347.9h5.4M564.8 347.9h5.4M640.4 347.9h5.4M715.8 347.9h5.2M181.4 346.1h5.4M656.6 346.1h5.4M851 346.1h5.2M197.6 344.3h5.4M532.4 344.3h5.4M645.8 344.3h5.4M370.4 342.5h5.4M392 342.5h5.4M435.2 342.5h5.4M532.4 342.5h5.4M737.4 342.5h5.2M392 340.7h5.4M446 340.7h5.4M683.6 340.7h5.4M737.4 340.7h5.2M370.4 338.9h5.4M532.4 338.9h5.4M678.2 338.9h5.4M759 338.9h5.2M797 338.9h5.2M878 338.9h5.2M176 337h5.4M219.2 337h5.4M370.4 337h5.4M629.6 337h5.4M370.4 335.2h5.4M640.4 335.2h5.4M165.2 333.4h5.4M505.4 333.4h5.4M597.2 333.4h5.4M656.6 333.4h5.4M683.6 333.4h5.4M165.2 331.6h5.4M251.6 331.6h5.4M289.4 331.6h5.4M478.4 331.6h5.4M532.4 329.8h5.4M575.6 329.8h5.4M602.6 329.8h5.4M629.6 329.8h5.4M230 328h5.4M375.8 328h5.4M602.6 328h5.4M851 328h5.2M597.2 326.2h5.4M629.6 326.2h5.4M737.4 324.4h5.2M305.6 322.5h5.4M338 322.5h5.4M694.4 322.5h5.4M424.4 320.7h5.4M613.4 320.7h5.4M235.4 318.9h5.4M586.4 318.9h5.4M683.6 318.9h5.4M672.8 317.1h5.4M186.8 315.3h5.4M667.4 315.3h5.4M186.8 313.5h5.4M667.4 313.5h5.4M905 313.5h5.2M635 311.7h5.4M483.8 309.9h5.4M656.6 309.9h5.4M435.2 308h5.4M176 304.4h5.4M624.2 304.4h5.4M284 302.6h5.4M354.2 302.6h5.4M267.8 300.8h5.4M386.6 300.8h5.4M138.2 299h5.4M527 299h10.8M532.4 297.2h5.4M397.4 295.4h5.4M532.4 295.4h5.4M294.8 293.5h5.4M591.8 293.5h5.4M500 291.7h5.4M635 291.7h5.4M651.2 291.7h5.4M527 289.9h5.4M608 289.9h5.4M462.2 288.1h5.4M132.8 286.3h5.4M192.2 286.3h5.4M348.8 286.3h5.4M435.2 286.3h5.4M235.4 284.5h5.4M262.4 284.5h5.4M343.4 284.5h10.8M575.6 284.5h5.4M235.4 282.7h5.4M343.4 282.7h5.4M667.4 282.7h5.4M213.8 280.9h5.4M284 280.9h5.4M608 280.9h5.4M662 280.9h5.4M769.8 280.9h5.2M181.4 279h5.4M932 279h5.2M570.2 277.2h5.4M154.4 275.4h5.4M311 275.4h5.4M532.4 275.4h5.4M618.8 275.4h5.4M537.8 273.6h5.4M851 271.8h5.2M581 270h5.4M613.4 270h5.4M678.2 270h5.4M705 270h5.2M246.2 268.2h5.4M284 268.2h5.4M467.6 268.2h5.4M392 266.4h5.4M192.2 264.5h5.4M532.4 264.5h5.4M635 264.5h5.4M413.6 262.7h5.4M505.4 262.7h5.4M759 262.7h5.2M321.8 260.9h5.4M375.8 260.9h5.4M440.6 260.9h5.4M494.6 260.9h5.4M505.4 260.9h5.4M575.6 260.9h5.4M662 260.9h5.4M532.4 259.1h5.4M235.4 257.3h5.4M440.6 257.3h5.4M586.4 253.7h5.4M413.6 251.9h5.4M230 250h5.4M284 250h5.4M354.2 250h5.4M489.2 250h5.4M505.4 248.2h5.4M159.8 246.4h5.4M348.8 246.4h5.4M338 244.6h5.4M473 244.6h5.4M737.4 244.6h5.2M149 241h5.4M316.4 241h5.4M332.6 241h5.4M532.4 241h5.4M289.4 239.2h5.4M532.4 239.2h5.4M597.2 239.2h5.4M192.2 237.4h5.4M311 237.4h5.4M429.8 237.4h5.4M154.4 235.5h5.4M181.4 235.5h5.4M273.2 235.5h5.4M624.2 235.5h5.4M851 235.5h5.2M132.8 233.7h5.4M375.8 233.7h5.4M402.8 233.7h5.4M851 233.7h5.2M154.4 231.9h5.4M289.4 231.9h5.4M375.8 231.9h5.4M543.2 231.9h5.4M170.6 230.1h5.4M235.4 230.1h5.4M289.4 230.1h5.4M635 230.1h5.4M662 230.1h5.4M494.6 228.3h5.4M532.4 226.5h5.4M381.2 221h5.4M446 221h5.4M602.6 221h5.4M737.4 219.2h5.2M176 213.8h5.4M478.4 213.8h5.4M608 213.8h5.4M478.4 212h5.4M321.8 210.2h5.4M424.4 210.2h5.4M122 208.4h5.4M219.2 208.4h5.4M381.2 208.4h5.4M154.4 204.7h5.4M316.4 204.7h5.4M537.8 202.9h5.4M122 201.1h5.4M154.4 201.1h5.4M370.4 201.1h5.4M532.4 199.3h5.4M219.2 197.5h5.4M284 197.5h5.4M359.6 197.5h5.4M602.6 197.5h5.4M683.6 197.5h5.4M359.6 195.7h5.4M532.4 195.7h5.4M251.6 193.9h5.4M473 193.9h5.4M581 193.9h5.4M748.2 190.2h5.2M305.6 186.6h5.4M424.4 186.6h5.4M473 186.6h5.4M591.8 186.6h5.4M694.4 186.6h5.4M327.2 184.8h5.4M494.6 184.8h5.4M737.4 184.8h5.2M602.6 183h5.4M824 183h5.2M127.4 181.2h5.4M203 181.2h5.4M186.8 179.4h5.4M208.4 179.4h10.8M278.6 179.4h5.4M332.6 179.4h5.4M365 179.4h5.4M375.8 177.5h5.4M478.4 177.5h5.4M197.6 175.7h5.4M559.4 175.7h5.4M154.4 173.9h5.4M354.2 173.9h5.4M748.2 173.9h5.2M154.4 172.1h5.4M219.2 172.1h5.4M613.4 172.1h5.4M737.4 172.1h5.2M748.2 172.1h5.2M532.4 170.3h5.4M624.2 170.3h5.4M932 170.3h5.2M613.4 168.5h5.4M624.2 168.5h5.4M235.4 166.7h5.4M505.4 166.7h5.4M532.4 166.7h5.4M613.4 166.7h5.4M715.8 166.7h5.2M532.4 164.9h5.4M726.6 164.9h5.2M467.6 161.2h5.4M500 161.2h5.4M537.8 161.2h5.4M262.4 159.4h5.4M521.6 159.4h5.4M532.4 159.4h5.4M613.4 159.4h5.4M629.6 159.4h5.4M332.6 157.6h5.4M521.6 157.6h5.4M532.4 157.6h5.4M305.6 155.8h5.4M408.2 155.8h5.4M586.4 155.8h5.4M413.6 154h5.4M505.4 154h5.4M532.4 154h5.4M726.6 154h5.2M365 152.2h5.4M532.4 152.2h5.4M559.4 152.2h5.4M613.4 150.4h5.4M284 148.5h5.4M300.2 148.5h5.4M473 148.5h5.4M516.2 148.5h5.4M651.2 148.5h5.4M132.8 146.7h5.4M230 146.7h5.4M489.2 146.7h5.4M537.8 146.7h5.4M294.8 144.9h5.4M510.8 144.9h5.4M537.8 144.9h5.4M608 144.9h5.4M613.4 143.1h5.4M672.8 143.1h5.4M192.2 141.3h5.4M294.8 141.3h5.4M489.2 141.3h5.4M797 139.5h5.2M154.4 137.7h5.4M473 137.7h5.4M678.2 137.7h5.4M586.4 135.9h5.4M138.2 132.2h5.4M343.4 132.2h5.4M559.4 132.2h5.4M878 132.2h5.2M651.2 130.4h5.4M726.6 130.4h5.2M532.4 128.6h5.4M559.4 128.6h5.4M672.8 128.6h5.4M197.6 126.8h5.4M343.4 126.8h5.4M527 126.8h5.4M559.4 126.8h5.4M327.2 125h5.4M715.8 125h5.2M213.8 123.2h5.4M456.8 123.2h5.4M500 123.2h5.4M559.4 123.2h5.4M176 121.4h5.4M451.4 121.4h5.4M640.4 121.4h5.4M640.4 119.5h5.4M635 117.7h5.4M370.4 115.9h5.4M651.2 115.9h5.4M208.4 114.1h5.4M672.8 114.1h5.4M683.6 114.1h5.4M321.8 112.3h5.4M370.4 112.3h5.4M715.8 112.3h5.2M591.8 110.5h5.4M683.6 110.5h5.4M456.8 108.7h5.4M591.8 108.7h5.4M678.2 106.9h5.4M176 105h5.4M672.8 103.2h5.4M159.8 99.6h5.4M197.6 99.6h5.4M251.6 96h5.4M532.4 96h5.4M824 96h5.2M251.6 94.2h5.4M440.6 94.2h5.4M527 94.2h10.8M122 92.4h5.4M176 90.5h5.4M597.2 90.5h5.4M300.2 86.9h5.4M510.8 86.9h5.4M527 86.9h16.2M575.6 86.9h5.4"/>
<path stroke="#414487" d="M408.2 792h5.4M267.8 790.2h5.4M694.4 788.4h5.4M797 784.7h5.2M208.4 782.9h5.4M500 781.1h5.4M262.4 779.3h5.4M559.4 779.3h5.4M527 777.5h5.4M851 777.5h5.2M176 775.7h5.4M213.8 775.7h5.4M851 775.7h5.2M905 775.7h5.2M759 773.9h5.2M575.6 768.4h5.4M683.6 768.4h5.4M769.8 768.4h5.2M170.6 766.6h5.4M246.2 766.6h5.4M656.6 766.6h5.4M181.4 764.8h5.4M192.2 764.8h5.4M338 764.8h5.4M440.6 764.8h5.4M521.6 764.8h5.4M602.6 764.8h5.4M624.2 764.8h5.4M321.8 763h5.4M419 763h5.4M505.4 763h5.4M586.4 763h5.4M705 763h5.2M149 761.2h5.4M321.8 761.2h5.4M338 761.2h5.4M446 761.2h5.4M494.6 761.2h5.4M510.8 761.2h5.4M597.2 761.2h5.4M149 759.4h5.4M494.6 759.4h5.4M505.4 759.4h5.4M570.2 759.4h5.4M591.8 759.4h10.8M483.8 757.5h5.4M170.6 753.9h5.4M581 753.9h5.4M629.6 753.9h5.4M435.2 752.1h5.4M564.8 748.5h5.4M575.6 744.9h5.4M419 741.2h5.4M635 741.2h5.4M608 739.4h5.4M748.2 739.4h5.2M392 737.6h5.4M737.4 734h5.2M122 732.2h5.4M505.4 730.4h5.4M473 728.5h5.4M613.4 728.5h5.4M613.4 726.7h5.4M613.4 723.1h5.4M224.6 721.3h5.4M478.4 715.9h5.4M851 714h5.2M127.4 712.2h5.4M311 712.2h5.4M273.2 710.4h5.4M532.4 710.4h5.4M613.4 708.6h5.4M613.4 705h5.4M192.2 703.2h5.4M618.8 703.2h5.4M851 703.2h5.2M613.4 701.4h5.4M613.4 699.5h5.4M683.6 694.1h5.4M419 692.3h10.8M332.6 688.7h5.4M332.6 686.9h5.4M797 681.4h5.2M294.8 657.9h5.4M683.6 654.2h5.4M257 650.6h5.4M186.8 647h5.4M527 637.9h5.4M446 636.1h5.4M122 634.3h5.4M386.6 632.5h5.4M213.8 630.7h5.4M159.8 628.9h5.4M494.6 623.4h5.4M797 623.4h5.2M494.6 621.6h5.4M143.6 619.8h5.4M397.4 614.4h5.4M559.4 612.5h5.4M413.6 610.7h5.4M575.6 608.9h5.4M257 607.1h5.4M224.6 603.5h5.4M554 603.5h5.4M570.2 589h5.4M300.2 583.5h5.4M516.2 583.5h5.4M456.8 578.1h5.4M402.8 560h5.4M176 556.4h5.4M262.4 550.9h5.4M608 550.9h5.4M235.4 549.1h5.4M527 549.1h5.4M672.8 541.9h5.4M365 538.2h5.4M618.8 536.4h5.4M694.4 529.2h5.4M381.2 527.4h5.4M203 523.7h5.4M176 521.9h5.4M797 521.9h5.2M354.2 518.3h5.4M851 511h5.2M122 507.4h5.4M456.8 505.6h5.4M467.6 505.6h5.4M640.4 503.8h5.4M467.6 500.2h5.4M181.4 494.7h5.4M683.6 494.7h5.4M186.8 492.9h5.4M467.6 492.9h5.4M613.4 492.9h5.4M473 487.5h5.4M494.6 483.9h5.4M591.8 483.9h5.4M613.4 483.9h5.4M548.6 480.2h5.4M613.4 480.2h5.4M613.4 478.4h5.4M548.6 476.6h5.4M705 474.8h5.2M305.6 473h5.4M305.6 471.2h5.4M613.4 471.2h5.4M219.2 467.5h5.4M446 467.5h5.4M489.2 462.1h5.4M462.2 456.7h5.4M230 454.9h5.4M348.8 453h5.4M748.2 445.8h5.2M797 445.8h5.2M413.6 442.2h5.4M521.6 440.4h5.4M586.4 438.5h5.4M375.8 431.3h5.4M602.6 431.3h5.4M759 431.3h5.2M548.6 425.9h5.4M694.4 422.2h5.4M737.4 422.2h5.2M338 415h5.4M402.8 415h5.4M370.4 413.2h5.4M932 413.2h5.2M548.6 411.4h5.4M532.4 409.5h5.4M548.6 409.5h5.4M149 404.1h5.4M532.4 404.1h5.4M273.2 402.3h5.4M386.6 400.5h5.4M365 396.9h5.4M602.6 395h5.4M165.2 384.2h5.4M618.8 384.2h5.4M267.8 380.5h5.4M532.4 371.5h5.4M737.4 371.5h5.2M581 367.9h5.4M608 364.2h5.4M186.8 362.4h5.4M456.8 362.4h5.4M759 362.4h5.2M759 360.6h5.2M224.6 358.8h5.4M672.8 358.8h5.4M769.8 358.8h5.2M440.6 357h5.4M905 357h5.2M656.6 355.2h5.4M122 346.1h5.4M851 344.3h5.2M338 342.5h5.4M370.4 340.7h5.4M532.4 340.7h5.4M878 340.7h5.2M505.4 338.9h5.4M348.8 335.2h5.4M532.4 333.4h5.4M532.4 331.6h5.4M683.6 331.6h5.4M629.6 328h5.4M424.4 322.5h5.4M737.4 320.7h5.2M532.4 308h5.4M769.8 308h5.2M127.4 306.2h5.4M213.8 300.8h5.4M213.8 299h5.4M127.4 295.4h5.4M797 293.5h5.2M435.2 271.8h5.4M532.4 271.8h5.4M375.8 270h5.4M435.2 270h5.4M618.8 270h5.4M230 266.4h5.4M532.4 266.4h5.4M192.2 262.7h5.4M532.4 262.7h5.4M165.2 248.2h5.4M165.2 246.4h5.4M413.6 244.6h5.4M435.2 239.2h5.4M273.2 237.4h5.4M192.2 235.5h5.4M532.4 233.7h5.4M413.6 231.9h5.4M532.4 231.9h5.4M402.8 230.1h5.4M532.4 224.7h5.4M532.4 222.9h5.4M824 221h5.2M273.2 215.6h5.4M159.8 213.8h5.4M543.2 210.2h5.4M532.4 201.1h5.4M375.8 199.3h5.4M581 195.7h5.4M737.4 195.7h5.2M489.2 193.9h5.4M532.4 188.4h5.4M597.2 186.6h5.4M629.6 186.6h5.4M473 184.8h5.4M408.2 175.7h5.4M478.4 175.7h5.4M219.2 173.9h5.4M613.4 173.9h5.4M737.4 173.9h5.2M759 173.9h5.2M419 172.1h5.4M500 172.1h5.4M197.6 170.3h5.4M343.4 164.9h5.4M613.4 164.9h5.4M613.4 163h5.4M532.4 161.2h5.4M613.4 157.6h5.4M613.4 155.8h5.4M138.2 152.2h5.4M613.4 152.2h5.4M613.4 148.5h5.4M122 143.1h5.4M122 141.3h5.4M316.4 141.3h5.4M154.4 135.9h5.4M797 130.4h5.2M510.8 123.2h5.4M613.4 123.2h5.4M181.4 121.4h5.4M532.4 121.4h5.4M176 119.5h5.4M532.4 119.5h5.4M554 110.5h5.4M257 108.7h5.4M257 106.9h5.4M176 103.2h5.4M581 97.8h5.4M224.6 96h5.4M332.6 94.2h5.4M462.2 94.2h5.4M532.4 92.4h5.4M532.4 90.5h5.4M564.8 90.5h5.4M532.4 88.7h5.4"/>
<path stroke="#3d4d8a" d="M300.2 790.2h5.4M300.2 788.4h5.4M208.4 781.1h5.4M224.6 779.3h5.4M613.4 779.3h5.4M694.4 775.7h5.4M737.4 775.7h5.2M769.8 775.7h5.2M737.4 773.9h5.2M678.2 772h5.4M683.6 770.2h5.4M581 768.4h5.4M197.6 766.6h5.4M305.6 766.6h5.4M381.2 766.6h5.4M413.6 766.6h5.4M683.6 766.6h5.4M230 764.8h5.4M537.8 764.8h5.4M613.4 764.8h5.4M656.6 764.8h5.4M203 763h5.4M246.2 763h5.4M338 763h5.4M348.8 763h5.4M359.6 763h5.4M392 763h5.4M429.8 763h5.4M489.2 763h10.8M537.8 763h5.4M570.2 763h5.4M597.2 763h5.4M624.2 763h5.4M656.6 763h5.4M154.4 761.2h5.4M181.4 761.2h5.4M348.8 761.2h5.4M489.2 761.2h5.4M505.4 761.2h5.4M521.6 761.2h5.4M656.6 761.2h5.4M203 759.4h5.4M348.8 759.4h5.4M413.6 759.4h5.4M483.8 759.4h5.4M624.2 759.4h5.4M715.8 759.4h5.2M591.8 757.5h5.4M629.6 757.5h5.4M246.2 755.7h5.4M602.6 753.9h5.4M645.8 752.1h5.4M429.8 748.5h5.4M613.4 732.2h5.4M737.4 732.2h5.2M613.4 730.4h5.4M613.4 724.9h5.4M613.4 721.3h5.4M613.4 715.9h5.4M613.4 714h5.4M613.4 706.8h5.4M613.4 703.2h5.4M705 692.3h5.2M408.2 672.4h5.4M597.2 665.1h5.4M332.6 663.3h5.4M424.4 630.7h5.4M284 627h5.4M640.4 596.2h5.4M629.6 583.5h5.4M656.6 560h5.4M591.8 558.2h5.4M618.8 509.2h5.4M467.6 507.4h5.4M240.8 502h5.4M467.6 502h5.4M467.6 498.4h5.4M224.6 465.7h5.4M521.6 434.9h5.4M532.4 411.4h5.4M543.2 407.7h5.4M532.4 376.9h5.4M824 371.5h5.2M532.4 337h5.4M359.6 326.2h5.4M667.4 324.4h5.4M667.4 322.5h5.4M532.4 304.4h5.4M532.4 302.6h5.4M532.4 300.8h5.4M451.4 295.4h5.4M618.8 293.5h5.4M235.4 280.9h5.4M532.4 268.2h5.4M246.2 231.9h5.4M343.4 228.3h5.4M532.4 228.3h5.4M613.4 177.5h5.4M613.4 175.7h5.4M613.4 170.3h5.4M932 168.5h5.2M613.4 161.2h5.4M532.4 155.8h5.4M262.4 154h5.4M408.2 146.7h5.4M613.4 144.9h5.4M532.4 123.2h5.4M683.6 112.3h5.4"/>
<path stroke="#39568c" d="M300.2 817.4h5.4M159.8 792h5.4M462.2 792h5.4M235.4 781.1h5.4M532.4 781.1h5.4M748.2 777.5h5.2M932 775.7h5.2M672.8 772h5.4M586.4 770.2h5.4M311 768.4h5.4M370.4 768.4h5.4M505.4 768.4h5.4M122 766.6h5.4M257 766.6h5.4M505.4 766.6h5.4M597.2 766.6h5.4M705 766.6h5.2M715.8 766.6h5.2M257 764.8h5.4M348.8 764.8h5.4M359.6 764.8h5.4M429.8 764.8h5.4M483.8 764.8h10.8M581 764.8h16.2M181.4 763h5.4M192.2 763h5.4M230 763h5.4M257 763h5.4M424.4 763h5.4M456.8 763h5.4M575.6 763h5.4M591.8 763h5.4M602.6 763h5.4M413.6 761.2h5.4M537.8 761.2h5.4M629.6 761.2h5.4M246.2 759.4h5.4M359.6 759.4h5.4M581 759.4h5.4M122 757.5h5.4M494.6 757.5h5.4M629.6 721.3h5.4M424.4 627h5.4M424.4 619.8h5.4M424.4 618h5.4M424.4 614.4h5.4M467.6 503.8h5.4M467.6 496.5h5.4M532.4 373.3h5.4M532.4 270h5.4M532.4 230.1h5.4M532.4 130.4h5.4M532.4 126.8h5.4M532.4 125h5.4"/>
<path stroke="#355f8d" d="M267.8 819.2h5.4M159.8 790.2h5.4M797 786.5h5.2M878 786.5h5.2M500 784.7h5.4M824 784.7h5.2M262.4 782.9h5.4M213.8 779.3h5.4M564.8 779.3h5.4M694.4 779.3h5.4M748.2 779.3h5.2M851 779.3h5.2M176 777.5h5.4M683.6 777.5h5.4M726.6 777.5h5.2M143.6 775.7h5.4M683.6 775.7h5.4M726.6 775.7h5.2M683.6 772h10.8M635 770.2h5.4M645.8 770.2h5.4M251.6 768.4h5.4M289.4 768.4h5.4M359.6 768.4h5.4M392 768.4h5.4M446 768.4h5.4M489.2 768.4h10.8M537.8 768.4h5.4M618.8 768.4h5.4M689 768.4h5.4M602.6 766.6h5.4M294.8 764.8h5.4M321.8 764.8h5.4M386.6 764.8h5.4M413.6 764.8h5.4M424.4 764.8h5.4M494.6 764.8h5.4M629.6 764.8h5.4M705 764.8h5.2M715.8 764.8h5.2M165.2 763h5.4M294.8 763h5.4M483.8 763h5.4M581 763h5.4M629.6 763h5.4M165.2 761.2h5.4M456.8 761.2h5.4M321.8 759.4h5.4M629.6 752.1h5.4M424.4 628.9h5.4M424.4 625.2h5.4M467.6 494.7h5.4M532.4 335.2h5.4M737.4 322.5h5.2M532.4 193.9h5.4"/>
<path stroke="#31688e" d="M408.2 790.2h5.4M797 790.2h5.2M127.4 779.3h5.4M143.6 777.5h5.4M737.4 777.5h5.2M905 777.5h5.2M932 777.5h5.2M678.2 775.7h5.4M689 775.7h5.4M224.6 770.2h5.4M246.2 770.2h5.4M354.2 770.2h5.4M381.2 770.2h5.4M467.6 770.2h5.4M613.4 770.2h5.4M192.2 768.4h5.4M278.6 768.4h5.4M343.4 768.4h5.4M381.2 768.4h5.4M424.4 768.4h10.8M440.6 768.4h5.4M456.8 768.4h5.4M473 768.4h5.4M510.8 768.4h5.4M554 768.4h10.8M597.2 768.4h5.4M186.8 766.6h5.4M332.6 766.6h5.4M570.2 766.6h5.4M203 764.8h5.4M456.8 764.8h5.4M170.6 763h5.4M386.6 763h5.4M127.4 761.2h5.4M122 759.4h5.4M154.4 759.4h5.4M510.8 759.4h5.4M424.4 623.4h5.4M532.4 306.2h5.4"/>
<path stroke="#2d708e" d="M159.8 795.6h5.4M159.8 793.8h5.4M267.8 792h5.4M300.2 792h5.4M608 790.2h5.4M662 790.2h5.4M559.4 788.4h5.4M208.4 786.5h5.4M759 786.5h5.2M262.4 784.7h5.4M640.4 782.9h5.4M759 782.9h5.2M824 782.9h5.2M640.4 781.1h5.4M759 781.1h5.2M878 781.1h5.2M905 781.1h5.2M316.4 779.3h5.4M689 779.3h5.4M769.8 779.3h5.2M905 779.3h5.2M143.6 773.9h5.4M181.4 772h5.4M203 772h5.4M402.8 772h5.4M197.6 770.2h5.4M219.2 770.2h5.4M257 770.2h5.4M284 770.2h5.4M343.4 770.2h5.4M365 770.2h5.4M375.8 770.2h5.4M570.2 770.2h5.4M618.8 770.2h5.4M656.6 770.2h10.8M181.4 768.4h5.4M224.6 768.4h5.4M257 768.4h5.4M273.2 768.4h5.4M294.8 768.4h5.4M321.8 768.4h10.8M348.8 768.4h10.8M451.4 768.4h5.4M467.6 768.4h5.4M483.8 768.4h5.4M516.2 768.4h5.4M543.2 768.4h5.4M564.8 768.4h5.4M613.4 768.4h5.4M624.2 768.4h16.2M645.8 768.4h5.4M138.2 764.8h5.4M149 764.8h5.4M575.6 764.8h5.4M597.2 764.8h5.4M138.2 761.2h5.4M138.2 759.4h5.4"/>
<path stroke="#2a788e" d="M159.8 819.2h5.4M159.8 797.4h5.4M408.2 797.4h5.4M300.2 793.8h5.4M408.2 793.8h5.4M462.2 793.8h5.4M208.4 788.4h5.4M797 788.4h5.2M500 786.5h5.4M208.4 784.7h5.4M878 784.7h5.2M500 782.9h5.4M532.4 782.9h5.4M748.2 782.9h5.2M262.4 781.1h5.4M527 781.1h5.4M694.4 781.1h5.4M748.2 781.1h5.2M769.8 781.1h5.2M176 779.3h5.4M591.8 779.3h5.4M726.6 779.3h5.2M769.8 777.5h5.2M656.6 773.9h10.8M672.8 773.9h10.8M143.6 772h5.4M192.2 772h5.4M240.8 772h5.4M467.6 772h16.2M586.4 772h5.4M613.4 772h5.4M662 772h5.4M170.6 770.2h5.4M186.8 770.2h5.4M230 770.2h5.4M289.4 770.2h5.4M305.6 770.2h16.2M327.2 770.2h5.4M370.4 770.2h5.4M397.4 770.2h10.8M440.6 770.2h5.4M456.8 770.2h5.4M483.8 770.2h10.8M505.4 770.2h5.4M516.2 770.2h10.8M537.8 770.2h5.4M548.6 770.2h5.4M559.4 770.2h5.4M581 770.2h5.4M629.6 770.2h5.4M186.8 768.4h5.4M197.6 768.4h5.4M219.2 768.4h5.4M240.8 768.4h5.4M284 768.4h5.4M332.6 768.4h5.4M365 768.4h5.4M375.8 768.4h5.4M386.6 768.4h5.4M397.4 768.4h5.4M413.6 768.4h5.4M521.6 768.4h5.4M548.6 768.4h5.4M586.4 768.4h10.8M602.6 768.4h5.4M651.2 768.4h5.4M132.8 764.8h5.4M154.4 764.8h5.4M127.4 763h16.2M149 763h10.8M715.8 763h5.2M122 761.2h5.4M127.4 759.4h10.8M424.4 621.6h5.4M424.4 616.2h5.4"/>
<path stroke="#23888e" d="M408.2 819.2h5.4M159.8 817.4h5.4M408.2 817.4h5.4M300.2 797.4h5.4M300.2 795.6h5.4M608 793.8h5.4M446 792h5.4M797 792h5.2M246.2 788.4h5.4M489.2 788.4h5.4M262.4 786.5h5.4M824 786.5h5.2M235.4 784.7h5.4M851 784.7h5.2M527 782.9h5.4M667.4 782.9h5.4M878 782.9h5.2M213.8 781.1h5.4M392 781.1h5.4M543.2 781.1h5.4M575.6 781.1h5.4M851 781.1h5.2M932 781.1h5.2M122 779.3h5.4M143.6 779.3h5.4M170.6 779.3h5.4M186.8 779.3h5.4M332.6 779.3h5.4M354.2 779.3h5.4M370.4 779.3h5.4M467.6 779.3h5.4M694.4 777.5h5.4M192.2 775.7h5.4M251.6 775.7h5.4M667.4 775.7h5.4M197.6 773.9h5.4M419 773.9h5.4M451.4 773.9h5.4M543.2 773.9h5.4M667.4 773.9h5.4M186.8 772h5.4M219.2 772h5.4M230 772h5.4M246.2 772h5.4M257 772h5.4M289.4 772h5.4M327.2 772h5.4M343.4 772h5.4M354.2 772h5.4M365 772h5.4M375.8 772h5.4M386.6 772h5.4M419 772h16.2M489.2 772h5.4M505.4 772h16.2M537.8 772h16.2M559.4 772h5.4M581 772h5.4M591.8 772h16.2M624.2 772h5.4M651.2 772h10.8M667.4 772h5.4M181.4 770.2h5.4M240.8 770.2h5.4M251.6 770.2h5.4M273.2 770.2h5.4M294.8 770.2h5.4M321.8 770.2h5.4M348.8 770.2h5.4M359.6 770.2h5.4M386.6 770.2h10.8M413.6 770.2h10.8M435.2 770.2h5.4M446 770.2h10.8M478.4 770.2h5.4M494.6 770.2h5.4M510.8 770.2h5.4M543.2 770.2h5.4M564.8 770.2h5.4M575.6 770.2h5.4M597.2 770.2h5.4M705 770.2h5.2M127.4 768.4h5.4M138.2 768.4h5.4M154.4 768.4h5.4M170.6 768.4h5.4M203 768.4h5.4M230 768.4h5.4M316.4 768.4h5.4M338 768.4h5.4M402.8 768.4h5.4M435.2 768.4h5.4M478.4 768.4h5.4M570.2 768.4h5.4M705 768.4h5.2M127.4 764.8h5.4M165.2 764.8h5.4M132.8 761.2h5.4"/>
<path stroke="#1f988b" d="M462.2 817.4h5.4M300.2 799.2h5.4M462.2 799.2h5.4M462.2 797.4h5.4M267.8 795.6h5.4M408.2 795.6h5.4M267.8 793.8h5.4M608 792h5.4M878 790.2h5.2M289.4 788.4h5.4M532.4 788.4h5.4M878 788.4h5.2M213.8 786.5h5.4M527 786.5h5.4M748.2 786.5h5.2M213.8 784.7h5.4M332.6 784.7h5.4M678.2 784.7h5.4M759 784.7h5.2M769.8 784.7h5.2M213.8 782.9h5.4M235.4 782.9h5.4M451.4 782.9h5.4M694.4 782.9h5.4M726.6 782.9h5.2M737.4 782.9h5.2M851 782.9h5.2M905 782.9h5.2M932 782.9h5.2M467.6 781.1h5.4M613.4 781.1h5.4M645.8 781.1h5.4M656.6 781.1h5.4M678.2 781.1h5.4M726.6 781.1h5.2M154.4 779.3h5.4M338 779.3h5.4M381.2 779.3h10.8M413.6 779.3h5.4M424.4 779.3h5.4M435.2 779.3h16.2M473 779.3h5.4M489.2 779.3h5.4M505.4 779.3h5.4M516.2 779.3h5.4M618.8 779.3h5.4M678.2 779.3h10.8M737.4 779.3h5.2M672.8 777.5h10.8M689 777.5h5.4M203 775.7h5.4M257 775.7h5.4M321.8 775.7h5.4M370.4 775.7h5.4M413.6 775.7h5.4M429.8 775.7h5.4M548.6 775.7h5.4M575.6 775.7h5.4M656.6 775.7h5.4M672.8 775.7h5.4M240.8 773.9h10.8M257 773.9h5.4M273.2 773.9h5.4M305.6 773.9h10.8M402.8 773.9h5.4M435.2 773.9h16.2M467.6 773.9h10.8M483.8 773.9h5.4M537.8 773.9h5.4M570.2 773.9h5.4M581 773.9h5.4M651.2 773.9h5.4M149 772h10.8M197.6 772h5.4M224.6 772h5.4M251.6 772h5.4M278.6 772h5.4M305.6 772h5.4M332.6 772h10.8M381.2 772h5.4M397.4 772h5.4M413.6 772h5.4M435.2 772h10.8M451.4 772h5.4M554 772h5.4M564.8 772h16.2M618.8 772h5.4M629.6 772h10.8M127.4 770.2h5.4M165.2 770.2h5.4M192.2 770.2h5.4M203 770.2h5.4M278.6 770.2h5.4M332.6 770.2h10.8M424.4 770.2h10.8M473 770.2h5.4M602.6 770.2h5.4M624.2 770.2h5.4M651.2 770.2h5.4M715.8 770.2h5.2M165.2 768.4h5.4M246.2 768.4h5.4M305.6 768.4h5.4M419 768.4h5.4"/>
<path stroke="#22a884" d="M267.8 817.4h5.4M300.2 801h5.4M408.2 799.2h5.4M462.2 795.6h5.4M608 795.6h5.4M797 793.8h5.2M824 793.8h5.2M878 793.8h5.2M235.4 790.2h5.4M759 790.2h5.2M824 790.2h5.2M181.4 788.4h5.4M262.4 788.4h5.4M500 788.4h5.4M624.2 788.4h5.4M640.4 788.4h5.4M235.4 786.5h5.4M273.2 786.5h5.4M532.4 786.5h5.4M689 786.5h5.4M402.8 784.7h5.4M527 784.7h10.8M640.4 784.7h5.4M656.6 784.7h5.4M905 784.7h5.2M321.8 782.9h5.4M402.8 782.9h5.4M413.6 782.9h5.4M543.2 782.9h5.4M651.2 782.9h5.4M683.6 782.9h5.4M769.8 782.9h5.2M176 781.1h5.4M273.2 781.1h5.4M316.4 781.1h10.8M348.8 781.1h10.8M602.6 781.1h5.4M662 781.1h5.4M683.6 781.1h10.8M737.4 781.1h5.2M165.2 779.3h5.4M192.2 779.3h5.4M203 779.3h5.4M230 779.3h5.4M273.2 779.3h10.8M289.4 779.3h5.4M305.6 779.3h5.4M321.8 779.3h5.4M343.4 779.3h10.8M392 779.3h10.8M451.4 779.3h5.4M478.4 779.3h10.8M510.8 779.3h5.4M537.8 779.3h10.8M554 779.3h5.4M575.6 779.3h5.4M624.2 779.3h10.8M672.8 779.3h5.4M224.6 777.5h10.8M240.8 777.5h5.4M662 777.5h10.8M705 777.5h5.2M154.4 775.7h5.4M165.2 775.7h5.4M224.6 775.7h10.8M240.8 775.7h5.4M305.6 775.7h5.4M327.2 775.7h5.4M381.2 775.7h5.4M392 775.7h5.4M402.8 775.7h5.4M424.4 775.7h5.4M440.6 775.7h10.8M473 775.7h5.4M489.2 775.7h5.4M505.4 775.7h5.4M516.2 775.7h10.8M559.4 775.7h5.4M597.2 775.7h5.4M613.4 775.7h5.4M624.2 775.7h5.4M662 775.7h5.4M705 775.7h5.2M170.6 773.9h5.4M203 773.9h5.4M224.6 773.9h5.4M316.4 773.9h10.8M338 773.9h32.4M381.2 773.9h16.2M424.4 773.9h10.8M478.4 773.9h5.4M494.6 773.9h5.4M510.8 773.9h16.2M548.6 773.9h21.6M591.8 773.9h10.8M613.4 773.9h5.4M635 773.9h5.4M645.8 773.9h5.4M122 772h5.4M132.8 772h5.4M165.2 772h10.8M273.2 772h5.4M284 772h5.4M294.8 772h5.4M311 772h10.8M348.8 772h5.4M359.6 772h5.4M370.4 772h5.4M392 772h5.4M446 772h5.4M456.8 772h5.4M483.8 772h5.4M494.6 772h5.4M521.6 772h5.4M645.8 772h5.4M705 772h5.2M138.2 770.2h5.4M149 770.2h10.8M554 770.2h5.4M591.8 770.2h5.4M149 768.4h5.4M715.8 768.4h5.2M122 764.8h5.4M122 763h5.4"/>
<path stroke="#35b779" d="M300.2 819.2h5.4M267.8 802.9h5.4M159.8 801h5.4M408.2 801h5.4M462.2 801h5.4M159.8 799.2h5.4M267.8 799.2h5.4M267.8 797.4h5.4M797 797.4h5.2M797 795.6h5.2M824 792h5.2M262.4 790.2h5.4M500 790.2h5.4M532.4 790.2h5.4M726.6 790.2h5.2M769.8 790.2h5.2M905 790.2h5.2M235.4 788.4h5.4M451.4 788.4h5.4M510.8 788.4h5.4M769.8 788.4h5.2M932 788.4h5.2M316.4 786.5h5.4M348.8 786.5h5.4M402.8 786.5h5.4M510.8 786.5h5.4M640.4 786.5h5.4M726.6 786.5h5.2M737.4 786.5h5.2M769.8 786.5h5.2M510.8 784.7h5.4M602.6 784.7h5.4M651.2 784.7h5.4M726.6 784.7h5.2M748.2 784.7h5.2M143.6 782.9h5.4M332.6 782.9h5.4M467.6 782.9h5.4M575.6 782.9h5.4M602.6 782.9h5.4M689 782.9h5.4M143.6 781.1h5.4M435.2 781.1h5.4M446 781.1h10.8M510.8 781.1h5.4M554 781.1h5.4M672.8 781.1h5.4M138.2 779.3h5.4M251.6 779.3h10.8M284 779.3h5.4M327.2 779.3h5.4M365 779.3h5.4M402.8 779.3h5.4M419 779.3h5.4M570.2 779.3h5.4M581 779.3h5.4M597.2 779.3h10.8M645.8 779.3h5.4M715.8 779.3h5.2M932 779.3h5.2M203 777.5h5.4M273.2 777.5h5.4M294.8 777.5h5.4M370.4 777.5h5.4M381.2 777.5h5.4M435.2 777.5h5.4M581 777.5h16.2M635 777.5h5.4M127.4 775.7h5.4M170.6 775.7h5.4M181.4 775.7h10.8M197.6 775.7h5.4M273.2 775.7h16.2M311 775.7h5.4M332.6 775.7h21.6M359.6 775.7h10.8M386.6 775.7h5.4M419 775.7h5.4M435.2 775.7h5.4M451.4 775.7h10.8M467.6 775.7h5.4M483.8 775.7h5.4M510.8 775.7h5.4M543.2 775.7h5.4M554 775.7h5.4M564.8 775.7h10.8M586.4 775.7h5.4M618.8 775.7h5.4M645.8 775.7h10.8M165.2 773.9h5.4M186.8 773.9h5.4M219.2 773.9h5.4M230 773.9h5.4M251.6 773.9h5.4M278.6 773.9h21.6M332.6 773.9h5.4M370.4 773.9h10.8M397.4 773.9h5.4M456.8 773.9h5.4M489.2 773.9h5.4M505.4 773.9h5.4M586.4 773.9h5.4M618.8 773.9h16.2M321.8 772h5.4M122 770.2h5.4M132.8 770.2h5.4M122 768.4h5.4M132.8 768.4h5.4"/>
<path stroke="#54c568" d="M462.2 819.2h5.4M262.4 815.5h5.4M159.8 804.7h5.4M500 799.2h5.4M797 799.2h5.2M608 797.4h5.4M824 797.4h5.2M208.4 795.6h5.4M262.4 793.8h5.4M527 793.8h5.4M602.6 793.8h5.4M235.4 792h5.4M262.4 792h5.4M413.6 792h5.4M213.8 790.2h5.4M402.8 790.2h5.4M435.2 790.2h5.4M510.8 790.2h5.4M527 790.2h5.4M543.2 790.2h5.4M213.8 788.4h5.4M348.8 788.4h5.4M370.4 788.4h5.4M467.6 788.4h5.4M527 788.4h5.4M645.8 788.4h10.8M748.2 788.4h5.2M759 788.4h5.2M824 788.4h5.2M851 788.4h5.2M905 788.4h5.2M435.2 786.5h5.4M467.6 786.5h5.4M543.2 786.5h5.4M575.6 786.5h5.4M645.8 786.5h5.4M656.6 786.5h5.4M683.6 786.5h5.4M851 786.5h5.2M905 786.5h5.2M932 786.5h5.2M143.6 784.7h5.4M176 784.7h5.4M370.4 784.7h5.4M446 784.7h5.4M694.4 784.7h5.4M348.8 782.9h5.4M370.4 782.9h5.4M435.2 782.9h5.4M446 782.9h5.4M554 782.9h5.4M613.4 782.9h5.4M656.6 782.9h5.4M672.8 782.9h5.4M122 781.1h5.4M154.4 781.1h5.4M370.4 781.1h5.4M651.2 781.1h5.4M132.8 779.3h5.4M181.4 779.3h5.4M197.6 779.3h5.4M219.2 779.3h5.4M240.8 779.3h10.8M311 779.3h5.4M429.8 779.3h5.4M456.8 779.3h5.4M521.6 779.3h5.4M548.6 779.3h5.4M586.4 779.3h5.4M635 779.3h5.4M667.4 779.3h5.4M127.4 777.5h5.4M656.6 777.5h5.4M715.8 777.5h5.2M149 775.7h5.4M219.2 775.7h5.4M246.2 775.7h5.4M289.4 775.7h5.4M316.4 775.7h5.4M354.2 775.7h5.4M478.4 775.7h5.4M494.6 775.7h5.4M537.8 775.7h5.4M602.6 775.7h5.4M629.6 775.7h10.8M138.2 773.9h5.4M154.4 773.9h5.4M181.4 773.9h5.4M192.2 773.9h5.4M413.6 773.9h5.4M575.6 773.9h5.4M127.4 772h5.4M138.2 772h5.4"/>
<path stroke="#7ad151" d="M608 819.2h5.4M159.8 815.5h5.4M408.2 815.5h5.4M262.4 813.7h5.4M159.8 802.9h5.4M300.2 802.9h5.4M267.8 801h5.4M532.4 799.2h5.4M608 799.2h5.4M262.4 797.4h5.4M748.2 795.6h5.2M208.4 793.8h5.4M235.4 793.8h5.4M413.6 793.8h5.4M446 793.8h5.4M532.4 793.8h5.4M748.2 793.8h5.2M208.4 792h5.4M321.8 792h5.4M370.4 792h5.4M500 792h5.4M532.4 792h5.4M543.2 792h5.4M602.6 792h5.4M748.2 792h5.2M769.8 792h5.2M878 792h5.2M208.4 790.2h5.4M316.4 790.2h10.8M348.8 790.2h5.4M413.6 790.2h5.4M451.4 790.2h5.4M467.6 790.2h5.4M613.4 790.2h5.4M640.4 790.2h5.4M748.2 790.2h5.2M851 790.2h5.2M932 790.2h5.2M316.4 788.4h5.4M446 788.4h5.4M554 788.4h5.4M575.6 788.4h5.4M726.6 788.4h5.2M446 786.5h5.4M316.4 784.7h5.4M392 784.7h5.4M435.2 784.7h5.4M467.6 784.7h5.4M613.4 784.7h5.4M645.8 784.7h5.4M932 784.7h5.2M154.4 782.9h5.4M176 782.9h5.4M316.4 782.9h5.4M354.2 782.9h5.4M510.8 782.9h5.4M402.8 781.1h5.4M413.6 781.1h5.4M705 781.1h5.2M359.6 779.3h5.4M375.8 779.3h5.4M494.6 779.3h5.4M651.2 779.3h5.4M705 779.3h5.2M251.6 777.5h5.4M305.6 777.5h5.4M375.8 777.5h5.4M413.6 777.5h5.4M548.6 777.5h5.4M597.2 777.5h5.4M132.8 775.7h10.8M294.8 775.7h5.4M375.8 775.7h5.4M397.4 775.7h5.4M581 775.7h5.4M591.8 775.7h5.4M122 773.9h5.4M149 773.9h5.4M327.2 773.9h5.4M602.6 773.9h5.4M715.8 773.9h5.2M715.8 772h5.2"/>
<path stroke="#a5db36" d="M554 819.2h5.4M797 819.2h5.2M851 819.2h5.2M878 819.2h5.2M408.2 806.5h5.4M300.2 804.7h5.4M408.2 804.7h5.4M462.2 804.7h5.4M408.2 802.9h5.4M462.2 802.9h5.4M608 802.9h5.4M797 802.9h5.2M824 799.2h5.2M878 797.4h5.2M262.4 795.6h5.4M878 795.6h5.2M348.8 793.8h5.4M402.8 793.8h5.4M500 793.8h5.4M543.2 793.8h5.4M640.4 793.8h5.4M759 793.8h5.2M851 793.8h5.2M905 793.8h5.2M402.8 792h5.4M451.4 792h5.4M467.6 792h5.4M510.8 792h5.4M932 792h5.2M332.6 790.2h5.4M645.8 790.2h5.4M321.8 788.4h5.4M402.8 788.4h5.4M435.2 788.4h5.4M543.2 788.4h5.4M602.6 788.4h5.4M656.6 788.4h5.4M143.6 786.5h5.4M176 786.5h5.4M354.2 786.5h5.4M554 786.5h5.4M602.6 786.5h5.4M613.4 786.5h5.4M651.2 786.5h5.4M154.4 784.7h5.4M181.4 784.7h5.4M273.2 784.7h5.4M321.8 784.7h5.4M348.8 784.7h10.8M413.6 784.7h5.4M451.4 784.7h5.4M543.2 784.7h5.4M554 784.7h5.4M575.6 784.7h5.4M737.4 784.7h5.2M273.2 782.9h5.4M645.8 782.9h5.4M678.2 782.9h5.4M332.6 781.1h5.4M149 777.5h10.8M165.2 777.5h5.4M192.2 777.5h5.4M289.4 777.5h5.4M321.8 777.5h5.4M338 777.5h5.4M354.2 777.5h5.4M392 777.5h5.4M419 777.5h5.4M446 777.5h5.4M456.8 777.5h5.4M473 777.5h5.4M645.8 777.5h10.8M122 775.7h5.4M715.8 775.7h5.2M132.8 773.9h5.4M705 773.9h5.2"/>
<path stroke="#d2e21b" d="M159.8 806.5h5.4M267.8 804.7h5.4M797 801h5.2M878 799.2h5.2M235.4 795.6h5.4M824 795.6h5.2M370.4 793.8h5.4M435.2 793.8h5.4M451.4 793.8h5.4M467.6 793.8h5.4M554 793.8h5.4M213.8 792h5.4M348.8 792h5.4M435.2 792h5.4M527 792h5.4M554 792h5.4M651.2 792h5.4M759 792h5.2M851 792h5.2M905 792h5.2M370.4 790.2h5.4M554 790.2h5.4M651.2 790.2h10.8M332.6 788.4h5.4M413.6 788.4h5.4M613.4 788.4h5.4M321.8 786.5h5.4M332.6 786.5h5.4M413.6 786.5h5.4M451.4 786.5h5.4M181.4 782.9h5.4M705 782.9h5.2M181.4 781.1h5.4M667.4 781.1h5.4M122 777.5h5.4M138.2 777.5h5.4M170.6 777.5h5.4M181.4 777.5h5.4M197.6 777.5h5.4M246.2 777.5h5.4M257 777.5h5.4M278.6 777.5h5.4M316.4 777.5h5.4M327.2 777.5h10.8M343.4 777.5h5.4M365 777.5h5.4M478.4 777.5h16.2M516.2 777.5h10.8M543.2 777.5h5.4M554 777.5h21.6M602.6 777.5h5.4M613.4 777.5h16.2M127.4 773.9h5.4"/>
<path stroke="#fde725" d="M451.4 795.6h5.4M213.8 793.8h5.4M316.4 792h5.4M640.4 792h5.4M656.6 792h5.4M726.6 792h5.2M737.4 788.4h5.2M284 777.5h5.4M348.8 777.5h5.4M402.8 777.5h5.4M467.6 777.5h5.4M537.8 777.5h5.4"/>
<path stroke="#fde725" d="M122 819.2h37.8M165.2 819.2h102.6M273.2 819.2h27M305.6 819.2h102.6M413.6 819.2h48.6M467.6 819.2h86.4M559.4 819.2h48.6M613.4 819.2h86.4M705 819.2h5.2M715.8 819.2h5.2M726.6 819.2h5.2M737.4 819.2h5.2M748.2 819.2h5.2M759 819.2h5.2M769.8 819.2h5.2M824 819.2h5.2M905 819.2h5.2M932 819.2h5.2M122 817.4h37.8M165.2 817.4h102.6M273.2 817.4h27M305.6 817.4h102.6M413.6 817.4h48.6M467.6 817.4h232.2M705 817.4h5.2M715.8 817.4h5.2M726.6 817.4h5.2M737.4 817.4h5.2M748.2 817.4h5.2M759 817.4h5.2M769.8 817.4h5.2M797 817.4h5.2M824 817.4h5.2M851 817.4h5.2M878 817.4h5.2M905 817.4h5.2M932 817.4h5.2M122 815.5h37.8M165.2 815.5h97.2M267.8 815.5h140.4M413.6 815.5h286.2M705 815.5h5.2M715.8 815.5h5.2M726.6 815.5h5.2M737.4 815.5h5.2M748.2 815.5h5.2M759 815.5h5.2M769.8 815.5h5.2M797 815.5h5.2M824 815.5h5.2M851 815.5h5.2M878 815.5h5.2M905 815.5h5.2M932 815.5h5.2M122 813.7h140.4M267.8 813.7h432M705 813.7h5.2M715.8 813.7h5.2M726.6 813.7h5.2M737.4 813.7h5.2M748.2 813.7h5.2M759 813.7h5.2M769.8 813.7h5.2M797 813.7h5.2M824 813.7h5.2M851 813.7h5.2M878 813.7h5.2M905 813.7h5.2M932 813.7h5.2M122 811.9h577.8M705 811.9h5.2M715.8 811.9h5.2M726.6 811.9h5.2M737.4 811.9h5.2M748.2 811.9h5.2M759 811.9h5.2M769.8 811.9h5.2M797 811.9h5.2M824 811.9h5.2M851 811.9h5.2M878 811.9h5.2M905 811.9h5.2M932 811.9h5.2M122 810.1h577.8M705 810.1h5.2M715.8 810.1h5.2M726.6 810.1h5.2M737.4 810.1h5.2M748.2 810.1h5.2M759 810.1h5.2M769.8 810.1h5.2M797 810.1h5.2M824 810.1h5.2M851 810.1h5.2M878 810.1h5.2M905 810.1h5.2M932 810.1h5.2M122 808.3h577.8M705 808.3h5.2M715.8 808.3h5.2M726.6 808.3h5.2M737.4 808.3h5.2M748.2 808.3h5.2M759 808.3h5.2M769.8 808.3h5.2M797 808.3h5.2M824 808.3h5.2M851 808.3h5.2M878 808.3h5.2M905 808.3h5.2M932 808.3h5.2M122 806.5h37.8M165.2 806.5h243M413.6 806.5h286.2M705 806.5h5.2M715.8 806.5h5.2M726.6 806.5h5.2M737.4 806.5h5.2M748.2 806.5h5.2M759 806.5h5.2M769.8 806.5h5.2M797 806.5h5.2M824 806.5h5.2M851 806.5h5.2M878 806.5h5.2M905 806.5h5.2M932 806.5h5.2M122 804.7h37.8M165.2 804.7h102.6M273.2 804.7h27M305.6 804.7h102.6M413.6 804.7h48.6M467.6 804.7h232.2M705 804.7h5.2M715.8 804.7h5.2M726.6 804.7h5.2M737.4 804.7h5.2M748.2 804.7h5.2M759 804.7h5.2M769.8 804.7h5.2M797 804.7h5.2M824 804.7h5.2M851 804.7h5.2M878 804.7h5.2M905 804.7h5.2M932 804.7h5.2M122 802.9h37.8M165.2 802.9h102.6M273.2 802.9h27M305.6 802.9h102.6M413.6 802.9h48.6M467.6 802.9h140.4M613.4 802.9h86.4M705 802.9h5.2M715.8 802.9h5.2M726.6 802.9h5.2M737.4 802.9h5.2M748.2 802.9h5.2M759 802.9h5.2M769.8 802.9h5.2M824 802.9h5.2M851 802.9h5.2M878 802.9h5.2M905 802.9h5.2M932 802.9h5.2M122 801h37.8M165.2 801h102.6M273.2 801h27M305.6 801h102.6M413.6 801h48.6M467.6 801h232.2M705 801h5.2M715.8 801h5.2M726.6 801h5.2M737.4 801h5.2M748.2 801h5.2M759 801h5.2M769.8 801h5.2M824 801h5.2M851 801h5.2M878 801h5.2M905 801h5.2M932 801h5.2M122 799.2h37.8M165.2 799.2h102.6M273.2 799.2h27M305.6 799.2h102.6M413.6 799.2h48.6M467.6 799.2h32.4M505.4 799.2h27M537.8 799.2h70.2M613.4 799.2h86.4M705 799.2h5.2M715.8 799.2h5.2M726.6 799.2h5.2M737.4 799.2h5.2M748.2 799.2h5.2M759 799.2h5.2M769.8 799.2h5.2M851 799.2h5.2M905 799.2h5.2M932 799.2h5.2M122 797.4h37.8M165.2 797.4h97.2M273.2 797.4h27M305.6 797.4h102.6M413.6 797.4h48.6M467.6 797.4h140.4M613.4 797.4h86.4M705 797.4h5.2M715.8 797.4h5.2M726.6 797.4h5.2M737.4 797.4h5.2M748.2 797.4h5.2M759 797.4h5.2M769.8 797.4h5.2M851 797.4h5.2M905 797.4h5.2M932 797.4h5.2M122 795.6h37.8M165.2 795.6h43.2M213.8 795.6h21.6M240.8 795.6h21.6M273.2 795.6h27M305.6 795.6h102.6M413.6 795.6h37.8M456.8 795.6h5.4M467.6 795.6h140.4M613.4 795.6h86.4M705 795.6h5.2M715.8 795.6h5.2M726.6 795.6h5.2M737.4 795.6h5.2M759 795.6h5.2M769.8 795.6h5.2M851 795.6h5.2M905 795.6h5.2M932 795.6h5.2M122 793.8h37.8M165.2 793.8h43.2M219.2 793.8h16.2M240.8 793.8h21.6M273.2 793.8h27M305.6 793.8h43.2M354.2 793.8h16.2M375.8 793.8h27M419 793.8h16.2M440.6 793.8h5.4M456.8 793.8h5.4M473 793.8h27M505.4 793.8h21.6M537.8 793.8h5.4M548.6 793.8h5.4M559.4 793.8h43.2M613.4 793.8h27M645.8 793.8h54M705 793.8h5.2M715.8 793.8h5.2M726.6 793.8h5.2M737.4 793.8h5.2M769.8 793.8h5.2M932 793.8h5.2M122 792h37.8M165.2 792h43.2M219.2 792h16.2M240.8 792h21.6M273.2 792h27M305.6 792h10.8M327.2 792h21.6M354.2 792h16.2M375.8 792h27M419 792h16.2M440.6 792h5.4M456.8 792h5.4M473 792h27M505.4 792h5.4M516.2 792h10.8M537.8 792h5.4M548.6 792h5.4M559.4 792h43.2M613.4 792h27M645.8 792h5.4M662 792h37.8M705 792h5.2M715.8 792h5.2M737.4 792h5.2M122 790.2h37.8M165.2 790.2h43.2M219.2 790.2h16.2M240.8 790.2h21.6M273.2 790.2h27M305.6 790.2h10.8M327.2 790.2h5.4M338 790.2h10.8M354.2 790.2h16.2M375.8 790.2h27M419 790.2h16.2M440.6 790.2h10.8M456.8 790.2h5.4M473 790.2h27M505.4 790.2h5.4M516.2 790.2h10.8M537.8 790.2h5.4M548.6 790.2h5.4M559.4 790.2h48.6M618.8 790.2h21.6M667.4 790.2h32.4M705 790.2h5.2M715.8 790.2h5.2M737.4 790.2h5.2M122 788.4h37.8M165.2 788.4h16.2M186.8 788.4h21.6M219.2 788.4h16.2M240.8 788.4h5.4M251.6 788.4h10.8M273.2 788.4h16.2M294.8 788.4h5.4M305.6 788.4h10.8M327.2 788.4h5.4M338 788.4h10.8M354.2 788.4h16.2M375.8 788.4h27M419 788.4h16.2M440.6 788.4h5.4M456.8 788.4h5.4M473 788.4h16.2M494.6 788.4h5.4M505.4 788.4h5.4M516.2 788.4h10.8M537.8 788.4h5.4M548.6 788.4h5.4M564.8 788.4h10.8M581 788.4h21.6M618.8 788.4h5.4M629.6 788.4h10.8M662 788.4h32.4M705 788.4h5.2M715.8 788.4h5.2M122 786.5h21.6M149 786.5h10.8M165.2 786.5h10.8M181.4 786.5h27M219.2 786.5h16.2M240.8 786.5h21.6M278.6 786.5h21.6M305.6 786.5h10.8M327.2 786.5h5.4M338 786.5h10.8M359.6 786.5h43.2M419 786.5h16.2M440.6 786.5h5.4M456.8 786.5h5.4M473 786.5h27M505.4 786.5h5.4M516.2 786.5h10.8M537.8 786.5h5.4M548.6 786.5h5.4M559.4 786.5h16.2M581 786.5h21.6M618.8 786.5h21.6M662 786.5h21.6M694.4 786.5h5.4M705 786.5h5.2M715.8 786.5h5.2M122 784.7h21.6M149 784.7h5.4M165.2 784.7h10.8M186.8 784.7h21.6M219.2 784.7h16.2M240.8 784.7h21.6M278.6 784.7h21.6M305.6 784.7h10.8M327.2 784.7h5.4M338 784.7h10.8M359.6 784.7h10.8M375.8 784.7h16.2M397.4 784.7h5.4M419 784.7h16.2M440.6 784.7h5.4M456.8 784.7h5.4M473 784.7h27M505.4 784.7h5.4M516.2 784.7h10.8M537.8 784.7h5.4M548.6 784.7h5.4M559.4 784.7h16.2M581 784.7h21.6M618.8 784.7h21.6M662 784.7h16.2M683.6 784.7h10.8M705 784.7h5.2M715.8 784.7h5.2M122 782.9h21.6M149 782.9h5.4M165.2 782.9h10.8M186.8 782.9h21.6M219.2 782.9h16.2M240.8 782.9h21.6M278.6 782.9h21.6M305.6 782.9h10.8M327.2 782.9h5.4M338 782.9h10.8M359.6 782.9h10.8M375.8 782.9h27M419 782.9h16.2M440.6 782.9h5.4M456.8 782.9h5.4M473 782.9h27M505.4 782.9h5.4M516.2 782.9h10.8M537.8 782.9h5.4M548.6 782.9h5.4M559.4 782.9h16.2M581 782.9h21.6M618.8 782.9h21.6M662 782.9h5.4M715.8 782.9h5.2M127.4 781.1h16.2M149 781.1h5.4M165.2 781.1h10.8M186.8 781.1h21.6M219.2 781.1h16.2M240.8 781.1h21.6M278.6 781.1h21.6M305.6 781.1h10.8M327.2 781.1h5.4M338 781.1h10.8M359.6 781.1h10.8M375.8 781.1h16.2M397.4 781.1h5.4M419 781.1h16.2M440.6 781.1h5.4M456.8 781.1h5.4M473 781.1h27M505.4 781.1h5.4M516.2 781.1h10.8M537.8 781.1h5.4M548.6 781.1h5.4M559.4 781.1h16.2M581 781.1h21.6M618.8 781.1h21.6M715.8 781.1h5.2M656.6 779.3h10.8M132.8 777.5h5.4M186.8 777.5h5.4M219.2 777.5h5.4M311 777.5h5.4M359.6 777.5h5.4M386.6 777.5h5.4M397.4 777.5h5.4M424.4 777.5h10.8M440.6 777.5h5.4M451.4 777.5h5.4M494.6 777.5h5.4M505.4 777.5h10.8M575.6 777.5h5.4M629.6 777.5h5.4"/>
</g>
<g shape-rendering="crispEdges">
</g>
<rect x="1016.5" y="85.5" width="36.0" height="737.0" fill="url(#vg)"/>
<g fill="none" stroke="#000" stroke-width="1.1">
<rect x="98.5" y="85.5" width="864.0" height="737.0"/>
<rect x="1016.5" y="85.5" width="36.0" height="737.0"/>
<path d="M179.5 822.5v4.9M287.5 822.5v4.9M395.5 822.5v4.9M503.5 822.5v4.9M611.5 822.5v4.9M719.5 822.5v4.9M827.5 822.5v4.9M935.5 822.5v4.9M98.5 810.5h-4.9M98.5 689.5h-4.9M98.5 569.5h-4.9M98.5 448.5h-4.9M98.5 327.5h-4.9M98.5 206.5h-4.9M98.5 85.5h-4.9M1052.5 822.5h4.9M1052.5 699.5h4.9M1052.5 577.5h4.9M1052.5 454.5h4.9M1052.5 331.5h4.9M1052.5 208.5h4.9M1052.5 85.5h4.9"/>
</g>
<text x="529.5" y="43.8" font-size="27.78" text-anchor="middle" xml:space="preserve" style="white-space:pre">IRF Kiruna Ionosonde KI167 2026-02-21 01:45:00  UT</text>
<text x="528.9" y="76.7" font-size="27.78" text-anchor="middle" >noise_floor=-120.16 (dB) peak SNR=97.00</text>
<text x="178.88" y="847.6" font-size="20.83" text-anchor="middle" letter-spacing="-0.25">2</text>
<text x="286.68" y="847.6" font-size="20.83" text-anchor="middle" letter-spacing="-0.25">4</text>
<text x="394.53" y="847.6" font-size="20.83" text-anchor="middle" letter-spacing="-0.25">6</text>
<text x="502.61" y="847.6" font-size="20.83" text-anchor="middle" letter-spacing="-0.25">8</text>
<text x="610.15" y="847.6" font-size="20.83" text-anchor="middle" letter-spacing="-0.25">10</text>
<text x="718.50" y="847.6" font-size="20.83" text-anchor="middle" letter-spacing="-0.25">12</text>
<text x="826.04" y="847.6" font-size="20.83" text-anchor="middle" letter-spacing="-0.25">14</text>
<text x="934.11" y="847.6" font-size="20.83" text-anchor="middle" letter-spacing="-0.25">16</text>
<text x="87.93" y="818.0" font-size="20.83" text-anchor="end" letter-spacing="-0.25">0</text>
<text x="86.63" y="697.2" font-size="20.83" text-anchor="end" letter-spacing="-0.25">100</text>
<text x="86.63" y="576.4" font-size="20.83" text-anchor="end" letter-spacing="-0.25">200</text>
<text x="86.63" y="455.6" font-size="20.83" text-anchor="end" letter-spacing="-0.25">300</text>
<text x="86.63" y="334.7" font-size="20.83" text-anchor="end" letter-spacing="-0.25">400</text>
<text x="86.63" y="213.9" font-size="20.83" text-anchor="end" letter-spacing="-0.25">500</text>
<text x="86.63" y="93.1" font-size="20.83" text-anchor="end" letter-spacing="-0.25">600</text>
<text x="529.4" y="873.8" font-size="20.83" text-anchor="middle" >Frequency (MHz)</text>
<text transform="translate(37.5,455) rotate(-90)" font-size="20.83" text-anchor="middle">Virtual range (km)</text>
<text x="1062.53" y="830.1" font-size="20.83" text-anchor="start" letter-spacing="-0.25">0</text>
<text x="1062.29" y="707.3" font-size="20.83" text-anchor="start" letter-spacing="-0.25">5</text>
<text x="1061.61" y="584.4" font-size="20.83" text-anchor="start" letter-spacing="-0.25">10</text>
<text x="1061.61" y="461.6" font-size="20.83" text-anchor="start" letter-spacing="-0.25">15</text>
<text x="1062.37" y="338.8" font-size="20.83" text-anchor="start" letter-spacing="-0.25">20</text>
<text x="1062.37" y="215.9" font-size="20.83" text-anchor="start" letter-spacing="-0.25">25</text>
<text x="1062.31" y="93.1" font-size="20.83" text-anchor="start" letter-spacing="-0.25">30</text>
<text transform="translate(1108.5,454) rotate(-90)" font-size="20.83" text-anchor="middle">SNR (dB)</text>
</svg>
</body></html>
